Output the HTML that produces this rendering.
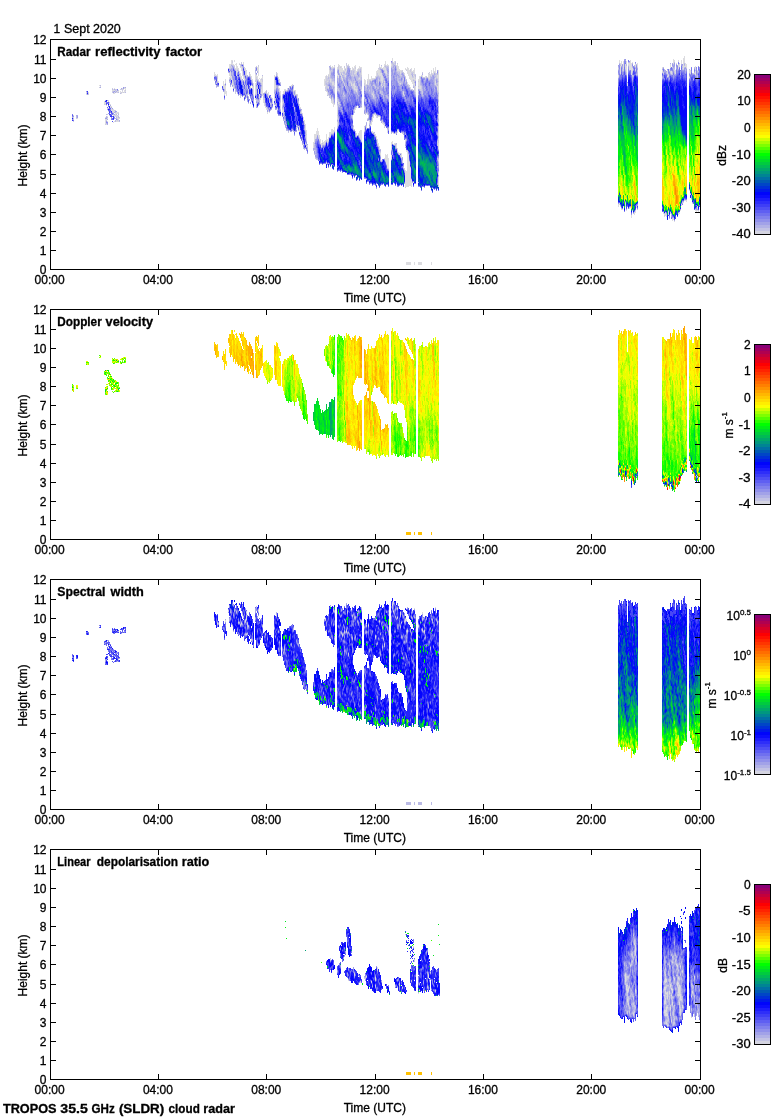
<!DOCTYPE html>
<html><head><meta charset="utf-8"><title>TROPOS cloud radar</title>
<style>
html,body{margin:0;padding:0;background:#fff;}
svg{display:block;font-family:"Liberation Sans", sans-serif;fill:#000;will-change:transform;}
text{stroke:#000;stroke-width:.3px;stroke-linejoin:round;}
</style></head><body>
<svg width="780" height="1120" viewBox="0 0 780 1120" shape-rendering="crispEdges">

<rect width="780" height="1120" fill="#fff"/>
<text x="53.4" y="32.8" text-anchor="start" font-size="12">1</text>
<text x="64.0" y="32.8" text-anchor="start" textLength="25.7" lengthAdjust="spacingAndGlyphs" font-size="12">Sept</text>
<text x="93.0" y="32.8" text-anchor="start" textLength="27.8" lengthAdjust="spacingAndGlyphs" font-size="12">2020</text>
<text x="2.9" y="1112.6" text-anchor="start" font-weight="bold" textLength="53.6" lengthAdjust="spacingAndGlyphs" font-size="12">TROPOS</text>
<text x="60.3" y="1112.6" text-anchor="start" font-weight="bold" textLength="27.5" lengthAdjust="spacingAndGlyphs" font-size="12">35.5</text>
<text x="91.6" y="1112.6" text-anchor="start" font-weight="bold" textLength="23.2" lengthAdjust="spacingAndGlyphs" font-size="12">GHz</text>
<text x="118.9" y="1112.6" text-anchor="start" font-weight="bold" textLength="45.3" lengthAdjust="spacingAndGlyphs" font-size="12">(SLDR)</text>
<text x="168.6" y="1112.6" text-anchor="start" font-weight="bold" textLength="31.2" lengthAdjust="spacingAndGlyphs" font-size="12">cloud</text>
<text x="203.3" y="1112.6" text-anchor="start" font-weight="bold" textLength="31.5" lengthAdjust="spacingAndGlyphs" font-size="12">radar</text>
<g id="p0">
<g transform="translate(.5 0)" fill="none" stroke-width="1">
<path stroke="#dcdce0" d="M73 117v1M77 118v1M86 92v1M86 94v1M88 92v1M99 85v1M100 86v1M104 101v3M105 102v3M105 117v1M105 119v5M106 105v1M106 119v1M106 124v1M107 108v1M107 116v1M107 118v1M107 121v1M108 100v2M108 111v1M109 103v2M110 104v1M110 106v1M111 106v1M111 108v3M112 90v1M112 110v2M113 89v2M113 93v1M113 109v4M113 115v1M113 122v1M114 88v1M114 90v1M114 92v2M114 111v1M114 115v2M114 121v1M115 113v2M115 116v1M116 90v1M116 92v1M116 112v2M116 115v1M116 120v2M117 91v1M117 112v2M117 116v3M117 121v1M118 91v1M118 112v1M118 115v1M118 118v4M119 118v1M120 91v2M121 93v1M122 88v1M122 91v2M123 89v1M124 88v1M124 90v3M125 88v2M125 91v1M214 72v3M215 74v2M216 75v1M217 74v2M217 79v2M218 81v2M223 81v6M224 84v5M224 92v3M225 79v4M225 86v8M226 91v5M229 64v4M229 73v3M229 77v2M230 64v2M230 72v6M231 60v4M231 76v4M232 60v1M232 63v2M232 80v5M233 64v1M233 86v2M234 60v2M234 65v1M235 64v1M235 68v1M236 63v13M237 66v3M237 71v1M238 68v2M239 63v1M239 71v2M240 67v1M240 73v4M241 67v4M241 76v4M242 71v5M243 62v2M243 76v3M244 68v1M244 78v4M244 96v1M245 68v3M246 71v4M248 93v2M249 95v1M250 74v2M250 86v2M251 76v4M251 85v1M252 79v2M252 86v3M253 83v3M253 87v8M255 74v6M255 83v11M255 98v2M256 75v2M256 103v1M257 67v4M257 76v3M258 67v9M258 79v1M258 89v5M259 78v1M259 81v1M259 94v4M260 79v3M260 98v2M261 78v1M261 80v3M261 89v5M262 76v3M262 82v14M263 100v3M264 92v1M264 100v2M264 103v3M265 91v1M265 106v2M266 107v3M267 93v1M267 112v2M268 92v6M268 111v1M269 112v1M271 97v1M272 98v4M274 75v14M274 94v7M275 85v4M277 73v3M277 109v1M278 77v2M278 86v2M279 79v3M279 88v4M280 91v4M280 103v6M282 102v3M282 110v2M283 91v3M283 110v2M284 89v4M285 89v1M286 90v1M287 88v2M291 85v2M292 84v1M293 89v2M294 90v1M295 90v4M297 94v1M297 96v2M299 105v3M299 128v4M300 107v1M301 111v2M302 113v1M303 117v4M303 144v1M304 120v3M305 124v6M306 130v4M306 135v5M306 146v1M307 145v1M313 142v6M314 134v9M315 134v5M316 131v6M317 128v7M318 131v6M319 135v5M320 139v5M321 143v4M322 140v3M323 142v2M324 79v7M324 141v3M325 76v5M325 85v2M325 89v1M325 140v2M326 75v1M326 91v1M326 134v6M326 163v1M327 76v2M327 81v1M327 92v3M327 139v4M328 74v1M328 87v1M328 95v1M328 137v4M329 70v7M329 132v5M330 65v1M330 79v3M330 98v1M330 132v4M331 67v1M331 101v2M331 129v4M332 66v2M332 82v3M332 98v6M332 129v4M333 67v1M333 82v3M333 103v4M333 130v3M334 66v1M334 85v1M334 104v1M334 127v4M337 67v2M337 74v2M337 106v9M337 116v3M337 122v4M338 64v2M338 75v3M338 102v2M339 65v8M340 66v1M340 68v4M340 73v2M341 66v6M341 75v3M342 68v4M342 73v2M342 78v3M343 70v1M344 68v3M345 68v1M345 71v2M345 75v2M346 66v5M347 65v1M348 64v1M350 69v1M351 83v3M352 67v3M353 68v1M353 84v2M353 125v1M353 127v2M354 66v4M354 73v1M354 83v7M354 110v1M355 65v2M355 69v5M355 86v1M355 89v1M355 108v2M356 71v2M356 89v3M356 133v3M356 175v2M357 69v2M358 68v1M358 133v2M359 66v3M359 78v1M359 131v6M360 67v1M360 130v9M361 67v8M361 90v1M361 107v1M361 130v11M364 79v4M364 108v1M364 127v4M365 80v5M366 84v1M366 113v1M366 126v3M367 79v2M367 114v1M367 118v1M368 74v11M368 115v2M369 79v1M369 122v1M370 79v1M370 124v2M371 76v5M371 121v4M371 131v1M372 78v1M372 94v1M372 117v5M372 131v2M373 78v1M373 95v2M373 115v3M373 132v1M374 78v1M374 114v1M374 133v1M375 76v2M375 114v2M375 134v2M376 71v5M376 115v3M376 136v3M376 184v1M377 70v3M377 139v5M378 69v6M378 116v1M378 143v3M379 64v3M379 70v6M379 116v1M379 146v3M380 67v1M380 73v3M380 153v2M381 66v3M381 73v8M381 84v2M381 160v1M382 76v7M382 86v1M382 122v2M383 67v3M383 123v2M384 64v2M384 67v3M384 81v1M384 83v1M384 124v3M384 158v1M385 61v4M385 68v5M385 126v1M385 154v7M386 65v1M386 71v3M386 155v9M387 64v2M387 130v3M387 154v14M388 65v1M388 158v10M391 64v2M391 142v3M391 146v3M391 155v4M392 58v3M392 141v3M393 62v1M393 133v1M393 144v1M394 61v2M394 143v2M395 133v1M395 143v1M396 65v1M396 145v3M397 64v7M397 130v3M397 148v2M398 66v5M398 130v1M398 152v1M399 69v2M399 153v2M400 70v4M400 83v1M401 70v1M401 153v5M403 92v3M404 73v2M405 68v2M405 76v1M405 140v1M405 146v1M405 170v17M406 69v1M406 150v2M406 171v16M406 262v3M407 67v7M407 82v2M407 151v36M407 262v3M408 68v8M408 84v1M408 155v32M408 262v3M409 70v9M409 86v1M409 162v24M409 262v3M410 72v8M410 87v2M410 168v18M410 262v3M411 68v4M411 75v7M411 180v7M412 71v1M412 78v6M413 70v2M413 73v1M413 75v1M413 78v1M413 81v4M413 182v1M414 68v6M414 76v4M414 83v3M414 262v3M415 79v1M415 86v6M418 79v2M418 82v4M418 87v2M418 262v3M419 76v13M419 262v3M420 76v1M420 86v3M420 262v3M421 75v1M421 262v3M422 75v2M425 76v2M428 74v4M429 73v1M429 75v4M430 74v1M431 70v3M431 75v1M431 262v3M432 73v1M432 188v1M433 68v6M434 71v1M435 67v6M435 78v1M435 81v4M437 75v3M437 86v4M438 70v11M438 82v10M438 97v2M438 102v4M438 114v4M438 122v1M438 127v9M438 138v2M438 143v6M438 160v1M438 173v2M438 177v8M438 186v1M618 75v2M618 204v3M619 60v3M619 203v2M620 63v1M620 66v8M620 206v1M621 61v5M621 209v1M622 209v1M623 61v8M623 206v1M625 64v5M625 203v4M626 61v3M626 66v6M626 210v1M627 83v3M628 63v2M629 63v7M629 208v1M630 60v10M630 207v1M631 63v12M631 215v3M632 62v1M632 68v3M634 212v3M635 64v3M635 69v1M635 211v2M636 206v2M637 63v4M662 67v1M662 70v2M663 212v2M664 214v1M664 216v1M665 213v3M666 215v2M667 70v4M667 76v1M668 75v1M668 211v4M669 69v2M670 64v4M670 212v2M671 71v3M672 219v2M673 59v5M673 218v2M674 60v2M674 70v1M674 221v1M675 70v4M676 63v1M678 60v2M678 65v4M678 213v2M679 64v3M679 212v2M680 210v1M681 60v4M681 204v2M683 58v11M683 202v1M684 56v7M684 66v1M684 200v1M685 63v4M685 200v1M686 64v4M686 200v2M689 70v3M689 77v1M689 190v1M690 70v4M690 194v1M691 199v1M692 203v1M695 66v4M695 71v4M695 210v1M696 210v3M697 70v1M697 206v3M697 210v1M698 211v1"/>
<path stroke="#cbcbe2" d="M73 115v1M73 119v1M73 121v1M76 118v1M86 93v1M88 93v2M99 87v1M104 104v1M105 124v1M106 120v1M107 114v1M109 102v1M109 115v1M110 107v1M112 88v1M112 91v2M112 109v1M114 110v1M115 89v1M115 91v1M115 110v1M115 115v1M116 89v1M116 116v1M117 92v1M117 115v1M117 120v1M118 90v1M118 113v1M119 117v1M120 89v1M121 89v1M121 92v1M122 89v2M123 92v1M124 87v1M125 90v1M214 75v1M214 80v1M215 80v1M216 83v1M216 87v1M217 76v3M217 81v1M223 87v1M224 91v1M229 68v1M229 82v1M230 66v3M230 71v1M231 64v1M231 66v2M232 61v2M233 65v1M233 84v2M234 66v3M234 88v1M235 69v1M235 89v1M235 92v2M237 69v1M238 70v1M239 64v1M239 73v1M240 64v3M240 77v1M240 96v2M241 62v2M241 66v1M242 68v3M243 64v1M244 67v1M244 69v1M244 77v1M245 71v4M245 85v1M246 70v1M246 75v1M246 97v1M247 87v2M248 89v4M248 96v1M248 103v1M249 73v3M250 76v1M250 98v1M252 81v1M253 86v1M255 67v3M255 73v1M255 80v2M256 66v1M256 77v2M256 80v3M256 91v4M256 100v1M256 104v1M257 79v1M257 87v2M258 65v2M258 80v1M259 99v2M259 102v1M259 104v1M260 82v1M261 79v1M261 83v2M261 87v2M261 97v1M262 79v3M263 95v1M263 98v2M264 98v2M264 102v1M265 92v1M266 90v1M267 109v1M268 110v1M269 98v1M270 103v1M272 102v2M272 107v1M274 89v1M275 76v1M275 83v2M275 89v1M275 102v1M275 105v1M276 72v2M277 108v1M278 79v1M278 88v1M279 82v1M280 82v1M280 95v1M280 102v1M282 94v1M282 100v2M282 105v1M282 109v1M282 112v1M283 102v1M283 109v1M283 112v2M283 116v1M284 120v1M284 124v1M285 90v1M286 126v1M288 132v1M289 87v2M289 130v1M292 85v1M293 88v1M293 91v1M294 95v1M295 94v1M296 94v1M296 125v1M296 127v1M296 129v1M297 95v1M297 98v1M297 127v1M298 126v1M299 104v1M299 127v1M300 108v1M301 110v1M301 136v1M302 114v1M304 123v2M304 149v1M305 130v1M305 143v1M306 134v1M306 140v1M307 146v1M313 150v1M314 144v1M314 150v1M314 154v1M315 158v1M316 137v1M316 159v1M318 137v1M319 140v1M322 144v1M323 144v1M324 144v1M325 81v4M325 87v2M325 90v1M325 142v1M326 76v7M326 85v6M326 140v1M327 78v3M327 82v2M327 86v2M327 91v1M328 75v2M328 79v3M328 86v1M328 88v1M329 68v2M329 77v3M329 96v1M330 66v1M330 71v4M330 78v1M330 82v1M330 95v3M330 136v1M331 68v1M331 70v1M331 79v4M331 100v1M331 133v1M332 68v1M332 81v1M332 85v1M332 97v1M332 133v1M333 81v1M333 85v1M333 100v3M334 65v1M334 67v1M334 83v2M334 86v1M334 88v4M337 69v1M337 73v1M337 88v1M337 99v3M337 105v1M337 115v1M337 119v1M337 126v2M338 66v3M338 89v2M338 101v1M338 119v1M339 102v1M339 104v1M340 67v1M340 72v1M340 75v1M341 72v1M341 78v1M342 72v1M343 71v1M343 74v1M343 81v2M343 93v2M344 66v2M344 71v1M344 74v3M344 83v3M344 95v1M345 70v1M345 73v1M345 77v1M345 86v1M346 63v3M346 71v1M348 65v1M349 66v2M349 82v1M350 68v1M350 70v3M350 81v2M351 70v1M351 75v1M351 82v1M352 70v6M352 84v4M352 115v3M353 69v2M353 75v2M353 83v1M353 86v3M353 129v1M354 70v3M354 74v1M354 81v2M354 90v1M354 109v1M354 111v1M354 129v1M355 67v2M355 74v2M355 87v2M355 90v1M355 132v1M356 73v3M356 87v2M356 106v2M357 71v1M357 89v1M358 69v2M358 78v2M359 69v5M359 77v1M359 79v1M360 68v1M360 73v7M360 107v1M361 75v2M361 89v1M364 83v3M364 107v1M364 109v1M364 126v1M365 85v2M365 113v2M365 125v1M366 86v2M367 81v4M367 113v1M368 117v1M368 120v1M369 80v3M369 90v1M369 120v2M369 123v1M370 80v1M372 79v1M372 93v1M373 79v1M373 85v1M373 91v4M373 97v1M373 114v1M374 85v1M374 134v1M375 78v1M375 86v2M376 76v1M377 73v3M377 116v2M378 68v1M378 75v1M378 79v4M378 146v1M379 67v3M379 76v1M379 149v1M380 70v3M380 76v5M380 91v2M380 152v1M380 155v1M381 81v3M382 68v1M382 75v1M382 94v1M383 78v2M383 85v1M384 66v1M384 70v3M384 82v1M384 84v4M384 127v1M385 65v1M385 67v1M385 73v1M386 66v1M386 70v1M386 74v2M387 129v1M388 66v1M388 168v1M391 63v1M391 66v1M391 145v1M391 149v1M392 61v1M392 64v3M392 132v1M393 63v1M394 63v2M395 61v1M395 64v1M396 66v2M396 144v1M397 63v1M397 71v1M397 150v2M398 71v2M398 81v2M398 153v1M399 71v1M399 83v1M400 74v2M400 84v1M400 153v1M400 155v1M401 71v2M401 75v1M402 70v2M402 133v1M402 161v1M403 72v1M403 78v2M403 91v1M403 133v1M403 167v1M404 95v1M404 168v2M405 77v3M405 81v1M405 139v1M405 141v1M405 187v1M406 70v1M406 79v1M407 84v1M408 85v1M408 154v1M409 85v1M410 69v3M410 89v1M411 72v2M411 89v1M412 72v1M412 77v1M412 89v1M413 72v1M413 74v1M413 76v2M413 79v1M413 85v1M414 74v2M414 80v2M414 86v5M415 74v1M415 77v2M415 80v1M415 92v2M418 81v1M418 86v1M420 79v1M420 85v1M420 89v2M421 86v5M422 72v1M422 77v1M422 91v3M423 77v1M424 77v1M425 78v1M426 76v1M427 77v1M428 73v1M428 78v1M429 72v1M429 74v1M429 79v1M430 75v1M431 73v2M431 76v1M432 74v1M433 74v1M434 72v1M435 73v1M435 75v1M435 77v1M435 79v2M436 73v5M436 85v1M437 78v1M437 83v1M437 90v1M437 141v5M438 81v1M438 92v1M438 94v3M438 99v1M438 118v1M438 121v1M438 123v1M438 126v1M438 136v2M438 140v3M438 159v1M438 161v1M438 172v1M438 185v1M618 68v1M618 77v1M620 64v1M623 69v2M625 69v1M626 72v2M628 65v1M629 207v1M632 71v1M632 75v1M635 70v1M635 210v1M637 67v1M637 70v2M637 209v1M662 68v1M662 72v1M663 72v2M664 215v1M665 212v1M666 214v1M668 74v1M668 76v1M670 71v2M672 67v1M672 218v1M674 69v1M674 71v2M682 66v1M682 68v1M682 202v1M683 69v1M693 73v1M694 73v1M695 209v1M697 76v1M698 210v1"/>
<path stroke="#bbbbe5" d="M73 118v1M76 116v2M100 85v1M105 100v1M106 114v1M106 116v1M106 123v1M107 117v1M112 89v1M112 112v1M113 91v1M113 114v1M115 90v1M115 112v1M115 118v1M115 120v2M116 114v1M116 117v2M117 119v1M118 92v1M118 114v1M118 116v2M119 121v1M120 93v1M125 92v1M214 76v1M215 84v1M216 85v1M217 86v1M218 86v1M223 88v1M224 89v2M224 99v1M225 83v1M225 85v1M228 68v1M228 72v1M229 70v1M229 79v1M229 81v1M230 78v1M230 82v1M230 86v1M231 84v1M232 65v1M232 72v3M232 79v1M232 86v1M233 66v1M233 82v2M234 86v2M235 70v1M235 90v2M236 91v1M237 70v1M237 72v1M237 76v1M237 93v1M238 95v1M239 75v1M239 93v1M240 78v1M240 95v1M241 80v1M241 95v1M242 64v1M242 67v1M242 80v1M242 83v1M243 65v1M243 75v1M243 80v1M243 85v1M244 70v1M244 76v1M244 82v2M244 95v1M246 76v1M246 95v2M247 75v1M247 86v1M247 94v1M247 101v1M248 76v1M249 72v1M249 85v1M249 100v1M250 88v1M252 82v1M253 95v1M253 101v1M255 71v2M255 94v1M256 79v1M256 83v2M256 87v4M256 99v1M256 105v2M257 85v2M257 100v2M257 107v1M258 81v1M258 101v1M259 98v1M259 101v1M261 86v1M262 75v1M263 93v1M263 96v2M265 105v1M266 91v3M267 108v1M269 99v3M270 104v1M270 110v1M271 109v1M274 90v2M274 93v1M274 104v1M275 82v1M275 90v1M275 101v1M276 74v2M276 86v2M276 109v1M279 92v1M280 83v1M280 96v6M280 109v1M282 95v1M282 99v1M282 106v1M282 108v1M283 101v1M283 108v1M283 114v1M283 120v1M284 93v1M284 119v1M285 123v1M285 127v1M286 130v1M287 90v1M287 130v1M288 131v1M289 86v1M291 87v1M292 130v1M293 86v2M293 92v2M293 131v1M294 107v2M294 135v1M296 128v1M298 101v3M298 130v1M299 135v1M300 112v1M301 113v1M302 140v1M302 144v1M303 147v2M305 131v1M305 134v1M305 136v1M305 144v1M306 144v1M307 147v2M314 143v1M314 145v3M315 150v3M315 154v1M315 157v1M316 138v1M316 158v1M317 159v1M318 138v1M322 143v1M326 83v2M326 162v1M327 84v2M327 88v1M327 95v1M328 77v2M328 82v2M328 93v2M328 141v1M329 67v1M329 80v3M329 95v1M329 97v1M329 137v1M330 70v1M330 75v3M330 83v2M331 69v1M331 71v1M331 78v1M331 83v3M331 99v1M332 69v3M332 79v2M332 86v3M333 68v1M333 78v3M333 86v1M333 89v2M333 99v1M333 133v1M334 81v2M334 87v1M334 92v1M334 103v1M334 131v1M337 70v1M337 76v2M337 86v2M337 89v2M337 97v2M337 103v2M337 121v1M338 69v1M338 78v4M338 88v1M338 99v2M338 104v2M338 118v1M338 120v2M338 123v2M339 73v1M339 90v2M339 103v1M339 106v1M340 104v1M341 73v1M341 79v1M342 76v2M342 86v2M343 72v2M343 75v2M343 92v1M343 96v1M344 72v2M344 77v2M344 96v1M345 69v1M345 74v1M345 78v2M345 87v1M346 72v1M346 75v1M346 85v1M347 66v2M347 91v1M348 66v1M348 79v2M349 80v2M349 83v3M350 73v2M350 80v1M350 83v1M351 71v4M351 76v1M351 81v1M351 115v1M352 76v8M352 88v1M352 118v1M353 71v4M353 77v3M353 81v2M353 89v1M353 114v1M353 126v1M354 75v1M354 79v2M354 91v2M354 112v1M355 76v1M355 81v1M355 85v1M355 91v1M355 107v1M355 131v1M356 76v4M356 86v1M356 92v1M356 136v1M357 75v6M357 86v3M357 90v5M357 135v1M358 71v1M358 77v1M358 80v3M358 95v1M359 74v3M359 80v2M359 84v2M359 137v1M360 69v2M360 72v1M360 80v1M360 86v3M360 139v1M361 77v3M361 87v2M361 99v2M361 105v1M361 141v1M364 97v2M364 106v1M364 131v1M365 87v4M365 99v3M365 111v2M366 85v1M366 88v2M366 122v1M366 125v1M367 112v1M367 119v1M368 85v1M368 88v1M369 83v4M369 89v1M369 91v1M369 124v1M369 126v1M370 84v2M370 123v1M371 81v1M371 86v9M372 92v1M372 95v1M373 82v1M373 84v1M373 98v1M374 84v1M374 86v1M374 94v5M374 132v1M375 88v1M375 97v1M375 113v1M375 136v1M376 82v1M376 89v1M376 139v1M377 76v1M377 87v2M377 144v1M378 76v3M378 83v2M378 87v2M379 77v1M379 80v1M379 152v1M380 68v1M380 81v1M380 90v1M380 93v1M380 117v1M380 149v1M380 151v1M381 65v1M381 72v1M381 86v2M381 91v4M381 121v1M381 161v1M382 83v2M382 87v1M382 91v3M382 120v2M383 77v1M383 80v2M383 83v2M383 95v3M384 80v1M384 88v1M385 66v1M385 74v1M385 86v1M385 161v1M386 67v3M386 76v2M386 95v2M386 164v1M387 66v2M387 73v2M387 76v2M387 96v2M387 168v1M388 67v2M388 74v1M388 76v1M388 128v1M391 67v1M391 133v1M392 62v2M392 67v2M393 64v2M393 68v1M393 71v2M394 66v2M395 62v2M395 65v1M395 77v1M395 144v2M396 68v1M396 70v2M396 143v1M397 72v2M397 76v5M398 73v2M398 78v3M399 72v4M399 78v1M399 81v2M399 84v2M400 76v3M400 81v2M400 156v1M401 73v1M401 76v1M401 82v2M401 132v1M402 72v1M402 80v4M402 160v1M402 162v1M403 73v1M403 80v1M403 95v1M403 134v1M404 75v1M404 170v1M405 80v1M405 82v1M405 142v2M406 80v1M408 86v1M409 87v1M409 161v1M410 167v1M411 74v1M411 179v1M412 73v2M412 76v1M412 90v1M413 80v1M413 86v1M414 82v1M414 91v1M415 75v2M415 94v1M418 91v1M418 94v1M419 89v1M420 77v2M420 80v5M421 76v1M421 85v1M421 91v3M422 73v1M422 89v2M422 94v2M424 80v1M424 88v1M425 79v1M426 77v1M428 79v1M430 76v3M434 75v2M434 78v7M434 88v1M435 74v1M435 76v1M435 85v1M436 78v1M436 83v2M436 86v1M437 74v1M437 79v2M437 82v1M437 84v2M437 91v2M437 158v1M438 93v1M438 100v2M438 108v3M438 119v2M438 149v1M438 158v1M438 162v1M438 176v1M618 67v1M618 69v1M619 63v1M620 65v1M621 208v1M622 69v2M625 70v1M625 202v1M626 64v2M626 74v1M628 62v1M629 62v1M632 63v1M632 67v1M632 72v1M632 76v1M632 210v1M633 213v1M634 65v1M635 67v1M636 64v1M636 74v1M637 72v3M663 67v1M664 69v1M666 72v2M667 74v2M669 218v1M670 73v1M671 74v1M671 214v1M672 66v1M672 72v3M673 64v1M673 68v2M674 62v1M674 67v2M674 73v1M678 64v1M679 63v1M682 67v1M682 69v1M684 63v1M684 65v1M684 67v1M685 69v2M686 68v1M689 69v1M689 76v1M692 73v1M693 79v1M694 67v1M695 70v1M695 75v1M697 71v2M697 75v1M697 77v1M698 71v1"/>
<path stroke="#aaaae7" d="M72 117v1M76 115v1M77 115v1M100 87v1M106 117v1M107 109v1M107 119v1M107 124v1M108 108v1M110 105v1M111 107v1M114 89v1M114 112v1M114 114v1M114 118v1M115 92v1M116 91v1M116 111v1M119 120v1M121 88v1M125 87v1M216 76v1M216 82v1M216 86v1M217 82v1M223 91v1M224 95v1M229 69v1M229 72v1M230 69v1M230 80v1M230 85v1M231 65v1M231 68v1M231 73v3M232 67v5M232 75v1M232 78v1M233 75v2M233 81v1M233 88v1M233 91v1M234 69v1M234 85v1M237 77v1M239 76v1M239 94v1M241 64v1M241 81v1M242 66v1M242 79v1M242 81v2M242 84v1M243 66v1M244 75v1M244 84v1M244 89v1M244 100v1M245 75v1M245 79v1M245 86v3M245 92v2M245 98v1M246 77v1M247 76v1M247 85v1M247 95v1M247 100v1M248 97v2M249 94v1M250 77v1M250 102v2M251 101v1M252 104v1M253 100v1M253 107v1M255 70v1M256 67v1M256 74v1M256 86v1M256 101v1M256 107v1M257 71v2M257 80v1M257 99v1M257 102v1M258 100v1M258 105v1M259 103v1M261 85v1M261 96v1M263 94v1M265 103v2M267 94v2M268 109v1M269 102v1M269 108v1M270 96v1M270 106v1M271 98v1M271 103v2M274 92v1M274 103v1M275 80v2M275 91v2M275 98v3M275 104v1M275 109v1M276 85v1M276 104v2M277 76v1M277 86v2M277 113v1M278 89v2M278 115v1M279 93v2M279 115v1M280 84v1M280 110v1M282 96v3M282 107v1M282 116v1M283 103v1M283 107v1M283 115v1M283 119v1M284 115v1M284 117v2M284 123v1M285 122v1M285 126v1M286 91v1M286 124v1M286 129v1M291 131v1M292 129v1M293 85v1M293 94v1M294 91v1M294 94v1M294 109v1M294 131v1M295 131v1M296 95v1M296 131v1M297 99v1M297 126v1M299 108v1M300 113v1M301 109v1M302 115v1M302 139v1M302 143v1M304 128v2M304 148v1M305 132v2M305 135v1M305 137v1M305 142v1M305 148v1M306 141v1M306 145v1M306 150v1M307 144v1M307 149v1M307 153v1M313 148v2M314 148v2M314 153v1M315 139v2M315 146v4M315 153v1M316 154v1M317 135v1M317 158v1M319 141v1M321 147v1M322 145v1M324 145v1M325 143v1M326 141v1M327 90v1M327 143v1M328 84v1M328 89v1M328 92v1M328 163v1M329 66v1M329 83v1M329 91v4M330 67v1M330 69v1M330 85v1M331 72v1M331 75v3M331 86v1M331 94v1M331 98v1M332 72v1M332 76v3M332 96v1M333 76v2M333 87v2M333 91v1M333 98v1M334 68v1M334 74v1M334 78v3M334 93v1M334 102v1M337 71v2M337 78v3M337 83v3M337 102v1M337 120v1M338 82v1M338 86v2M338 91v1M338 106v1M338 117v1M338 122v1M338 125v1M339 74v2M339 88v2M339 92v1M339 105v1M340 77v3M340 81v2M340 105v1M341 74v1M341 80v1M341 84v10M341 107v1M341 110v1M342 75v1M342 81v5M342 88v2M342 95v2M342 112v1M343 77v4M343 83v1M343 86v1M343 91v1M343 95v1M343 97v2M343 102v1M344 79v1M344 82v1M344 92v3M344 97v2M344 100v2M345 80v6M345 88v1M345 95v2M346 73v2M346 76v2M346 83v2M346 86v4M347 68v2M347 73v2M347 86v5M347 92v2M347 99v1M348 67v1M348 77v2M348 81v5M348 89v3M349 68v1M349 76v1M349 78v2M349 86v1M349 92v2M350 75v1M350 79v1M350 84v3M350 89v1M351 77v4M351 86v2M351 116v1M353 80v1M353 90v1M353 110v1M353 113v1M354 76v1M354 78v1M354 93v1M354 108v1M355 77v1M355 82v3M355 92v2M355 133v1M356 80v1M356 83v3M356 93v1M356 95v4M357 72v1M357 105v1M358 72v3M358 76v1M358 83v3M358 96v1M358 106v1M358 135v1M359 82v2M359 86v1M360 71v1M360 81v5M360 106v1M361 80v1M361 86v1M361 91v3M361 98v1M361 101v4M361 106v1M364 110v1M364 113v1M365 107v4M366 90v2M366 123v2M366 179v1M367 85v2M367 89v2M367 111v1M367 120v1M368 86v2M368 89v4M368 114v1M368 118v1M369 87v2M369 92v2M369 100v2M369 127v1M370 81v3M370 86v8M370 122v1M371 82v1M371 95v2M371 120v1M372 80v1M372 85v1M372 89v3M372 96v3M372 116v1M373 83v1M373 90v1M374 79v1M374 83v1M374 87v2M374 99v1M374 113v1M375 85v1M375 96v1M375 98v3M376 77v1M376 80v2M376 83v1M376 86v2M376 90v4M376 183v1M376 188v1M377 77v10M377 89v1M377 91v1M377 94v1M377 145v1M378 85v2M378 95v3M378 115v1M379 78v2M379 86v1M379 90v1M379 115v1M379 151v1M379 153v1M380 69v1M380 82v1M380 85v5M380 150v1M380 156v1M380 159v2M381 71v1M381 88v3M381 122v1M382 69v1M382 73v2M382 85v1M382 88v1M383 70v1M383 76v1M383 82v1M383 94v1M383 98v1M383 122v1M384 78v2M384 89v2M384 123v1M385 75v1M385 83v3M385 87v1M385 89v2M385 95v1M386 97v1M387 68v2M387 71v2M387 75v1M387 78v3M387 95v1M387 98v1M387 128v1M388 69v2M388 72v2M388 75v1M388 77v3M388 97v2M388 129v1M391 62v1M391 72v3M391 76v4M391 132v1M391 159v1M392 69v1M392 75v5M392 82v1M392 84v1M392 152v3M393 66v2M393 69v2M393 73v2M393 132v1M394 65v1M394 68v4M394 75v1M394 133v1M395 75v2M395 78v2M395 132v1M395 146v2M396 69v1M396 72v3M396 77v1M396 133v1M396 148v1M397 75v1M397 81v1M397 152v1M398 76v2M398 83v2M398 129v1M399 76v2M399 79v2M400 79v2M400 85v4M401 74v1M401 77v1M401 81v1M401 84v1M401 86v1M401 89v2M401 158v1M402 75v5M402 84v2M402 91v3M402 132v1M402 157v1M403 74v1M403 76v2M403 81v1M403 96v1M403 132v1M403 166v1M403 168v1M404 76v1M404 94v1M404 96v1M405 83v1M405 134v1M405 144v1M405 147v1M406 81v1M406 84v2M407 85v3M407 150v1M408 87v1M412 75v1M412 182v1M413 87v1M413 90v1M414 92v2M415 95v1M418 89v1M418 92v2M419 90v1M421 83v2M421 94v1M422 74v1M422 86v3M422 96v1M423 95v1M424 81v2M424 87v1M424 89v2M425 80v1M425 89v1M428 80v1M429 80v1M430 79v1M431 77v2M431 84v1M432 75v5M433 75v1M433 79v3M434 73v2M434 77v1M434 85v3M434 89v3M436 79v1M437 70v1M437 73v1M437 81v1M437 93v1M437 114v1M437 133v2M437 140v1M437 159v1M437 166v1M438 106v2M438 111v1M438 113v1M438 124v1M438 163v1M438 166v1M438 171v1M618 66v1M618 74v1M620 74v1M620 205v1M621 66v1M622 64v1M622 66v3M622 71v1M623 71v1M624 59v1M625 60v1M625 71v1M626 209v1M628 66v1M629 70v1M632 66v1M632 77v3M633 69v1M633 75v2M634 66v1M635 63v1M635 68v1M637 68v2M637 205v1M662 69v1M662 77v1M663 74v1M664 70v2M664 213v1M665 70v2M666 71v1M666 213v1M667 77v1M669 71v1M669 78v1M670 63v1M671 215v2M672 63v1M672 71v1M673 65v1M673 67v1M673 70v1M673 217v1M674 66v1M674 74v1M674 220v1M675 74v1M676 64v1M676 67v2M677 65v1M678 69v1M680 74v1M681 64v1M682 65v1M682 201v1M682 203v1M683 201v1M684 64v1M684 199v1M685 67v1M685 71v2M689 73v1M689 78v1M691 196v3M692 202v1M694 68v1M694 72v1M696 75v2M696 209v1M697 73v2M697 209v1"/>
<path stroke="#9a9ae9" d="M73 116v1M77 116v2M86 91v1M87 94v1M105 118v1M106 118v1M106 121v1M107 100v1M107 123v1M108 113v1M112 108v1M113 92v1M113 113v1M114 91v1M115 111v1M117 90v1M123 87v2M214 79v1M215 83v1M222 89v1M229 80v1M230 70v1M230 79v1M230 81v1M231 69v2M231 72v1M232 66v1M232 76v2M232 85v1M233 67v1M233 71v4M233 77v2M233 80v1M234 76v6M235 80v2M235 88v1M236 90v1M237 73v1M237 78v2M237 92v1M238 71v1M239 74v1M239 92v1M240 79v1M240 94v1M241 65v1M242 96v1M243 67v1M243 73v2M243 86v3M243 95v1M244 90v2M245 90v2M245 94v1M246 78v1M246 81v4M246 86v2M246 89v1M246 94v1M249 76v1M250 78v1M251 80v2M251 96v2M252 83v1M252 89v1M253 96v1M253 99v1M253 102v1M256 70v1M256 95v3M256 102v1M259 82v1M260 83v2M260 87v2M260 92v2M260 95v1M261 94v2M264 93v1M264 97v1M266 94v1M267 107v1M267 110v2M269 95v1M269 111v1M270 97v1M270 102v1M270 105v1M271 105v2M275 93v1M275 108v1M276 88v1M276 103v1M277 85v1M277 88v4M277 107v1M277 110v1M278 80v2M278 91v1M279 85v1M279 95v1M279 102v1M279 105v1M280 111v1M283 100v1M283 104v1M284 112v1M284 116v1M285 120v2M285 124v2M286 125v1M287 129v1M288 89v2M288 130v1M289 89v1M290 86v1M290 131v1M293 130v1M294 92v2M294 96v1M296 126v1M297 100v1M298 98v1M298 100v1M298 104v1M299 126v1M300 109v1M300 111v1M300 138v1M301 135v1M301 140v1M303 143v1M303 145v2M304 126v2M306 143v1M306 147v1M314 151v2M315 141v1M315 144v2M315 155v2M316 139v2M316 148v6M316 155v3M317 136v4M319 142v1M319 160v1M320 144v1M322 146v1M323 145v1M323 148v1M325 144v1M327 89v1M327 144v1M327 164v1M328 85v1M328 90v1M328 167v1M329 84v1M329 86v1M329 89v2M330 68v1M330 87v2M330 91v1M330 137v1M331 73v2M331 87v2M331 97v1M331 134v1M332 73v3M332 95v1M332 134v1M332 164v1M333 69v3M333 75v1M333 92v1M333 97v1M333 134v1M334 69v5M334 76v2M334 99v3M337 81v2M337 91v1M337 95v2M337 128v1M338 70v5M338 83v1M338 92v1M338 98v1M338 107v3M338 115v2M339 76v7M339 93v1M339 100v2M339 107v1M340 76v1M340 80v1M340 83v3M340 87v10M340 102v1M340 107v3M341 81v1M341 83v1M341 94v1M341 96v3M341 108v2M341 111v1M341 170v1M342 90v5M342 97v3M342 110v2M342 113v1M342 172v1M343 84v1M343 87v1M343 89v2M343 99v3M343 103v1M344 80v2M344 91v1M344 99v1M344 104v2M345 94v1M345 97v2M346 78v5M346 90v1M346 94v4M347 70v3M347 75v6M347 94v5M347 100v1M348 68v5M348 74v1M348 76v1M348 87v2M348 92v1M348 95v1M349 69v1M349 72v4M349 77v1M349 87v2M349 91v1M349 94v1M349 97v2M350 76v3M350 87v2M350 90v2M350 95v1M350 99v2M350 174v1M351 88v1M351 94v1M351 117v1M351 175v1M352 89v1M352 119v1M352 178v1M353 91v2M353 111v2M354 77v1M354 107v1M354 130v1M355 78v1M355 80v1M355 94v2M355 106v1M355 134v2M356 81v1M356 94v1M356 99v1M357 73v2M357 81v2M357 95v4M358 75v1M358 89v6M358 97v4M358 107v1M359 87v2M359 91v1M359 95v1M360 89v2M360 104v2M361 81v5M361 97v1M364 86v5M364 94v1M364 99v2M364 105v1M364 111v2M365 91v2M365 126v1M366 92v1M366 102v1M366 112v1M367 87v2M367 91v2M367 109v2M368 93v1M368 98v2M368 112v2M368 119v1M368 181v1M369 94v2M369 99v1M369 125v1M369 184v1M370 94v3M370 183v1M371 83v3M371 97v2M371 183v1M372 82v3M372 86v3M372 133v1M373 80v2M373 86v2M373 89v1M373 99v1M373 133v1M373 184v1M374 82v1M374 91v3M374 100v1M374 184v1M375 79v1M375 84v1M375 89v2M375 94v2M375 101v3M375 185v1M376 78v2M376 84v2M376 88v1M376 94v1M376 97v1M377 90v1M377 92v2M377 95v2M377 99v2M377 115v1M378 89v2M378 94v1M378 98v1M379 81v1M379 87v3M379 91v3M379 150v1M380 84v1M380 116v1M380 118v1M380 120v1M381 69v2M381 95v2M381 120v1M381 184v1M382 89v2M382 95v1M383 72v3M383 86v1M383 92v2M383 99v2M384 73v1M384 75v1M384 93v3M384 97v4M384 159v1M385 81v2M385 88v1M385 91v3M385 96v2M386 83v4M386 92v3M386 98v1M387 70v1M387 86v1M387 94v1M388 71v1M388 80v1M388 94v1M388 96v1M388 99v1M388 169v1M391 68v4M391 75v1M391 80v1M391 86v2M391 150v1M392 70v5M392 80v2M392 83v1M392 85v1M392 91v3M393 75v1M393 78v7M393 86v1M394 72v1M394 76v3M394 81v5M394 90v3M394 145v1M395 66v1M395 71v4M395 80v11M395 148v1M396 75v2M396 78v3M396 87v2M396 132v1M396 183v1M397 74v1M397 82v1M397 129v1M397 186v1M398 75v1M398 85v1M398 186v1M399 86v3M400 89v2M401 80v1M401 87v2M401 159v1M402 73v2M402 94v3M402 158v2M403 75v1M403 82v1M403 86v1M403 89v2M403 165v1M404 82v2M404 91v2M404 97v2M404 171v1M404 183v1M405 84v2M405 92v1M405 97v4M405 133v1M405 145v1M406 82v2M406 139v2M407 88v1M408 153v1M409 88v2M410 90v1M412 99v2M414 94v1M415 81v1M415 83v3M415 96v1M418 90v1M418 182v1M420 91v3M421 82v1M421 95v1M422 78v1M422 84v2M423 78v1M423 80v1M423 86v7M423 96v1M424 78v2M424 83v1M424 85v2M424 187v1M425 81v1M425 87v1M425 90v1M425 93v2M426 78v1M426 91v2M427 83v3M428 86v5M430 80v2M430 84v2M430 89v5M431 79v5M431 85v2M432 80v3M432 84v5M433 76v3M433 82v6M433 92v3M434 92v1M434 95v1M435 86v1M435 89v3M436 80v3M436 87v1M437 71v1M437 94v1M437 120v1M437 157v1M437 160v1M437 167v1M437 183v2M438 112v1M438 125v1M438 157v1M438 164v2M438 167v1M438 175v1M618 65v1M618 70v1M618 73v1M618 78v1M618 203v1M619 64v2M619 69v4M622 65v1M622 72v3M624 60v1M625 59v1M625 72v1M627 82v1M628 67v2M629 61v1M630 206v1M631 214v1M632 64v1M632 73v1M632 80v1M635 71v1M636 65v1M636 73v1M636 75v1M636 205v1M637 75v1M637 204v1M662 76v1M662 78v1M663 68v1M663 71v1M663 76v2M664 72v1M665 72v1M667 69v1M668 73v1M668 77v1M669 79v1M670 70v1M670 74v1M671 70v1M672 64v2M672 68v1M672 217v1M673 66v1M673 71v1M673 75v3M674 63v3M675 75v1M676 66v1M677 69v2M680 71v3M680 209v1M681 65v1M682 64v1M682 70v1M683 70v1M684 68v2M685 68v1M685 73v1M686 69v2M689 75v1M690 74v1M690 193v1M692 74v1M693 74v1M693 78v1M694 74v1M695 76v1M696 74v1M696 77v1M696 208v1M698 66v1M698 72v1M699 67v2"/>
<path stroke="#8989ec" d="M72 116v1M72 119v1M106 122v1M107 122v1M110 109v1M110 112v1M111 114v1M111 117v2M114 117v1M116 119v1M215 76v1M215 79v1M217 85v1M218 85v1M224 98v1M225 84v1M228 71v1M230 83v2M231 83v1M233 79v1M234 82v3M235 82v2M235 85v1M236 88v2M237 74v1M238 80v1M238 94v1M239 91v1M241 82v1M241 94v1M243 71v2M243 89v4M244 92v1M245 78v1M245 80v1M245 84v1M245 89v1M245 97v1M246 79v2M246 88v1M247 77v1M247 89v1M247 93v1M247 98v2M248 99v1M248 102v1M249 87v2M249 99v1M250 79v1M250 97v1M251 82v1M251 100v1M252 85v1M252 90v4M252 98v3M253 97v1M255 95v1M256 73v1M256 85v1M257 103v1M258 82v1M258 84v1M258 97v1M258 99v1M259 85v3M260 86v1M260 89v3M264 94v1M264 96v1M265 93v1M267 96v1M268 108v1M270 109v1M271 108v1M272 106v1M275 103v1M276 76v1M276 89v1M276 106v1M276 108v1M277 77v1M277 92v1M277 112v1M278 85v1M279 101v1M279 104v1M280 85v1M280 115v1M283 105v1M284 94v1M284 113v2M284 122v1M285 119v1M286 127v2M288 88v1M290 89v1M291 88v1M291 90v1M291 129v1M292 90v1M293 104v3M294 110v1M294 134v1M295 95v1M296 96v1M296 130v1M297 101v1M297 125v1M298 99v1M300 130v2M300 134v1M302 138v1M302 142v1M303 142v1M304 125v1M305 138v1M306 142v1M306 149v1M307 152v1M315 142v1M316 141v2M317 140v1M317 153v5M319 143v1M319 164v1M320 163v1M321 163v1M322 164v1M324 146v1M324 163v1M325 163v1M328 91v1M328 142v1M329 85v1M329 87v2M329 164v1M330 86v1M330 89v1M330 92v3M330 166v1M331 89v1M331 95v2M332 89v1M333 72v3M333 93v1M333 95v2M334 75v1M334 94v1M334 98v1M337 92v1M337 94v1M337 171v1M338 93v1M338 97v1M338 170v1M339 83v3M339 87v1M339 94v1M339 99v1M339 108v2M339 170v1M340 86v1M340 97v2M340 101v1M340 103v1M340 106v1M340 171v1M341 82v1M341 95v1M341 99v2M342 100v1M343 85v1M343 88v1M343 104v2M344 102v2M345 93v1M345 99v5M345 107v2M346 93v1M346 98v1M347 81v1M347 101v1M348 73v1M348 75v1M348 86v1M348 93v2M348 96v1M349 70v2M349 89v2M349 99v2M349 174v1M350 92v3M350 96v1M350 101v1M351 89v1M351 93v1M351 102v3M351 126v2M352 90v1M352 94v3M352 124v1M352 126v2M353 93v1M353 109v1M353 130v1M353 175v1M354 94v1M354 177v1M355 79v1M355 96v1M355 136v1M356 82v1M356 100v1M357 83v3M357 179v1M358 86v3M358 101v1M359 92v3M359 96v1M359 102v2M359 105v1M360 94v1M360 97v4M360 103v1M364 92v1M364 95v2M364 101v1M364 178v1M365 93v1M365 102v2M365 106v1M365 178v1M366 93v1M366 99v2M366 103v1M366 129v1M367 93v1M367 95v2M367 104v3M367 181v1M368 94v1M368 97v1M368 100v2M368 104v2M368 109v1M369 96v1M369 102v1M369 114v1M369 119v1M370 97v2M370 120v2M371 99v1M371 119v1M372 81v1M372 99v2M372 114v2M372 185v1M373 88v1M373 100v2M374 80v2M374 89v2M374 101v1M374 135v1M375 83v1M375 92v2M375 104v2M376 95v2M376 98v4M376 114v1M377 101v2M378 91v1M378 147v2M378 159v1M379 85v1M379 154v1M380 83v1M380 119v1M380 157v2M380 185v1M382 96v3M382 119v1M382 160v1M382 184v1M383 71v1M383 87v5M383 101v1M383 111v1M384 74v1M384 76v1M384 91v2M384 96v1M384 101v1M384 122v1M384 185v1M385 78v1M385 94v1M385 98v5M385 186v1M386 78v1M386 87v1M386 91v1M386 99v2M386 102v1M387 81v4M387 87v6M387 127v1M388 81v2M388 89v3M388 95v1M388 100v1M388 127v1M388 130v1M391 61v1M391 81v5M391 88v3M392 89v2M392 94v1M392 151v1M393 76v2M393 87v6M393 95v2M394 73v2M394 79v2M394 89v1M394 93v1M394 183v1M395 67v2M395 70v1M395 91v1M395 185v1M396 81v6M396 89v2M396 134v1M397 83v3M398 87v2M398 154v1M399 89v2M399 185v1M400 184v1M401 78v2M401 85v1M401 91v3M402 89v2M403 83v1M403 87v2M404 77v1M404 81v1M404 84v1M404 89v2M404 93v1M405 91v1M405 93v2M405 101v1M406 86v2M406 99v2M407 98v2M408 88v3M408 98v3M408 152v1M409 90v3M409 96v5M410 94v1M411 90v1M412 101v1M413 91v3M413 181v1M413 186v1M414 95v1M414 183v1M415 82v1M418 95v1M418 186v1M419 186v1M421 79v3M421 96v1M421 190v1M422 83v1M422 97v1M422 186v1M423 79v1M423 81v3M423 85v1M423 93v2M423 97v1M424 84v1M424 91v4M425 82v1M425 86v1M425 88v1M425 91v2M425 185v1M426 79v1M426 85v1M426 93v3M427 78v1M427 86v3M427 90v3M427 94v3M428 81v5M429 81v1M429 86v8M430 82v2M430 86v3M430 94v1M431 87v1M431 95v1M431 190v1M432 83v1M432 89v2M432 94v1M432 96v1M433 88v4M433 96v2M434 93v1M434 96v1M434 189v1M435 87v2M435 92v3M436 88v4M436 104v1M437 72v1M437 96v3M437 106v1M437 119v1M437 121v1M437 127v1M437 132v1M437 135v1M437 139v1M438 150v1M438 156v1M438 168v1M618 71v2M618 79v3M619 66v3M619 73v1M619 75v2M621 67v1M623 72v2M624 61v6M624 211v1M625 61v2M625 73v2M626 75v1M627 206v1M628 69v3M630 70v1M632 65v1M632 74v1M632 81v1M633 66v1M633 68v1M633 70v1M633 77v1M634 67v1M634 211v1M635 62v1M636 66v3M636 72v1M637 208v1M663 75v1M663 78v1M664 78v2M665 73v1M666 74v1M666 78v1M668 71v2M668 78v2M669 72v4M669 77v1M669 215v1M669 217v1M670 68v2M671 75v1M672 69v2M673 72v1M673 78v1M674 75v2M676 65v1M676 69v1M677 66v3M677 71v2M678 62v1M678 70v1M678 212v1M679 67v1M681 70v1M681 203v1M682 71v1M683 71v1M684 70v3M685 199v1M686 71v1M686 199v1M689 74v1M690 78v2M691 67v1M691 71v1M691 75v1M691 195v1M694 69v1M694 71v1M695 77v1M696 67v7M696 78v2M696 205v1M696 207v1M697 78v1M698 70v1"/>
<path stroke="#7878ee" d="M72 114v1M73 120v1M106 102v1M108 105v2M109 113v1M110 111v1M111 119v1M112 114v1M117 89v1M215 81v2M216 77v1M216 81v1M222 88v1M223 90v1M231 71v1M233 68v1M235 84v1M235 86v2M236 85v3M238 73v1M238 76v1M238 85v1M238 87v2M238 91v1M239 90v1M241 83v1M242 85v1M242 88v1M243 81v1M243 93v1M245 83v1M246 85v1M246 90v1M247 90v1M247 96v1M249 84v1M250 89v1M250 96v1M251 84v1M251 95v1M252 84v1M252 96v2M252 103v1M253 98v1M253 103v1M256 68v2M256 98v1M257 81v1M257 98v1M258 83v1M258 96v1M258 102v1M258 104v1M259 88v1M264 95v1M267 106v1M269 107v1M269 109v2M270 98v1M270 101v1M271 102v1M275 107v1M276 90v1M276 96v2M277 111v1M278 82v1M278 114v1M279 96v1M279 103v1M279 109v1M279 114v1M283 94v1M283 99v1M283 106v1M283 118v1M284 103v4M284 121v1M285 91v1M285 116v3M286 123v1M287 91v1M288 91v1M291 89v1M292 86v1M292 89v1M292 91v1M293 103v1M294 111v1M295 112v2M296 97v1M297 102v1M298 105v1M298 129v1M299 109v1M300 110v1M302 141v1M303 121v1M304 130v1M305 141v1M315 143v1M316 143v3M316 147v1M318 139v1M322 147v1M323 146v1M323 149v1M323 163v1M327 145v1M330 90v1M331 90v2M331 93v1M331 164v1M332 90v1M332 93v2M332 168v1M333 94v1M333 135v1M333 169v1M334 95v3M334 166v1M337 93v1M337 167v1M338 84v2M338 110v3M338 114v1M339 86v1M339 95v2M339 98v1M339 117v1M340 99v2M340 110v2M341 101v1M341 104v3M342 101v2M342 107v2M342 114v1M344 86v1M344 90v1M344 106v3M345 89v1M345 92v1M345 104v3M345 109v1M345 172v1M346 91v2M346 99v5M346 106v1M346 110v1M347 82v1M347 84v2M347 102v1M347 109v4M347 174v1M348 97v6M348 174v1M349 95v2M349 101v1M349 107v3M349 136v2M350 97v2M350 102v2M350 116v3M351 91v2M351 95v7M351 105v1M351 112v1M351 114v1M351 118v1M352 91v3M352 97v6M352 106v1M352 109v1M352 125v1M352 128v1M353 94v2M353 97v8M354 95v2M354 99v5M355 97v3M355 105v1M355 175v1M356 101v1M356 180v1M357 99v3M358 102v1M358 136v1M358 177v1M359 89v2M359 97v5M359 138v1M359 180v1M360 91v1M360 95v2M360 101v2M360 167v1M360 178v1M361 94v1M364 91v1M364 93v1M364 104v1M364 132v1M365 97v2M365 127v1M366 94v2M366 101v1M366 106v1M366 110v2M366 178v1M366 183v1M367 94v1M367 97v2M367 107v2M368 95v1M368 107v2M368 110v2M368 128v1M369 97v2M369 103v1M369 107v1M369 110v2M369 113v1M369 115v4M369 128v1M370 99v1M370 102v2M370 126v1M371 100v1M371 104v1M371 117v2M371 132v1M372 101v1M373 102v1M373 113v1M373 134v1M374 102v2M374 136v1M375 80v3M375 91v1M376 102v1M376 106v1M376 140v2M376 187v1M377 97v2M377 103v1M377 146v1M378 92v2M378 99v1M378 149v1M378 185v1M379 82v3M379 95v1M379 97v1M379 99v1M379 187v1M380 94v2M380 161v1M382 70v3M382 117v1M382 159v1M383 75v1M383 110v1M383 121v1M383 183v1M384 77v1M384 110v1M385 76v2M385 79v2M385 112v1M385 162v1M386 79v1M386 81v1M386 88v3M386 101v1M386 103v1M386 165v1M386 184v1M387 85v1M387 93v1M387 99v1M387 184v1M388 86v3M388 92v2M388 101v1M388 170v1M388 186v1M391 131v1M391 151v1M391 154v1M391 184v1M392 86v3M392 184v1M393 85v1M393 93v2M394 94v1M395 69v1M395 92v1M396 91v2M397 86v4M398 86v1M398 89v3M400 91v1M400 154v1M400 157v1M401 94v1M401 131v1M401 160v1M401 185v1M402 163v1M402 166v1M402 184v1M403 84v2M403 97v1M403 131v1M403 164v1M404 78v3M404 85v4M404 138v2M404 172v1M405 89v2M405 95v1M405 132v1M405 138v1M406 88v1M406 95v1M406 101v3M406 138v1M407 89v1M407 96v2M407 100v1M407 104v1M407 106v1M408 91v3M408 97v1M408 101v2M408 104v1M408 151v1M409 93v1M409 95v1M409 101v2M409 160v1M410 91v3M410 95v1M411 94v2M411 97v2M412 91v1M412 97v2M412 102v2M413 94v1M414 96v1M415 183v1M418 96v1M419 94v4M420 95v3M420 187v1M421 77v2M422 79v1M422 82v1M422 98v1M423 84v1M423 98v1M423 186v1M424 95v7M425 95v1M426 80v5M426 88v3M426 96v1M426 185v1M427 81v2M427 89v1M427 93v1M427 97v1M428 91v1M428 97v1M428 185v1M429 82v1M429 94v1M429 185v1M430 187v1M431 88v1M431 91v3M431 96v1M432 91v3M432 95v1M432 192v1M433 95v1M433 98v1M433 188v1M434 94v1M435 95v2M435 188v1M436 92v1M436 95v4M436 103v1M436 190v1M437 95v1M437 113v1M437 117v2M437 126v1M437 156v1M437 161v4M437 168v4M437 182v1M437 188v1M438 154v1M438 169v2M438 190v1M618 82v3M619 74v1M619 77v1M620 75v4M621 68v4M621 75v2M621 207v1M622 208v1M623 74v3M624 67v4M624 75v1M625 63v1M628 60v2M628 72v1M628 208v1M629 71v1M630 71v3M631 75v2M631 213v1M632 82v1M633 67v1M635 74v1M636 69v3M636 204v1M662 73v1M662 75v1M662 79v1M663 69v2M663 211v1M664 73v2M665 74v1M666 77v1M668 69v2M668 80v1M668 210v1M669 76v1M669 216v1M670 75v1M671 67v1M671 69v1M671 76v1M671 213v1M671 217v1M672 75v2M672 216v1M673 73v2M673 79v1M674 77v1M675 76v2M676 70v5M677 73v1M678 63v1M678 71v2M680 70v1M680 75v1M680 77v1M681 66v2M681 69v1M681 71v1M682 72v1M682 204v1M683 72v3M684 73v4M685 75v3M686 72v1M689 79v1M689 189v1M690 75v3M690 80v1M691 68v3M691 72v1M691 74v1M691 76v1M692 75v1M693 80v1M694 70v1M695 78v1M695 208v1M696 80v1M697 79v3M699 69v1M699 205v1"/>
<path stroke="#6868f0" d="M87 92v1M106 104v1M107 102v2M107 107v1M108 103v1M108 110v1M109 108v1M109 110v1M110 108v1M111 113v1M112 116v1M112 118v2M214 78v1M215 77v2M216 78v1M217 83v2M233 90v1M234 70v1M237 75v1M237 82v3M237 89v3M238 72v1M238 74v1M238 77v1M238 81v1M238 86v1M239 89v1M240 93v1M241 84v1M242 87v1M244 86v3M244 93v1M244 97v1M244 99v1M245 77v1M245 81v2M246 91v1M247 78v1M247 80v1M247 91v2M247 97v1M249 77v1M249 86v1M250 94v1M251 83v1M251 98v2M252 95v1M257 82v1M258 94v2M259 83v2M260 85v1M260 94v1M260 97v1M265 102v1M266 95v1M266 106v1M268 107v1M270 95v1M271 107v1M272 105v1M276 94v2M277 93v1M278 92v2M278 95v1M279 83v1M279 97v1M279 100v1M279 108v1M279 110v1M282 115v1M283 117v1M286 121v2M287 128v1M288 129v1M290 87v2M290 90v1M290 130v1M291 91v1M291 130v1M292 101v2M292 128v1M294 97v1M294 132v2M295 114v1M295 117v2M295 130v1M296 115v1M296 124v1M298 121v2M298 127v1M299 134v1M300 132v2M300 137v1M301 137v3M302 116v1M303 122v2M303 141v1M304 145v1M305 139v2M305 147v1M307 150v2M316 146v1M317 141v1M317 148v5M318 140v4M318 159v2M319 144v1M319 159v1M323 147v1M325 145v1M326 161v1M327 163v1M328 143v1M331 92v1M332 91v2M333 165v1M334 132v1M338 94v3M338 113v1M338 126v1M339 97v1M339 116v1M339 118v1M339 123v1M341 112v1M342 103v1M342 106v1M342 109v1M343 106v1M343 112v1M343 115v1M344 87v3M344 109v1M345 90v2M345 110v1M346 104v2M346 107v3M346 111v1M346 172v1M347 83v1M347 108v1M347 113v1M348 110v1M349 102v5M349 110v2M349 138v1M350 104v1M350 107v2M350 110v1M350 115v1M350 119v1M351 90v1M351 106v1M351 110v2M351 113v1M351 123v3M352 103v2M352 107v2M352 120v1M352 123v1M352 174v1M353 96v1M353 105v1M354 97v2M354 104v1M354 106v1M355 100v2M356 137v1M357 102v3M358 103v1M359 104v1M359 107v1M360 92v2M360 140v1M360 166v1M361 96v1M364 102v2M365 94v1M365 104v2M365 130v1M366 96v1M366 105v1M366 109v1M367 128v1M368 96v1M368 102v1M369 108v1M369 112v1M369 180v1M370 100v2M370 104v1M371 101v2M371 105v2M373 103v1M374 104v2M374 112v1M375 106v1M375 137v1M376 103v1M376 142v1M377 104v2M377 114v1M378 100v3M378 158v1M378 160v1M379 94v1M379 96v1M379 98v1M379 100v1M380 96v1M381 105v1M382 116v1M382 118v1M383 109v1M384 102v1M384 111v3M384 160v1M385 103v1M385 110v2M385 113v1M385 115v1M386 80v1M386 82v1M386 104v1M386 127v1M386 168v1M387 100v1M387 169v1M388 133v1M391 91v2M391 95v1M391 99v2M391 152v2M392 96v1M392 144v1M392 150v1M393 156v1M393 182v1M394 86v3M395 93v1M395 95v1M395 97v1M395 99v1M396 93v2M397 90v4M397 185v1M398 92v2M399 91v2M400 92v2M401 95v1M401 161v1M402 86v1M402 97v2M402 131v1M402 167v1M403 98v1M403 169v1M404 99v3M404 132v4M404 137v1M405 86v1M405 96v1M406 92v3M406 96v3M406 135v1M406 141v1M407 90v1M407 95v1M407 101v3M407 105v1M408 94v1M408 103v1M408 107v3M409 94v1M409 110v1M410 96v9M411 91v1M411 96v1M411 99v5M412 93v1M412 104v2M412 181v1M413 102v5M415 97v1M418 97v3M419 91v3M419 98v1M420 94v1M420 98v2M422 80v2M423 99v2M424 102v2M425 83v3M425 96v3M426 86v2M426 97v1M427 79v2M427 98v2M427 102v1M428 92v3M428 98v1M429 84v2M429 144v2M430 95v1M431 89v2M431 94v1M432 97v1M432 187v1M434 97v1M434 116v2M435 118v2M436 93v2M436 102v1M436 105v1M436 132v2M437 99v1M437 116v1M437 128v1M437 131v1M437 172v1M437 178v4M438 155v1M618 85v1M619 78v1M620 79v1M621 72v2M621 77v2M623 77v1M624 71v1M624 76v1M625 201v1M626 76v1M628 73v1M629 72v1M629 206v1M630 74v1M631 77v1M632 83v3M633 78v1M633 86v2M633 212v1M634 68v4M634 74v1M635 72v2M635 209v1M637 76v1M662 207v1M662 211v1M665 75v1M666 75v2M666 79v1M669 80v1M671 68v1M671 218v1M672 77v1M673 80v1M674 78v1M675 78v1M676 75v1M677 74v1M677 216v1M678 73v1M679 68v3M680 76v1M680 78v1M681 68v1M681 72v1M682 73v2M683 76v2M684 77v1M684 198v1M685 74v1M685 78v2M686 73v1M689 80v2M691 73v1M692 76v1M693 75v3M693 203v1M694 75v2M694 209v1M696 81v1M697 82v1M698 67v3M698 73v1M698 75v5M699 70v6"/>
<path stroke="#5757f3" d="M72 115v1M108 102v1M110 110v1M110 115v1M112 113v1M214 77v1M216 79v1M216 84v1M222 86v1M224 97v1M229 71v1M233 69v2M234 71v1M236 80v1M237 81v1M238 78v1M238 82v2M239 77v1M242 86v1M242 95v1M243 68v1M243 70v1M243 82v3M243 94v1M244 94v1M245 76v1M245 95v2M246 92v2M247 79v1M247 81v1M248 101v1M251 94v1M252 94v1M257 83v1M257 93v1M257 106v1M258 98v1M258 103v1M260 96v1M266 96v2M266 105v1M267 97v3M267 102v1M268 103v1M270 100v1M271 99v3M272 104v1M275 77v1M275 95v1M276 91v1M277 98v1M278 94v1M278 96v1M278 109v2M279 111v1M289 90v1M291 116v4M292 87v2M292 92v1M292 99v2M292 121v1M294 115v1M295 98v1M295 115v2M295 119v2M296 112v3M296 121v3M297 116v5M298 123v3M298 128v1M299 125v1M300 115v1M301 114v2M301 134v1M302 123v2M302 137v1M303 124v1M304 138v1M304 146v2M306 148v1M317 142v1M318 154v4M319 145v2M319 158v1M320 145v1M321 148v1M321 153v1M323 150v1M324 147v1M326 142v1M331 135v1M332 135v1M338 166v1M339 110v2M339 114v1M339 122v1M339 124v1M339 169v1M341 102v2M341 113v1M341 122v1M341 169v1M342 104v2M342 124v1M342 154v1M342 171v1M343 113v1M343 116v1M345 111v1M345 118v1M345 120v1M347 103v1M347 106v2M347 114v1M348 103v3M348 108v2M348 111v4M348 143v1M349 112v2M349 115v1M350 105v2M350 109v1M350 111v2M350 114v1M350 120v1M350 139v1M351 107v3M351 119v4M351 128v1M352 105v1M353 107v2M354 105v1M354 131v1M355 102v3M356 102v2M356 105v1M358 104v2M359 161v4M360 141v1M361 95v1M361 142v1M364 133v2M364 177v1M365 95v1M365 128v2M365 131v1M365 136v1M366 98v1M366 104v1M366 107v2M367 102v2M368 103v1M368 106v1M369 106v1M369 109v1M369 130v2M369 183v1M370 105v2M370 110v1M370 112v2M371 103v1M371 107v2M372 102v1M372 107v3M373 110v1M374 137v3M374 183v1M375 112v1M376 104v2M376 107v1M376 143v1M376 146v1M377 106v1M378 103v2M378 106v3M378 150v1M379 101v1M380 102v2M381 97v2M381 102v3M381 106v1M381 119v1M381 183v1M382 104v6M382 161v1M383 107v2M383 120v1M383 159v1M384 103v1M384 114v1M385 104v1M385 114v1M385 116v1M385 124v1M385 163v1M386 115v1M386 125v2M386 166v2M387 101v2M387 104v1M387 110v2M387 118v1M388 83v3M388 118v1M388 132v1M391 93v2M391 96v1M391 101v3M391 106v1M392 95v1M392 131v1M393 97v1M393 155v1M393 157v1M395 96v1M395 98v1M395 131v1M395 149v1M396 131v1M396 182v1M397 94v3M397 153v1M398 94v2M399 93v3M399 131v1M400 94v2M401 96v1M401 162v1M401 167v1M402 87v2M403 163v1M403 186v1M404 136v1M404 182v1M405 87v2M405 111v1M406 89v1M406 91v1M406 136v2M406 144v1M406 149v1M407 94v1M408 96v1M408 105v2M409 103v2M409 111v1M409 153v2M409 159v1M410 105v1M410 166v1M411 92v2M411 104v1M411 178v1M412 92v1M412 94v3M413 95v2M413 99v1M414 97v1M414 104v3M418 100v2M419 99v1M419 102v1M420 100v2M421 97v1M421 107v3M422 103v1M423 101v1M425 99v2M425 102v1M425 106v1M426 98v8M427 100v2M427 103v2M427 185v1M428 95v2M428 99v1M428 104v1M428 109v1M429 83v1M429 108v2M429 143v1M430 96v1M430 110v2M430 146v1M431 97v2M431 135v4M432 98v1M434 98v3M434 108v2M434 115v1M434 118v1M435 97v2M436 101v1M436 107v2M436 134v1M437 100v2M437 107v1M437 112v1M437 122v1M437 136v1M437 138v1M437 149v1M437 165v1M437 177v1M438 151v1M618 86v1M618 202v1M619 79v1M619 86v1M619 202v1M620 204v1M621 74v1M621 79v1M622 75v2M623 78v2M624 72v3M624 77v1M626 77v1M626 208v1M627 86v1M627 92v1M629 73v2M631 78v1M633 74v1M633 79v1M633 88v2M634 72v1M634 75v1M635 205v1M636 76v1M637 203v1M637 207v1M662 74v1M662 80v1M662 208v1M663 79v1M664 80v1M665 76v1M666 212v1M667 78v1M668 81v1M668 84v2M669 86v2M670 211v1M671 77v1M672 78v1M672 80v2M672 215v1M673 216v1M674 79v1M674 219v1M675 79v3M675 216v2M676 76v1M677 75v1M678 74v3M679 71v2M679 75v2M681 73v1M681 75v1M682 200v1M683 75v1M683 78v1M683 200v1M684 78v1M685 80v1M685 198v1M686 74v4M689 82v1M690 81v1M691 77v1M691 80v4M691 86v1M692 77v2M692 80v1M693 201v2M694 77v1M695 79v1M696 82v1M697 83v3M698 80v1M699 76v1M699 206v1"/>
<path stroke="#4747f5" d="M106 103v1M109 111v1M109 114v1M110 114v1M111 112v1M111 115v1M112 121v1M113 117v1M113 119v1M216 80v1M222 87v1M223 89v1M224 96v1M231 82v1M234 72v4M235 71v4M235 76v4M236 76v4M236 81v2M237 80v1M237 85v1M238 84v1M238 90v1M240 80v1M242 65v1M244 74v1M244 85v1M247 82v1M248 77v1M248 80v1M248 88v1M248 100v1M249 78v1M249 80v1M249 89v1M250 85v1M250 93v1M250 95v1M251 88v1M253 106v1M257 89v4M257 95v1M265 98v4M266 103v2M267 100v2M267 104v2M268 98v1M268 104v2M270 99v1M270 108v1M275 94v1M276 84v1M276 98v1M276 107v1M277 78v1M277 94v1M277 99v1M278 84v1M278 97v1M278 100v1M278 112v2M279 99v1M279 106v2M280 114v1M282 114v1M283 98v1M285 107v2M286 92v1M287 127v1M290 91v3M290 115v1M291 95v3M291 120v1M291 128v1M292 93v1M292 98v1M292 122v2M292 127v1M293 95v1M293 129v1M294 106v1M294 114v1M294 120v1M295 99v1M295 110v2M295 123v2M295 129v1M296 98v1M296 116v1M300 114v1M301 116v2M302 136v1M303 129v1M303 140v1M304 131v1M304 134v1M304 137v1M304 144v1M317 143v5M318 144v1M318 153v1M318 158v1M320 146v1M320 148v1M320 151v1M328 144v1M328 147v1M328 162v1M328 166v1M329 138v1M329 163v1M333 136v1M337 129v1M337 170v1M339 113v1M339 119v1M340 112v1M340 123v2M340 170v1M341 114v1M341 121v1M341 123v2M342 123v1M342 157v2M343 107v1M343 110v2M343 114v1M343 117v1M344 110v3M344 115v1M345 119v1M345 121v2M346 123v3M347 104v2M347 126v2M348 106v2M348 115v3M348 125v1M348 134v1M348 142v1M348 144v2M349 114v1M349 116v3M349 135v1M349 139v2M349 144v1M350 113v1M350 121v1M350 124v2M350 137v2M350 146v1M350 173v1M351 174v1M352 110v1M352 114v1M352 121v2M352 129v1M352 177v1M356 104v1M358 137v1M359 106v1M359 139v1M359 160v1M360 162v1M361 179v1M365 96v1M365 132v1M365 137v1M365 177v1M366 97v1M366 182v1M367 99v2M368 180v1M369 104v2M369 129v1M370 111v1M370 114v6M370 127v1M370 182v1M371 109v1M371 112v1M371 115v2M372 103v2M372 113v1M373 104v1M373 111v1M373 183v1M375 107v1M375 138v1M375 184v1M377 107v1M378 105v1M378 109v1M378 151v1M379 104v2M379 108v4M380 99v3M380 107v1M380 115v1M380 184v1M381 99v1M381 112v3M382 99v3M382 115v1M383 112v6M383 119v1M384 108v2M384 115v1M385 105v2M385 109v1M385 117v1M385 120v2M385 123v1M385 164v1M386 105v1M386 107v3M386 114v1M386 169v2M387 103v1M387 105v1M387 112v6M387 119v3M387 126v1M387 170v1M388 114v4M388 119v1M388 126v1M388 131v1M391 97v2M391 104v2M391 160v1M391 180v1M392 97v2M392 102v1M392 149v1M393 98v1M393 131v1M393 145v1M393 158v1M394 95v1M394 97v4M395 94v1M395 100v1M396 95v2M396 149v1M397 97v1M398 96v2M399 96v3M399 155v1M400 96v2M400 132v1M401 97v1M401 99v3M401 130v1M401 163v1M402 99v2M405 102v1M405 110v1M405 112v1M405 131v1M405 137v1M406 90v1M406 104v2M406 142v2M406 145v1M406 148v1M407 91v3M407 107v3M407 136v5M408 95v1M408 110v2M408 126v2M409 107v3M409 158v1M410 112v2M411 105v2M412 106v1M413 100v2M413 185v1M414 102v1M414 107v1M415 98v1M415 110v2M419 100v2M419 103v1M420 102v1M420 104v2M421 98v1M421 185v1M422 99v4M422 104v1M422 107v1M422 110v1M423 185v1M424 104v3M424 129v3M424 186v1M425 101v1M425 103v3M425 107v2M426 106v2M427 105v5M428 100v1M428 102v2M428 105v1M428 108v1M428 110v1M428 142v1M429 95v1M429 97v1M429 107v1M429 110v2M429 128v3M429 142v1M430 105v1M430 107v3M430 133v2M430 147v1M432 111v2M432 147v4M433 112v3M433 143v1M434 101v1M434 106v2M434 112v1M434 119v2M434 146v1M435 99v4M435 120v1M435 147v2M436 99v2M436 106v1M436 109v1M436 120v1M436 126v1M436 131v1M436 160v2M437 103v3M437 108v2M437 115v1M437 129v2M437 137v1M437 146v3M437 150v1M437 155v1M438 153v1M619 80v1M619 87v5M620 80v1M621 80v1M622 77v1M623 80v2M623 202v1M624 78v1M625 75v1M626 78v1M626 82v2M626 206v2M627 87v2M627 91v1M627 205v1M628 74v1M630 75v2M631 79v2M631 212v1M632 209v1M633 71v3M633 80v2M633 90v1M634 73v1M637 77v1M662 81v3M663 80v1M664 75v3M665 77v1M667 79v1M668 82v2M668 215v1M669 81v1M669 88v2M670 76v2M671 78v2M671 81v1M672 79v1M672 82v1M673 81v1M674 80v2M674 87v3M675 82v2M675 85v1M675 218v1M676 77v2M676 214v1M677 76v1M678 77v3M679 77v2M679 211v1M680 79v1M681 74v1M681 76v2M682 75v2M683 79v1M684 79v1M685 84v2M686 78v5M689 83v1M690 82v4M691 78v2M691 84v2M691 87v1M692 79v1M692 81v2M692 89v1M694 78v1M695 80v2M696 83v1M697 86v1M697 90v4M698 74v1M698 81v1M698 86v1M698 88v4M698 209v1M699 77v2"/>
<path stroke="#3636f7" d="M72 120v1M87 91v1M106 101v1M109 109v1M109 112v1M110 116v1M111 116v1M113 116v1M218 83v2M228 70v1M231 80v2M233 89v1M236 83v2M237 86v3M238 79v1M238 89v1M238 92v2M239 78v1M239 80v1M239 86v1M240 92v1M243 69v1M244 71v3M244 98v1M247 83v2M248 81v1M248 84v1M248 86v2M249 79v1M249 81v3M250 80v2M250 90v3M257 84v1M257 96v2M267 103v1M268 99v1M268 106v1M269 96v2M270 107v1M274 101v2M275 78v1M275 96v1M275 106v1M276 77v1M276 80v4M276 92v1M277 79v1M277 84v1M277 100v1M278 101v1M278 108v1M278 111v1M279 84v1M279 98v1M282 113v1M283 95v1M284 108v3M285 92v1M285 95v1M285 97v1M285 109v1M286 93v1M287 92v1M287 94v4M288 92v1M288 128v1M289 129v1M290 114v1M291 92v1M291 94v1M292 94v1M292 106v1M292 124v3M293 98v1M293 128v1M294 112v2M294 119v1M295 96v1M295 100v2M295 107v3M295 122v1M295 128v1M296 117v3M297 103v1M299 132v1M300 136v1M301 131v3M302 117v1M302 134v2M303 126v3M304 132v2M304 139v2M305 145v1M318 145v1M319 147v1M319 157v1M319 163v1M320 147v1M320 149v2M320 162v1M321 149v1M321 162v1M322 152v2M322 155v1M322 163v1M323 151v1M324 154v1M325 146v1M325 155v1M325 162v1M326 160v1M327 146v1M328 148v1M332 136v1M337 166v1M338 127v2M338 169v1M339 112v1M339 115v1M339 121v1M339 164v1M340 122v1M340 125v1M341 125v2M341 152v5M342 115v1M342 125v3M342 155v2M342 159v1M343 108v2M343 123v1M343 157v2M344 113v1M344 118v2M344 157v1M345 123v3M345 140v1M346 112v1M346 120v1M346 122v1M347 117v1M347 124v2M347 128v4M347 141v3M347 158v2M348 126v1M348 141v1M348 157v3M349 128v1M349 131v2M349 141v3M349 145v2M349 173v1M350 122v2M350 133v2M350 140v1M350 145v1M351 142v2M351 146v1M352 111v2M353 106v1M353 131v1M353 174v1M354 152v2M354 176v1M355 137v1M355 155v2M356 156v1M358 161v1M360 163v1M360 168v1M365 133v1M365 138v1M366 130v1M367 101v1M367 180v1M369 132v1M370 107v2M370 130v1M371 113v2M371 182v1M372 105v2M372 110v2M372 184v1M373 105v1M373 112v1M376 108v2M376 113v1M376 144v2M376 182v1M376 185v1M377 108v2M377 147v1M378 110v1M378 114v1M379 102v2M379 106v2M379 112v1M380 97v1M380 104v1M380 106v1M380 108v4M381 100v2M381 110v2M381 116v3M381 162v1M382 112v3M383 102v1M383 118v1M383 164v1M384 107v1M384 118v4M384 161v5M385 108v1M385 118v1M385 122v1M385 125v1M385 165v1M386 106v1M386 112v2M386 116v1M386 118v1M386 171v2M387 106v4M387 122v1M387 125v1M388 102v1M388 104v1M388 107v2M388 110v4M388 120v2M388 123v1M391 107v1M391 130v1M392 99v2M392 103v2M392 106v1M392 146v1M392 155v2M393 99v1M393 101v5M394 96v1M394 101v1M395 101v3M395 150v1M395 184v1M396 99v1M396 103v1M396 105v1M396 121v2M397 98v1M397 104v2M398 98v1M398 185v1M399 130v1M400 98v2M401 98v1M401 166v1M402 101v1M403 99v1M404 108v2M404 130v2M404 173v2M405 103v1M405 113v1M406 112v1M406 134v1M406 147v1M408 139v4M409 105v2M409 112v2M409 130v1M409 152v1M409 157v1M410 110v2M410 114v1M410 163v2M411 107v1M413 97v2M413 107v1M414 98v1M414 103v1M414 108v2M414 111v1M415 104v2M415 107v3M415 112v1M418 185v1M419 128v2M420 103v1M420 106v1M421 99v8M421 186v1M422 105v2M422 108v2M422 111v1M422 127v1M422 129v2M423 102v5M423 126v3M424 107v1M424 127v2M424 132v1M425 135v1M426 108v1M426 131v2M428 101v1M428 106v2M428 111v1M428 133v1M428 140v2M428 143v2M429 96v1M429 98v1M429 106v1M429 112v1M429 131v2M429 141v1M430 104v1M430 132v1M430 148v1M431 99v1M431 107v1M431 112v3M431 139v1M432 99v1M432 110v1M432 113v1M432 137v4M432 151v1M433 99v1M433 103v3M433 110v2M433 117v2M433 142v1M434 110v2M434 113v1M434 121v1M434 142v1M434 145v1M434 188v1M435 103v1M435 111v1M435 116v2M435 121v2M435 127v4M435 142v2M435 146v1M436 110v2M436 164v1M436 169v1M437 102v1M437 110v2M437 173v1M438 152v1M618 87v1M618 91v3M619 81v1M619 92v1M620 81v1M621 81v1M621 206v1M622 78v1M623 82v1M624 79v2M624 210v1M625 76v2M626 79v3M626 84v1M627 89v2M628 75v2M628 86v5M629 75v1M630 77v1M631 81v1M633 91v1M634 210v1M635 75v1M635 206v1M635 208v1M636 77v1M637 78v1M637 83v2M637 206v1M662 84v1M662 206v1M663 81v2M663 87v1M664 81v1M664 86v1M665 78v2M665 211v1M666 80v1M667 80v1M669 90v1M669 214v1M670 78v1M671 80v1M671 82v1M673 82v1M674 82v2M674 86v1M674 90v1M674 218v1M675 84v1M675 86v3M676 79v2M676 213v1M677 77v5M678 80v1M679 73v1M679 79v2M681 78v3M681 84v2M681 202v1M682 77v2M682 86v3M683 80v1M684 80v1M685 81v3M685 197v1M686 83v2M686 86v1M686 198v1M689 84v2M691 88v1M692 83v2M692 86v3M692 90v2M693 81v1M693 200v1M694 79v2M695 82v2M695 205v1M696 84v2M696 91v3M696 206v1M697 87v3M697 94v1M698 82v4M698 87v1M698 92v1M699 79v1M699 91v2"/>
<path stroke="#2525fa" d="M87 93v1M105 101v1M109 106v2M111 111v1M113 118v1M228 69v1M235 75v1M238 75v1M239 81v1M239 85v1M239 87v1M240 90v2M248 78v1M248 82v2M248 85v1M249 90v4M250 82v1M257 94v1M257 105v1M266 101v2M268 100v1M275 79v1M276 93v1M276 99v1M277 101v1M277 106v1M278 83v1M278 99v1M278 107v1M279 112v2M284 102v1M284 107v1M284 111v1M285 93v2M285 96v1M285 99v5M285 105v1M285 110v1M287 98v3M287 126v1M289 91v1M289 115v1M290 113v1M291 93v1M291 123v2M292 95v3M293 96v1M293 99v2M293 102v1M293 107v2M293 126v2M294 105v1M294 118v1M294 130v1M295 97v1M295 102v1M295 121v1M295 127v1M296 103v1M296 120v1M297 124v1M299 110v2M299 133v1M300 128v2M300 135v1M302 122v1M303 125v1M304 136v1M304 141v1M318 146v1M318 148v5M321 151v2M322 151v1M322 154v1M322 156v1M323 152v2M323 155v2M324 153v1M324 162v1M325 154v1M325 156v2M326 155v3M326 164v1M326 166v1M327 162v1M328 145v1M328 165v1M329 139v1M329 149v1M330 138v1M330 165v1M333 137v1M333 164v1M334 133v1M334 165v1M337 165v1M338 129v1M338 145v1M339 120v1M339 163v1M339 165v1M339 168v1M340 113v4M340 119v3M340 153v1M341 120v1M341 127v1M342 116v1M342 122v1M342 128v1M343 118v2M343 121v2M343 124v3M343 154v1M343 159v2M343 171v1M344 114v1M344 116v2M344 126v1M344 130v1M344 138v1M344 156v1M344 171v1M345 115v3M345 127v2M345 135v1M345 137v3M345 141v1M346 113v1M346 121v1M346 126v1M346 141v3M346 155v2M347 115v2M347 123v1M347 140v1M347 156v2M348 118v1M348 123v2M348 127v1M348 133v1M348 135v3M348 140v1M348 160v1M349 119v1M349 126v2M349 129v1M349 133v1M349 147v1M350 136v1M350 141v1M350 144v1M350 147v2M350 162v1M351 136v1M351 141v1M351 144v2M351 147v2M352 113v1M352 139v3M352 147v2M352 173v1M353 149v2M354 144v1M354 150v2M354 154v1M356 152v4M357 136v1M357 158v2M357 178v1M358 138v2M358 149v3M358 159v2M358 163v2M359 140v1M359 165v1M360 142v1M360 164v2M360 169v1M361 166v4M364 136v2M364 152v1M365 134v1M367 131v2M369 133v2M370 109v1M370 128v2M371 110v1M371 133v1M373 106v4M374 106v1M374 110v2M375 108v1M375 139v1M375 143v2M376 186v1M377 111v1M377 113v1M377 148v1M377 183v1M378 111v1M378 157v1M379 113v1M379 186v1M380 98v1M380 105v1M380 112v3M381 107v2M382 102v2M382 110v2M382 183v1M383 103v4M383 163v1M384 104v3M384 116v2M384 166v1M385 107v1M385 119v1M385 166v4M386 110v2M386 117v1M386 119v1M386 121v3M387 123v2M387 171v1M388 103v1M388 105v2M388 109v1M388 122v1M388 124v1M388 185v1M391 120v1M392 101v1M392 105v1M392 107v1M392 123v1M392 147v1M393 100v1M393 108v3M393 153v2M394 102v1M394 108v3M394 125v1M394 132v1M394 155v4M394 182v1M395 104v1M395 130v1M395 181v1M396 97v2M396 102v1M396 104v1M396 150v1M397 106v1M398 99v1M398 107v2M398 128v1M398 166v2M399 99v2M399 110v3M399 156v1M399 184v1M400 100v2M400 158v1M400 183v1M401 102v1M401 168v1M402 102v1M402 128v1M402 130v1M402 164v2M402 168v1M403 100v2M403 104v2M403 109v3M403 130v1M403 170v1M403 185v1M404 107v1M404 110v2M404 125v1M404 128v2M405 109v1M405 128v3M406 106v1M406 113v1M406 133v1M407 112v1M407 141v3M407 149v1M408 128v3M408 143v1M409 114v1M409 128v2M409 155v2M410 107v3M410 162v1M411 115v1M411 133v1M411 169v4M411 175v3M412 107v1M413 108v1M414 99v2M414 110v1M415 99v1M415 113v1M418 102v2M419 104v1M419 106v1M419 127v1M419 130v1M419 185v1M420 131v2M420 186v1M421 110v2M421 133v1M421 189v1M422 125v2M422 128v1M422 131v3M423 112v3M423 129v1M424 108v2M424 115v2M424 126v1M424 133v2M424 183v1M425 109v1M425 134v1M425 136v2M425 184v1M426 109v2M426 121v2M426 130v1M426 133v4M427 110v1M427 131v1M427 135v2M427 140v3M428 125v3M428 130v1M428 134v1M428 139v1M428 145v1M429 99v1M429 105v1M429 113v1M429 140v1M429 146v3M430 97v1M430 99v1M430 106v1M430 112v2M430 131v1M430 141v3M431 100v1M431 104v1M431 106v1M431 108v4M431 133v2M431 140v1M431 145v1M431 149v2M432 100v1M432 104v1M432 114v4M432 119v1M432 136v1M432 191v1M433 100v1M433 102v1M433 115v2M433 119v1M433 140v2M433 144v2M433 149v2M434 102v1M434 104v1M434 114v1M434 122v1M434 124v1M434 127v1M434 141v1M434 143v2M435 104v1M435 107v2M435 110v1M435 115v1M435 123v1M435 125v2M435 131v1M435 141v1M435 187v1M436 112v3M436 118v2M436 127v1M436 142v3M436 158v2M436 162v2M436 165v1M436 168v1M436 189v1M437 125v1M437 151v1M437 176v1M618 88v3M618 94v1M619 82v1M619 93v1M619 95v1M620 82v4M621 82v3M622 79v1M623 83v3M623 201v1M623 203v1M624 81v1M625 78v3M626 85v1M627 93v1M627 204v1M628 77v2M628 91v3M628 207v1M629 76v1M629 86v5M630 78v4M631 82v1M632 86v4M633 82v2M633 92v3M634 76v1M634 95v4M635 207v1M636 78v6M637 79v4M637 85v1M662 85v1M662 209v2M663 83v1M663 86v1M663 88v3M664 87v1M665 80v1M665 88v5M666 81v1M667 81v1M667 219v1M668 209v1M669 91v1M670 79v2M670 85v1M672 83v1M673 83v3M674 84v2M674 91v2M675 89v1M675 215v1M676 81v1M676 86v2M676 212v1M677 82v1M678 81v2M678 211v1M679 74v1M679 81v3M680 80v6M681 81v3M681 86v3M682 79v2M682 82v2M682 89v6M682 105v1M683 81v2M683 85v1M683 95v1M683 104v4M684 81v1M684 86v1M684 106v2M684 197v1M685 196v1M686 85v1M686 87v1M690 86v1M690 195v1M690 197v1M691 89v3M692 85v1M692 92v2M692 95v3M693 82v3M693 86v1M693 88v3M694 85v1M695 84v1M695 207v1M696 86v2M696 90v1M696 94v1M698 93v1M699 80v1M699 86v5M699 93v1M699 201v2"/>
<path stroke="#1515fc" d="M72 118v1M108 109v1M239 79v1M239 88v1M240 89v1M242 93v2M248 79v1M252 101v2M255 96v2M257 104v1M258 86v3M266 100v1M268 101v2M269 103v3M275 97v1M276 100v3M277 102v4M283 96v1M284 101v1M285 98v1M285 104v1M285 106v1M285 111v1M286 94v1M286 100v3M286 107v4M286 112v1M287 93v1M287 101v2M288 93v1M289 111v1M290 107v1M290 112v1M290 120v1M291 98v5M291 121v2M291 127v1M292 103v3M293 97v1M293 101v1M293 109v3M293 125v1M294 103v2M294 117v1M296 99v1M296 104v1M297 106v1M297 121v1M297 123v1M298 106v1M298 116v3M299 113v1M300 116v1M301 118v2M301 130v1M302 119v3M304 142v1M319 148v1M319 154v3M320 152v1M320 160v2M321 150v1M321 154v1M322 148v3M323 154v1M323 157v1M323 162v1M324 150v3M325 147v2M325 153v1M325 158v1M325 161v1M326 143v1M326 146v1M326 158v1M326 167v1M327 157v1M328 146v1M328 164v1M329 146v2M329 150v1M331 136v1M331 163v1M332 137v1M332 163v1M332 167v1M333 138v1M333 168v1M337 143v2M338 130v1M338 144v1M338 146v1M338 148v1M338 165v1M338 167v1M339 126v1M339 147v1M339 167v1M340 117v2M340 151v2M340 166v2M341 115v3M341 119v1M342 117v1M342 129v1M342 170v1M343 120v1M343 127v1M343 155v2M343 161v1M344 127v3M344 132v1M344 137v1M344 155v1M344 158v1M345 112v2M345 126v1M345 129v2M345 136v1M345 142v2M345 153v2M345 158v1M345 160v1M346 114v2M346 118v1M346 127v2M346 131v3M346 140v1M347 118v1M347 122v1M347 132v3M347 144v1M347 146v1M347 160v2M348 119v1M348 128v3M348 132v1M348 138v2M348 146v1M348 161v1M349 120v3M349 125v1M349 130v1M349 134v1M349 160v1M350 131v2M350 135v1M350 142v2M350 149v1M350 160v2M350 163v1M351 137v4M352 142v1M352 144v3M352 149v1M353 141v2M353 147v2M353 151v1M354 134v1M354 142v2M354 145v1M354 149v1M355 149v6M355 174v1M356 151v1M356 157v2M356 179v1M357 148v3M357 155v3M358 140v1M358 157v2M358 162v1M358 176v1M359 141v1M359 152v1M359 166v1M359 179v1M360 143v1M360 177v1M364 135v1M364 138v1M364 153v3M365 135v1M365 139v1M366 131v2M368 135v1M369 181v2M370 131v1M370 136v1M371 111v1M372 112v1M372 134v1M372 180v1M373 179v4M374 107v1M375 109v1M376 110v2M377 110v1M377 112v1M378 152v1M378 184v1M379 114v1M380 162v1M381 109v1M381 115v1M383 162v1M383 165v1M383 167v1M383 182v1M384 167v1M384 184v1M385 170v1M385 185v1M386 120v1M386 124v1M387 172v1M387 183v1M388 171v1M391 108v1M391 118v2M391 121v3M391 126v2M391 168v2M391 183v1M392 108v2M392 120v3M392 124v2M392 148v1M392 183v1M393 106v2M393 111v1M393 126v3M393 152v1M394 103v1M394 105v1M394 107v1M394 128v1M394 159v1M395 105v3M395 110v1M395 157v2M395 182v1M396 100v1M396 106v1M396 120v1M396 123v1M397 99v1M397 123v2M397 128v1M397 154v1M397 184v1M398 100v2M398 104v1M398 109v3M398 155v1M398 168v1M399 101v1M399 113v2M399 129v1M399 168v1M400 112v6M400 131v1M400 170v2M401 103v1M401 109v1M401 128v2M402 103v1M402 109v1M402 127v1M402 129v1M403 102v2M403 108v1M403 124v2M403 127v3M404 102v2M404 124v1M404 126v2M404 175v1M404 181v1M405 108v1M405 114v1M405 126v2M405 136v1M406 110v2M406 114v1M406 128v1M406 131v1M407 113v3M407 124v2M407 127v1M407 135v1M407 144v1M408 112v1M408 125v1M408 150v1M409 131v2M409 141v4M410 106v1M410 161v1M410 165v1M411 108v1M411 110v1M411 116v1M411 134v1M411 168v1M411 173v2M412 108v1M412 136v3M412 180v1M413 109v1M413 139v2M414 101v1M414 112v1M414 140v4M414 182v1M415 100v1M415 102v2M415 106v1M415 114v1M415 140v3M418 104v2M418 115v4M418 126v2M418 181v1M419 105v1M419 107v2M419 123v4M419 131v1M419 176v2M420 120v1M420 125v6M420 133v3M420 137v2M421 126v7M421 134v1M421 136v2M422 124v1M422 134v1M422 136v3M423 107v2M423 110v2M423 124v2M423 130v1M423 132v1M423 135v1M423 143v2M424 110v1M424 112v1M424 117v1M424 125v1M424 135v1M424 144v2M425 128v1M425 133v1M425 138v3M426 111v1M426 120v1M426 129v1M426 137v2M426 140v2M426 184v1M427 129v2M427 132v1M427 137v3M427 143v1M428 112v1M428 129v1M428 132v1M428 138v1M428 184v1M429 100v1M429 104v1M429 133v3M429 184v1M430 98v1M430 100v4M430 114v1M430 135v1M430 137v4M430 144v2M430 149v1M430 186v1M431 101v3M431 105v1M431 115v1M431 148v1M431 151v1M431 189v1M432 101v3M432 105v1M432 118v1M432 121v2M432 135v1M432 141v3M432 152v2M433 101v1M433 106v4M433 122v1M433 124v1M433 136v4M433 151v1M433 155v1M433 187v1M434 103v1M434 105v1M434 123v1M434 125v2M434 128v4M434 140v1M434 155v2M435 105v1M435 109v1M435 112v3M435 124v1M435 132v1M435 135v1M435 140v1M435 144v1M435 157v3M436 115v1M436 121v2M436 128v3M436 140v2M436 145v1M436 151v1M436 157v1M437 123v1M437 174v1M438 189v1M618 201v1M619 83v2M619 94v1M619 96v3M619 194v1M621 85v3M622 80v2M622 86v1M623 205v1M624 82v3M624 86v9M625 81v2M625 95v1M627 94v1M628 79v1M628 83v3M628 94v1M628 205v1M629 77v2M629 91v1M629 95v6M629 205v1M630 82v1M631 83v3M632 90v2M633 84v1M634 77v2M634 86v1M634 88v2M634 99v1M635 76v1M635 79v2M636 84v2M637 86v3M662 86v8M662 97v3M663 84v2M663 91v2M664 82v1M664 88v2M665 81v1M665 86v2M665 93v2M666 82v1M666 97v5M667 82v3M667 215v1M668 86v1M669 82v1M669 92v3M670 81v1M670 84v1M670 95v3M671 83v2M671 86v1M671 212v1M672 84v2M673 86v3M673 215v1M674 93v2M675 90v1M675 214v1M676 82v1M676 88v1M677 83v3M678 83v3M678 87v3M679 84v2M680 86v4M680 208v1M681 89v2M681 93v2M682 81v1M682 84v2M682 95v1M682 98v7M683 83v2M683 96v1M683 101v3M683 108v2M684 82v4M684 87v1M684 108v1M685 86v1M686 88v7M686 197v1M689 87v3M689 188v1M690 87v1M690 192v1M690 196v1M691 92v3M692 94v1M692 98v1M692 201v1M693 85v1M693 87v1M693 91v1M694 81v4M694 208v1M695 85v3M695 200v1M696 88v2M697 95v1M698 95v1M698 208v1M699 81v2M699 94v1M699 204v1"/>
<path stroke="#0404fe" d="M108 104v1M239 82v1M240 81v1M241 93v1M242 90v1M242 92v1M250 83v2M251 89v1M258 85v1M259 93v1M265 94v1M266 99v1M269 106v1M277 95v2M278 98v1M278 102v2M278 106v1M283 97v1M284 95v1M284 100v1M286 98v2M286 103v1M286 106v1M286 111v1M287 103v4M287 113v2M287 125v1M288 94v1M288 98v2M288 106v1M288 114v1M288 127v1M289 92v3M289 105v1M289 110v1M289 114v1M289 116v1M290 94v4M290 99v2M290 106v1M290 108v2M290 116v4M290 129v1M291 105v3M291 125v1M292 107v3M292 115v4M294 98v1M294 116v1M294 121v1M295 126v1M296 100v3M296 105v1M297 107v1M297 114v1M297 122v1M298 107v1M298 111v4M298 119v2M299 112v1M299 115v2M299 119v5M300 127v1M301 120v1M301 125v1M301 129v1M302 118v1M302 130v4M303 135v5M304 135v1M304 143v1M305 146v1M318 147v1M319 151v1M319 153v1M319 161v1M320 159v1M321 155v1M323 158v1M324 149v1M324 155v1M324 159v1M325 152v1M325 159v2M326 144v1M326 154v1M326 159v1M327 147v2M327 158v1M327 161v1M328 149v1M329 144v2M329 148v1M329 151v1M329 162v1M330 145v5M330 152v1M331 145v4M332 146v1M334 135v3M334 155v2M334 164v1M337 130v1M337 142v1M337 145v1M337 162v3M338 147v1M338 161v4M339 128v4M339 148v1M339 150v2M339 162v1M339 166v1M340 150v1M340 155v2M340 168v2M341 118v1M341 128v1M341 157v1M341 168v1M342 118v1M342 121v1M342 130v1M342 153v1M343 128v1M343 135v1M344 120v1M344 124v2M344 131v1M344 133v2M344 136v1M344 139v2M344 159v1M345 114v1M345 131v2M345 157v1M345 159v1M345 161v1M345 171v1M346 116v2M346 119v1M346 129v2M346 134v1M346 138v2M346 157v2M347 119v3M347 135v1M347 139v1M347 145v1M347 155v1M347 162v1M347 173v1M348 131v1M348 173v1M349 123v2M349 148v1M349 161v1M350 164v1M351 129v1M351 135v1M351 149v1M352 136v1M352 143v1M352 150v1M352 175v2M353 143v1M353 146v1M353 152v2M354 132v2M354 135v1M354 141v1M354 148v1M355 147v2M355 157v1M356 138v1M356 148v3M356 159v1M357 137v2M357 151v1M357 154v1M357 160v2M357 175v1M358 148v1M359 142v1M359 150v2M359 153v1M359 167v1M360 144v2M360 150v4M361 143v6M361 178v1M364 151v1M364 156v1M364 174v3M365 154v5M365 160v3M365 176v1M366 133v1M366 136v1M366 139v1M366 162v2M366 177v1M367 129v2M367 133v2M367 166v1M369 135v1M369 168v3M370 135v1M370 137v1M370 170v1M371 134v1M372 135v1M372 177v1M372 179v1M372 181v1M373 146v1M373 178v1M374 108v2M374 140v1M374 180v3M375 111v1M375 142v1M375 145v1M376 112v1M376 147v1M376 149v3M377 149v1M378 112v2M379 178v1M383 160v1M383 166v1M384 168v2M385 171v1M386 183v1M387 173v1M388 125v1M388 182v1M391 109v1M391 116v2M391 124v1M391 128v1M391 170v1M392 110v2M392 118v2M392 126v2M392 157v1M392 170v2M393 112v2M393 129v2M394 104v1M394 106v1M394 111v2M394 129v1M394 154v1M395 108v2M395 118v2M395 122v1M395 128v2M395 151v1M395 159v2M396 101v1M396 109v1M396 124v1M396 151v1M396 162v3M396 181v1M397 100v1M397 102v2M397 107v1M397 121v2M397 163v3M398 102v2M398 105v2M398 112v3M398 125v3M398 165v1M398 169v1M399 102v2M399 109v1M399 115v2M399 125v3M399 169v1M399 171v1M400 102v2M400 126v3M400 172v1M401 108v1M401 115v1M401 125v1M401 127v1M401 164v1M401 184v1M402 104v1M402 106v1M402 108v1M402 110v2M402 126v1M402 183v1M403 107v1M403 112v3M403 123v1M403 126v1M404 104v3M404 112v1M404 115v1M404 123v1M404 176v5M405 106v2M405 135v1M406 115v1M406 127v1M406 129v2M406 132v1M406 146v1M407 110v2M407 116v2M407 123v1M407 126v1M407 129v1M407 145v1M407 147v2M408 113v1M408 115v2M408 131v2M408 144v1M409 125v3M409 145v1M410 115v1M410 132v1M410 144v1M411 109v1M411 111v4M411 128v5M411 135v1M412 113v3M412 132v1M412 135v1M412 140v1M412 152v2M412 179v1M413 113v2M413 138v1M413 180v1M413 183v2M414 113v2M414 139v1M415 101v1M415 117v1M415 139v1M415 143v2M415 182v1M418 106v3M418 119v7M418 128v1M418 147v1M418 168v4M418 175v1M419 109v1M419 118v1M419 120v3M419 132v1M419 135v1M420 107v3M420 119v1M420 121v4M420 136v1M420 179v2M421 112v1M421 117v1M421 125v1M421 135v1M421 138v1M422 112v2M422 123v1M422 139v1M422 142v2M422 146v1M423 109v1M423 123v1M423 131v1M423 136v1M423 139v4M423 145v2M424 111v1M424 113v1M424 137v2M424 141v3M424 146v1M425 110v1M425 118v2M425 126v1M425 129v4M425 141v1M425 147v1M426 128v1M426 139v1M426 142v1M427 111v1M427 123v2M427 127v2M427 133v1M427 144v1M428 128v1M428 131v1M429 101v3M429 114v1M429 126v2M429 136v1M429 139v1M430 130v1M430 136v1M430 150v1M431 116v2M431 131v2M431 141v1M431 144v1M431 146v2M432 106v4M432 120v1M432 134v1M432 144v1M433 120v2M433 123v1M433 152v1M434 132v1M434 139v1M434 147v2M434 154v1M435 106v1M435 133v2M435 136v4M435 145v1M435 154v1M436 123v3M436 139v1M436 149v2M436 170v1M436 180v1M437 124v1M437 152v1M619 85v1M619 99v5M620 86v1M620 95v7M620 203v1M621 88v2M622 82v1M622 87v1M622 207v1M623 95v1M623 204v1M624 85v1M625 83v1M625 86v1M625 89v6M625 96v1M626 88v3M628 80v3M628 95v3M629 79v5M629 92v1M629 101v1M630 83v3M630 99v2M630 205v1M631 86v2M631 90v5M631 211v1M632 92v5M633 85v1M633 95v1M633 98v4M634 79v2M634 87v1M634 90v2M635 77v2M635 81v1M636 203v1M637 89v1M662 94v3M662 100v1M663 93v8M663 210v1M664 84v2M664 90v3M664 95v1M664 102v2M664 212v1M665 82v1M665 102v2M666 83v1M666 95v2M666 102v3M667 85v1M667 216v1M668 87v1M669 213v1M670 82v2M670 98v8M671 85v1M671 87v2M672 86v4M673 89v3M674 96v3M674 217v1M675 91v2M675 95v4M676 83v2M677 215v1M678 86v1M678 90v3M679 86v20M680 90v25M681 91v2M681 95v22M682 96v2M682 106v11M682 199v1M683 86v9M683 97v4M683 110v7M683 199v1M684 88v18M684 109v8M685 87v30M686 95v22M686 196v1M689 86v1M689 90v2M690 88v7M691 95v1M691 194v1M693 92v6M694 86v4M694 95v4M695 88v2M695 201v1M696 204v1M697 96v1M698 94v1M698 96v5M699 83v3M699 95v1M699 200v1M699 203v1"/>
<path stroke="#0010f2" d="M106 100v1M239 83v2M240 82v7M241 85v8M242 89v1M242 91v1M251 90v4M253 104v2M259 89v4M265 95v3M266 98v1M276 78v2M277 80v4M277 97v1M278 104v2M280 112v2M284 96v2M286 95v3M286 104v2M286 113v2M287 107v2M287 111v2M287 115v3M288 95v3M288 100v5M288 107v2M288 113v1M288 115v4M289 95v1M289 104v1M289 107v3M289 112v2M289 117v3M290 98v1M290 101v5M290 110v1M290 121v3M290 126v3M291 103v2M291 108v1M291 113v3M291 126v1M292 110v2M292 113v2M292 119v2M293 113v11M294 99v2M294 122v1M295 103v4M295 125v1M296 106v6M297 104v1M297 108v6M297 115v1M298 108v3M298 115v1M299 114v1M299 117v2M299 124v1M300 117v1M300 126v1M301 123v2M301 127v2M302 125v5M303 130v1M319 149v2M319 152v1M319 162v1M320 158v1M321 156v1M321 160v2M323 159v1M324 148v1M324 156v3M324 160v2M325 149v3M326 145v1M326 147v1M327 149v1M327 155v2M327 160v1M328 160v2M329 142v2M330 142v3M330 150v1M331 137v1M331 142v3M331 149v2M331 154v1M332 138v1M332 145v1M332 147v5M332 157v2M333 139v1M333 144v2M333 153v1M333 160v2M334 134v1M334 138v3M334 162v2M337 141v1M337 146v1M337 161v1M338 160v1M338 168v1M339 125v1M339 132v1M339 146v1M339 149v1M339 153v1M340 126v1M340 131v1M340 149v1M340 154v1M341 129v1M341 158v1M341 167v1M342 119v2M342 131v1M342 152v1M342 169v1M343 129v2M343 153v1M344 121v3M344 135v1M344 161v3M345 152v1M345 156v1M345 162v2M346 137v1M346 144v2M346 159v4M346 171v1M347 136v3M347 154v1M347 163v1M348 120v3M348 147v2M349 158v2M349 162v1M350 126v5M350 150v1M351 130v1M351 133v2M351 150v1M351 173v1M352 130v1M352 137v2M352 151v1M353 132v1M353 139v2M353 144v2M354 146v2M354 155v2M355 138v1M355 144v3M355 158v2M356 147v1M357 147v1M357 152v1M358 147v1M358 152v1M359 143v1M359 149v1M360 146v1M360 148v2M360 154v1M361 152v5M361 170v2M364 149v2M364 157v5M364 166v2M364 173v1M365 140v1M365 152v1M365 159v1M365 163v1M366 134v2M366 137v1M366 140v1M366 160v2M366 164v2M366 181v1M367 135v1M367 162v4M367 167v1M367 177v1M368 131v4M368 136v1M368 156v1M368 165v1M369 136v2M369 147v1M369 156v1M370 138v1M370 149v2M370 159v1M370 171v1M370 181v1M372 141v1M372 143v1M372 162v1M372 176v1M373 135v1M373 158v2M373 165v1M374 147v1M374 179v1M375 110v1M376 148v1M376 152v2M377 150v2M377 160v1M378 156v1M379 159v1M379 179v2M382 162v3M382 166v2M383 161v1M383 169v1M385 172v1M386 173v1M387 174v2M388 172v1M391 115v1M391 125v1M391 129v1M391 171v1M392 128v3M392 172v1M393 114v1M393 123v1M393 125v1M393 159v1M394 113v1M394 115v3M394 119v1M394 121v4M394 127v1M394 130v2M394 180v1M395 111v2M395 120v2M395 123v4M395 161v1M395 163v2M395 178v3M396 107v2M396 112v1M396 119v1M396 130v1M396 160v2M397 101v1M397 108v2M397 111v1M397 120v1M397 125v3M397 162v1M397 166v2M397 183v1M398 123v2M398 156v1M399 107v2M399 117v1M399 124v1M399 128v1M399 157v1M399 170v1M399 172v1M400 104v1M400 110v2M400 118v2M400 129v2M400 159v1M401 104v4M401 110v2M401 116v1M401 118v2M401 122v1M401 124v1M401 126v1M402 105v1M402 107v1M402 118v1M402 120v5M403 106v1M403 122v1M404 113v2M404 116v2M405 115v1M405 125v1M406 107v3M406 125v2M407 118v1M407 128v1M407 130v2M407 133v2M408 114v1M408 133v1M408 138v1M408 145v1M409 146v1M409 151v1M410 116v1M410 126v4M410 131v1M410 145v1M410 147v2M410 160v1M411 117v1M411 126v2M411 147v1M411 149v1M411 167v1M412 109v1M412 112v1M412 116v1M412 131v1M412 133v1M412 139v1M412 141v2M413 111v2M413 115v3M413 133v1M413 141v1M413 155v2M414 115v3M414 138v1M414 157v3M415 115v2M415 118v1M415 126v2M415 145v1M415 160v1M418 109v1M418 129v1M418 148v1M418 172v3M418 176v2M418 183v1M419 110v1M419 119v1M419 133v2M419 138v1M419 170v2M419 175v1M419 178v1M420 118v1M420 139v2M420 178v1M421 113v4M421 118v3M421 123v2M421 143v1M421 179v4M422 114v1M422 122v1M422 135v1M422 140v2M422 144v2M422 179v3M423 122v1M423 133v2M423 137v2M424 114v1M424 124v1M424 136v1M424 139v2M424 147v2M424 184v2M425 111v1M425 115v3M425 122v1M425 125v1M425 127v1M425 142v1M425 148v4M426 112v1M426 118v2M426 123v2M426 143v1M427 126v1M427 134v1M427 145v1M428 113v1M428 135v3M428 146v1M429 137v2M429 149v1M430 115v1M430 128v2M430 151v1M431 119v1M431 142v2M431 152v1M432 133v1M432 145v2M432 154v1M433 125v1M433 134v2M433 146v1M433 153v2M433 156v1M434 133v6M434 152v2M434 157v1M435 149v1M435 155v2M435 160v2M436 116v2M436 135v4M436 146v3M436 179v1M436 181v1M436 186v1M437 153v1M437 175v1M437 187v1M618 95v1M619 104v2M619 201v1M620 87v2M620 92v3M620 102v1M621 90v2M622 83v3M622 88v2M622 92v3M622 205v1M623 86v2M623 96v3M624 209v1M625 84v1M625 87v2M625 97v2M626 87v1M626 91v1M626 95v2M626 102v4M627 106v1M627 203v1M628 98v4M628 206v1M629 84v2M629 93v1M629 102v2M630 86v8M630 96v3M630 101v2M630 110v4M631 88v2M631 106v1M631 111v2M632 97v3M632 103v9M633 96v2M633 102v1M633 106v1M633 122v3M633 211v1M634 92v1M634 100v4M635 82v2M635 204v1M662 101v1M662 106v6M663 101v2M664 83v1M664 93v1M664 96v6M664 104v2M665 100v2M665 104v2M666 84v1M666 89v1M666 105v1M667 100v1M667 106v4M667 217v2M668 88v2M670 86v3M670 210v1M671 89v5M671 106v1M672 90v2M672 103v2M673 92v3M674 95v1M674 99v2M675 93v1M675 99v2M675 213v1M676 85v1M676 89v1M676 211v1M677 88v2M678 93v2M680 205v1M681 117v9M682 117v13M683 117v13M684 117v13M685 117v13M685 195v1M686 117v13M689 92v3M689 185v1M690 95v2M691 96v4M692 99v1M693 98v1M693 199v1M694 90v2M694 99v3M695 90v2M697 97v5M698 101v4M698 207v1M699 96v4"/>
<path stroke="#0025e1" d="M284 99v1M285 112v4M286 115v4M287 109v2M287 118v1M288 105v1M288 109v4M288 119v1M289 96v1M289 101v3M289 106v1M289 120v1M290 111v1M290 124v2M291 109v4M292 112v1M293 112v1M293 124v1M294 101v2M294 123v1M294 126v4M297 105v1M300 118v8M301 121v2M301 126v1M303 131v4M320 157v1M321 159v1M322 157v1M322 161v1M326 148v1M326 153v1M327 150v3M327 154v1M327 159v1M328 150v1M328 156v3M329 140v1M329 152v1M330 139v3M330 153v1M331 138v2M331 141v1M331 151v2M331 155v2M332 144v1M332 159v1M333 152v1M334 154v1M334 157v3M337 159v2M337 168v1M338 131v1M338 143v1M338 149v3M339 127v1M339 145v1M339 152v1M339 154v3M339 161v1M340 127v1M340 132v2M340 157v1M340 165v1M341 130v1M341 151v1M341 159v1M341 165v2M342 132v3M342 160v1M342 168v1M343 131v4M343 136v2M344 141v1M344 154v1M344 160v1M344 164v1M344 170v1M345 151v1M345 155v1M345 164v1M346 136v1M346 153v2M346 163v1M348 156v1M348 162v1M349 149v1M349 157v1M349 163v1M350 151v1M350 154v1M350 159v1M350 165v1M351 131v2M351 151v1M351 162v2M352 131v3M352 165v1M353 133v2M354 140v1M355 143v1M356 139v2M356 144v3M357 153v1M357 162v2M358 143v1M358 146v1M358 153v1M358 165v1M359 146v1M359 148v1M359 159v1M360 147v1M360 155v1M360 161v1M361 149v3M361 157v3M361 165v1M361 172v1M364 162v2M365 153v1M365 164v1M366 138v1M366 157v1M366 180v1M367 136v1M367 145v1M367 168v1M367 178v2M368 129v2M368 137v1M368 146v2M368 153v1M368 155v1M368 159v1M368 166v1M368 169v1M368 179v1M369 138v1M369 148v1M369 154v2M369 157v1M369 171v1M370 132v1M370 147v2M370 151v1M370 158v1M370 160v2M370 172v1M371 135v3M371 139v2M371 160v2M371 174v1M371 180v2M372 136v1M372 142v1M372 154v1M372 163v1M372 178v1M372 182v2M373 155v3M373 160v3M374 141v1M374 144v2M374 148v1M375 146v2M375 160v1M375 181v3M376 162v1M376 165v1M377 152v1M377 159v1M377 161v1M378 153v1M378 161v1M379 156v1M379 158v1M379 160v1M379 177v1M379 181v1M380 173v1M380 182v2M381 163v2M382 168v2M383 168v1M383 170v2M386 174v1M388 173v4M391 112v3M391 172v1M391 179v1M392 112v3M392 116v2M392 145v1M392 158v1M393 120v3M393 124v1M393 168v1M393 173v2M394 114v1M394 118v1M394 120v1M394 126v1M394 146v1M394 152v1M394 160v1M394 177v3M395 115v3M395 127v1M395 154v1M395 162v1M395 168v2M396 110v2M396 113v1M396 126v1M396 165v2M397 110v1M397 112v1M398 157v1M399 104v1M399 106v1M399 122v2M399 158v2M399 167v1M400 105v2M400 108v2M400 123v3M400 168v2M400 173v1M401 112v2M401 117v1M401 120v2M401 123v1M401 165v1M401 173v1M402 119v1M402 125v1M403 120v2M403 171v2M404 122v1M405 104v2M405 116v1M405 119v1M405 123v2M406 116v1M406 122v1M406 124v1M407 119v2M407 132v1M408 117v2M408 134v1M408 136v2M408 146v1M409 115v1M409 122v1M409 124v1M409 133v1M409 139v1M410 117v1M410 125v1M410 130v1M410 133v2M410 141v1M410 146v1M411 125v1M411 136v5M411 148v1M411 150v2M412 110v2M412 117v2M412 128v3M412 134v1M412 143v1M412 154v1M412 174v1M413 110v1M413 118v1M413 120v1M413 132v1M413 134v4M413 142v2M413 154v1M414 118v1M414 123v2M414 137v1M414 144v1M415 119v1M415 159v1M415 161v1M415 166v2M418 130v1M418 135v1M418 144v3M418 166v2M418 184v1M419 111v1M419 116v2M419 136v2M419 172v3M419 179v1M420 110v2M420 113v2M420 143v1M420 177v1M420 181v3M421 121v2M421 139v1M421 142v1M421 145v2M421 178v1M422 115v2M422 121v1M422 147v1M422 174v1M422 178v1M422 182v2M422 185v1M423 115v2M423 120v2M423 147v2M423 175v3M423 184v1M424 123v1M424 149v3M425 112v1M425 121v1M425 143v2M425 146v1M425 152v1M426 113v1M426 126v2M426 149v5M427 112v2M427 120v2M427 125v1M427 146v1M427 152v2M428 114v1M428 123v2M428 147v1M429 125v1M429 150v1M430 116v2M431 118v1M431 120v5M431 153v1M432 123v2M432 126v1M432 155v1M433 133v1M434 158v2M435 150v1M436 182v1M618 96v8M618 106v1M618 199v2M620 89v3M620 103v1M620 106v7M621 92v2M621 95v4M621 203v1M622 90v2M623 88v2M623 99v2M625 85v1M625 99v7M626 86v1M626 92v2M626 97v5M626 106v2M627 95v1M627 107v2M627 112v2M628 102v2M629 94v1M629 104v2M629 109v6M629 204v1M630 94v2M630 103v3M630 109v1M630 114v4M631 95v11M631 107v4M631 113v1M631 115v1M631 118v3M632 100v3M632 112v3M632 208v1M633 103v1M633 107v15M633 125v1M634 81v2M634 93v2M634 104v2M634 115v1M634 126v1M634 209v1M635 84v2M635 95v4M636 86v1M637 90v2M637 202v1M662 102v1M662 104v2M662 112v4M662 205v1M663 103v4M663 109v4M664 94v1M664 106v1M665 83v1M665 85v1M665 95v1M665 98v2M665 106v5M666 85v1M666 87v2M666 90v4M666 106v1M666 211v1M667 97v3M667 101v2M667 110v3M668 90v2M669 83v3M670 89v2M671 94v1M671 107v2M672 92v5M672 101v2M672 105v1M673 95v4M674 101v5M675 101v9M676 90v2M676 106v3M677 86v2M677 90v2M677 214v1M679 106v2M681 201v1M682 130v1M683 130v1M684 130v3M684 196v1M685 130v5M686 130v8M689 187v1M690 97v1M691 100v1M692 100v2M693 99v1M694 92v3M694 102v2M695 92v7M697 102v1M697 205v1M698 105v1M698 206v1M699 100v5"/>
<path stroke="#003acf" d="M284 98v1M286 119v2M287 119v1M288 120v1M288 126v1M289 97v4M289 121v2M289 125v1M289 128v1M294 124v2M320 153v2M322 158v3M322 162v1M326 149v1M326 152v1M326 165v1M327 153v1M328 151v1M328 154v2M328 159v1M329 141v1M329 157v1M329 160v2M330 151v1M330 156v1M331 140v1M331 153v1M332 152v2M333 140v1M333 147v1M333 154v1M333 156v4M333 163v1M334 141v2M334 146v1M334 153v1M334 160v2M337 140v1M337 157v2M337 169v1M338 141v2M338 159v1M339 133v1M339 144v1M339 160v1M340 128v3M340 134v1M340 147v1M340 158v1M340 164v1M341 133v1M341 150v1M342 151v1M343 138v1M343 152v1M343 165v1M344 142v1M345 133v2M346 135v1M346 146v1M346 152v1M346 166v1M347 147v1M347 164v2M348 149v1M348 163v1M348 172v1M349 150v1M349 154v1M349 172v1M350 152v2M350 155v4M351 152v2M351 155v2M351 158v4M351 164v2M351 172v1M352 134v2M352 155v2M352 160v1M352 172v1M353 154v2M353 158v2M353 173v1M354 136v4M354 161v1M355 142v1M355 160v1M356 141v3M356 160v1M356 174v1M357 139v2M357 145v2M357 164v1M358 141v2M358 144v2M358 154v1M358 166v1M359 147v1M359 157v2M359 176v1M360 156v1M360 160v1M364 164v2M364 170v3M365 148v4M365 175v1M366 141v2M366 155v2M366 158v2M366 166v2M367 137v1M367 141v4M367 146v1M367 153v1M367 160v2M368 138v1M368 144v2M368 148v1M368 152v1M368 154v1M368 157v2M368 160v1M368 162v3M368 167v2M369 149v2M369 158v2M369 165v3M369 172v1M369 179v1M370 133v2M370 157v1M370 162v1M370 168v2M371 138v1M371 141v4M371 152v1M371 162v1M371 173v1M371 177v1M371 179v1M372 137v1M372 140v1M372 144v2M372 152v2M372 164v1M372 168v1M373 136v1M373 141v1M373 144v2M373 147v2M373 154v1M373 163v2M373 177v1M374 142v2M374 146v1M374 157v3M374 168v2M374 178v1M375 140v2M375 148v3M375 161v1M376 160v2M376 163v2M376 166v2M376 181v1M377 153v4M377 166v1M377 168v2M378 155v1M378 179v3M379 155v1M379 157v1M379 170v1M379 173v3M379 182v1M380 163v2M380 174v3M380 181v1M381 166v2M381 182v1M382 165v1M383 172v1M384 170v2M385 173v1M388 177v1M388 183v2M391 110v2M391 161v5M391 167v1M391 178v1M391 181v1M392 115v1M392 165v5M392 173v1M393 115v5M393 149v3M393 160v1M393 162v6M393 169v2M394 148v1M394 151v1M394 153v1M394 161v1M394 165v6M394 176v1M395 113v1M395 152v1M395 165v1M395 167v1M395 170v1M395 183v1M396 114v1M396 118v1M396 125v1M396 127v1M396 167v1M397 113v2M397 168v2M397 182v1M398 158v3M398 170v2M398 183v2M399 105v1M399 121v1M399 165v2M399 173v1M400 107v1M400 120v3M400 160v2M400 164v1M400 166v2M400 174v1M401 114v1M401 169v2M401 174v1M402 112v5M402 169v1M403 115v3M404 118v4M405 117v2M405 121v2M406 117v5M406 123v1M407 121v2M407 146v1M408 124v1M409 116v1M409 121v1M409 123v1M409 134v3M409 140v1M409 147v2M410 123v2M410 135v1M410 139v2M410 142v1M410 149v2M410 157v3M411 118v1M411 157v1M411 162v2M412 119v1M412 151v1M412 171v3M412 178v1M413 119v1M413 121v1M413 131v1M413 158v3M413 162v1M413 175v1M414 119v1M414 126v2M414 133v1M414 136v1M414 155v2M414 160v1M414 165v1M415 138v1M415 158v1M415 168v1M415 178v3M418 110v1M418 112v3M418 131v2M418 134v1M418 149v1M419 115v1M419 140v1M419 149v3M419 168v2M419 180v1M419 182v1M420 112v1M420 117v1M420 142v1M420 176v1M421 140v2M421 144v1M421 171v1M421 177v1M421 183v2M422 117v4M422 148v1M422 172v2M422 177v1M422 184v1M423 117v1M423 119v1M423 149v3M423 178v1M423 183v1M424 118v1M425 113v1M425 120v1M425 123v2M425 145v1M425 153v1M425 180v4M426 125v1M426 144v1M426 177v1M427 114v1M427 122v1M427 154v1M427 184v1M428 115v1M428 148v1M428 154v2M429 115v1M429 151v1M430 122v1M430 152v2M430 160v2M431 130v1M431 154v2M431 186v1M432 125v1M432 127v1M432 156v2M432 186v1M432 189v2M433 126v3M433 130v1M433 132v1M433 147v2M433 157v1M434 149v1M434 186v2M435 151v1M435 166v2M435 186v1M436 152v2M436 167v1M436 183v1M618 104v2M618 107v1M618 115v2M618 198v1M619 106v2M620 104v2M620 113v2M621 94v1M621 99v3M621 106v6M621 115v6M621 202v1M621 204v1M622 95v7M623 90v5M623 101v1M624 95v3M626 94v1M626 108v1M627 96v1M627 100v6M627 109v3M627 114v1M628 104v7M628 115v3M628 204v1M629 106v3M630 106v3M630 118v1M631 114v1M631 116v2M631 121v2M632 115v7M633 104v2M634 83v3M634 106v4M634 116v2M634 127v2M635 99v3M635 106v1M636 87v4M636 105v1M637 92v3M637 105v7M662 103v1M662 116v1M663 107v2M663 113v1M663 115v4M663 207v1M663 209v1M664 107v5M665 84v1M665 96v2M665 111v2M666 86v1M666 94v1M666 107v4M667 86v6M667 95v2M667 103v3M667 113v2M668 92v3M668 106v6M669 95v8M669 212v1M670 91v4M670 107v3M671 95v2M671 109v3M672 97v4M672 111v3M673 99v2M673 103v5M674 106v1M675 94v1M675 110v5M675 212v1M676 92v3M676 109v2M677 92v1M677 95v3M679 108v4M680 115v5M680 204v1M682 131v1M683 131v1M684 133v2M686 138v1M686 195v1M690 98v7M691 101v1M692 102v2M693 100v3M694 104v2M694 207v1M695 99v1M695 202v1M695 204v1M696 95v3M697 103v1M699 105v2"/>
<path stroke="#004fbe" d="M289 123v2M289 126v2M320 155v2M321 158v1M326 150v2M328 152v2M329 153v1M329 155v2M329 158v2M330 155v1M332 139v1M332 141v3M332 154v1M332 156v1M332 166v1M333 143v1M333 146v1M333 148v1M333 150v2M333 155v1M334 143v1M334 147v1M334 149v4M337 131v1M337 147v2M337 150v2M337 155v1M338 132v1M338 152v2M338 158v1M339 134v1M339 157v1M340 135v1M340 146v1M340 148v1M340 159v1M341 131v2M341 134v3M341 160v1M342 136v4M342 150v1M342 161v2M343 139v1M343 162v2M343 170v1M344 143v1M344 151v1M344 153v1M345 144v1M345 150v1M345 165v2M346 164v1M346 167v1M347 148v1M348 150v6M348 164v1M348 171v1M349 151v3M349 155v2M349 164v1M351 154v1M351 157v1M351 166v1M352 152v2M352 157v3M352 161v4M353 135v4M353 156v2M353 162v1M353 166v1M354 157v4M354 173v1M355 139v1M355 141v1M355 161v1M356 161v1M356 177v2M357 141v4M357 165v1M357 176v2M358 155v2M358 167v1M359 144v2M359 154v3M359 168v2M360 170v1M361 162v1M364 139v4M364 168v1M365 145v1M365 147v1M365 165v5M365 173v2M366 143v1M366 146v2M366 154v1M366 174v1M366 176v1M367 138v2M367 150v3M367 154v1M367 156v4M367 169v1M367 175v2M368 139v1M368 151v1M368 161v1M368 170v1M368 178v1M369 144v3M369 151v3M369 160v2M370 139v1M370 143v4M370 152v3M370 163v4M370 180v1M371 145v2M371 149v3M371 153v1M371 155v3M371 163v2M371 166v2M371 170v1M371 175v1M372 138v2M372 160v2M372 165v3M372 169v2M372 173v3M373 137v4M373 142v2M373 149v1M373 166v2M373 176v1M374 155v2M374 160v2M374 166v2M375 151v1M375 155v5M375 162v1M375 164v1M375 168v4M375 180v1M376 154v1M376 158v2M377 158v1M377 162v1M377 165v1M377 167v1M377 170v1M377 182v1M378 154v1M378 168v3M378 176v3M378 182v2M379 167v2M379 171v2M379 176v1M379 183v1M380 165v1M380 169v3M380 177v1M381 165v1M381 181v1M382 180v1M382 182v1M384 172v1M384 174v2M385 174v1M385 176v2M385 182v1M386 175v1M391 166v1M391 182v1M392 163v2M392 174v2M392 180v1M393 146v1M393 161v1M393 171v1M393 177v1M394 147v1M394 149v2M394 171v1M395 114v1M395 153v1M395 155v2M395 166v1M395 171v1M395 177v1M396 128v2M396 152v2M396 155v1M396 157v1M396 168v3M396 179v2M397 115v1M397 119v1M397 155v1M398 115v3M398 122v1M398 161v4M398 172v1M398 182v1M399 118v3M399 160v1M399 163v2M399 174v1M399 183v1M400 163v1M400 165v1M401 171v2M401 175v1M402 117v1M403 118v2M403 173v1M405 120v1M408 119v1M408 123v1M408 135v1M408 149v1M409 120v1M409 137v2M409 150v1M410 121v1M410 137v2M410 143v1M410 151v1M410 154v3M411 141v1M411 146v1M411 152v2M411 155v2M411 158v4M411 166v1M412 144v1M412 160v1M412 170v1M412 175v1M413 122v1M413 125v1M413 144v1M413 146v1M413 152v2M413 157v1M413 161v1M413 176v1M413 179v1M414 120v3M414 125v1M414 128v3M414 134v2M414 145v1M414 161v1M414 164v1M414 166v2M415 120v1M415 125v1M415 136v2M415 157v1M415 162v4M415 169v1M415 177v1M415 181v1M418 111v1M418 133v1M418 136v2M418 150v1M418 165v1M418 178v2M419 139v1M419 141v5M419 147v2M419 183v2M420 116v1M420 141v1M420 144v6M420 152v1M420 168v1M420 170v1M420 175v1M421 154v1M421 169v2M421 172v3M421 176v1M421 188v1M422 149v4M422 157v2M422 170v2M422 175v2M423 118v1M423 179v1M424 119v1M424 152v2M424 177v3M424 181v2M425 114v1M425 154v1M425 178v2M426 114v4M426 145v4M426 154v2M426 176v1M426 180v2M427 147v2M427 151v1M427 155v1M427 178v2M428 116v1M428 153v1M428 156v1M429 120v3M429 158v2M429 181v2M430 118v4M430 123v5M430 154v1M431 125v1M431 129v1M431 180v1M431 185v1M432 132v1M432 158v2M432 180v1M433 129v1M433 131v1M434 150v1M434 164v2M434 184v2M435 162v1M435 168v1M435 185v1M436 155v2M436 171v1M436 178v1M436 184v1M436 187v1M437 185v1M438 187v2M618 108v3M618 117v1M618 197v1M619 108v2M619 193v1M620 195v1M621 102v1M621 112v1M621 121v1M622 102v2M623 102v3M623 200v1M624 98v2M624 208v1M625 200v1M626 109v2M626 203v2M627 97v3M628 111v3M628 118v1M629 115v3M629 203v1M630 119v1M630 204v1M631 123v1M631 126v2M632 122v3M634 110v2M634 118v1M634 123v3M634 129v6M634 205v1M635 86v2M635 94v1M635 102v1M635 107v4M635 126v1M636 91v6M636 104v1M636 117v3M637 95v1M637 103v2M637 112v1M662 117v1M663 114v1M663 119v2M663 206v1M663 208v1M664 112v2M664 115v2M665 113v2M666 111v2M667 92v3M668 95v6M668 112v5M668 208v1M669 103v3M669 115v3M670 106v1M670 110v1M671 97v2M671 101v5M671 112v3M672 106v5M672 114v2M673 101v2M673 108v1M673 113v1M673 115v1M674 107v1M674 216v1M676 95v1M676 98v2M676 111v1M676 115v1M677 93v2M677 98v2M678 95v11M679 112v2M680 120v2M682 132v1M683 132v2M685 135v1M686 139v1M689 186v1M690 105v1M691 102v1M691 106v2M692 104v1M692 196v1M693 103v2M695 100v1M695 106v2M695 199v1M695 203v1M695 206v1M696 98v1M697 104v1M699 107v1M699 199v1"/>
<path stroke="#0064ad" d="M287 120v1M287 124v1M288 121v1M288 125v1M321 157v1M323 160v2M330 154v1M330 164v1M331 157v3M331 162v1M332 140v1M332 155v1M332 160v1M332 165v1M333 141v2M333 149v1M333 162v1M333 166v2M334 144v1M337 139v1M337 149v1M337 152v1M337 154v1M337 156v1M338 139v2M338 154v1M338 157v1M339 135v1M339 143v1M339 158v2M340 144v2M340 162v2M341 149v1M341 161v4M342 135v1M342 140v2M342 149v1M342 163v1M342 165v3M343 140v1M343 150v2M343 164v1M343 169v1M344 144v1M344 148v3M344 152v1M344 168v1M345 149v1M345 167v1M346 165v1M347 153v1M348 170v1M349 171v1M350 166v1M350 172v1M352 154v1M352 166v1M352 171v1M353 160v1M353 167v2M354 162v2M354 174v2M355 140v1M355 162v2M355 173v1M358 168v1M360 159v1M360 171v1M360 175v2M361 160v2M361 163v2M361 176v1M364 143v3M364 148v1M364 169v1M365 144v1M365 146v1M365 172v1M366 148v2M366 151v3M366 168v1M366 170v1M366 173v1M366 175v1M367 140v1M367 147v3M367 155v1M367 173v2M368 140v2M368 149v2M368 171v2M369 139v5M369 162v3M369 178v1M370 140v3M370 155v2M370 167v1M370 173v1M370 179v1M371 147v2M371 158v2M371 165v1M371 168v1M371 171v2M371 176v1M371 178v1M372 146v1M372 150v2M372 155v1M372 159v1M372 171v1M373 150v1M373 168v1M374 154v1M374 162v4M374 170v1M375 154v1M375 163v1M375 166v2M375 172v1M375 179v1M376 155v3M376 168v4M376 180v1M377 157v1M377 163v1M377 171v5M377 180v2M378 162v1M378 171v2M378 175v1M379 161v1M379 166v1M379 169v1M379 184v2M380 167v2M380 172v1M380 178v1M381 168v2M381 176v2M381 180v1M382 170v1M382 178v2M382 181v1M383 173v1M384 173v1M384 182v1M385 175v1M385 179v2M386 179v1M387 176v1M388 180v2M391 177v1M392 159v4M392 178v2M393 147v2M393 172v1M393 175v2M394 162v3M394 181v1M395 172v2M395 175v2M396 115v3M396 154v1M396 156v1M396 158v2M396 171v1M396 176v3M397 116v3M397 156v1M397 160v2M397 170v5M398 118v4M398 181v1M399 161v2M400 162v1M400 175v1M402 175v2M403 174v1M403 184v1M408 147v2M409 117v2M409 149v1M410 118v3M410 122v1M410 136v1M410 153v1M411 119v3M411 124v1M411 142v4M411 154v1M411 164v1M412 120v8M412 145v1M412 149v2M412 155v2M412 161v2M412 165v1M412 169v1M412 176v2M413 124v1M413 126v5M413 145v1M413 147v5M413 163v2M413 170v5M413 177v2M414 131v2M414 154v1M414 162v2M414 175v3M414 179v3M415 121v1M415 124v1M415 128v1M415 133v2M415 146v1M415 156v1M415 176v1M418 138v1M418 143v1M418 151v1M418 160v2M418 180v1M419 112v1M419 146v1M419 152v1M419 159v3M419 163v5M420 115v1M420 150v2M420 153v1M420 166v2M420 169v1M420 171v1M420 173v2M420 184v2M421 147v1M421 168v1M421 175v1M421 187v1M422 153v1M422 155v2M422 159v1M422 168v2M423 152v2M423 180v3M424 122v1M424 154v1M424 180v1M425 155v2M425 175v1M425 177v1M426 156v1M426 178v2M426 182v2M427 115v5M427 149v2M427 156v1M427 177v1M427 180v1M428 117v4M428 149v4M428 179v3M428 183v1M429 116v1M429 118v2M429 123v2M429 152v2M429 157v1M429 160v1M429 171v4M429 183v1M430 159v1M430 175v1M430 183v2M431 126v3M431 156v1M431 159v4M431 174v1M431 177v3M431 187v2M432 128v1M432 131v1M432 160v1M432 175v2M432 179v1M432 181v2M433 158v4M433 182v1M433 184v3M434 151v1M434 160v4M434 183v1M435 152v2M435 169v1M435 184v1M436 154v1M436 166v1M436 177v1M436 188v1M437 154v1M618 111v1M618 118v1M619 110v2M620 125v1M621 103v1M621 113v2M621 122v1M621 124v4M621 201v1M621 205v1M622 104v2M622 115v4M622 126v3M622 204v1M622 206v1M623 105v1M624 100v4M624 106v1M624 110v1M624 205v1M626 111v4M626 205v1M627 202v1M628 114v1M628 119v2M629 118v1M630 120v1M630 124v2M631 124v2M631 128v2M632 125v1M633 126v2M633 205v1M634 112v3M634 119v4M635 88v6M635 103v2M635 111v2M635 117v3M635 127v2M635 135v1M636 97v3M636 103v1M636 115v2M636 120v2M636 124v2M637 96v7M637 113v2M637 126v1M637 131v1M662 118v2M662 126v2M663 121v1M664 114v1M664 117v2M665 115v1M666 113v3M667 115v4M668 101v1M669 108v4M669 118v2M670 111v2M670 209v1M671 99v2M672 116v2M673 109v4M673 114v1M673 116v5M674 108v1M674 115v1M675 211v1M676 96v2M676 100v6M676 112v1M676 116v1M676 119v3M677 100v1M677 106v1M679 114v1M680 122v1M681 126v2M682 133v1M683 134v2M685 136v1M685 194v1M686 140v1M689 95v4M689 106v2M689 184v1M691 103v2M691 108v7M692 197v1M693 105v1M694 201v1M694 206v1M695 101v5M695 108v2M696 99v1M697 105v1M697 204v1M699 108v2M699 112v1"/>
<path stroke="#007a9b" d="M287 121v1M287 123v1M329 154v1M330 157v1M330 160v4M331 160v2M332 161v2M334 145v1M334 148v1M337 153v1M338 138v1M338 155v2M340 136v1M340 160v1M341 137v1M341 147v1M342 142v2M342 164v1M343 141v1M343 146v1M343 149v1M343 168v1M344 145v1M344 147v1M344 166v1M344 169v1M345 145v2M345 170v1M346 150v2M346 168v2M347 149v4M347 168v2M348 165v1M349 170v1M350 167v1M351 167v1M351 171v1M352 167v2M352 170v1M353 161v1M353 163v1M353 169v4M354 164v1M354 170v3M355 164v1M355 172v1M356 162v4M357 166v3M358 169v2M358 174v2M359 170v6M359 177v2M360 157v2M360 172v3M361 173v3M361 177v1M364 146v2M365 141v3M365 170v2M366 145v1M366 150v1M366 169v1M366 171v2M367 170v2M368 142v2M368 173v1M368 176v2M370 174v2M370 178v1M371 154v1M371 169v1M372 147v3M372 156v3M372 172v1M373 151v3M373 169v1M374 149v1M374 153v1M374 171v1M375 152v2M375 165v1M375 178v1M376 172v2M376 178v2M377 164v1M377 176v4M378 163v5M378 173v2M379 162v4M380 166v1M380 179v2M381 170v1M381 175v1M381 178v2M382 171v1M383 174v1M383 180v2M384 176v1M384 183v1M385 178v1M385 183v2M386 176v1M386 178v1M386 180v3M387 177v1M387 181v2M388 178v2M391 173v4M392 177v1M392 181v2M394 172v1M394 174v2M395 174v1M396 172v1M396 175v1M397 157v3M397 181v1M398 173v1M398 175v1M399 175v1M400 182v1M401 176v1M401 183v1M402 170v1M403 175v1M403 183v1M408 120v3M409 119v1M410 152v1M411 122v2M411 165v1M412 146v1M412 157v3M412 163v1M412 168v1M413 123v1M413 166v1M413 168v2M414 146v8M414 178v1M415 122v2M415 129v4M415 135v1M415 151v5M415 174v1M418 139v1M418 142v1M418 152v1M418 159v1M418 162v3M419 113v2M419 153v1M419 162v1M419 181v1M420 154v1M420 172v1M421 148v6M421 155v3M421 167v1M422 154v1M422 167v1M423 154v2M423 170v5M424 121v1M424 155v5M424 174v3M425 157v2M425 174v1M425 176v1M426 157v1M427 157v1M427 176v1M427 183v1M428 121v2M428 157v3M428 178v1M428 182v1M429 117v1M429 154v3M429 161v1M430 155v2M430 158v1M430 162v1M430 176v2M430 185v1M431 157v2M431 173v1M431 176v1M431 181v1M432 129v2M432 161v1M432 177v2M432 184v2M433 162v2M433 181v1M433 183v1M435 163v3M435 170v1M435 175v1M435 183v1M436 172v1M436 185v1M437 186v1M618 112v3M618 119v2M619 112v7M619 200v1M620 115v5M620 124v1M620 202v1M621 104v1M621 123v1M621 128v1M622 119v2M622 129v3M623 106v3M624 104v2M624 107v3M624 111v2M625 106v9M626 115v2M626 202v1M627 115v2M628 121v3M629 119v1M629 202v1M630 121v3M631 130v3M631 210v1M632 126v2M632 207v1M633 128v3M634 208v1M635 105v1M635 113v4M635 120v2M635 129v3M635 133v1M635 136v2M636 100v3M636 106v5M636 122v2M637 127v4M637 132v2M662 120v5M662 128v2M663 122v1M664 119v1M665 116v1M665 210v1M666 116v1M667 119v1M668 102v1M668 117v1M669 107v1M669 112v1M669 120v1M669 211v1M670 113v1M672 118v1M672 214v1M673 121v3M674 109v5M674 116v2M676 113v2M676 117v2M676 122v3M677 101v5M677 107v2M678 106v1M678 210v1M680 123v2M680 207v1M681 128v3M681 200v1M682 134v1M682 198v1M683 136v1M683 198v1M684 135v1M684 194v2M685 137v2M685 189v2M686 141v1M689 99v1M689 108v1M690 191v1M691 105v1M692 105v1M692 115v2M693 198v1M694 106v2M694 200v1M695 110v1M696 100v3M696 106v2M698 106v5M699 110v2M699 113v2"/>
<path stroke="#008e89" d="M287 122v1M288 122v1M330 158v2M337 132v1M337 138v1M338 133v1M338 137v1M339 142v1M340 143v1M340 161v1M341 138v1M341 146v1M341 148v1M342 148v1M343 144v2M343 148v1M343 166v1M344 165v1M344 167v1M345 147v2M346 147v3M347 166v1M348 168v2M349 165v2M350 171v1M351 168v2M352 169v1M353 165v1M354 165v1M354 168v1M355 165v1M355 171v1M356 166v1M356 172v2M357 174v1M358 171v3M366 144v1M367 172v1M368 174v1M369 173v1M370 177v1M373 170v1M373 175v1M374 150v3M374 177v1M375 177v1M376 174v2M381 171v2M382 176v2M383 178v2M384 177v1M384 181v1M385 181v1M386 177v1M387 178v1M392 176v1M393 181v1M394 173v1M396 173v2M397 175v1M397 179v2M398 174v1M398 176v1M398 180v1M399 182v1M400 176v1M400 181v1M401 177v3M401 182v1M402 173v2M402 177v1M402 182v1M403 176v1M403 182v1M412 147v2M412 164v1M413 165v1M413 167v1M414 174v1M415 150v1M415 173v1M415 175v1M418 140v2M418 153v1M418 158v1M419 154v1M419 158v1M420 155v1M420 165v1M421 158v1M421 165v2M422 160v1M422 166v1M423 156v2M423 169v1M424 120v1M424 160v1M424 172v2M425 159v2M425 173v1M426 158v1M426 175v1M427 158v1M427 160v4M427 166v5M427 181v2M428 160v3M429 162v1M429 170v1M429 180v1M430 157v1M430 163v1M430 170v4M430 178v1M431 163v1M431 172v1M431 175v1M431 182v1M432 162v2M432 183v1M433 164v1M434 166v2M434 169v4M434 182v1M435 171v1M435 173v2M435 177v3M436 175v2M618 121v5M619 119v2M619 128v3M619 197v1M620 120v4M620 127v3M620 196v1M621 105v1M621 129v1M622 121v5M622 132v1M623 109v6M623 126v5M624 113v7M625 115v3M626 117v1M627 117v1M627 121v4M628 124v2M628 203v1M629 120v1M630 200v2M630 203v1M631 133v1M632 128v4M633 131v3M633 204v1M634 206v2M635 122v4M635 132v1M635 134v1M635 138v2M636 111v2M636 126v1M636 135v1M637 134v1M662 125v1M662 130v2M662 204v1M663 123v1M664 120v1M666 117v3M668 103v1M668 118v2M669 106v1M669 113v1M669 121v2M670 114v1M670 208v1M671 115v1M671 211v1M672 119v4M673 124v2M674 114v1M674 118v7M674 126v1M674 129v3M675 115v7M676 125v1M677 109v5M677 115v3M677 213v1M678 107v2M679 115v2M679 210v1M680 125v2M680 203v1M681 131v1M683 137v1M684 190v1M685 139v1M686 142v1M689 100v6M689 109v2M690 111v4M691 115v1M691 119v2M691 193v1M692 106v6M692 117v2M692 200v1M693 106v1M694 108v6M694 202v1M694 205v1M695 111v4M696 103v3M696 108v1M696 115v4M696 203v1M698 111v1"/>
<path stroke="#00a074" d="M288 123v2M337 136v2M338 134v1M339 136v1M339 141v1M340 137v1M340 142v1M341 139v2M341 143v3M342 144v2M343 142v2M343 147v1M343 167v1M344 146v1M345 168v2M346 170v1M347 167v1M347 170v3M348 166v1M349 167v1M351 170v1M353 164v1M354 166v2M354 169v1M356 167v5M357 169v2M357 172v2M368 175v1M369 174v4M370 176v1M373 171v1M374 172v1M374 176v1M375 173v2M375 176v1M376 176v2M381 173v2M382 172v1M382 175v1M383 175v2M384 178v2M387 179v2M393 178v3M397 176v3M398 177v1M398 179v1M399 181v1M400 177v4M401 180v2M402 171v2M402 178v1M402 181v1M403 177v1M403 181v1M412 166v2M414 168v1M414 173v1M415 147v1M415 149v1M415 170v1M415 172v1M418 154v2M418 157v1M419 157v1M420 156v1M420 158v4M421 159v2M421 164v1M422 161v1M423 158v3M423 167v2M424 161v2M424 171v1M425 161v2M425 165v1M425 171v2M426 159v1M426 162v13M427 159v1M427 164v2M427 171v2M427 175v1M428 163v6M428 171v3M428 176v2M429 163v5M429 169v1M429 178v2M430 164v1M430 166v4M430 174v1M430 179v4M431 164v1M431 168v4M431 183v2M432 164v11M433 165v1M433 169v7M433 178v3M434 168v1M434 173v2M434 176v4M434 181v1M435 172v1M435 176v1M435 180v3M436 173v2M618 196v1M619 121v7M619 131v1M619 196v1M619 198v2M620 126v1M620 130v1M621 130v2M621 200v1M622 106v3M622 133v2M622 203v1M623 131v1M623 135v2M624 120v1M624 207v1M625 118v2M626 118v1M627 118v3M627 125v1M627 197v1M628 126v4M629 121v3M629 126v5M630 202v1M631 134v1M632 132v1M632 135v1M632 205v1M633 134v1M633 203v1M633 210v1M634 204v1M635 140v6M636 113v2M636 127v3M636 136v4M637 115v7M662 132v2M663 124v1M663 126v2M664 121v2M665 117v4M666 120v3M666 210v1M667 120v1M667 213v2M668 104v2M668 120v4M669 114v1M669 123v3M670 119v2M670 126v3M671 116v4M672 123v3M674 125v1M674 127v2M674 132v1M675 122v2M675 126v3M676 210v1M677 114v1M677 118v3M677 126v2M678 109v3M678 115v2M679 117v4M680 127v1M681 132v1M684 136v1M684 189v1M684 191v1M685 140v1M685 191v1M686 143v1M689 111v3M689 118v2M690 106v5M691 116v3M691 121v3M692 112v1M692 119v7M692 195v1M693 107v1M694 114v1M695 115v1M696 109v2M696 119v2M697 106v2M698 112v3M699 198v1"/>
<path stroke="#00b15f" d="M337 135v1M338 136v1M339 137v2M339 140v1M340 138v1M340 141v1M341 141v2M342 146v2M348 167v1M349 168v2M350 168v3M355 166v1M355 170v1M357 171v1M373 172v3M374 173v3M375 175v1M382 173v2M383 177v1M384 180v1M398 178v1M399 176v5M402 179v2M403 178v3M414 169v4M415 148v1M415 171v1M418 156v1M419 155v2M420 157v1M420 162v3M421 161v3M422 164v2M423 161v6M424 163v1M424 166v3M424 170v1M425 163v2M425 166v5M426 160v2M427 173v2M428 169v2M428 174v2M429 168v1M429 175v3M430 165v1M431 165v3M433 166v3M433 176v2M434 175v1M434 180v1M618 126v4M618 135v1M618 139v3M619 132v2M620 131v2M620 134v1M621 132v8M622 109v6M622 135v4M623 115v2M623 132v2M623 137v2M623 151v4M623 199v1M624 121v2M624 152v10M625 120v2M625 155v1M625 168v2M626 119v7M627 126v5M627 196v1M627 198v1M627 201v1M628 130v1M629 124v2M629 131v1M629 201v1M630 126v2M630 129v5M632 136v7M632 206v1M633 202v1M634 135v1M635 203v1M636 130v4M636 140v1M636 146v3M636 202v1M637 122v2M637 157v2M662 134v1M663 125v1M663 128v6M663 135v5M664 123v2M664 126v1M664 211v1M665 121v2M666 123v3M667 121v1M667 212v1M668 124v1M669 210v1M670 115v4M670 121v2M670 125v1M670 129v6M671 120v9M671 135v2M672 126v2M673 126v4M674 133v1M675 124v2M675 129v1M675 210v1M677 121v5M677 128v6M677 212v1M678 112v3M678 117v2M678 126v1M679 121v6M680 128v2M681 133v1M683 138v2M683 142v2M684 137v1M685 141v2M685 188v1M685 193v1M686 144v1M689 114v4M689 120v1M689 183v1M690 115v8M691 124v2M691 129v1M691 133v2M692 113v1M692 126v2M692 135v1M692 198v1M693 108v3M693 126v2M693 197v1M695 116v2M696 111v2M696 121v1M697 108v1M697 203v1M699 115v4"/>
<path stroke="#00c24a" d="M337 133v2M338 135v1M339 139v1M340 140v1M355 167v3M422 162v2M424 164v2M424 169v1M618 130v2M618 136v3M618 142v2M619 134v1M620 133v1M620 135v2M620 197v1M621 140v1M621 144v2M622 139v7M622 202v1M623 117v2M623 134v1M623 139v2M623 142v5M623 150v1M623 196v1M624 123v1M624 138v2M624 146v6M624 162v4M624 204v1M625 122v2M625 127v5M625 156v2M625 165v3M625 170v2M626 166v3M626 201v1M627 131v2M628 131v2M629 132v3M630 128v1M630 134v3M631 135v4M632 133v1M632 143v2M632 201v2M634 136v1M634 143v3M636 134v1M636 141v2M636 149v6M637 124v2M637 138v2M637 155v2M637 159v2M637 201v1M663 134v1M663 140v1M664 125v1M664 127v5M664 135v1M665 123v1M665 126v4M666 128v4M667 122v1M667 126v7M667 211v1M668 125v1M670 123v2M670 205v1M670 207v1M671 129v6M671 137v2M672 128v2M672 213v1M673 130v5M674 134v2M674 215v1M675 130v1M675 141v3M676 126v1M677 134v1M678 119v7M678 127v3M678 135v1M679 127v2M680 130v4M681 134v2M682 135v2M682 138v2M683 140v2M683 144v1M684 138v1M684 192v2M685 143v1M685 192v1M686 145v1M689 121v5M690 123v1M690 126v2M691 127v2M691 130v3M691 136v2M692 114v1M692 128v7M692 136v1M693 111v8M693 128v4M693 135v4M694 115v3M694 203v2M695 118v1M696 113v2M696 122v2M697 109v1M697 115v2M699 119v1"/>
<path stroke="#00d435" d="M340 139v1M618 132v2M618 144v2M618 155v5M618 166v1M619 140v10M619 192v1M619 195v1M620 137v4M620 146v1M620 201v1M621 141v3M622 146v5M622 201v1M623 119v4M623 141v1M623 147v3M623 156v4M623 197v2M624 124v2M624 135v3M624 140v6M625 124v3M625 132v2M625 147v3M625 153v2M625 158v7M625 172v1M626 126v2M626 138v4M626 169v5M627 133v2M627 199v2M628 133v2M628 143v2M629 135v1M630 137v2M631 139v2M632 134v1M632 145v2M632 200v1M632 204v1M633 146v6M634 137v2M634 142v1M635 146v2M636 143v2M637 135v3M637 140v2M637 149v2M637 161v1M662 203v1M663 141v1M663 205v1M664 132v1M664 136v2M664 152v3M665 124v2M665 130v2M665 209v1M666 126v2M666 132v3M667 123v1M667 133v5M668 207v1M669 126v1M671 139v1M672 130v2M672 133v3M673 135v2M674 136v1M674 214v1M675 131v3M675 135v1M675 140v1M675 144v2M676 127v6M677 211v1M678 130v1M678 136v5M679 129v2M680 134v1M680 137v2M680 202v1M681 136v4M681 199v1M682 137v1M682 140v4M683 145v1M683 197v1M684 139v1M684 188v1M685 144v1M686 194v1M689 136v4M690 124v2M690 128v4M690 134v1M690 190v1M691 126v1M691 135v1M691 138v1M691 188v2M691 192v1M692 137v2M692 199v1M693 119v1M693 132v2M693 139v3M693 194v1M694 118v2M694 199v1M695 119v1M696 124v2M697 117v2M697 122v2M697 126v1M699 120v1"/>
<path stroke="#00e520" d="M618 134v1M618 160v4M618 167v1M619 139v1M619 150v4M619 156v2M620 141v1M620 147v2M621 199v1M622 151v4M623 123v3M623 155v1M623 160v2M624 126v2M624 203v1M624 206v1M625 134v1M625 141v2M625 146v1M625 150v3M625 173v1M626 128v2M626 135v3M626 142v3M626 155v1M626 174v1M627 175v1M627 195v1M628 135v3M628 142v1M628 145v1M628 202v1M629 136v2M629 146v6M630 139v2M630 199v1M631 141v2M631 144v2M632 147v2M632 151v4M632 203v1M633 135v2M633 152v2M633 155v1M633 201v1M633 207v3M634 139v3M634 203v1M635 148v2M635 154v1M636 145v1M636 155v5M637 142v7M637 151v4M637 162v1M663 142v1M664 133v2M664 138v3M664 151v1M665 132v2M665 155v1M666 136v4M667 124v1M667 138v1M667 210v1M668 135v2M669 127v2M669 132v1M669 209v1M671 140v6M672 132v1M672 136v2M672 146v3M672 212v1M673 137v2M673 214v1M674 137v1M674 141v3M675 134v1M675 136v2M675 139v1M676 133v6M676 146v1M678 131v3M678 141v2M679 131v2M679 135v1M680 135v2M680 139v2M680 206v1M681 140v3M682 144v1M684 140v1M689 126v5M689 135v1M689 140v5M690 132v2M691 139v1M691 190v1M692 139v3M692 148v2M693 120v6M693 134v1M693 142v4M693 193v1M693 196v1M694 120v2M694 126v7M694 135v2M694 146v1M695 120v3M695 198v1M697 110v1M697 119v3M697 124v1M697 127v1M698 129v1M699 121v2M699 197v1"/>
<path stroke="#00f60b" d="M618 146v9M618 164v2M618 168v3M618 195v1M619 135v4M619 154v2M619 158v2M619 166v1M620 142v4M620 149v8M620 198v1M620 200v1M621 146v2M622 171v4M622 200v1M623 162v4M623 175v3M623 195v1M624 128v5M624 166v1M625 139v2M625 143v2M625 174v1M625 194v1M626 130v1M626 134v1M626 145v1M626 148v3M626 156v2M626 163v2M626 175v6M627 135v7M627 153v2M627 160v6M627 176v6M628 138v4M628 153v1M628 155v1M629 138v8M629 152v3M630 141v1M630 145v4M630 155v6M630 163v3M631 143v1M631 146v3M631 152v1M631 209v1M632 149v2M632 158v3M633 137v8M633 154v1M633 156v1M633 160v4M633 206v1M634 155v1M635 150v4M635 155v3M636 160v1M637 163v2M637 166v1M662 135v4M662 202v1M663 143v3M664 141v1M664 146v5M665 134v7M665 156v1M665 205v1M665 208v1M666 135v1M666 140v2M666 206v1M666 209v1M667 125v1M667 139v1M668 137v2M669 129v3M669 133v2M671 210v1M672 138v8M672 149v1M672 211v1M673 139v6M673 146v3M674 138v3M674 144v2M675 138v1M675 146v3M675 209v1M676 139v4M676 147v8M677 135v6M677 147v3M677 155v1M677 163v3M677 210v1M678 134v1M678 143v3M678 166v2M678 209v1M679 133v1M679 136v6M679 146v7M680 141v1M681 143v1M682 145v1M682 197v1M683 146v2M684 141v3M684 146v1M685 145v1M689 131v1M689 145v1M691 140v1M691 144v2M691 187v1M691 191v1M692 142v6M692 150v2M693 146v5M693 161v5M694 122v4M694 133v2M694 137v4M694 147v2M695 123v4M695 136v2M696 202v1M697 111v3M697 125v1M697 128v2M697 202v1M698 117v2M698 126v3M698 130v2M698 202v2M698 205v1M699 123v3"/>
<path stroke="#15ff00" d="M618 171v3M618 175v1M619 160v2M619 167v1M620 157v2M620 199v1M621 148v5M621 155v5M621 171v2M622 170v1M623 178v1M624 133v2M624 167v3M624 202v1M625 135v4M625 145v1M625 199v1M626 131v3M626 146v2M626 151v4M626 158v5M626 165v1M626 181v5M627 142v2M627 146v7M627 155v5M627 166v9M627 182v4M628 152v1M628 154v1M628 156v2M628 160v11M628 175v4M628 186v1M629 155v1M629 163v2M629 178v3M629 200v1M630 142v3M630 149v2M630 161v2M630 167v4M631 149v3M631 153v2M631 166v4M632 155v3M632 161v1M632 199v1M633 145v1M633 157v3M633 164v2M634 149v1M634 153v2M634 156v10M635 158v2M635 161v3M635 166v1M636 161v2M636 164v2M636 176v5M637 165v1M637 167v2M662 139v4M662 201v1M663 148v5M664 142v4M665 141v1M665 146v3M665 157v8M665 207v1M666 142v1M666 207v2M667 140v2M668 126v7M668 139v2M668 146v5M668 153v2M669 155v1M670 135v1M670 206v1M671 208v2M672 150v2M672 154v1M673 145v1M673 149v1M673 155v2M674 146v1M675 149v3M676 143v3M676 209v1M677 141v6M677 150v2M677 156v2M677 162v1M678 146v2M678 168v5M679 134v1M679 142v2M679 153v1M680 142v2M680 147v3M681 144v1M683 148v1M684 144v2M684 147v1M684 187v1M685 187v1M686 146v1M689 132v3M689 146v8M689 182v1M690 135v6M690 146v9M690 157v5M691 141v3M691 155v4M692 152v2M693 151v1M693 158v3M694 141v5M694 149v1M694 166v1M694 171v2M695 127v6M695 135v1M695 138v2M696 126v1M696 131v1M697 114v1M697 130v3M698 115v2M698 119v1M698 132v3M698 204v1M699 135v2"/>
<path stroke="#3fff00" d="M618 174v1M618 176v1M618 182v2M619 162v1M619 168v1M619 172v2M619 191v1M620 159v1M621 153v2M621 160v11M621 173v2M622 162v8M623 179v2M624 170v2M626 200v1M627 144v1M627 186v1M628 150v2M628 158v2M628 171v2M628 179v5M628 187v2M629 156v1M629 160v3M629 165v3M629 176v2M629 181v2M630 151v1M630 166v1M630 171v2M630 175v6M631 170v4M632 162v2M634 146v3M634 150v3M634 166v3M635 160v1M635 164v2M635 167v9M636 163v1M636 175v1M636 181v5M637 169v2M662 143v2M662 146v2M663 146v2M663 153v2M664 158v2M664 207v1M664 210v1M665 142v1M665 149v6M665 165v1M665 171v2M666 143v2M666 155v1M666 166v6M667 142v4M668 133v2M668 141v5M668 151v2M669 151v1M669 156v2M670 136v3M670 143v3M671 146v1M671 207v1M672 152v2M672 210v1M673 150v1M673 157v7M674 147v1M674 156v2M674 213v1M675 152v3M675 208v1M676 155v3M676 163v3M677 152v3M677 158v2M677 161v1M677 166v5M677 209v1M678 148v1M678 155v2M678 173v2M678 206v1M679 144v2M679 154v1M680 144v1M680 146v1M680 150v4M680 155v4M680 160v3M680 201v1M681 145v1M681 198v1M682 146v1M683 149v1M683 192v3M683 196v1M684 148v1M684 154v1M685 146v1M685 155v3M686 147v8M689 154v1M689 166v1M690 141v3M690 155v2M690 162v3M690 189v1M691 159v13M692 154v1M692 166v1M693 152v1M693 155v3M694 150v2M694 170v1M694 173v2M695 133v1M695 140v4M695 146v3M696 127v4M696 132v1M697 133v2M698 120v2M699 137v1"/>
<path stroke="#69ff00" d="M618 177v5M618 184v2M619 163v3M619 169v3M619 174v3M619 186v5M620 160v6M622 155v7M622 175v3M623 166v1M623 181v5M624 172v2M624 191v1M624 201v1M625 177v9M626 186v1M627 145v1M627 187v3M628 148v2M628 173v2M628 184v1M628 189v4M628 201v1M629 157v3M629 168v8M630 152v3M630 173v2M630 181v2M631 155v4M631 174v2M631 180v3M631 187v1M632 164v1M632 175v2M632 178v2M632 195v1M634 169v6M634 202v1M635 176v2M635 202v1M636 166v9M637 171v2M637 175v10M637 186v7M637 196v1M662 145v1M662 148v3M663 157v2M663 204v1M664 155v3M664 160v6M664 172v3M664 176v2M664 206v1M664 208v1M665 143v2M665 166v5M665 173v2M665 206v1M666 145v1M666 156v2M666 172v1M667 146v8M667 209v1M668 159v2M669 135v1M669 138v5M669 146v1M669 149v2M669 152v1M669 158v1M669 162v3M669 208v1M670 139v4M671 147v5M672 161v2M673 151v1M673 164v2M674 155v1M674 158v1M675 207v1M676 158v5M676 205v2M677 160v1M677 171v4M677 208v1M678 149v1M678 157v2M678 207v2M679 175v5M679 202v2M679 209v1M680 145v1M680 154v1M680 159v1M680 163v3M681 146v1M681 155v2M681 166v2M681 195v3M682 147v8M682 165v1M683 150v3M683 154v3M683 166v5M683 191v1M684 149v5M684 155v3M685 147v1M685 158v2M689 155v1M689 162v4M689 167v1M690 144v1M690 165v1M690 185v1M691 172v3M692 167v2M692 178v2M693 153v1M693 192v1M693 195v1M694 152v2M694 159v2M694 167v3M694 198v1M695 134v1M695 144v2M695 149v1M695 175v1M696 133v1M696 135v4M698 122v4M698 135v2M698 201v1M699 126v9M699 138v2"/>
<path stroke="#92ff00" d="M618 186v2M619 177v5M620 166v4M620 171v1M620 175v2M620 194v1M622 178v3M622 185v1M622 199v1M623 167v2M623 170v4M623 186v2M624 174v1M624 186v5M624 192v2M625 175v2M625 193v1M625 195v1M626 187v1M626 196v1M627 190v2M628 146v2M628 185v1M628 193v2M628 199v2M629 183v2M629 186v1M630 183v3M631 159v4M631 176v4M631 183v4M631 188v2M631 193v2M632 165v1M632 177v1M632 180v2M632 186v2M632 196v1M633 166v4M633 200v1M634 196v4M635 178v2M636 194v1M637 173v2M637 185v1M637 193v3M637 197v1M637 200v1M662 151v4M662 159v3M663 155v2M663 159v2M663 174v1M664 166v6M664 175v1M664 178v3M664 209v1M665 145v1M665 175v2M665 181v5M666 146v3M666 158v2M666 173v1M666 175v1M666 186v1M667 154v1M668 155v4M668 161v2M669 136v2M669 143v3M669 147v2M669 153v2M669 159v3M669 165v1M669 169v3M670 146v3M670 151v1M670 155v4M670 161v3M670 166v1M670 173v1M670 204v1M671 152v2M672 159v2M672 163v2M672 209v1M673 152v3M673 195v1M674 148v7M674 159v1M674 166v1M674 170v1M675 155v2M676 207v2M677 207v1M678 150v2M678 154v1M678 159v1M678 162v4M678 175v2M679 155v3M679 160v3M679 166v2M679 173v2M679 180v2M680 175v5M680 200v1M681 147v8M681 157v3M681 165v1M681 168v1M682 155v10M682 166v1M683 153v1M683 157v2M683 171v1M683 195v1M684 158v6M684 175v1M684 183v3M685 148v1M685 160v1M685 186v1M689 156v6M689 168v5M690 145v1M690 166v1M690 188v1M691 146v1M691 148v4M691 186v1M692 169v3M692 175v3M692 180v1M693 154v1M694 154v5M694 161v5M695 150v2M695 155v1M695 176v2M696 134v1M696 139v6M696 146v6M697 143v3M697 159v3M698 137v1M698 146v7M699 140v5M699 196v1"/>
<path stroke="#bcff00" d="M618 188v7M619 182v2M620 170v1M620 172v3M620 177v8M621 175v3M622 181v4M623 169v1M623 174v1M623 188v5M624 175v5M624 183v2M624 194v1M625 192v1M626 188v2M626 191v5M626 197v1M627 192v1M628 198v1M629 185v1M629 187v6M629 195v3M630 186v1M631 163v3M631 190v3M631 208v1M632 166v6M632 182v2M632 188v2M632 197v2M633 170v2M633 191v4M633 196v4M634 195v1M634 200v2M635 180v6M636 186v8M636 201v1M662 155v4M662 162v1M662 172v3M662 200v1M663 161v5M663 169v5M663 175v4M664 181v5M665 177v4M665 186v2M665 192v2M665 199v1M665 204v1M666 149v1M666 160v1M666 164v2M666 174v1M666 176v3M666 184v2M666 187v4M667 166v1M667 197v3M668 163v1M668 206v1M669 167v2M669 172v3M669 192v3M670 149v2M670 152v1M670 159v2M670 164v2M670 167v1M670 171v2M670 174v5M671 154v1M671 168v5M671 175v5M672 155v4M672 165v1M672 191v4M673 196v2M674 167v3M674 171v2M674 212v1M675 157v2M675 206v1M678 152v2M678 160v2M678 177v2M678 182v4M679 158v2M679 163v1M679 168v2M679 172v1M679 182v1M679 191v4M680 180v4M680 195v5M681 160v5M681 169v1M682 167v3M683 159v3M683 165v1M683 172v3M684 164v6M684 176v7M685 149v6M685 161v3M685 169v5M686 155v2M686 193v1M689 173v2M690 167v12M690 187v1M691 147v1M691 152v1M691 175v1M692 155v11M692 172v3M692 181v4M693 166v1M693 175v4M695 152v1M695 156v2M695 160v1M695 166v1M695 178v4M696 145v1M696 152v1M696 160v2M696 201v1M697 135v8M697 146v1M697 158v1M697 162v2M698 138v8M698 153v2M699 145v1M699 163v3"/>
<path stroke="#e6ff00" d="M619 184v2M620 185v3M620 191v3M621 178v2M621 186v2M621 198v1M623 193v1M624 180v3M624 185v1M624 200v1M625 186v6M625 196v1M626 190v1M626 199v1M627 193v2M628 195v3M629 193v1M629 198v2M630 187v3M632 172v1M632 184v2M632 190v5M633 172v2M633 186v5M633 195v1M637 198v2M662 163v1M662 166v6M663 167v2M663 179v6M664 191v4M665 188v4M665 194v5M665 200v4M666 150v5M666 161v3M666 179v5M666 191v15M667 159v2M667 167v14M667 186v5M667 195v2M667 200v3M667 207v2M668 164v2M668 175v3M669 166v1M669 190v2M670 153v2M670 168v3M670 179v1M670 195v2M671 155v9M671 166v2M671 173v1M671 180v2M671 184v2M671 206v1M672 186v5M672 196v2M673 198v8M673 213v1M674 160v2M674 173v1M674 206v4M675 159v7M676 166v3M676 174v1M677 175v2M677 184v2M677 206v1M678 179v3M678 186v1M679 164v2M679 170v2M679 183v2M679 186v5M679 201v1M679 204v1M680 166v9M680 184v2M680 187v8M681 170v1M681 175v4M681 186v6M682 170v1M682 175v2M682 196v1M683 162v3M683 190v1M684 170v3M684 186v1M685 164v5M685 174v1M686 166v6M689 175v3M690 179v2M690 186v1M691 153v2M691 176v1M692 185v1M692 194v1M693 167v4M693 179v1M693 182v6M693 191v1M694 186v3M695 153v1M695 158v2M695 161v4M695 171v3M695 182v1M696 153v2M696 157v3M696 162v1M696 178v2M696 186v3M697 147v5M697 156v2M697 164v1M697 201v1M698 155v3M698 169v1M699 146v11M699 161v2"/>
<path stroke="#fff800" d="M620 188v3M621 180v1M621 188v2M621 191v5M622 195v1M622 198v1M623 194v1M624 195v5M625 198v1M626 198v1M629 194v1M630 190v3M630 194v1M630 198v1M632 173v2M633 174v1M633 178v4M634 175v3M635 201v1M662 164v2M662 175v1M663 166v1M663 185v1M664 189v2M664 198v3M664 204v2M667 155v4M667 161v1M667 181v5M667 191v2M667 203v4M668 178v2M668 182v12M669 176v4M669 186v4M670 180v6M670 197v6M671 164v2M671 174v1M671 182v2M671 186v9M672 170v2M672 176v5M672 195v1M672 198v2M673 166v5M673 191v4M674 162v4M674 174v1M674 199v3M674 210v2M675 166v10M676 169v5M676 175v3M676 204v1M677 177v2M677 182v2M677 205v1M678 187v8M679 185v1M679 198v3M680 186v1M681 171v4M681 179v1M681 192v3M682 171v1M682 177v1M682 190v2M682 195v1M683 177v2M684 173v2M685 175v2M686 157v1M686 162v4M686 172v4M689 178v1M689 181v1M690 181v4M691 177v1M693 171v1M693 180v2M693 188v3M694 189v2M694 195v3M695 154v1M695 165v1M695 167v1M695 169v2M695 174v1M695 183v3M695 196v2M696 155v2M696 163v2M696 166v1M696 175v3M696 180v2M696 189v2M697 152v4M697 165v1M697 197v1M698 158v2M698 166v3M698 170v4M698 200v1M699 157v4"/>
<path stroke="#ffe500" d="M621 181v2M621 190v1M621 196v1M622 190v2M622 194v1M622 196v2M625 197v1M630 193v1M630 195v1M631 195v7M631 207v1M633 175v3M633 182v2M634 178v2M634 190v5M635 195v6M662 176v2M663 203v1M664 186v3M664 195v3M664 201v3M667 162v4M667 193v2M668 166v9M668 180v2M668 194v5M668 205v1M669 175v1M669 180v6M669 195v1M670 186v9M670 203v1M671 195v6M671 205v1M672 166v4M672 172v1M672 175v1M672 181v5M672 200v9M673 171v3M673 186v5M673 206v5M674 195v4M674 202v4M675 176v3M676 178v1M676 185v1M677 179v3M677 186v1M677 204v1M679 195v3M679 205v1M679 208v1M681 180v6M682 172v1M682 178v2M682 186v4M682 192v3M683 175v2M683 179v3M683 184v2M683 189v1M685 177v9M686 158v4M686 176v4M689 179v2M691 178v1M691 181v5M693 172v3M694 175v2M694 191v4M695 168v1M695 195v1M696 165v1M696 167v8M696 182v1M696 191v4M697 166v4M697 172v3M697 195v2M697 198v3M698 160v1M698 164v2M698 174v2M698 197v3M699 175v2M699 195v1"/>
<path stroke="#ffd200" d="M621 183v3M621 197v1M622 186v4M622 192v2M630 196v2M631 202v2M631 206v1M633 184v1M634 180v1M634 188v2M636 197v1M662 178v2M662 185v1M662 187v13M663 186v1M663 190v13M668 199v6M669 196v4M669 206v2M671 201v4M672 173v1M673 174v1M673 211v2M675 179v3M676 179v6M677 187v1M678 202v1M682 173v2M682 180v1M682 185v1M683 182v2M683 186v3M686 180v10M691 179v2M692 186v4M692 193v1M694 177v5M695 186v6M696 183v3M696 199v2M697 170v2M697 175v4M697 186v9M698 161v3M698 176v2M698 195v2M699 166v1M699 169v4M699 177v2M699 183v8M699 192v3"/>
<path stroke="#ffc000" d="M631 204v2M633 185v1M634 181v2M634 185v3M635 186v9M636 195v2M636 200v1M662 180v5M662 186v1M663 187v3M669 200v6M673 178v3M674 175v1M674 194v1M675 182v4M675 195v5M676 186v4M677 188v2M677 192v3M678 195v7M678 203v1M682 181v4M686 190v3M692 190v3M694 182v4M695 192v3M696 196v3M697 179v2M697 184v2M698 178v4M698 185v4M698 193v2M699 167v2M699 173v2M699 179v4M699 191v1"/>
<path stroke="#ffad00" d="M634 183v2M636 198v1M672 174v1M673 177v1M673 181v5M674 176v8M674 186v8M675 200v6M676 190v5M677 190v2M677 195v1M677 203v1M678 204v2M679 207v1M696 195v1M697 181v3M698 182v3M698 189v4"/>
<path stroke="#ff9b00" d="M636 199v1M673 175v2M674 184v2M675 186v2M676 203v1M677 196v7M679 206v1"/>
<path stroke="#ff8800" d="M675 188v7M676 195v8"/>
</g>
<rect x="50" y="39" width="651" height="1" fill="#000"/>
<rect x="50" y="269" width="651" height="1" fill="#000"/>
<rect x="50" y="39" width="1" height="231" fill="#000"/>
<rect x="700" y="39" width="1" height="231" fill="#000"/>
<text x="46.5" y="273.6" text-anchor="end" font-size="12">0</text>
<rect x="50" y="250" width="6" height="1" fill="#000"/>
<rect x="695" y="250" width="6" height="1" fill="#000"/>
<text x="46.5" y="254.6" text-anchor="end" font-size="12">1</text>
<rect x="50" y="231" width="6" height="1" fill="#000"/>
<rect x="695" y="231" width="6" height="1" fill="#000"/>
<text x="46.5" y="235.6" text-anchor="end" font-size="12">2</text>
<rect x="50" y="212" width="6" height="1" fill="#000"/>
<rect x="695" y="212" width="6" height="1" fill="#000"/>
<text x="46.5" y="216.6" text-anchor="end" font-size="12">3</text>
<rect x="50" y="193" width="6" height="1" fill="#000"/>
<rect x="695" y="193" width="6" height="1" fill="#000"/>
<text x="46.5" y="197.6" text-anchor="end" font-size="12">4</text>
<rect x="50" y="174" width="6" height="1" fill="#000"/>
<rect x="695" y="174" width="6" height="1" fill="#000"/>
<text x="46.5" y="178.6" text-anchor="end" font-size="12">5</text>
<rect x="50" y="154" width="6" height="1" fill="#000"/>
<rect x="695" y="154" width="6" height="1" fill="#000"/>
<text x="46.5" y="158.6" text-anchor="end" font-size="12">6</text>
<rect x="50" y="135" width="6" height="1" fill="#000"/>
<rect x="695" y="135" width="6" height="1" fill="#000"/>
<text x="46.5" y="139.6" text-anchor="end" font-size="12">7</text>
<rect x="50" y="116" width="6" height="1" fill="#000"/>
<rect x="695" y="116" width="6" height="1" fill="#000"/>
<text x="46.5" y="120.6" text-anchor="end" font-size="12">8</text>
<rect x="50" y="97" width="6" height="1" fill="#000"/>
<rect x="695" y="97" width="6" height="1" fill="#000"/>
<text x="46.5" y="101.6" text-anchor="end" font-size="12">9</text>
<rect x="50" y="78" width="6" height="1" fill="#000"/>
<rect x="695" y="78" width="6" height="1" fill="#000"/>
<text x="46.5" y="82.6" text-anchor="end" font-size="12">10</text>
<rect x="50" y="59" width="6" height="1" fill="#000"/>
<rect x="695" y="59" width="6" height="1" fill="#000"/>
<text x="46.5" y="63.6" text-anchor="end" font-size="12">11</text>
<text x="46.5" y="43.6" text-anchor="end" font-size="12">12</text>
<text x="49.6" y="284" text-anchor="middle" font-size="12">00:00</text>
<rect x="158" y="39" width="1" height="6" fill="#000"/>
<rect x="158" y="264" width="1" height="6" fill="#000"/>
<text x="157.93" y="284" text-anchor="middle" font-size="12">04:00</text>
<rect x="266" y="39" width="1" height="6" fill="#000"/>
<rect x="266" y="264" width="1" height="6" fill="#000"/>
<text x="266.27" y="284" text-anchor="middle" font-size="12">08:00</text>
<rect x="375" y="39" width="1" height="6" fill="#000"/>
<rect x="375" y="264" width="1" height="6" fill="#000"/>
<text x="374.6" y="284" text-anchor="middle" font-size="12">12:00</text>
<rect x="483" y="39" width="1" height="6" fill="#000"/>
<rect x="483" y="264" width="1" height="6" fill="#000"/>
<text x="482.93" y="284" text-anchor="middle" font-size="12">16:00</text>
<rect x="591" y="39" width="1" height="6" fill="#000"/>
<rect x="591" y="264" width="1" height="6" fill="#000"/>
<text x="591.27" y="284" text-anchor="middle" font-size="12">20:00</text>
<text x="699.6" y="284" text-anchor="middle" font-size="12">00:00</text>
<text x="374.8" y="301.6" text-anchor="middle" font-size="12">Time (UTC)</text>
<text x="27" y="155.4" text-anchor="middle" transform="rotate(-90 27 155.4)" font-size="12">Height (km)</text>
<text x="57.3" y="56" text-anchor="start" font-weight="bold" textLength="33.2" lengthAdjust="spacingAndGlyphs" font-size="12">Radar</text>
<text x="95.05" y="56" text-anchor="start" font-weight="bold" textLength="65.45" lengthAdjust="spacingAndGlyphs" font-size="12">reflectivity</text>
<text x="165.55" y="56" text-anchor="start" font-weight="bold" textLength="36.7" lengthAdjust="spacingAndGlyphs" font-size="12">factor</text>
<rect x="754" y="74" width="17" height="161" fill="#000"/>
<rect x="755" y="75" width="15" height="3" fill="#8a0076"/>
<rect x="755" y="78" width="15" height="3" fill="#9d0063"/>
<rect x="755" y="81" width="15" height="3" fill="#b00050"/>
<rect x="755" y="84" width="15" height="3" fill="#c3003c"/>
<rect x="755" y="87" width="15" height="3" fill="#d60029"/>
<rect x="755" y="90" width="15" height="3" fill="#e90016"/>
<rect x="755" y="93" width="15" height="3" fill="#fd0002"/>
<rect x="755" y="96" width="15" height="3" fill="#ff1000"/>
<rect x="755" y="99" width="15" height="3" fill="#ff2300"/>
<rect x="755" y="102" width="15" height="3" fill="#ff3500"/>
<rect x="755" y="105" width="15" height="3" fill="#ff4800"/>
<rect x="755" y="108" width="15" height="3" fill="#ff5a00"/>
<rect x="755" y="111" width="15" height="3" fill="#ff6d00"/>
<rect x="755" y="114" width="15" height="3" fill="#ff7f00"/>
<rect x="755" y="117" width="15" height="3" fill="#ff9200"/>
<rect x="755" y="120" width="15" height="3" fill="#ffa400"/>
<rect x="755" y="123" width="15" height="3" fill="#ffb700"/>
<rect x="755" y="126" width="15" height="3" fill="#ffc900"/>
<rect x="755" y="129" width="15" height="3" fill="#ffdc00"/>
<rect x="755" y="132" width="15" height="3" fill="#ffee00"/>
<rect x="755" y="135" width="15" height="3" fill="#fbff00"/>
<rect x="755" y="138" width="15" height="3" fill="#d1ff00"/>
<rect x="755" y="141" width="15" height="3" fill="#a7ff00"/>
<rect x="755" y="144" width="15" height="3" fill="#7eff00"/>
<rect x="755" y="147" width="15" height="3" fill="#54ff00"/>
<rect x="755" y="150" width="15" height="3" fill="#2aff00"/>
<rect x="755" y="153" width="15" height="3" fill="#00ff00"/>
<rect x="755" y="156" width="15" height="3" fill="#00ee15"/>
<rect x="755" y="159" width="15" height="3" fill="#00dc2a"/>
<rect x="755" y="162" width="15" height="3" fill="#00cb3f"/>
<rect x="755" y="165" width="15" height="3" fill="#00ba55"/>
<rect x="755" y="168" width="15" height="3" fill="#00a86a"/>
<rect x="755" y="171" width="15" height="3" fill="#00977f"/>
<rect x="755" y="174" width="15" height="3" fill="#008493"/>
<rect x="755" y="177" width="15" height="3" fill="#006fa4"/>
<rect x="755" y="180" width="15" height="3" fill="#005ab5"/>
<rect x="755" y="183" width="15" height="3" fill="#0045c7"/>
<rect x="755" y="186" width="15" height="3" fill="#0030d8"/>
<rect x="755" y="189" width="15" height="3" fill="#001ae9"/>
<rect x="755" y="192" width="15" height="3" fill="#0005fb"/>
<rect x="755" y="195" width="15" height="3" fill="#0c0cfd"/>
<rect x="755" y="198" width="15" height="3" fill="#1d1dfb"/>
<rect x="755" y="201" width="15" height="3" fill="#2e2ef9"/>
<rect x="755" y="204" width="15" height="3" fill="#3e3ef6"/>
<rect x="755" y="207" width="15" height="3" fill="#4f4ff4"/>
<rect x="755" y="210" width="15" height="3" fill="#5f5ff2"/>
<rect x="755" y="213" width="15" height="3" fill="#7070ef"/>
<rect x="755" y="216" width="15" height="3" fill="#8181ed"/>
<rect x="755" y="219" width="15" height="3" fill="#9191eb"/>
<rect x="755" y="222" width="15" height="3" fill="#a2a2e8"/>
<rect x="755" y="225" width="15" height="3" fill="#b2b2e6"/>
<rect x="755" y="228" width="15" height="3" fill="#c3c3e4"/>
<rect x="755" y="231" width="15" height="3" fill="#d4d4e1"/>
<text x="750.6" y="78.9" text-anchor="end" font-size="12">20</text>
<text x="750.6" y="105.48" text-anchor="end" font-size="12">10</text>
<text x="750.6" y="132.07" text-anchor="end" font-size="12">0</text>
<text x="750.6" y="158.65" text-anchor="end" textLength="18.74" lengthAdjust="spacingAndGlyphs" font-size="12">-10</text>
<text x="750.6" y="185.23" text-anchor="end" textLength="18.74" lengthAdjust="spacingAndGlyphs" font-size="12">-20</text>
<text x="750.6" y="211.82" text-anchor="end" textLength="18.74" lengthAdjust="spacingAndGlyphs" font-size="12">-30</text>
<text x="750.6" y="238.4" text-anchor="end" textLength="18.74" lengthAdjust="spacingAndGlyphs" font-size="12">-40</text>
<text x="726.5" y="155.3" text-anchor="middle" transform="rotate(-90 726.5 155.3)" font-size="12">dBz</text>
</g>
<g id="p1">
<g transform="translate(.5 0)" fill="none" stroke-width="1">
<path stroke="#dcdce0" d="M697 476v1"/>
<path stroke="#cbcbe2" d="M665 485v1M696 475v1"/>
<path stroke="#aaaae7" d="M636 476v1"/>
<path stroke="#9a9ae9" d="M620 476v1M668 482v2M697 477v1"/>
<path stroke="#6868f0" d="M696 477v1"/>
<path stroke="#5757f3" d="M631 487v1M636 477v1M637 474v1M664 484v1M668 481v1M671 483v2"/>
<path stroke="#4747f5" d="M631 485v1M696 474v1M696 482v1"/>
<path stroke="#3636f7" d="M619 474v1M631 486v1M635 475v1M672 485v1M690 464v1M696 478v1"/>
<path stroke="#2525fa" d="M637 473v1M637 475v1M668 480v1M690 463v1M695 470v2M696 476v1"/>
<path stroke="#1515fc" d="M625 472v1M631 482v1M668 484v1M691 465v1"/>
<path stroke="#0404fe" d="M665 482v1M672 486v1M682 471v1"/>
<path stroke="#0010f2" d="M619 464v1M625 471v1M625 473v2M631 483v1M665 483v1M671 482v1M682 470v1"/>
<path stroke="#0025e1" d="M631 481v1M635 474v1M668 479v1M671 485v1M691 466v1M695 472v1M696 473v1M696 479v1M696 481v1"/>
<path stroke="#003acf" d="M631 484v1M664 483v1M666 483v1M670 483v1M672 487v1M692 466v1M695 469v1M695 475v1"/>
<path stroke="#004fbe" d="M625 475v1M634 484v1M635 476v1M663 483v1M682 469v1M690 462v1M694 470v2M696 480v1"/>
<path stroke="#0064ad" d="M619 463v1M621 472v1M634 483v1M635 482v1M637 472v1M662 476v1M668 478v1M672 488v1M681 475v1M682 472v1M691 459v1M692 465v1M697 478v1M699 470v2"/>
<path stroke="#007a9b" d="M618 467v2M619 473v1M620 465v1M621 471v1M626 472v2M626 476v1M631 480v1M634 482v1M662 477v1M666 482v1M666 484v1M669 480v2M683 472v1M691 458v1M691 464v1M695 473v1M696 472v1M698 481v1"/>
<path stroke="#008e89" d="M618 469v1M618 473v2M621 473v1M635 481v1M665 484v1M669 479v1M669 483v1M672 489v1M683 471v1M684 460v1M685 459v2M686 471v1M689 455v1"/>
<path stroke="#00a074" d="M313 420v1M329 402v7M329 412v8M330 402v22M330 425v12M331 420v5M331 428v3M334 397v4M618 475v1M620 466v1M621 470v1M623 471v1M627 466v2M629 478v1M635 477v1M636 474v1M662 475v1M663 476v1M663 482v1M666 486v1M669 478v1M669 482v1M669 485v1M670 482v1M673 487v1M685 458v1M691 457v1M691 460v1M691 467v1M692 473v1M693 463v2M694 469v1M695 474v1M699 469v1"/>
<path stroke="#00b15f" d="M116 360v1M118 389v1M319 421v2M319 428v1M323 418v2M324 432v2M329 409v3M330 424v1M331 401v19M331 425v3M331 431v4M332 420v4M332 428v2M332 436v1M334 401v3M334 405v2M334 410v3M334 416v2M618 466v1M618 470v3M626 471v1M626 474v1M627 465v1M629 477v1M633 473v1M633 475v1M634 475v1M634 481v1M635 480v1M669 484v1M671 477v2M671 481v1M671 486v1M673 486v1M675 481v2M682 468v1M683 470v1M684 459v1M684 461v1M686 470v1M690 455v1M692 467v1M694 472v1"/>
<path stroke="#00c24a" d="M105 370v1M118 361v1M313 412v3M313 416v2M318 419v1M319 420v1M319 423v5M319 429v6M323 416v2M324 411v1M324 420v5M324 430v2M325 424v3M325 432v2M326 404v9M332 424v4M332 430v6M332 437v2M333 405v3M333 414v2M334 404v1M334 407v3M334 413v3M334 418v1M619 462v1M623 466v1M626 480v1M630 470v1M633 472v1M633 474v1M635 473v1M663 477v1M665 481v1M666 485v1M671 479v1M672 480v3M672 490v1M673 488v1M675 480v1M678 484v1M679 483v1M681 474v1M684 458v1M684 470v1M689 454v1M691 456v1M693 462v1M693 470v1M694 434v3M694 440v1M695 442v2M695 445v7M695 456v4M695 468v1M699 468v1"/>
<path stroke="#00d435" d="M105 372v1M105 390v1M107 388v1M117 391v1M313 415v1M313 418v2M314 404v13M314 420v5M315 404v1M315 420v3M315 426v3M316 401v2M316 405v2M316 428v2M317 404v1M317 407v1M317 416v4M318 405v2M318 411v8M318 420v4M320 423v2M320 430v4M321 413v3M321 422v3M321 429v4M322 416v1M323 412v4M323 420v1M324 412v2M324 416v4M324 425v5M325 420v4M325 427v5M326 413v2M326 416v2M327 409v2M327 420v9M327 432v2M329 432v3M332 403v5M332 416v3M333 400v1M333 404v1M333 408v2M333 413v1M333 428v3M334 419v1M334 425v1M334 430v2M334 434v3M619 466v1M621 469v1M623 465v1M623 472v1M625 464v1M626 477v1M634 474v1M635 478v1M636 475v1M637 465v1M662 471v1M662 474v1M664 485v1M670 475v1M671 476v1M671 480v1M672 479v1M672 483v2M675 477v2M675 483v1M676 475v1M679 472v1M681 465v1M683 462v1M684 469v1M685 461v1M689 460v1M690 456v1M690 461v1M692 455v2M692 472v1M694 429v5M694 437v1M694 439v1M695 441v1M695 444v1M695 452v4M695 479v2M696 460v3M696 468v1M696 471v1"/>
<path stroke="#00e520" d="M72 387v1M106 389v1M107 370v1M108 370v1M108 378v1M112 381v1M114 381v1M114 386v1M116 383v1M119 388v1M121 363v1M290 401v1M314 417v3M315 405v15M315 423v3M316 403v2M316 407v1M316 420v5M316 426v2M317 398v6M317 405v2M317 408v4M318 401v4M318 407v4M318 424v5M319 413v7M320 409v5M320 416v7M320 425v5M321 420v2M321 425v4M321 433v1M322 410v1M322 414v2M322 417v10M322 431v4M323 421v3M323 425v2M324 414v2M325 410v5M326 415v1M326 418v2M327 411v1M327 418v2M327 429v3M327 434v1M328 408v3M328 415v4M328 423v6M328 431v5M329 420v1M329 425v7M331 399v2M332 399v4M332 408v2M332 414v2M332 419v1M333 370v7M333 402v2M333 410v3M333 416v1M333 421v7M333 431v9M334 422v3M334 426v4M334 432v2M619 467v1M620 461v2M620 464v1M621 479v1M622 479v1M623 467v1M627 468v1M629 449v3M629 476v1M630 469v1M631 479v1M632 470v2M635 479v1M637 466v2M637 476v1M662 470v1M662 472v1M667 457v3M669 463v2M669 477v1M672 464v1M673 485v1M673 489v1M675 476v1M675 479v1M678 482v2M679 471v1M679 482v1M680 467v2M683 461v1M685 457v1M689 436v1M689 453v1M690 444v1M690 447v4M690 452v3M690 457v1M691 453v3M691 463v1M692 448v7M692 457v3M693 418v2M693 433v3M693 453v3M693 461v1M693 469v1M694 427v2M694 438v1M694 441v4M694 456v3M694 468v1M696 463v5M697 475v1M698 427v1M699 453v3M699 457v2"/>
<path stroke="#00f60b" d="M105 374v1M105 391v1M110 376v1M110 379v1M113 379v1M114 385v1M115 383v2M117 382v1M124 361v1M289 395v1M289 400v1M303 405v2M303 413v6M316 408v10M316 425v1M317 412v4M317 420v3M317 426v4M318 429v2M319 405v8M320 414v2M321 416v4M322 411v3M322 427v4M323 424v1M323 427v7M325 415v1M325 417v3M326 425v4M326 430v4M327 412v6M328 407v1M328 411v4M328 419v4M328 429v2M329 421v4M332 370v3M332 410v4M333 366v4M333 401v1M333 417v4M334 420v2M342 338v2M395 437v4M396 446v8M400 453v2M406 444v3M407 445v2M415 443v7M618 465v1M619 460v1M619 465v1M620 460v1M620 463v1M620 467v1M620 475v1M621 442v1M621 463v2M621 474v1M621 478v1M623 470v1M624 461v3M625 470v1M625 476v1M626 463v6M626 470v1M629 448v1M629 452v2M629 461v2M629 472v1M630 460v1M630 463v2M630 477v1M631 470v1M632 465v2M632 469v1M633 471v1M634 476v1M634 480v1M636 457v3M636 473v1M637 460v5M662 469v1M662 473v1M663 475v1M664 476v1M665 461v11M665 475v1M666 439v2M667 456v1M668 460v4M668 473v2M668 477v1M669 461v2M669 476v1M670 481v1M671 462v3M671 466v4M672 462v2M672 465v5M674 491v1M675 466v2M676 474v1M677 474v2M678 471v2M680 474v1M683 463v1M683 469v1M684 457v1M684 462v1M685 466v1M686 465v2M689 432v4M689 437v4M689 445v2M690 441v3M690 445v2M690 451v1M691 433v3M691 439v2M691 445v1M691 452v1M691 461v1M692 433v5M692 441v7M693 414v4M693 430v3M693 436v5M693 445v5M693 451v2M693 456v5M693 471v1M694 420v7M694 446v1M694 454v2M694 459v2M694 465v1M695 460v3M695 466v1M695 478v1M696 442v2M696 448v4M696 470v1M698 420v7M698 428v3M698 433v3M698 437v4M698 456v1M698 476v1M698 480v1M699 433v3M699 439v14M699 456v1M699 459v1M699 467v1M699 472v1"/>
<path stroke="#15ff00" d="M72 386v1M72 389v1M104 373v1M105 389v1M108 371v1M109 373v1M110 381v2M111 376v1M111 378v1M111 384v1M111 387v2M113 359v2M113 363v1M113 380v1M113 382v1M113 385v1M114 360v1M115 386v1M117 383v1M117 387v1M118 385v1M118 388v1M285 395v1M286 396v5M287 400v1M288 388v4M288 398v3M289 385v10M289 396v4M290 400v1M291 401v1M302 393v8M303 401v1M303 403v2M303 407v6M304 406v8M304 416v4M305 414v2M306 416v5M316 418v2M317 423v3M325 416v1M326 420v5M326 429v1M326 434v2M328 436v2M332 353v1M332 368v2M332 373v1M333 361v5M334 335v5M334 353v3M334 359v2M334 369v6M337 344v4M337 354v10M337 365v7M338 345v3M338 351v1M338 361v1M338 385v10M339 340v4M339 359v2M339 427v9M339 437v4M340 393v3M340 441v1M341 339v1M345 424v1M394 426v4M394 436v5M395 432v5M395 441v1M395 445v4M396 441v5M397 433v8M397 444v1M397 455v1M398 437v1M398 441v6M398 455v2M399 424v1M399 435v6M400 441v4M400 451v2M404 440v1M405 440v1M405 444v2M405 450v8M406 441v3M406 447v10M407 441v4M407 447v2M408 447v2M410 438v3M411 452v2M414 427v5M414 434v7M415 429v2M415 436v7M415 450v4M418 441v1M418 445v4M618 452v8M619 427v2M619 452v8M619 461v1M619 472v1M620 453v3M621 396v2M621 441v1M621 443v2M621 446v3M621 456v1M621 461v2M621 465v1M621 477v1M622 434v1M622 460v2M622 463v3M623 445v4M624 460v1M624 464v1M625 453v3M625 459v1M625 463v1M626 460v3M628 451v6M629 447v1M629 454v7M629 463v2M629 471v1M629 473v1M630 461v2M631 457v2M631 464v3M631 468v2M631 471v3M632 463v2M632 472v1M633 465v5M634 467v2M634 473v1M635 459v1M635 468v1M636 446v11M636 460v5M637 459v1M637 471v1M637 477v1M662 461v8M662 478v1M663 447v2M663 452v3M663 465v5M663 481v1M664 441v11M664 454v2M664 460v12M664 477v1M664 482v1M665 460v1M666 425v4M666 434v5M666 454v6M667 441v4M667 453v3M667 460v2M667 468v2M668 456v4M668 464v6M668 471v2M669 460v1M669 465v4M669 471v5M670 456v4M670 465v1M671 460v2M671 465v1M671 470v6M672 460v2M672 470v2M672 474v3M672 478v1M673 412v3M673 416v3M673 465v2M674 426v2M674 468v10M675 461v5M675 468v4M675 473v2M675 484v1M676 460v11M677 473v1M677 476v1M678 470v1M679 470v1M679 473v1M680 469v1M680 473v1M680 475v1M681 436v2M681 466v1M682 445v4M682 455v6M682 473v1M683 455v1M683 458v1M683 460v1M684 468v1M685 465v1M686 458v1M689 428v4M689 441v4M689 447v1M691 426v7M691 436v3M691 441v4M691 446v2M691 450v2M691 462v1M691 468v1M692 419v3M692 430v3M692 438v3M693 410v4M693 420v2M693 428v2M693 441v4M693 450v1M693 467v2M694 445v1M694 447v7M694 461v4M694 467v1M695 436v1M695 463v3M696 441v1M696 444v4M696 452v3M696 456v4M696 469v1M697 413v7M697 454v2M697 460v5M697 466v1M698 418v2M698 431v2M698 436v1M698 457v3M698 463v2M698 471v1M699 420v6M699 430v3M699 436v3M699 460v3"/>
<path stroke="#3fff00" d="M72 384v1M77 388v1M86 362v1M86 364v1M87 362v1M88 362v1M99 355v1M100 356v1M105 373v1M105 393v1M106 372v1M106 375v1M106 394v1M107 377v1M107 391v1M108 375v2M108 380v2M109 374v1M109 380v1M109 383v1M110 374v1M111 379v2M111 389v1M112 380v1M112 384v1M112 386v1M113 392v1M114 391v1M116 362v1M116 382v1M116 391v1M117 361v1M120 362v1M122 358v1M122 362v1M124 358v1M124 362v1M125 361v1M285 393v2M285 396v2M286 390v6M287 387v2M287 396v4M288 383v5M288 392v6M288 401v2M289 375v1M289 382v3M290 380v1M290 390v5M290 396v4M302 383v2M302 391v2M303 387v3M303 395v6M303 402v1M304 401v1M304 404v2M304 414v2M305 412v2M305 416v3M306 400v2M306 408v2M306 415v1M307 422v2M326 356v4M326 436v1M327 357v1M327 361v4M328 363v3M331 371v2M332 351v2M332 354v5M332 365v3M333 351v4M333 360v1M334 343v2M334 349v4M334 356v3M334 361v4M334 367v2M337 337v1M337 340v4M337 348v6M337 364v1M337 372v8M337 421v2M338 348v3M338 352v1M338 356v5M338 362v2M338 366v8M338 380v5M338 395v1M338 420v1M338 428v7M338 438v1M339 338v2M339 344v4M339 350v6M339 357v2M339 361v2M339 370v4M339 384v1M339 386v3M339 393v1M339 401v1M339 405v3M339 423v4M339 436v1M340 336v6M340 344v1M340 348v2M340 354v2M340 361v15M340 380v1M340 385v8M340 425v5M340 436v4M341 336v3M341 340v2M341 345v6M341 355v5M341 391v5M342 340v5M342 349v9M342 377v3M343 340v6M344 413v2M345 422v2M368 451v1M393 414v1M394 425v1M394 430v6M395 366v3M395 427v5M395 442v3M395 449v7M396 433v8M397 424v1M397 431v2M397 441v3M397 445v3M397 453v2M397 456v1M398 427v4M398 434v3M398 438v3M398 447v8M399 423v1M399 425v10M399 441v4M400 436v5M400 445v6M401 437v2M401 447v3M403 455v1M404 438v2M404 443v2M404 453v1M405 441v3M405 446v4M407 428v2M407 432v3M407 436v2M407 439v2M407 449v1M407 453v4M408 441v6M408 449v2M408 453v3M410 432v6M410 451v5M411 451v1M411 454v1M411 456v1M412 439v3M412 444v1M413 438v5M413 445v2M413 450v3M414 425v2M414 432v2M415 427v2M415 431v5M418 430v1M418 436v5M418 442v3M418 449v7M419 428v5M419 446v3M429 429v2M431 430v1M432 429v1M432 439v2M432 445v1M436 430v6M436 438v2M618 410v3M618 415v1M618 436v2M618 441v5M618 451v1M619 410v17M619 429v4M619 436v1M619 442v3M619 448v4M620 395v1M620 416v3M620 423v6M620 435v1M620 437v8M620 449v4M620 456v4M620 474v1M621 398v2M621 438v3M621 445v1M621 449v3M621 454v2M621 457v4M621 476v1M622 401v1M622 432v2M622 435v1M622 440v1M622 442v3M622 462v1M622 470v2M623 421v4M623 427v4M623 442v1M623 449v2M623 454v6M623 468v1M624 459v1M624 465v3M624 471v1M624 475v1M625 441v1M625 448v5M625 456v3M625 460v3M626 469v1M626 478v1M627 432v3M627 454v6M628 432v9M628 447v4M628 457v8M628 468v1M628 475v1M629 443v4M629 474v2M630 439v1M630 458v2M630 471v1M630 476v1M631 450v7M631 459v1M631 462v2M631 467v1M632 423v2M632 428v5M632 437v4M632 456v7M632 467v2M633 441v1M633 450v2M633 461v4M634 465v2M634 469v2M635 425v4M635 432v3M635 436v2M635 456v3M635 460v8M635 472v1M636 445v1M637 448v2M637 451v8M637 478v2M662 445v4M662 455v1M662 457v4M663 428v1M663 443v4M663 449v3M663 455v3M663 461v4M663 478v1M664 452v2M664 456v4M664 472v1M665 410v3M665 416v4M665 422v4M665 432v4M665 438v3M665 445v1M665 452v6M665 474v1M666 423v2M666 429v5M666 441v2M666 445v1M666 452v2M666 460v1M666 468v5M666 476v1M666 481v1M667 445v8M667 462v2M667 466v2M667 470v2M668 446v2M668 453v3M668 470v1M669 469v2M669 486v1M670 445v5M670 452v4M670 466v6M671 448v2M671 453v7M672 396v4M672 472v2M672 477v1M673 402v10M673 415v1M673 419v1M673 433v1M673 459v1M673 461v4M673 467v3M673 471v5M674 425v1M674 428v2M674 439v4M674 450v10M674 462v6M674 478v1M674 487v1M675 442v3M675 449v3M675 455v6M675 472v1M676 471v1M676 473v1M677 434v2M677 439v2M677 455v3M677 472v1M677 477v1M678 436v2M678 441v3M678 456v2M678 465v5M678 473v1M678 476v1M679 462v3M679 469v1M680 430v6M680 437v4M680 461v4M681 434v2M681 438v2M681 444v7M681 453v7M681 473v1M682 436v1M682 449v6M682 462v1M683 448v7M683 456v2M684 455v2M684 467v1M685 456v1M686 469v1M689 420v8M690 429v4M690 435v6M690 458v1M690 460v1M691 404v1M691 406v3M691 415v1M691 425v1M691 448v2M691 469v1M692 416v3M692 422v8M692 460v1M693 405v5M693 422v1M693 425v3M693 466v1M694 414v5M694 466v1M695 420v2M695 430v6M695 437v1M695 440v1M695 467v1M695 477v1M696 455v1M697 402v3M697 409v4M697 429v5M697 445v9M697 456v4M697 465v1M697 474v1M697 479v1M698 412v6M698 441v4M698 454v2M698 460v3M698 465v3M698 472v1M699 426v4"/>
<path stroke="#69ff00" d="M73 387v1M104 371v2M105 387v1M105 392v1M106 374v1M107 372v2M107 378v1M107 386v1M108 373v1M109 378v1M110 378v1M111 383v1M112 360v1M112 388v2M113 381v1M114 358v1M114 363v1M116 385v1M116 390v1M117 386v1M117 388v1M118 390v2M120 361v1M122 361v1M123 359v1M124 360v1M125 358v2M285 387v6M286 380v10M287 367v7M287 375v5M287 382v5M287 389v7M288 376v4M288 382v1M289 361v4M289 373v2M289 380v2M290 381v9M290 395v1M291 359v2M291 399v2M292 362v3M292 376v4M294 389v2M294 402v3M297 395v3M298 396v4M299 392v1M299 396v6M299 405v1M300 404v5M302 385v6M302 403v6M302 413v2M303 390v5M304 402v2M305 394v7M305 405v7M306 402v6M306 410v5M307 415v3M307 420v2M324 349v7M326 354v2M326 360v1M326 437v1M327 349v4M327 355v2M327 358v3M327 365v1M328 357v2M328 361v2M329 364v1M331 339v1M331 364v1M331 369v2M332 339v12M332 359v2M333 337v3M333 345v6M333 355v2M333 358v2M334 340v3M334 345v4M334 365v2M337 338v2M337 380v9M337 392v4M337 398v2M337 412v4M337 420v1M337 423v13M338 334v6M338 343v2M338 353v2M338 364v2M338 374v6M338 396v5M338 407v13M338 421v7M338 435v3M338 439v2M339 335v3M339 348v2M339 356v1M339 363v7M339 374v10M339 385v1M339 389v4M339 394v4M339 402v3M339 408v2M339 413v5M339 420v3M340 342v2M340 345v3M340 350v4M340 356v5M340 376v4M340 381v4M340 396v1M340 400v4M340 405v2M340 410v8M340 420v5M340 430v6M340 440v1M341 342v2M341 351v4M341 360v1M341 380v2M341 389v2M341 396v3M341 412v2M341 422v8M341 433v8M342 346v3M342 358v3M342 365v6M342 376v1M342 423v2M342 427v2M343 346v2M343 350v5M343 356v2M343 362v3M343 366v8M343 388v6M343 423v2M343 433v3M344 403v1M344 408v5M344 415v1M344 417v3M345 421v1M345 425v4M345 437v2M368 450v1M369 451v3M391 365v1M391 376v2M391 426v6M391 449v3M392 382v11M392 435v6M393 402v2M393 415v5M393 427v3M393 435v10M394 359v2M394 413v3M394 420v5M394 441v1M394 445v3M394 451v3M395 359v1M395 361v2M395 365v1M395 369v2M395 372v8M395 420v7M396 390v4M396 416v2M396 431v2M397 400v3M397 418v6M397 427v4M397 448v5M398 422v5M398 431v3M399 445v2M399 453v3M400 352v1M400 425v4M400 433v3M401 427v2M401 436v1M401 439v8M401 450v6M402 445v3M402 453v2M403 442v3M403 454v1M404 441v2M404 445v1M404 448v5M407 426v2M407 430v2M407 435v1M407 438v1M407 450v3M408 451v2M409 445v2M409 454v2M410 409v4M410 416v2M410 428v4M410 441v2M410 448v3M411 409v2M411 417v2M411 425v26M411 455v1M412 407v7M412 422v3M412 432v7M412 442v2M413 409v2M413 416v4M413 424v9M413 436v2M413 443v2M413 447v3M413 453v3M414 349v1M414 420v5M414 445v1M415 410v3M415 414v2M415 419v1M415 425v2M418 419v4M418 428v2M418 431v5M418 456v1M419 421v3M419 427v1M419 433v11M419 445v1M419 449v1M419 454v3M420 429v2M420 436v3M421 438v5M422 428v2M422 441v4M426 423v2M429 420v9M429 431v7M429 440v1M430 416v1M430 430v3M430 441v2M430 445v2M431 425v1M431 429v1M431 431v2M431 437v4M431 443v2M432 420v9M432 430v5M432 436v3M432 441v2M432 446v1M433 441v3M435 350v5M435 429v4M435 436v2M436 426v4M436 437v1M436 440v1M437 427v8M437 436v7M618 408v2M618 413v2M618 416v4M618 431v5M618 438v3M618 446v5M618 476v1M619 398v7M619 409v1M619 433v3M619 437v5M619 445v3M620 394v1M620 398v3M620 405v7M620 414v2M620 419v4M620 429v6M620 436v1M620 445v4M621 387v5M621 394v2M621 400v23M621 425v3M621 436v2M621 452v2M621 468v1M622 397v1M622 402v9M622 413v19M622 436v4M622 441v1M622 445v6M622 454v6M623 420v1M623 425v2M623 431v7M623 441v1M623 443v2M623 451v3M623 460v3M623 476v1M624 422v19M624 447v2M624 452v7M624 472v1M624 474v1M625 442v2M625 446v2M625 465v1M626 418v2M626 438v3M626 456v2M626 475v1M626 479v1M627 423v9M627 435v1M627 449v5M627 460v1M628 422v5M628 430v2M628 441v3M628 445v2M628 467v1M629 441v2M629 465v2M630 434v5M630 440v2M630 447v11M631 436v5M631 443v3M631 448v2M631 460v2M631 474v5M632 422v1M632 426v2M632 433v4M632 441v3M632 448v4M633 432v2M633 440v1M633 442v3M633 447v3M633 452v2M633 460v1M633 470v1M634 394v2M634 414v1M634 446v4M634 455v1M634 458v7M634 477v1M635 402v3M635 416v1M635 429v3M635 435v1M635 438v3M635 445v3M635 452v4M635 469v3M636 425v6M636 435v10M636 465v2M637 427v5M637 436v12M637 450v1M637 468v1M662 401v12M662 416v4M662 429v4M662 437v8M662 449v6M662 456v1M663 420v4M663 425v3M663 429v4M663 434v2M663 438v5M663 458v3M663 470v1M664 422v3M664 437v4M665 404v1M665 407v3M665 413v3M665 420v2M665 426v6M665 436v2M665 441v4M665 446v6M665 458v2M666 407v6M666 420v3M666 443v2M666 446v6M666 461v7M667 422v3M667 429v2M667 436v5M667 464v2M667 472v4M667 480v1M667 485v1M668 441v5M668 448v5M668 475v1M669 379v1M669 438v3M669 447v9M669 457v3M670 442v3M670 450v2M670 460v5M670 472v1M671 396v3M671 402v2M671 440v4M671 445v3M671 450v3M672 392v4M672 400v1M672 413v6M672 431v4M672 439v4M672 448v2M672 458v2M673 401v1M673 425v3M673 430v3M673 434v2M673 439v6M673 448v4M673 453v6M673 460v1M673 470v1M674 421v4M674 430v1M674 436v3M674 443v7M674 460v2M674 479v1M674 486v1M674 488v1M674 490v1M675 441v1M675 445v4M675 452v3M675 475v1M676 455v1M676 457v3M676 472v1M677 418v4M677 425v1M677 432v2M677 436v3M677 453v2M677 458v1M677 464v8M678 426v1M678 435v1M678 438v3M678 444v4M678 451v5M678 458v7M678 481v1M679 443v10M679 456v6M679 465v4M680 409v2M680 418v7M680 427v3M680 436v1M680 460v1M680 465v2M680 470v1M681 425v6M681 432v2M681 440v4M681 451v2M682 424v1M682 432v4M682 437v8M683 438v1M683 441v1M683 444v1M683 446v2M683 464v1M684 452v3M684 464v1M684 466v1M685 441v3M685 451v5M686 425v1M686 433v3M686 439v2M686 455v3M686 459v1M689 448v1M689 452v1M690 408v1M690 411v2M690 416v4M690 424v1M690 427v2M690 433v2M690 459v1M691 403v1M691 405v1M691 409v2M691 413v2M691 418v5M691 424v1M692 405v2M692 412v4M692 461v4M693 402v3M693 423v2M693 465v1M694 411v3M694 419v1M695 416v4M695 422v2M695 425v5M695 438v2M696 394v2M696 400v1M696 429v4M696 436v1M696 439v2M697 401v1M697 407v2M697 424v1M697 428v1M697 434v2M697 443v2M697 473v1M698 403v2M698 410v2M698 445v9M698 477v1M699 419v1M699 466v1"/>
<path stroke="#92ff00" d="M72 385v1M73 391v1M76 388v1M88 363v2M99 357v1M104 374v1M105 394v1M106 390v1M108 372v1M109 372v1M109 385v1M110 380v1M110 385v1M111 385v1M112 358v1M112 379v1M112 383v1M112 391v1M113 387v1M114 362v1M114 380v1M115 361v1M115 380v1M116 359v1M116 386v1M117 362v1M118 360v1M118 382v2M119 387v1M121 362v1M122 359v2M123 362v1M124 357v1M267 382v2M268 362v1M269 378v3M270 380v1M284 376v4M285 369v7M285 377v10M286 372v2M286 376v4M287 364v3M287 374v1M287 380v2M288 360v1M288 363v13M288 380v2M289 365v8M289 376v4M290 376v4M291 355v4M291 361v2M291 365v2M291 375v2M291 384v1M291 393v3M291 397v2M292 361v1M292 365v11M292 385v3M293 380v14M293 396v5M294 387v2M294 391v2M294 401v1M294 405v1M295 401v1M296 394v2M297 393v2M298 382v3M298 390v6M298 400v1M299 384v8M299 393v3M299 402v3M300 396v4M300 401v3M301 379v1M301 399v11M302 401v2M302 409v4M304 390v2M304 395v6M305 401v4M307 414v1M307 418v2M326 345v1M326 347v7M327 346v3M327 353v2M328 344v1M328 350v4M328 356v1M328 359v1M329 345v1M329 361v3M329 365v3M330 341v6M330 348v13M330 365v4M331 337v2M331 340v2M331 361v3M331 365v4M332 336v3M332 362v3M333 340v5M333 357v1M337 389v3M337 396v2M337 400v2M337 409v3M337 416v4M337 436v6M338 340v3M338 355v1M338 401v1M338 403v2M338 406v1M339 398v3M339 410v3M339 418v2M340 397v3M340 404v1M340 407v3M340 418v2M341 344v1M341 361v11M341 375v5M341 382v7M341 399v5M341 405v7M341 414v3M341 420v2M341 430v3M342 345v1M342 361v4M342 371v5M342 380v5M342 393v2M342 396v4M342 401v4M342 408v8M342 419v4M342 425v2M342 429v8M342 438v5M343 348v2M343 355v1M343 358v4M343 365v1M343 374v2M343 380v8M343 394v7M343 421v2M343 425v8M344 336v4M344 363v1M344 365v2M344 370v2M344 401v2M344 404v4M344 416v1M344 425v2M345 341v8M345 420v1M345 429v8M345 439v2M365 448v1M368 449v1M369 441v1M369 449v2M369 454v1M371 391v4M372 401v3M373 427v5M379 446v5M379 457v1M382 453v2M391 341v6M391 361v4M391 366v10M391 378v2M391 383v4M391 416v2M391 425v1M391 432v4M391 437v5M391 447v2M391 452v1M392 361v4M392 380v2M392 393v8M392 411v2M392 421v4M392 432v3M392 441v2M392 448v2M393 335v1M393 401v1M393 424v3M393 430v5M393 446v3M393 452v1M394 345v1M394 347v9M394 358v1M394 416v4M394 442v3M394 448v3M395 357v2M395 360v1M395 363v2M395 371v1M395 419v1M396 361v4M396 367v4M396 373v3M396 380v10M396 394v4M396 413v3M396 418v2M396 425v6M397 390v4M397 397v3M397 425v2M398 370v5M398 376v3M399 339v1M399 372v1M399 379v4M399 447v6M400 340v12M400 353v2M400 383v2M400 423v2M400 429v4M401 352v1M401 369v3M401 423v4M401 429v7M402 430v10M402 443v2M402 448v5M403 436v6M403 445v3M403 452v2M403 456v1M404 446v2M405 416v2M407 424v2M408 456v1M409 411v6M409 430v6M409 439v2M409 447v7M410 407v2M410 413v3M410 418v2M410 423v5M410 443v5M411 406v3M411 411v6M411 419v6M412 401v2M412 405v2M412 414v2M412 420v2M412 425v7M412 445v8M413 346v1M413 408v1M413 411v5M413 420v4M413 433v3M413 456v1M414 340v4M414 345v4M414 350v2M414 364v2M414 419v1M414 441v4M414 446v8M415 361v5M415 380v4M415 387v3M415 396v3M415 409v1M415 413v1M415 416v3M415 420v5M418 416v3M418 423v5M419 351v1M419 420v1M419 424v3M419 444v1M419 450v4M420 421v4M420 426v3M420 431v2M420 435v1M420 439v4M420 445v9M420 456v2M421 345v1M421 353v8M421 426v12M421 443v2M421 460v1M422 345v3M422 361v8M422 371v4M422 417v3M422 426v2M422 430v1M422 436v5M422 445v6M423 365v1M423 420v3M423 433v8M423 445v3M424 428v3M424 436v1M425 418v2M426 420v3M426 425v3M426 436v2M427 419v1M427 421v6M427 431v2M427 437v3M428 410v6M428 418v2M428 421v6M428 429v2M429 347v2M429 415v1M429 438v2M429 442v2M430 417v3M430 423v2M430 429v1M430 433v2M430 436v5M430 443v2M430 447v2M431 405v6M431 415v1M431 418v7M431 426v3M431 433v4M431 441v2M431 446v4M431 460v1M432 418v2M432 435v1M432 443v2M432 447v3M432 457v2M432 461v2M433 425v1M433 444v2M434 359v1M434 415v5M434 430v1M434 432v4M434 439v2M435 346v4M435 355v1M435 416v5M435 423v6M435 433v1M435 438v4M436 374v1M436 422v4M436 436v1M436 441v1M436 448v4M436 460v1M437 356v4M437 425v2M437 435v1M437 443v13M438 403v2M438 441v4M438 446v9M438 456v4M618 385v3M618 393v15M618 421v4M618 426v5M619 395v1M619 397v1M619 408v1M620 393v1M620 396v2M620 401v4M620 412v2M621 368v5M621 380v7M621 392v2M621 423v2M621 428v8M622 363v2M622 384v1M622 386v3M622 396v1M622 398v3M622 411v2M622 451v3M622 466v4M622 472v1M622 475v1M623 384v5M623 397v6M623 405v3M623 414v2M623 438v3M623 469v1M624 386v5M624 420v2M624 441v3M624 445v2M624 449v3M624 470v1M624 473v1M625 383v2M625 386v9M625 398v4M625 410v5M625 416v4M625 425v1M625 437v4M625 444v2M626 358v3M626 407v11M626 420v6M626 436v2M626 448v8M626 458v2M627 408v5M627 422v1M627 436v13M627 461v2M628 355v8M628 421v1M628 427v3M628 444v1M628 465v2M628 474v1M629 361v2M629 365v6M629 420v1M629 425v1M629 431v6M629 470v1M630 381v3M630 385v3M630 426v8M630 442v5M631 415v5M631 431v1M631 434v2M631 441v2M631 446v2M632 420v2M632 425v1M632 444v4M632 452v4M633 394v2M633 398v3M633 420v7M633 429v3M633 434v6M633 445v2M633 454v6M633 483v1M634 385v3M634 393v1M634 396v5M634 403v2M634 412v2M634 415v1M634 419v1M634 434v2M634 442v4M634 450v5M634 456v2M634 472v1M634 479v1M635 396v4M635 401v1M635 405v1M635 414v2M635 417v8M635 444v1M635 448v4M636 388v2M636 395v1M636 405v6M636 421v4M636 431v4M637 380v2M637 389v5M637 396v7M637 425v2M637 432v2M662 385v2M662 396v5M662 413v3M662 420v3M662 424v1M662 426v3M662 433v1M662 436v1M663 403v2M663 406v5M663 418v2M663 424v1M663 433v1M663 436v2M663 474v1M664 373v1M664 405v15M664 421v1M664 433v4M665 400v4M665 405v2M665 472v2M666 401v1M666 405v2M666 413v7M666 473v1M667 420v2M667 425v4M667 431v5M667 479v1M667 481v1M668 430v1M669 371v2M669 378v1M669 425v4M669 432v6M669 441v6M669 456v1M670 377v8M670 389v3M670 394v2M670 432v3M670 441v1M670 477v1M671 394v2M671 399v3M671 404v6M671 414v4M671 431v5M671 438v2M671 444v1M672 381v11M672 403v7M672 411v2M672 419v1M672 424v1M672 429v2M672 435v4M672 443v1M672 446v2M672 450v8M673 397v4M673 420v2M673 424v1M673 428v2M673 436v3M673 447v1M673 452v1M674 401v3M674 405v2M674 411v7M674 420v1M674 431v5M674 489v1M675 412v2M675 426v1M676 415v5M676 434v2M676 445v10M676 456v1M676 476v1M677 413v5M677 422v3M677 426v3M677 431v1M677 441v8M677 451v2M677 459v1M677 463v1M677 478v1M678 409v3M678 416v3M678 424v2M678 427v3M678 432v3M678 448v3M679 410v3M679 416v8M679 425v3M679 429v5M679 442v1M679 453v3M680 382v3M680 388v3M680 396v2M680 407v2M680 411v4M680 416v2M680 425v2M680 442v13M680 458v2M680 472v1M681 401v2M681 407v8M681 420v5M681 431v1M681 460v3M682 420v4M682 425v7M682 461v1M682 463v1M682 467v1M683 426v1M683 436v2M683 439v2M683 442v2M683 445v1M683 459v1M684 444v8M684 463v1M685 444v1M685 449v2M685 462v1M685 467v1M685 469v2M686 397v4M686 407v2M686 420v5M686 426v2M686 431v2M686 437v2M686 449v6M686 467v1M689 377v1M689 399v2M689 459v1M690 382v3M690 396v5M690 404v4M690 409v2M690 413v3M690 420v4M690 425v2M691 401v2M691 411v2M691 416v2M691 423v1M692 395v6M692 404v1M692 407v5M693 401v1M694 402v1M694 407v4M695 401v2M695 407v1M695 424v1M696 386v8M696 396v4M696 412v11M696 427v2M696 433v3M696 437v2M697 405v2M697 420v4M697 426v2M697 436v7M697 480v1M698 401v2M698 405v5M698 470v1M699 338v2M699 405v3M699 414v1M699 416v3M699 464v2"/>
<path stroke="#bcff00" d="M72 390v1M73 385v1M73 388v2M76 386v2M86 363v1M106 373v1M106 384v1M106 393v1M107 384v1M107 387v1M109 381v1M109 384v1M110 377v1M110 384v1M111 382v1M112 361v2M112 382v1M113 361v1M113 384v1M113 386v1M113 389v1M115 359v2M115 382v1M115 385v1M115 388v1M115 390v1M116 384v1M116 387v2M117 385v1M117 390v1M118 362v1M118 384v1M118 386v2M120 359v1M121 359v1M125 360v1M125 362v1M266 368v4M266 377v3M267 363v1M267 365v4M267 380v2M268 363v11M269 370v8M269 381v2M272 368v1M284 361v4M284 370v6M284 385v10M285 367v2M285 376v1M286 360v1M286 370v2M286 374v2M287 361v3M288 358v2M288 361v2M289 359v2M290 358v18M291 363v2M291 367v8M291 377v7M291 385v8M291 396v1M292 380v5M292 388v13M293 361v4M293 377v2M293 394v2M294 380v7M294 393v8M295 360v1M296 376v4M296 393v1M296 399v2M297 380v5M297 387v6M298 379v3M298 385v5M299 375v9M300 380v9M300 393v3M300 400v1M301 381v3M301 388v11M301 410v1M304 392v3M325 347v2M326 346v1M328 348v2M328 354v2M328 360v1M329 339v1M329 341v4M329 346v2M329 352v2M330 335v1M330 340v1M330 347v1M330 364v1M331 342v19M332 361v1M337 402v7M338 402v1M338 405v1M341 372v3M341 404v1M341 417v3M342 385v4M342 392v1M342 395v1M342 400v1M342 406v2M342 416v3M342 437v1M343 376v4M343 420v1M343 436v5M344 361v2M344 364v1M344 367v3M344 372v4M344 380v5M344 427v1M344 436v3M345 340v1M345 349v6M345 356v2M346 340v2M346 373v2M346 376v4M346 441v2M347 369v2M347 379v4M347 387v3M347 396v4M348 334v6M349 344v1M349 352v4M355 406v1M365 445v3M366 450v4M367 447v5M368 440v6M368 447v2M369 439v2M369 442v2M369 445v4M370 378v2M370 441v1M370 451v3M371 380v1M371 386v5M371 450v1M372 404v13M373 420v1M373 425v2M373 432v4M374 441v1M376 457v2M377 349v3M377 357v4M378 365v2M378 448v4M378 455v1M379 443v3M379 451v2M379 456v1M380 453v3M382 450v3M383 453v1M385 449v2M385 456v1M388 337v2M388 451v5M391 340v1M391 347v3M391 355v6M391 380v3M391 387v6M391 396v5M391 412v4M391 418v3M391 424v1M391 436v1M391 442v5M391 453v2M392 366v1M392 413v2M392 416v5M392 425v7M392 443v5M392 450v3M392 454v1M393 332v3M393 336v4M393 381v4M393 421v3M393 445v1M393 449v3M394 340v2M394 346v1M394 356v2M394 361v3M395 347v10M395 396v1M395 400v1M395 413v6M396 357v4M396 365v2M396 371v2M396 376v4M396 398v3M397 366v4M397 373v3M397 380v10M397 394v3M398 336v4M398 362v8M398 375v1M398 379v1M398 398v3M399 364v1M399 366v6M399 373v2M399 376v3M399 383v16M400 355v1M400 380v3M400 385v8M400 396v3M401 340v3M401 345v2M401 351v1M401 353v2M401 363v6M401 372v2M401 379v1M401 401v1M402 350v5M402 367v4M402 427v3M402 440v3M403 361v4M403 401v2M403 434v2M403 448v4M404 394v1M405 401v4M405 408v8M406 405v13M406 421v1M407 420v4M408 340v4M408 345v1M408 396v5M408 427v2M408 432v9M409 366v3M409 393v11M409 405v6M409 417v3M409 421v4M409 427v3M409 436v3M409 441v4M410 403v4M410 420v3M411 385v3M411 396v10M412 386v2M412 400v1M412 403v2M412 416v4M413 340v6M413 347v4M413 401v7M414 338v2M414 344v1M414 352v12M414 366v3M414 375v5M414 396v5M414 409v7M414 417v2M415 344v1M415 349v2M415 356v5M415 366v2M415 374v2M415 379v1M415 384v3M415 390v1M415 395v1M415 399v2M415 403v6M418 405v2M418 414v2M419 348v3M419 352v4M419 414v2M419 418v2M420 356v2M420 366v1M420 420v1M420 425v1M420 433v2M420 443v2M420 454v2M421 346v7M421 386v4M421 422v4M421 445v7M421 458v2M422 342v1M422 348v2M422 353v8M422 369v2M422 375v5M422 401v4M422 416v1M422 420v6M422 431v5M422 451v2M422 456v1M423 350v2M423 366v7M423 384v1M423 396v1M423 405v1M423 419v1M423 423v10M423 441v2M423 448v1M424 385v2M424 396v5M424 420v8M424 431v5M424 437v8M424 447v3M424 452v6M425 346v1M425 405v9M425 416v2M425 420v6M425 441v3M425 445v11M426 392v2M426 398v3M426 416v4M426 428v8M426 438v3M427 353v3M427 359v2M427 398v4M427 405v14M427 420v1M427 427v4M427 433v4M427 440v3M428 347v7M428 358v2M428 368v2M428 401v4M428 408v2M428 416v2M428 420v1M428 427v2M428 431v6M429 345v2M429 349v1M429 381v3M429 413v2M429 417v3M429 441v1M429 444v1M430 344v1M430 355v5M430 393v2M430 403v2M430 410v6M430 420v3M430 425v4M430 435v1M430 449v1M430 456v2M431 345v2M431 355v2M431 403v2M431 411v4M431 416v2M431 445v1M431 450v3M431 459v1M432 408v2M432 414v1M432 416v2M432 450v7M432 459v2M433 338v2M433 413v3M433 420v1M433 426v8M433 439v2M433 446v3M433 454v5M434 345v14M434 360v1M434 401v5M434 410v5M434 420v1M434 425v5M434 431v1M434 436v3M434 441v4M434 457v3M435 340v2M435 344v2M435 356v1M435 358v5M435 412v2M435 421v2M435 434v2M435 442v8M435 454v5M436 361v2M436 370v4M436 375v5M436 420v2M436 442v6M436 452v8M437 346v2M437 352v4M437 360v1M437 412v4M437 420v1M437 456v3M438 361v1M438 366v3M438 372v4M438 402v1M438 414v5M438 428v5M438 445v1M438 455v1M438 460v1M618 380v2M618 388v5M618 420v1M618 425v1M618 460v3M619 387v8M619 396v1M619 405v3M619 468v1M620 338v2M620 348v1M620 364v1M620 369v4M620 378v2M620 381v4M620 386v7M621 341v9M621 354v2M621 365v3M621 373v2M621 377v3M622 362v1M622 369v6M622 376v4M622 382v2M622 385v1M622 389v7M622 474v1M623 365v6M623 380v4M623 389v8M623 403v2M623 408v6M623 416v4M624 363v6M624 379v7M624 391v3M624 396v6M624 407v13M624 444v1M625 360v4M625 365v1M625 380v3M625 385v1M625 395v3M625 402v3M625 407v3M625 415v1M625 420v5M625 426v2M625 434v3M626 344v3M626 352v4M626 357v1M626 361v1M626 385v2M626 401v6M626 426v2M626 431v5M626 441v4M626 446v2M627 353v12M627 384v1M627 397v7M627 405v3M627 413v2M627 416v6M627 463v1M628 342v2M628 354v1M628 363v3M628 385v4M628 397v3M628 412v4M628 420v1M628 469v1M629 357v4M629 363v2M629 371v3M629 379v1M629 416v4M629 421v4M629 426v5M629 437v4M629 467v1M630 380v1M630 384v1M630 388v1M630 395v1M630 400v1M630 425v1M631 342v2M631 389v10M631 401v14M631 422v9M631 432v2M632 357v4M632 401v2M632 410v9M632 480v1M633 367v7M633 376v4M633 382v3M633 389v5M633 396v2M633 419v1M633 427v2M634 366v3M634 378v1M634 388v2M634 391v2M634 401v2M634 405v2M634 411v1M634 416v3M634 423v11M634 436v6M634 471v1M634 478v1M635 364v1M635 388v3M635 393v3M635 400v1M635 406v8M635 441v3M636 375v1M636 380v1M636 384v1M636 386v2M636 390v5M636 396v8M636 411v3M636 415v4M636 420v1M636 467v1M637 334v2M637 357v2M637 382v7M637 394v2M637 403v2M637 407v5M637 414v11M637 434v2M662 381v4M662 387v9M662 423v1M662 425v1M662 434v2M663 342v1M663 350v11M663 381v2M663 387v4M663 396v1M663 399v4M663 405v1M663 411v7M663 471v1M664 369v4M664 374v6M664 381v10M664 393v3M664 399v6M664 420v1M664 425v8M664 473v1M664 475v1M664 486v1M665 380v6M665 397v3M665 476v1M666 402v3M666 474v1M667 476v1M667 478v1M668 419v1M668 422v8M668 431v3M668 438v3M669 367v4M669 373v3M669 377v1M669 380v1M669 420v5M669 429v3M669 487v1M670 376v1M670 387v2M670 392v2M670 396v5M670 404v1M670 413v7M670 421v2M670 426v6M670 435v6M670 474v1M670 478v1M671 376v4M671 384v10M671 410v4M671 418v4M671 426v5M671 436v2M671 487v1M672 380v1M672 401v2M672 410v1M672 420v4M672 426v3M672 444v2M673 346v3M673 385v12M673 422v2M673 445v2M673 476v1M674 359v1M674 400v1M674 404v1M674 407v4M674 418v1M674 480v1M675 358v5M675 381v4M675 388v12M675 411v1M675 414v5M675 420v6M675 427v3M675 432v9M676 374v2M676 377v3M676 390v6M676 401v4M676 407v8M676 420v5M676 432v2M676 436v5M676 442v3M677 380v5M677 395v10M677 407v6M677 429v2M677 449v2M677 460v3M678 392v4M678 397v3M678 405v4M678 412v4M678 419v5M678 430v2M679 373v7M679 394v8M679 407v3M679 413v3M679 424v1M679 428v1M679 434v6M679 441v1M680 380v2M680 385v3M680 391v5M680 398v7M680 406v1M680 415v1M680 441v1M680 455v3M680 471v1M680 480v1M681 403v4M681 415v5M681 471v2M682 411v5M683 420v6M683 427v4M683 434v2M684 375v3M684 424v1M684 426v2M684 430v14M685 393v3M685 401v4M685 408v7M685 416v4M685 426v3M685 439v2M685 445v4M685 464v1M686 396v1M686 401v3M686 405v2M686 409v7M686 419v1M686 428v3M686 436v1M686 441v1M686 444v5M689 376v1M689 378v2M689 389v2M689 394v5M689 408v8M689 417v3M689 456v1M690 380v2M690 389v5M690 401v3M691 382v2M691 385v1M691 388v8M691 398v3M692 352v3M692 357v4M692 390v5M692 401v3M693 396v3M693 400v1M693 472v1M694 385v17M694 403v4M694 473v1M695 375v1M695 396v1M695 399v2M695 403v4M695 408v8M696 384v2M696 401v2M696 405v7M696 423v4M697 393v8M697 425v1M697 472v1M698 398v3M698 468v2M698 473v1M699 337v1M699 373v5M699 388v2M699 396v9M699 408v6M699 415v1M699 463v1"/>
<path stroke="#e6ff00" d="M76 385v1M87 361v1M87 363v1M100 355v1M100 357v1M106 371v1M106 386v1M109 377v1M109 379v1M109 382v1M110 386v1M111 386v1M112 359v1M113 388v1M114 382v1M115 362v1M115 391v1M117 389v1M119 390v2M120 363v1M231 330v1M234 330v1M263 372v1M264 369v4M265 376v2M266 360v8M266 372v5M267 364v1M267 369v11M268 374v3M268 378v4M269 365v5M270 372v3M270 376v4M271 367v3M271 372v3M271 376v1M272 369v5M277 361v3M277 377v3M278 347v6M278 356v3M279 349v4M279 358v5M280 361v4M282 380v7M283 372v4M283 377v3M284 359v2M284 365v1M284 368v2M284 380v5M285 359v2M285 365v2M286 361v9M287 358v3M289 357v2M290 356v2M293 365v12M293 379v1M293 401v1M295 374v5M295 400v1M296 364v12M296 380v4M296 385v8M296 396v3M296 401v1M297 364v1M297 366v7M297 376v4M297 385v2M298 371v5M298 377v2M299 374v1M300 377v3M300 389v4M301 380v1M301 384v4M325 346v1M325 349v1M325 352v9M326 361v1M328 345v3M329 337v2M329 340v1M329 348v4M329 354v7M330 336v4M330 361v3M342 389v3M342 405v1M343 403v1M343 405v15M343 441v1M344 340v7M344 354v2M344 376v4M344 385v5M344 420v5M344 428v1M344 432v4M344 439v3M345 338v2M345 355v1M345 358v2M345 412v2M346 338v2M346 342v1M346 345v2M346 353v3M346 362v11M346 375v1M347 335v5M347 361v8M347 371v2M347 376v3M347 383v2M347 386v1M347 390v6M347 400v1M348 380v5M348 386v4M348 393v3M348 404v1M349 340v4M349 345v7M349 356v2M349 405v3M350 365v6M350 408v2M350 418v2M351 425v1M353 354v5M353 370v6M353 436v3M354 361v4M354 369v12M355 404v2M355 407v2M356 359v2M356 403v1M356 405v5M357 358v1M360 437v1M361 401v4M364 436v2M364 447v2M365 444v1M366 444v1M366 446v4M367 436v5M367 444v3M368 428v8M368 438v2M368 446v1M369 360v1M369 369v5M369 376v2M369 437v2M369 444v1M370 366v12M370 392v4M370 442v2M370 446v5M371 381v5M371 413v1M371 448v2M371 451v3M372 348v1M372 354v2M372 417v3M372 440v13M373 361v3M373 365v2M373 421v4M373 436v5M374 442v13M376 451v6M377 340v9M377 352v5M378 361v4M378 367v2M378 428v4M378 445v3M378 452v3M379 341v2M379 422v1M379 438v2M379 441v2M379 453v3M380 441v8M380 452v1M382 448v2M383 441v1M383 448v5M384 454v2M385 339v2M385 447v2M385 451v5M386 341v2M387 350v7M387 358v3M387 367v1M388 335v2M388 339v1M388 361v4M388 386v3M388 436v5M388 449v2M388 456v1M391 350v5M391 393v3M391 401v3M391 421v3M392 328v4M392 333v7M392 365v1M392 367v5M392 376v2M392 401v2M392 415v1M392 453v1M393 340v5M393 357v4M393 380v1M393 385v8M393 396v5M393 420v1M394 331v4M394 336v4M394 342v3M394 364v1M394 379v1M394 401v3M395 345v2M395 380v1M395 385v11M395 397v3M396 335v1M396 352v5M396 401v4M396 420v5M397 336v7M397 346v8M397 356v10M397 370v3M397 376v2M398 349v7M398 358v4M398 380v9M398 393v5M399 340v2M399 344v10M399 361v3M399 365v1M399 375v1M399 399v2M400 356v5M400 393v3M400 399v4M401 343v2M401 347v4M401 355v1M401 361v2M401 374v5M401 402v1M402 346v4M402 355v1M402 365v2M402 371v2M402 380v11M402 394v7M403 348v3M403 356v1M403 359v2M403 371v5M403 403v2M403 433v1M404 361v1M404 365v1M404 385v9M404 395v6M405 380v3M405 390v4M405 396v5M405 407v1M406 401v1M406 403v2M406 418v3M407 337v3M407 341v3M407 406v3M407 414v2M408 344v1M408 354v4M408 360v1M408 362v2M408 368v4M408 378v2M408 408v9M408 419v8M408 429v3M409 343v1M409 348v1M409 361v3M409 365v1M409 369v4M409 379v9M409 391v2M409 404v1M409 420v1M409 425v2M410 347v3M410 359v1M410 362v3M410 370v6M410 379v6M410 388v11M410 401v2M411 365v2M411 376v2M411 382v3M411 388v8M412 384v2M412 388v2M412 392v8M413 351v5M413 360v1M414 369v6M414 392v4M414 408v1M414 416v1M415 345v4M415 351v2M415 355v1M415 368v2M415 372v2M415 376v3M415 391v4M415 401v2M418 361v2M418 404v1M418 407v3M418 412v2M419 346v2M419 356v5M419 410v4M419 416v2M420 346v8M420 355v1M420 358v4M420 364v2M420 367v9M420 414v6M421 361v7M421 372v14M421 390v1M421 396v5M421 415v4M421 420v2M421 452v4M421 457v1M422 343v2M422 350v3M422 383v4M422 394v7M422 405v5M422 412v4M422 453v1M423 347v3M423 352v2M423 356v3M423 361v4M423 373v5M423 380v4M423 385v11M423 397v3M423 406v3M423 412v7M423 443v2M423 449v1M423 454v2M424 351v3M424 368v7M424 380v5M424 387v2M424 393v3M424 401v4M424 408v2M424 413v3M424 418v2M424 445v2M424 450v2M425 347v4M425 356v4M425 391v6M425 402v3M425 414v2M425 426v15M425 444v1M426 365v2M426 370v6M426 386v6M426 394v4M426 401v15M426 441v2M427 347v6M427 356v3M427 371v2M427 384v8M427 395v3M427 402v3M427 443v6M428 344v3M428 354v4M428 360v4M428 366v2M428 370v6M428 378v2M428 406v2M428 437v8M429 343v2M429 350v2M429 355v10M429 376v5M429 384v1M429 391v1M429 396v5M429 411v2M429 416v1M430 345v10M430 360v6M430 374v2M430 378v15M430 395v8M430 405v5M430 450v6M431 340v3M431 347v2M431 352v3M431 357v2M431 365v2M431 388v8M431 401v2M431 453v6M432 361v4M432 366v4M432 372v4M432 404v4M432 410v4M432 415v1M433 380v5M433 387v3M433 392v4M433 411v2M433 416v4M433 421v4M433 434v5M433 449v5M434 341v4M434 399v2M434 406v4M434 421v4M434 445v3M434 456v1M435 338v2M435 342v2M435 357v1M435 363v3M435 367v9M435 399v13M435 414v2M435 450v4M436 346v3M436 353v3M436 363v7M436 402v3M436 410v10M437 345v1M437 348v4M437 361v1M437 380v2M437 383v2M437 387v5M437 396v3M437 404v1M437 409v3M437 421v4M438 362v4M438 369v3M438 376v4M438 401v1M438 405v9M438 419v1M438 426v2M438 433v6M438 440v1M618 373v7M618 382v3M619 345v3M619 358v3M619 376v11M620 333v5M620 340v2M620 346v2M620 349v1M620 360v1M620 362v2M620 365v4M620 373v5M620 380v1M620 385v1M620 473v1M621 340v1M621 350v4M621 356v5M621 375v2M621 466v2M622 361v1M622 365v4M622 375v1M622 380v2M622 473v1M623 362v3M623 371v5M623 377v3M623 473v1M624 360v3M624 369v10M624 394v2M624 402v5M624 468v2M625 338v2M625 341v4M625 348v6M625 359v1M625 364v1M625 366v2M625 373v3M625 379v1M625 405v2M625 428v6M626 336v8M626 347v2M626 351v1M626 356v1M626 362v5M626 371v9M626 387v2M626 393v8M626 428v3M626 445v1M627 352v1M627 365v19M627 385v2M627 391v6M627 404v1M627 415v1M627 469v1M628 336v6M628 344v5M628 352v2M628 366v6M628 376v9M628 389v8M628 400v8M628 411v1M628 419v1M629 356v1M629 374v5M629 380v9M629 397v8M629 413v3M630 335v1M630 361v4M630 368v4M630 389v6M630 396v4M630 402v8M630 415v10M631 333v9M631 344v1M631 380v9M631 399v2M631 420v2M632 340v7M632 348v4M632 355v2M632 365v3M632 373v7M632 388v9M632 398v3M632 403v7M632 419v1M633 346v6M633 356v11M633 374v2M633 380v2M633 385v4M633 401v4M633 412v3M633 416v3M633 482v1M634 349v7M634 358v8M634 369v9M634 379v6M634 390v1M634 407v4M634 420v3M635 351v4M635 361v3M635 365v9M635 376v5M635 384v4M635 391v2M636 361v3M636 365v3M636 373v2M636 378v2M636 381v3M636 385v1M636 404v1M636 414v1M636 419v1M637 333v1M637 339v1M637 342v3M637 353v4M637 359v1M637 405v2M637 412v2M662 337v3M662 368v2M662 380v1M663 340v2M663 343v7M663 380v1M663 383v4M663 391v5M663 397v2M663 472v2M663 479v2M664 340v5M664 361v3M664 365v4M664 380v1M664 391v2M664 396v3M664 474v1M665 386v7M665 395v2M665 477v1M666 477v1M667 406v3M667 416v4M667 477v1M667 482v1M668 353v8M668 414v5M668 420v2M668 434v4M668 476v1M669 357v3M669 361v6M669 376v1M669 381v2M669 387v4M669 402v2M669 410v3M669 414v2M669 419v1M670 372v4M670 385v2M670 401v3M670 405v1M670 408v5M670 420v1M670 423v3M670 473v1M670 479v2M671 373v3M671 380v4M671 422v4M672 373v2M672 425v1M673 345v1M673 349v2M673 375v1M673 383v2M673 477v1M674 352v2M674 355v1M674 357v2M674 360v5M674 366v4M674 374v5M674 391v9M674 419v1M675 355v3M675 363v2M675 367v1M675 375v6M675 385v3M675 400v1M675 410v1M675 419v1M675 430v2M675 485v1M676 368v6M676 376v1M676 380v3M676 385v5M676 396v5M676 405v2M676 425v7M676 441v1M677 376v4M677 385v10M677 405v2M678 357v4M678 374v2M678 385v7M678 396v1M678 400v5M679 363v10M679 380v3M679 385v9M679 402v5M679 440v1M680 405v1M681 463v1M681 467v1M682 409v2M682 416v4M682 464v1M683 374v4M683 412v8M683 431v3M683 468v1M684 373v2M684 378v1M684 390v11M684 421v3M684 425v1M684 428v2M685 380v5M685 388v5M685 396v5M685 405v3M685 415v1M685 423v3M685 429v10M686 382v3M686 389v3M686 393v3M686 404v1M686 417v2M686 442v2M686 464v1M689 358v2M689 361v1M689 364v5M689 373v3M689 380v1M689 387v2M689 391v3M689 406v2M689 416v1M689 457v1M690 346v3M690 354v2M690 374v2M690 385v4M690 394v2M691 340v4M691 345v3M691 353v6M691 364v1M691 376v6M691 384v1M691 386v2M691 396v2M692 350v2M692 355v2M692 361v2M692 365v4M692 379v5M692 385v5M692 471v1M693 361v2M693 366v2M693 394v2M693 399v1M694 355v1M694 358v3M694 380v5M695 361v4M695 366v2M695 374v1M695 376v4M695 397v2M695 476v1M696 380v4M696 403v2M697 391v2M697 467v1M698 359v2M698 394v4M698 479v1M699 341v3M699 361v2M699 371v2M699 378v2M699 383v5M699 390v6"/>
<path stroke="#fff800" d="M77 385v1M87 364v1M105 371v1M106 387v1M107 379v1M107 389v1M107 394v1M109 376v1M110 375v1M111 377v1M111 381v1M113 362v1M114 359v1M114 361v1M114 384v1M114 388v1M116 361v1M116 381v1M121 358v1M123 357v1M125 357v1M231 331v3M232 340v5M232 351v6M234 331v1M234 335v1M234 338v2M235 340v5M237 338v2M244 347v3M244 360v1M245 361v1M256 345v5M256 357v4M262 346v3M262 352v4M262 357v4M263 365v1M263 369v3M264 362v2M264 367v2M264 373v3M265 361v4M265 366v10M268 377v1M270 367v5M270 375v1M271 370v2M271 375v1M271 377v3M272 374v4M274 365v7M275 357v1M276 342v2M276 354v6M277 364v1M277 366v11M277 380v1M278 353v3M278 359v2M278 369v3M278 376v10M279 353v3M279 363v3M279 370v6M279 377v9M280 365v14M280 385v1M283 361v3M283 365v1M283 369v3M283 376v1M283 380v4M283 388v3M284 366v2M285 361v4M289 356v1M292 354v3M292 360v1M294 360v1M295 361v7M295 369v5M295 379v1M295 392v2M295 398v2M296 384v1M297 365v1M297 373v3M298 368v3M298 376v1M325 350v2M329 336v1M343 401v2M343 404v1M344 347v3M344 353v1M344 390v11M344 429v3M345 360v1M345 372v9M345 385v10M345 405v1M345 410v2M345 414v1M345 441v2M346 336v2M346 343v2M346 347v6M346 356v6M346 425v1M347 373v1M347 385v1M348 340v6M348 348v8M348 360v1M348 371v1M348 379v1M348 385v1M348 390v3M348 396v8M348 405v2M348 411v5M349 358v3M349 375v1M349 377v16M349 396v8M349 408v3M349 416v1M350 341v4M350 352v1M350 356v1M350 361v4M350 371v9M350 384v8M350 394v2M350 401v4M350 406v2M350 410v1M350 415v3M350 424v1M351 364v1M351 369v15M351 385v3M351 396v3M351 405v1M351 420v1M351 422v3M351 426v3M351 443v2M352 337v1M352 355v5M352 371v2M352 376v4M352 425v5M352 435v1M352 445v2M353 344v10M353 359v11M353 376v5M353 398v2M353 424v1M353 428v2M353 439v7M354 365v4M354 381v2M354 399v2M354 409v5M354 423v2M354 441v5M355 335v1M355 356v5M355 401v3M355 409v6M355 419v1M355 425v3M356 341v3M356 345v6M356 355v4M356 361v2M356 365v6M356 404v1M356 410v5M356 420v8M357 339v2M357 355v3M357 359v6M357 420v1M358 365v1M358 404v1M359 430v7M360 400v1M360 436v1M360 438v2M361 405v3M364 438v3M364 446v1M365 431v2M365 441v3M366 443v1M366 445v1M367 432v4M367 441v3M368 350v5M368 360v1M368 368v4M368 375v1M368 405v4M368 425v3M368 436v2M369 350v10M369 361v4M369 367v2M369 374v2M369 378v2M369 423v5M369 433v4M370 361v5M370 380v3M370 385v7M370 439v2M370 444v2M371 346v4M371 401v4M371 406v7M371 414v4M371 439v2M371 442v3M371 446v2M372 349v5M372 356v3M372 424v1M372 438v2M372 453v3M373 348v1M373 353v4M373 364v1M373 367v3M373 371v3M373 445v6M373 453v2M375 440v2M375 455v1M376 351v2M376 356v5M376 443v8M377 361v5M377 411v4M377 429v3M377 439v2M377 443v9M378 348v6M378 369v4M378 376v4M378 385v2M378 413v9M378 426v2M378 432v1M378 435v6M378 443v2M379 334v3M379 339v2M379 343v2M379 365v1M379 380v3M379 385v2M379 420v2M379 423v2M379 436v2M379 440v1M380 340v7M380 348v3M380 449v3M381 343v4M381 354v2M381 431v2M381 436v3M381 452v3M382 436v5M382 445v3M383 337v8M383 442v3M383 446v2M384 339v5M384 345v1M384 351v9M384 364v1M384 447v7M385 331v2M385 337v2M385 341v3M385 365v9M385 379v1M385 442v5M386 336v5M386 343v6M386 354v3M386 366v7M386 441v2M386 449v6M387 342v8M387 357v1M387 361v2M387 365v2M387 368v3M387 382v14M387 400v3M387 435v1M387 451v4M388 356v5M388 365v7M388 375v5M388 385v1M388 389v5M388 397v3M388 431v5M388 441v1M388 445v4M391 335v1M392 332v1M392 372v4M392 378v2M393 345v10M393 356v1M393 393v1M394 335v1M394 365v14M394 394v2M395 335v1M395 341v4M395 381v4M395 401v3M396 336v16M397 335v1M397 343v3M397 354v2M397 378v2M398 340v9M398 356v2M398 389v4M399 342v2M399 354v7M399 401v1M400 362v13M400 379v1M401 356v5M401 380v6M401 393v3M401 397v4M402 340v6M402 362v3M402 373v1M402 391v3M402 401v3M403 346v2M403 351v2M403 357v2M403 365v6M403 378v3M403 384v6M403 392v4M403 397v4M404 362v3M404 366v1M404 371v11M404 401v3M404 408v2M405 383v2M405 388v2M405 394v2M405 405v2M406 402v1M407 340v1M407 352v9M407 376v4M407 394v2M407 405v1M407 409v5M407 416v4M408 338v2M408 358v2M408 361v1M408 364v1M408 366v2M408 372v3M408 376v2M408 380v9M408 394v2M408 401v4M408 406v2M408 417v2M409 340v3M409 344v4M409 355v6M409 364v1M409 373v1M409 377v2M409 388v3M410 341v6M410 357v2M410 360v2M410 365v5M410 377v2M410 385v3M410 399v2M411 345v7M411 361v4M411 367v9M411 378v4M412 368v2M412 382v2M412 390v2M413 356v2M413 387v4M413 395v1M413 400v1M414 381v11M414 401v7M415 353v2M415 370v2M418 353v8M418 363v2M418 401v3M418 410v2M419 377v2M419 404v6M420 354v1M420 362v2M420 376v4M420 388v2M420 397v4M420 407v1M420 412v2M421 368v4M421 391v1M421 394v2M421 401v7M421 413v2M421 419v1M421 456v1M422 380v3M422 387v7M422 410v2M422 454v2M423 354v2M423 359v2M423 378v2M423 400v5M423 409v3M423 450v4M423 456v1M424 349v2M424 354v14M424 375v5M424 389v4M424 405v3M424 410v3M424 416v2M425 351v2M425 354v2M425 360v1M425 364v1M425 369v3M425 376v15M425 397v5M426 361v4M426 367v3M426 376v10M426 443v11M427 361v2M427 365v6M427 373v2M427 376v8M427 392v3M427 449v2M428 343v1M428 364v2M428 376v2M428 380v4M428 400v1M428 405v1M428 445v5M428 452v4M429 342v1M429 352v3M429 365v5M429 374v2M429 385v2M429 388v3M429 392v4M429 401v5M429 409v2M429 445v1M429 451v5M430 366v1M430 369v5M430 376v2M431 343v2M431 349v3M431 359v4M431 364v1M431 367v5M431 373v2M431 376v1M431 382v6M431 396v5M432 365v1M432 370v2M432 376v4M432 389v5M432 403v1M433 385v2M433 390v2M433 396v5M433 403v8M434 388v2M434 395v4M434 448v2M434 454v2M435 337v1M435 366v1M435 376v4M435 396v3M436 344v2M436 349v4M436 356v5M436 380v2M436 385v6M436 396v6M436 405v5M437 340v1M437 344v1M437 362v3M437 376v1M437 382v1M437 385v2M437 392v1M437 399v5M437 405v4M437 416v4M438 340v2M438 346v3M438 354v1M438 356v5M438 380v1M438 384v5M438 391v2M438 397v4M438 420v2M438 423v3M438 439v1M618 363v2M618 368v5M618 463v2M619 332v4M619 339v1M619 348v2M619 356v2M619 361v2M619 368v8M620 342v4M620 350v10M620 361v1M621 361v4M622 337v2M622 346v3M622 356v2M622 478v1M623 344v1M623 356v6M623 376v1M623 463v1M624 345v6M624 353v3M624 357v3M625 336v2M625 340v1M625 345v3M625 354v5M625 368v5M625 376v3M625 466v1M626 334v2M626 349v2M626 367v4M626 380v5M626 389v4M627 387v4M627 464v1M627 474v1M628 349v3M628 372v4M628 408v3M628 416v3M629 338v2M629 344v2M629 351v5M629 389v2M629 396v1M629 405v8M629 469v1M630 333v2M630 336v4M630 343v2M630 358v3M630 365v3M630 372v4M630 379v1M630 401v1M630 410v2M630 414v1M630 465v1M631 345v7M631 356v10M631 375v3M631 379v1M632 335v5M632 347v1M632 352v3M632 361v4M632 368v5M632 380v8M632 397v1M633 336v3M633 343v3M633 352v4M633 409v3M633 415v1M634 335v1M634 345v4M634 356v2M635 349v2M635 355v6M635 374v2M635 381v3M636 336v2M636 352v1M636 364v1M636 368v5M636 376v2M637 336v3M637 340v2M637 345v3M637 350v3M637 360v1M637 376v4M637 469v2M662 361v4M662 366v2M662 370v1M662 377v3M663 337v1M663 367v9M663 378v2M664 364v1M664 478v1M665 361v2M665 379v1M665 393v2M665 480v1M666 399v2M667 368v4M667 386v4M667 400v6M667 409v7M668 348v5M668 366v6M668 377v5M668 385v2M668 391v4M668 405v9M669 356v1M669 360v1M669 383v4M669 391v11M669 404v1M669 408v2M669 413v1M669 416v3M669 488v1M670 358v3M670 364v8M670 406v2M670 476v1M671 362v11M672 333v2M672 343v2M672 346v7M672 372v1M672 375v5M673 330v3M673 338v4M673 343v2M673 351v1M673 357v4M673 373v2M673 376v1M673 380v3M673 478v1M674 343v9M674 354v1M674 356v1M674 365v1M674 370v4M674 379v1M674 383v8M674 484v1M675 351v4M675 365v2M675 368v7M675 401v6M675 409v1M675 486v1M676 349v3M676 356v3M676 362v6M676 383v2M677 349v6M677 358v3M677 367v3M677 374v2M677 479v1M678 356v1M678 361v4M678 368v6M678 376v9M678 474v1M679 336v1M679 361v2M679 383v2M679 481v1M680 344v1M680 354v2M680 365v3M680 376v2M680 379v1M681 356v2M681 385v11M681 397v4M681 470v1M682 336v1M682 389v2M682 401v4M682 407v2M683 346v5M683 354v2M683 365v1M683 371v3M683 378v2M683 396v3M683 402v3M683 411v1M684 361v12M684 379v11M684 415v2M684 420v1M684 465v1M685 376v4M685 385v3M685 420v3M685 463v1M685 468v1M686 380v2M686 385v4M686 392v1M686 416v1M686 460v1M686 468v1M689 339v17M689 357v1M689 360v1M689 362v2M689 369v4M689 381v6M689 401v5M689 449v1M689 458v1M690 340v6M690 349v2M690 352v2M690 356v1M690 364v3M690 371v3M690 376v4M690 465v1M691 337v3M691 344v1M691 348v5M691 359v5M691 365v11M692 343v7M692 363v2M692 369v10M692 384v1M693 343v2M693 349v3M693 356v5M693 363v3M693 368v2M693 371v9M693 383v11M694 337v1M694 340v11M694 354v1M694 356v2M695 365v1M695 368v6M695 385v11M696 362v2M696 374v3M697 376v3M697 380v1M697 384v1M697 386v5M697 468v1M698 348v3M698 354v5M698 373v3M698 378v2M698 383v2M698 386v8M698 478v1M699 340v1M699 344v1M699 350v6M699 363v2M699 368v3M699 381v2"/>
<path stroke="#ffe500" d="M72 388v1M73 386v1M77 386v2M86 361v1M105 388v1M106 388v1M106 391v1M107 393v1M108 379v1M108 383v1M112 378v1M113 383v1M115 381v1M117 360v1M123 358v1M217 344v1M218 351v1M218 356v1M223 351v3M223 355v6M224 361v4M224 368v2M225 349v5M225 356v5M226 361v5M229 336v1M229 347v6M231 334v5M232 345v6M233 361v1M234 336v2M235 345v10M236 333v3M236 337v7M236 361v1M237 336v2M237 340v2M238 338v3M238 342v7M238 353v3M239 341v9M239 356v1M240 345v5M240 365v3M241 337v2M242 337v3M243 332v2M243 336v4M243 354v2M244 340v1M244 345v2M244 350v10M245 355v1M245 358v3M245 362v3M247 356v5M248 361v4M248 366v1M248 371v3M249 369v2M253 354v2M253 358v3M255 337v2M255 361v3M256 344v1M256 350v7M257 346v5M257 354v4M257 361v13M258 338v2M258 359v1M258 371v4M259 373v2M262 345v1M262 349v3M262 356v1M263 363v2M263 366v3M264 364v3M265 365v1M270 365v2M274 354v3M274 361v4M274 372v3M275 356v1M275 358v2M276 344v10M276 360v1M276 377v3M277 343v1M277 353v8M277 365v1M277 381v3M278 361v8M278 372v4M279 366v4M279 376v1M280 352v3M280 379v6M282 373v2M282 379v1M283 364v1M283 366v3M283 384v4M292 357v3M294 377v3M295 368v1M295 382v10M295 394v4M344 350v3M344 356v1M344 359v2M345 363v9M345 381v4M345 395v7M345 406v4M345 415v5M346 333v3M346 386v4M346 392v4M346 412v4M346 426v2M347 340v3M347 356v5M347 374v2M347 431v3M348 346v2M348 356v4M348 361v3M348 365v6M348 372v4M348 377v2M348 407v4M348 416v4M349 361v14M349 376v1M349 393v3M349 404v1M349 411v5M349 417v3M349 424v1M350 340v1M350 345v2M350 349v3M350 353v3M350 357v4M350 380v4M350 392v2M350 396v5M350 405v1M350 411v4M350 420v4M350 425v6M350 444v1M351 345v2M351 351v5M351 357v2M351 363v1M351 365v4M351 384v1M351 388v8M351 399v6M351 406v3M351 410v10M351 421v1M351 429v3M351 434v4M351 440v1M351 442v1M351 445v1M352 338v2M352 342v13M352 360v1M352 363v8M352 373v3M352 380v2M352 385v4M352 396v3M352 402v2M352 405v9M352 415v7M352 423v2M352 430v5M352 436v9M352 447v2M353 340v4M353 381v4M353 395v3M353 400v1M353 409v3M353 420v4M353 425v3M353 430v3M354 356v4M354 404v5M354 414v2M354 419v4M354 425v1M354 431v3M354 438v3M354 446v2M355 336v4M355 341v5M355 351v2M355 355v1M355 379v1M355 415v4M355 420v5M355 428v3M355 442v4M356 344v1M356 351v4M356 363v2M356 371v2M356 376v2M356 415v5M356 428v2M356 445v6M357 341v2M357 345v10M357 365v9M357 421v3M357 425v3M357 433v1M358 347v18M358 366v7M358 403v1M358 405v5M358 413v7M359 361v1M359 401v2M359 405v5M359 420v2M359 426v4M359 437v4M360 401v4M360 410v1M360 431v2M360 440v2M360 448v1M361 337v3M361 400v1M361 408v12M364 398v3M364 419v17M364 441v5M365 358v3M365 401v8M365 417v14M365 433v8M366 356v1M366 402v2M366 425v2M366 430v13M367 349v2M367 359v2M367 380v3M367 384v1M367 415v1M367 418v2M367 424v1M367 427v5M368 344v6M368 355v1M368 357v3M368 361v4M368 367v1M368 372v3M368 379v1M368 409v3M368 415v10M369 349v1M369 365v2M369 420v3M369 428v5M370 349v7M370 360v1M370 383v2M370 396v2M370 405v3M370 417v3M370 436v3M371 350v4M371 361v14M371 376v4M371 405v1M371 418v2M371 436v3M371 441v1M371 445v1M372 359v2M372 363v2M372 382v3M372 386v6M372 420v4M372 430v4M372 436v2M373 349v4M373 357v4M373 370v1M373 374v2M373 378v2M373 386v2M373 441v1M373 444v1M373 451v2M374 361v5M374 368v2M374 373v3M374 380v5M374 409v1M374 438v3M375 356v2M375 382v4M375 414v2M375 437v3M375 442v13M376 341v5M376 349v2M376 353v3M376 376v1M376 415v8M376 431v1M376 434v2M376 437v1M376 439v4M377 366v14M377 384v2M377 409v2M377 415v6M377 428v1M377 432v7M377 441v2M377 452v2M378 338v10M378 354v7M378 373v3M378 380v1M378 383v2M378 422v2M378 425v1M378 433v2M378 441v2M379 337v2M379 345v6M379 361v4M379 366v2M379 379v1M379 383v2M379 428v8M380 337v3M380 347v1M380 351v2M380 355v9M381 336v1M381 341v2M381 347v7M381 356v9M381 430v1M381 433v3M381 439v2M381 451v1M382 338v2M382 361v4M382 432v2M382 435v1M382 441v4M383 345v6M383 354v2M383 360v1M383 380v5M383 394v1M383 439v2M383 445v1M384 334v2M384 337v2M384 344v1M384 346v2M384 349v2M384 360v4M384 365v7M384 376v4M384 433v3M384 439v2M384 444v3M385 333v4M385 344v1M385 355v10M385 374v5M385 380v4M385 385v8M385 440v2M386 335v1M386 349v5M386 357v4M386 364v2M386 373v14M386 388v8M386 437v4M386 443v6M387 335v4M387 340v2M387 363v2M387 371v11M387 396v4M387 434v1M387 436v15M388 343v6M388 351v5M388 372v3M388 380v1M388 383v2M388 394v3M388 400v3M388 430v1M388 442v3M391 334v1M391 336v4M392 340v10M392 354v2M392 359v2M393 355v1M393 361v6M393 394v2M394 380v2M394 385v1M394 389v5M394 398v3M395 331v4M395 336v5M397 333v2M400 361v1M400 375v4M401 386v7M401 396v1M402 356v6M402 374v6M403 342v4M403 353v3M403 376v2M403 381v3M403 390v2M403 396v1M404 343v1M404 360v1M404 367v4M404 382v3M404 404v4M405 359v5M405 378v2M405 385v3M406 339v1M406 375v1M406 379v1M406 395v6M407 367v3M407 375v1M407 380v5M407 387v7M407 396v6M407 404v1M408 365v1M408 375v1M408 389v5M408 405v1M409 374v3M410 340v1M410 376v1M411 340v5M412 364v4M412 370v8M412 380v2M413 364v1M413 376v2M413 383v4M413 391v4M413 396v4M414 380v1M418 349v4M418 367v4M419 361v1M419 363v14M419 379v1M419 397v7M420 383v2M420 386v2M420 390v2M420 394v3M420 401v6M420 408v4M421 392v2M421 408v2M421 412v1M424 347v2M425 353v1M425 361v3M425 365v4M425 372v4M426 346v4M426 355v6M426 454v2M427 363v2M427 375v1M427 451v5M428 384v8M428 393v7M428 450v2M429 370v4M429 387v1M429 406v3M429 446v5M430 367v2M431 363v1M431 372v1M431 375v1M431 377v5M432 380v6M432 388v1M432 394v4M432 401v2M433 375v1M433 402v1M434 377v11M434 390v5M434 450v4M435 387v9M436 343v1M436 382v3M436 391v5M437 341v3M437 365v5M437 371v5M437 377v3M437 393v3M438 342v4M438 349v5M438 355v1M438 381v3M438 389v2M438 393v4M438 422v1M618 336v4M618 361v2M618 365v3M619 330v2M619 336v3M619 340v5M619 350v6M619 363v5M619 471v1M620 468v1M621 334v2M621 339v1M621 475v1M622 336v1M622 339v7M622 349v7M622 358v3M623 338v6M623 345v11M624 335v10M624 351v2M624 356v1M625 329v7M626 331v3M627 473v1M628 473v1M628 478v1M629 331v7M629 340v4M629 346v5M629 391v5M629 468v1M630 330v3M630 340v3M630 345v13M630 376v3M630 412v2M630 468v1M630 472v1M631 352v4M631 366v9M631 378v1M632 332v3M632 473v1M632 479v1M633 339v4M633 405v4M634 336v2M634 343v2M635 336v3M635 340v5M635 347v2M636 334v2M636 338v2M636 342v5M636 351v1M636 353v8M637 348v2M637 365v1M637 373v3M662 350v6M662 357v4M662 365v1M662 371v6M663 338v2M663 361v6M663 376v2M664 339v1M664 345v4M664 356v5M665 343v3M665 360v1M665 363v1M665 371v8M666 345v10M666 358v3M666 380v5M666 397v2M667 339v6M667 347v9M667 360v8M667 372v2M667 375v5M667 383v3M667 390v2M667 398v2M668 343v5M668 361v5M668 372v1M668 376v1M668 382v3M668 387v4M668 395v1M668 399v6M669 405v3M670 355v1M670 357v1M670 361v3M671 361v1M672 335v1M672 337v3M672 341v2M672 345v1M672 353v1M672 356v5M672 365v1M672 370v2M673 329v1M673 333v5M673 342v1M673 352v5M673 361v2M673 365v8M673 377v3M673 479v1M674 330v6M674 340v3M674 380v3M674 481v1M675 340v2M675 345v2M675 349v2M675 407v2M676 335v10M676 346v3M676 352v4M676 359v3M676 481v2M677 345v4M677 355v3M677 361v6M677 370v4M678 331v9M678 344v1M678 346v10M678 365v3M679 335v1M679 337v3M679 345v11M679 357v4M679 474v1M680 340v4M680 349v5M680 356v9M680 368v8M680 378v1M680 479v1M681 331v5M681 345v2M681 354v2M681 358v3M681 373v2M681 380v5M681 396v1M681 464v1M682 335v1M682 337v3M682 353v2M682 356v9M682 370v1M682 373v3M682 388v1M682 391v10M682 405v2M683 340v6M683 351v3M683 356v5M683 363v2M683 366v5M683 385v8M683 399v3M683 405v3M683 410v1M684 404v3M684 413v2M684 417v3M685 375v1M689 356v1M689 451v1M690 351v1M690 357v7M690 367v4M692 468v1M693 345v4M693 352v4M693 370v1M693 380v3M694 338v2M694 351v3M694 361v15M694 377v3M695 336v1M695 345v8M695 356v5M695 380v5M696 349v3M696 361v1M696 364v1M696 368v1M696 372v2M696 377v3M697 360v4M697 379v1M697 381v3M697 385v1M698 336v4M698 342v3M698 346v2M698 351v3M698 361v2M698 371v2M698 376v2M698 380v3M698 385v1M699 345v5M699 356v1M699 360v1M699 365v3M699 380v1M699 473v1"/>
<path stroke="#ffd200" d="M106 370v1M106 392v1M107 392v1M108 374v1M116 389v1M214 342v3M214 350v1M216 345v2M216 352v4M216 357v1M217 345v12M218 352v4M223 354v1M224 354v7M224 365v3M225 354v2M225 361v3M228 341v2M229 334v2M229 337v2M229 342v4M230 334v1M230 336v6M230 345v4M231 339v1M231 341v5M231 353v2M232 333v3M232 337v3M233 336v1M233 340v9M233 352v6M233 360v1M234 340v4M234 345v7M235 334v1M235 338v2M235 355v9M236 336v1M236 344v8M236 359v2M237 342v4M237 349v7M237 362v2M238 341v1M238 349v4M238 356v5M239 333v2M239 350v3M239 355v1M239 357v8M240 343v2M240 350v3M240 356v3M240 361v4M241 332v5M241 339v1M241 363v2M242 334v3M242 340v1M242 344v1M242 353v3M243 334v2M243 340v9M243 350v4M243 356v5M244 337v3M244 341v4M244 361v2M244 366v4M245 340v15M245 356v2M245 366v3M246 356v2M246 365v3M247 351v5M248 360v1M248 367v4M249 365v1M253 353v1M253 356v2M255 339v1M255 344v8M255 353v8M255 364v1M255 368v2M256 336v1M256 340v1M256 343v1M256 361v4M257 337v2M257 340v2M257 351v3M257 358v3M257 374v2M258 335v3M258 340v2M258 349v2M258 354v5M258 360v11M258 375v1M259 348v1M259 351v7M259 364v5M259 371v2M260 349v3M260 361v9M261 361v7M262 361v3M274 345v9M274 357v4M275 346v1M275 353v3M275 360v1M275 372v4M276 366v11M277 344v9M280 355v1M282 364v9M282 375v4M294 365v4M294 375v2M295 380v2M344 357v2M345 361v2M345 402v2M346 380v2M346 385v1M346 390v2M346 396v8M346 410v2M346 416v2M346 419v6M346 428v2M346 438v3M347 343v9M347 355v1M347 401v1M347 411v4M347 416v2M347 423v8M347 434v2M348 364v1M348 376v1M348 425v3M348 442v3M349 336v4M349 420v4M349 425v4M349 443v2M350 339v1M350 347v2M350 431v5M350 437v2M350 442v2M351 341v4M351 347v4M351 356v1M351 359v4M351 409v1M351 432v2M351 438v2M351 441v1M352 340v2M352 361v2M352 382v3M352 389v2M352 394v2M352 399v3M352 404v1M352 414v1M352 422v1M353 401v8M353 412v2M353 416v4M353 433v3M354 336v4M354 343v2M354 351v5M354 360v1M354 401v3M354 416v3M354 426v5M354 434v4M355 340v1M355 346v2M355 349v2M355 353v2M355 361v11M355 374v5M355 431v5M355 440v2M356 373v3M356 430v2M356 434v6M356 441v4M357 343v2M357 374v2M357 424v1M357 428v5M357 434v4M357 446v4M358 340v7M358 373v2M358 376v2M358 410v3M359 340v2M359 347v3M359 362v6M359 369v7M359 403v2M359 410v3M359 416v4M359 422v4M360 405v5M360 411v3M360 418v7M360 429v2M360 433v3M360 442v6M361 369v3M361 436v8M361 445v2M364 361v4M364 367v11M364 396v2M364 401v4M364 410v6M364 417v2M365 350v2M365 354v4M365 382v2M365 400v1M365 409v2M365 414v3M366 354v2M366 357v9M366 367v6M366 376v1M366 397v2M366 400v2M366 404v6M366 416v9M366 427v3M367 351v8M367 361v1M367 383v1M367 388v3M367 400v1M367 402v7M367 413v2M367 416v2M367 420v4M367 425v2M368 356v1M368 365v2M368 376v3M368 402v3M368 412v3M369 380v15M369 396v1M369 400v1M370 356v4M370 398v3M370 408v2M370 412v5M370 431v5M371 354v7M371 375v1M371 425v11M372 361v2M372 365v8M372 380v2M372 385v1M372 425v5M372 434v2M373 376v2M373 383v3M373 402v3M373 416v4M373 442v2M374 348v1M374 354v3M374 366v2M374 370v3M374 404v5M374 410v2M374 425v3M374 435v3M375 346v2M375 354v2M375 358v2M375 381v1M375 404v10M375 416v1M375 425v8M375 434v3M376 346v3M376 361v6M376 377v3M376 406v9M376 423v2M376 427v4M376 432v2M376 436v1M376 438v1M377 381v3M377 386v2M377 421v7M378 381v2M378 424v1M379 351v1M379 356v5M379 368v2M379 375v4M379 425v3M380 353v2M380 364v3M380 380v9M380 419v1M380 440v1M381 337v2M381 340v1M381 365v7M381 382v3M381 449v2M382 345v7M382 356v3M382 360v1M382 365v2M382 368v10M382 389v1M382 430v2M382 434v1M383 351v3M383 356v4M383 364v7M383 379v1M383 385v9M383 433v6M384 336v1M384 348v1M384 372v4M384 380v1M384 384v3M384 388v9M384 432v1M384 436v3M384 441v3M385 345v6M385 352v3M385 384v1M385 393v4M385 424v1M385 426v14M386 361v3M386 387v1M386 396v2M386 427v5M386 434v3M387 334v1M387 339v1M387 424v1M387 432v2M388 340v3M388 349v2M388 381v2M388 403v1M388 429v1M391 333v1M392 350v4M392 356v3M393 367v2M393 371v5M393 378v2M394 382v3M394 386v3M394 396v2M404 344v1M404 352v3M404 357v3M405 346v13M405 364v1M405 367v3M405 376v2M406 355v20M406 376v3M406 380v3M406 389v6M407 361v6M407 370v5M407 385v2M407 402v2M410 339v1M411 338v2M411 359v2M412 344v1M412 361v3M412 378v2M413 362v2M413 365v11M413 378v5M418 365v2M418 371v18M418 393v8M419 362v1M419 380v1M419 385v4M419 392v5M420 380v3M420 385v1M420 392v2M421 410v2M426 350v5M428 392v1M432 343v2M432 355v4M432 386v2M432 398v3M433 340v3M433 356v1M433 362v7M433 372v3M433 378v2M433 401v1M434 361v1M434 365v2M434 370v3M434 376v1M435 382v5M437 370v1M618 335v1M618 344v1M618 351v6M618 360v1M621 331v3M621 336v3M622 334v2M623 331v7M624 329v6M627 476v1M628 330v6M628 470v1M630 475v1M634 338v5M635 332v4M635 339v1M635 345v2M636 340v2M636 347v1M636 349v2M637 361v4M637 366v7M662 340v10M662 356v1M664 349v4M665 340v3M665 346v3M665 358v2M665 364v1M665 369v2M665 478v1M666 344v1M666 355v3M666 361v4M666 368v6M666 376v4M666 385v12M666 475v1M667 345v2M667 356v4M667 374v1M667 380v3M667 392v2M667 396v2M667 486v1M668 340v3M668 373v3M668 396v3M669 345v6M669 354v2M670 340v1M670 345v10M670 356v1M671 337v3M671 347v5M671 356v5M672 336v1M672 340v1M672 354v2M672 361v4M672 366v4M673 363v2M674 336v4M674 482v2M675 342v3M675 347v2M676 333v2M676 345v1M677 335v10M678 330v1M678 340v4M678 345v1M678 477v1M678 480v1M679 333v2M679 340v5M679 356v1M680 345v4M681 330v1M681 336v1M681 340v5M681 347v7M681 361v12M681 375v1M681 468v1M682 334v1M682 347v6M682 355v1M682 365v5M682 371v2M682 376v1M682 384v4M682 466v1M683 361v2M683 380v5M683 393v3M683 408v2M684 355v5M684 401v3M684 407v6M685 361v6M685 368v7M686 334v2M686 339v4M689 450v1M693 473v1M694 376v1M695 337v1M695 343v2M695 353v2M696 340v3M696 347v2M696 352v1M696 360v1M696 365v3M696 369v3M697 349v5M697 358v2M697 364v2M697 370v5M697 469v1M697 471v1M698 340v2M698 345v1M698 363v1M698 365v1M698 369v2M699 357v3M699 475v1"/>
<path stroke="#ffc000" d="M73 390v1M114 387v1M117 359v1M214 345v5M215 344v3M215 349v2M216 347v5M216 356v1M222 356v2M223 361v1M228 338v3M229 339v3M230 335v1M230 342v3M230 349v4M230 355v1M231 340v1M231 346v7M232 330v3M232 336v1M233 334v2M233 337v3M233 349v3M233 358v2M234 344v1M234 352v7M236 352v7M237 346v3M237 356v6M238 361v5M239 353v2M240 337v1M240 353v3M240 359v2M241 346v8M241 361v2M241 365v1M242 341v3M242 345v1M242 349v4M242 358v3M243 361v3M243 365v1M244 363v3M244 370v1M245 338v2M245 365v1M246 340v5M246 346v3M246 351v2M246 355v1M246 358v2M246 361v4M247 345v6M247 361v1M247 364v1M248 356v4M249 354v2M249 361v1M250 344v3M250 350v2M250 356v2M250 372v2M251 346v1M251 366v6M252 366v7M252 374v1M255 340v4M255 365v3M256 337v3M256 365v7M257 339v1M257 342v1M257 376v2M258 342v4M258 351v3M259 358v6M259 369v2M260 352v2M260 356v5M261 348v5M261 358v3M262 364v2M275 347v6M275 361v6M275 370v2M275 376v4M276 361v5M293 356v1M293 358v3M294 361v4M294 369v6M345 404v1M346 382v3M346 404v1M346 406v4M346 418v1M346 430v5M346 436v2M347 352v3M347 402v4M347 409v2M347 415v1M347 418v5M347 438v7M348 420v5M348 428v9M348 439v3M349 429v4M349 436v7M350 338v1M350 436v1M350 439v3M351 340v1M352 391v3M353 338v2M353 414v2M354 340v3M354 345v2M354 348v3M355 348v1M355 372v2M355 436v4M356 432v2M356 440v1M357 405v1M357 413v3M357 418v2M357 438v2M357 444v2M358 338v2M358 375v1M358 420v1M358 431v5M358 441v1M359 336v4M359 342v5M359 350v2M359 354v7M359 368v1M359 376v2M359 413v3M360 349v1M360 361v2M360 368v10M360 414v4M360 425v4M361 361v3M361 368v1M361 372v4M361 420v13M361 444v1M361 447v3M364 365v2M364 378v6M364 405v5M364 416v1M365 352v2M365 361v1M365 371v2M365 380v2M365 384v1M365 395v5M365 411v3M366 366v1M366 373v3M366 377v3M366 396v1M366 399v1M366 410v6M367 362v9M367 377v3M367 398v2M367 401v1M367 409v4M368 380v3M368 401v1M369 395v1M369 397v3M369 404v1M370 403v2M370 410v2M370 420v2M370 424v2M370 428v3M371 420v5M372 373v7M373 380v3M373 405v1M373 409v5M374 349v5M374 357v4M374 376v4M374 402v2M374 412v8M374 424v1M374 428v7M375 348v2M375 353v1M375 360v1M375 363v4M375 372v5M375 380v1M375 417v3M375 423v2M375 433v1M376 367v2M376 370v6M376 385v3M376 425v2M377 380v1M379 352v4M379 370v5M379 416v4M380 367v3M380 373v7M380 389v2M380 423v2M380 432v4M380 438v2M381 335v1M381 339v1M381 372v10M381 385v1M381 390v1M381 445v4M382 340v5M382 352v2M382 359v1M382 367v1M382 378v11M382 390v4M382 429v1M383 361v3M383 371v8M383 432v1M384 381v3M384 387v1M384 397v1M384 428v4M385 351v1M385 425v1M386 425v2M386 432v2M387 426v6M388 428v1M391 331v2M393 369v2M393 376v2M404 345v7M404 355v2M405 338v2M405 365v2M405 370v6M406 340v1M406 349v2M406 352v3M406 383v6M406 532v3M407 532v3M408 532v3M409 532v3M410 532v3M412 341v3M412 345v9M412 359v2M413 361v1M414 532v3M418 389v4M418 532v3M419 381v4M419 389v3M419 532v3M420 532v3M421 532v3M431 532v3M432 345v6M432 352v3M432 359v2M433 343v3M433 349v5M433 355v1M433 357v5M433 369v3M433 376v2M434 362v3M434 367v3M434 373v3M435 380v2M618 340v4M618 345v6M618 357v3M619 469v1M623 464v1M636 348v1M664 353v3M665 349v3M665 357v1M665 365v4M666 341v3M666 365v3M666 374v2M667 394v2M667 483v1M668 339v1M669 339v6M669 351v3M670 336v4M670 341v4M671 343v4M671 352v4M674 485v1M676 477v1M677 480v1M681 337v3M681 376v4M681 469v1M682 340v7M682 377v7M683 333v3M684 343v7M684 353v2M684 360v1M685 336v1M685 345v1M685 354v2M685 367v1M686 336v3M686 343v15M686 360v5M686 376v4M694 475v1M695 338v1M695 340v3M695 355v1M696 337v3M696 343v4M696 353v7M697 340v2M697 347v2M697 354v4M697 366v4M697 375v1M697 470v1M698 364v1M698 366v3"/>
<path stroke="#ffad00" d="M215 347v2M215 351v4M222 358v2M230 353v2M230 356v1M240 334v3M241 340v1M241 354v2M242 356v2M242 361v4M243 364v1M246 345v1M246 349v2M246 353v2M246 360v1M247 362v2M247 365v3M247 370v2M248 346v10M249 342v12M249 356v5M249 362v3M250 347v3M250 352v3M250 358v7M250 367v2M251 347v9M251 361v5M252 356v10M252 373v1M253 361v4M253 370v2M253 376v2M256 372v6M260 354v2M261 353v5M275 367v3M293 355v1M293 357v1M346 405v1M346 435v1M347 406v3M347 436v2M348 437v2M349 433v3M354 347v1M357 406v7M357 416v2M357 440v4M358 421v10M358 436v5M358 442v6M359 352v2M360 337v12M360 350v11M360 363v5M361 340v5M361 359v2M361 364v1M361 367v1M361 376v2M361 433v3M364 349v7M364 358v3M365 362v4M365 369v2M365 373v6M366 383v1M366 392v4M367 371v6M368 383v5M368 390v1M369 401v3M369 405v15M370 401v2M370 422v2M370 426v2M373 406v3M373 414v2M374 420v4M375 350v3M375 361v2M375 367v5M375 377v2M375 420v3M376 369v1M376 380v5M380 370v3M380 420v3M380 425v2M380 430v2M380 436v2M381 386v4M381 391v2M381 441v4M382 354v2M383 429v3M387 425v1M406 351v1M432 351v1M433 346v3M433 354v1M619 470v1M627 470v1M627 472v1M627 475v1M628 476v2M630 466v1M636 468v1M636 472v1M665 352v5M665 479v1M666 478v1M666 480v1M670 333v1M671 340v3M677 481v1M682 465v1M682 474v1M683 332v1M683 336v4M684 326v12M684 340v3M684 350v3M685 333v3M685 337v8M685 346v8M685 356v5M686 358v2M686 365v8M686 461v1M686 463v1M694 479v1M695 339v1M697 342v5M698 474v1M699 474v1"/>
<path stroke="#ff9b00" d="M241 356v5M242 365v2M247 368v2M250 355v1M250 365v2M251 358v3M252 349v4M252 354v2M253 365v5M253 372v4M359 441v10M361 345v1M361 350v9M361 365v2M364 356v2M365 366v3M365 379v1M366 380v3M368 388v2M368 398v1M375 379v1M380 427v3M620 472v1M624 481v1M628 471v2M630 473v2M632 475v1M633 476v1M662 479v1M664 481v1M670 334v2M673 480v1M675 487v1M683 328v4M683 467v1M684 338v2M686 373v3M694 474v1M694 476v1"/>
<path stroke="#ff8800" d="M252 353v1M361 346v4M368 399v2M620 469v1M622 477v1M624 479v2M625 467v1M625 469v1M630 467v1M632 474v1M632 478v1M664 479v1M671 488v1M676 480v1M676 483v1M677 486v1M683 466v1"/>
<path stroke="#ff7600" d="M623 474v1M624 478v1M627 471v1M666 479v1M677 482v1M677 484v1M680 478v1M683 465v1M686 462v1M690 466v1M694 477v2"/>
<path stroke="#ff6300" d="M622 476v1M632 476v2M633 481v1M662 481v1M667 484v1M667 487v1M677 483v1M678 475v1M678 478v2M692 470v1M698 475v1"/>
<path stroke="#ff5100" d="M624 477v1M633 477v1M664 480v1M676 478v1M692 469v1"/>
<path stroke="#ff3e00" d="M620 470v1M624 476v1M625 468v1M636 469v1M676 484v1M677 485v1M679 475v1M699 476v1"/>
<path stroke="#ff2c00" d="M620 471v1M623 475v1M662 480v1M673 481v1M673 484v1M676 479v1M690 467v1"/>
<path stroke="#ff1900" d="M667 489v1M675 488v1"/>
<path stroke="#ff0700" d="M667 488v1M668 485v1M679 480v1"/>
<path stroke="#f3000c" d="M636 471v1"/>
<path stroke="#e0001f" d="M636 470v1M680 477v1"/>
<path stroke="#cd0033" d="M633 478v1M633 480v1"/>
<path stroke="#ba0046" d="M673 482v1"/>
<path stroke="#a60059" d="M673 483v1"/>
<path stroke="#93006d" d="M633 479v1M680 476v1"/>
<path stroke="#800080" d="M679 476v4"/>
</g>
<rect x="50" y="309" width="651" height="1" fill="#000"/>
<rect x="50" y="539" width="651" height="1" fill="#000"/>
<rect x="50" y="309" width="1" height="231" fill="#000"/>
<rect x="700" y="309" width="1" height="231" fill="#000"/>
<text x="46.5" y="543.6" text-anchor="end" font-size="12">0</text>
<rect x="50" y="520" width="6" height="1" fill="#000"/>
<rect x="695" y="520" width="6" height="1" fill="#000"/>
<text x="46.5" y="524.6" text-anchor="end" font-size="12">1</text>
<rect x="50" y="501" width="6" height="1" fill="#000"/>
<rect x="695" y="501" width="6" height="1" fill="#000"/>
<text x="46.5" y="505.6" text-anchor="end" font-size="12">2</text>
<rect x="50" y="482" width="6" height="1" fill="#000"/>
<rect x="695" y="482" width="6" height="1" fill="#000"/>
<text x="46.5" y="486.6" text-anchor="end" font-size="12">3</text>
<rect x="50" y="463" width="6" height="1" fill="#000"/>
<rect x="695" y="463" width="6" height="1" fill="#000"/>
<text x="46.5" y="467.6" text-anchor="end" font-size="12">4</text>
<rect x="50" y="444" width="6" height="1" fill="#000"/>
<rect x="695" y="444" width="6" height="1" fill="#000"/>
<text x="46.5" y="448.6" text-anchor="end" font-size="12">5</text>
<rect x="50" y="424" width="6" height="1" fill="#000"/>
<rect x="695" y="424" width="6" height="1" fill="#000"/>
<text x="46.5" y="428.6" text-anchor="end" font-size="12">6</text>
<rect x="50" y="405" width="6" height="1" fill="#000"/>
<rect x="695" y="405" width="6" height="1" fill="#000"/>
<text x="46.5" y="409.6" text-anchor="end" font-size="12">7</text>
<rect x="50" y="386" width="6" height="1" fill="#000"/>
<rect x="695" y="386" width="6" height="1" fill="#000"/>
<text x="46.5" y="390.6" text-anchor="end" font-size="12">8</text>
<rect x="50" y="367" width="6" height="1" fill="#000"/>
<rect x="695" y="367" width="6" height="1" fill="#000"/>
<text x="46.5" y="371.6" text-anchor="end" font-size="12">9</text>
<rect x="50" y="348" width="6" height="1" fill="#000"/>
<rect x="695" y="348" width="6" height="1" fill="#000"/>
<text x="46.5" y="352.6" text-anchor="end" font-size="12">10</text>
<rect x="50" y="329" width="6" height="1" fill="#000"/>
<rect x="695" y="329" width="6" height="1" fill="#000"/>
<text x="46.5" y="333.6" text-anchor="end" font-size="12">11</text>
<text x="46.5" y="313.6" text-anchor="end" font-size="12">12</text>
<text x="49.6" y="554" text-anchor="middle" font-size="12">00:00</text>
<rect x="158" y="309" width="1" height="6" fill="#000"/>
<rect x="158" y="534" width="1" height="6" fill="#000"/>
<text x="157.93" y="554" text-anchor="middle" font-size="12">04:00</text>
<rect x="266" y="309" width="1" height="6" fill="#000"/>
<rect x="266" y="534" width="1" height="6" fill="#000"/>
<text x="266.27" y="554" text-anchor="middle" font-size="12">08:00</text>
<rect x="375" y="309" width="1" height="6" fill="#000"/>
<rect x="375" y="534" width="1" height="6" fill="#000"/>
<text x="374.6" y="554" text-anchor="middle" font-size="12">12:00</text>
<rect x="483" y="309" width="1" height="6" fill="#000"/>
<rect x="483" y="534" width="1" height="6" fill="#000"/>
<text x="482.93" y="554" text-anchor="middle" font-size="12">16:00</text>
<rect x="591" y="309" width="1" height="6" fill="#000"/>
<rect x="591" y="534" width="1" height="6" fill="#000"/>
<text x="591.27" y="554" text-anchor="middle" font-size="12">20:00</text>
<text x="699.6" y="554" text-anchor="middle" font-size="12">00:00</text>
<text x="374.8" y="571.6" text-anchor="middle" font-size="12">Time (UTC)</text>
<text x="27" y="425.4" text-anchor="middle" transform="rotate(-90 27 425.4)" font-size="12">Height (km)</text>
<text x="57.3" y="326" text-anchor="start" font-weight="bold" textLength="44.45" lengthAdjust="spacingAndGlyphs" font-size="12">Doppler</text>
<text x="105.55" y="326" text-anchor="start" font-weight="bold" textLength="47.45" lengthAdjust="spacingAndGlyphs" font-size="12">velocity</text>
<rect x="754" y="344" width="17" height="161" fill="#000"/>
<rect x="755" y="345" width="15" height="3" fill="#8a0076"/>
<rect x="755" y="348" width="15" height="3" fill="#9d0063"/>
<rect x="755" y="351" width="15" height="3" fill="#b00050"/>
<rect x="755" y="354" width="15" height="3" fill="#c3003c"/>
<rect x="755" y="357" width="15" height="3" fill="#d60029"/>
<rect x="755" y="360" width="15" height="3" fill="#e90016"/>
<rect x="755" y="363" width="15" height="3" fill="#fd0002"/>
<rect x="755" y="366" width="15" height="3" fill="#ff1000"/>
<rect x="755" y="369" width="15" height="3" fill="#ff2300"/>
<rect x="755" y="372" width="15" height="3" fill="#ff3500"/>
<rect x="755" y="375" width="15" height="3" fill="#ff4800"/>
<rect x="755" y="378" width="15" height="3" fill="#ff5a00"/>
<rect x="755" y="381" width="15" height="3" fill="#ff6d00"/>
<rect x="755" y="384" width="15" height="3" fill="#ff7f00"/>
<rect x="755" y="387" width="15" height="3" fill="#ff9200"/>
<rect x="755" y="390" width="15" height="3" fill="#ffa400"/>
<rect x="755" y="393" width="15" height="3" fill="#ffb700"/>
<rect x="755" y="396" width="15" height="3" fill="#ffc900"/>
<rect x="755" y="399" width="15" height="3" fill="#ffdc00"/>
<rect x="755" y="402" width="15" height="3" fill="#ffee00"/>
<rect x="755" y="405" width="15" height="3" fill="#fbff00"/>
<rect x="755" y="408" width="15" height="3" fill="#d1ff00"/>
<rect x="755" y="411" width="15" height="3" fill="#a7ff00"/>
<rect x="755" y="414" width="15" height="3" fill="#7eff00"/>
<rect x="755" y="417" width="15" height="3" fill="#54ff00"/>
<rect x="755" y="420" width="15" height="3" fill="#2aff00"/>
<rect x="755" y="423" width="15" height="3" fill="#00ff00"/>
<rect x="755" y="426" width="15" height="3" fill="#00ee15"/>
<rect x="755" y="429" width="15" height="3" fill="#00dc2a"/>
<rect x="755" y="432" width="15" height="3" fill="#00cb3f"/>
<rect x="755" y="435" width="15" height="3" fill="#00ba55"/>
<rect x="755" y="438" width="15" height="3" fill="#00a86a"/>
<rect x="755" y="441" width="15" height="3" fill="#00977f"/>
<rect x="755" y="444" width="15" height="3" fill="#008493"/>
<rect x="755" y="447" width="15" height="3" fill="#006fa4"/>
<rect x="755" y="450" width="15" height="3" fill="#005ab5"/>
<rect x="755" y="453" width="15" height="3" fill="#0045c7"/>
<rect x="755" y="456" width="15" height="3" fill="#0030d8"/>
<rect x="755" y="459" width="15" height="3" fill="#001ae9"/>
<rect x="755" y="462" width="15" height="3" fill="#0005fb"/>
<rect x="755" y="465" width="15" height="3" fill="#0c0cfd"/>
<rect x="755" y="468" width="15" height="3" fill="#1d1dfb"/>
<rect x="755" y="471" width="15" height="3" fill="#2e2ef9"/>
<rect x="755" y="474" width="15" height="3" fill="#3e3ef6"/>
<rect x="755" y="477" width="15" height="3" fill="#4f4ff4"/>
<rect x="755" y="480" width="15" height="3" fill="#5f5ff2"/>
<rect x="755" y="483" width="15" height="3" fill="#7070ef"/>
<rect x="755" y="486" width="15" height="3" fill="#8181ed"/>
<rect x="755" y="489" width="15" height="3" fill="#9191eb"/>
<rect x="755" y="492" width="15" height="3" fill="#a2a2e8"/>
<rect x="755" y="495" width="15" height="3" fill="#b2b2e6"/>
<rect x="755" y="498" width="15" height="3" fill="#c3c3e4"/>
<rect x="755" y="501" width="15" height="3" fill="#d4d4e1"/>
<text x="750.6" y="348.9" text-anchor="end" font-size="12">2</text>
<text x="750.6" y="375.48" text-anchor="end" font-size="12">1</text>
<text x="750.6" y="402.07" text-anchor="end" font-size="12">0</text>
<text x="750.6" y="428.65" text-anchor="end" textLength="12.07" lengthAdjust="spacingAndGlyphs" font-size="12">-1</text>
<text x="750.6" y="455.23" text-anchor="end" textLength="12.07" lengthAdjust="spacingAndGlyphs" font-size="12">-2</text>
<text x="750.6" y="481.82" text-anchor="end" textLength="12.07" lengthAdjust="spacingAndGlyphs" font-size="12">-3</text>
<text x="750.6" y="508.4" text-anchor="end" textLength="12.07" lengthAdjust="spacingAndGlyphs" font-size="12">-4</text>
<text x="733.5" y="425.3" text-anchor="middle" transform="rotate(-90 733.5 425.3)" font-size="12">m s<tspan font-size="8" dy="-6">-1</tspan></text>
</g>
<g id="p2">
<g transform="translate(.5 0)" fill="none" stroke-width="1">
<path stroke="#dcdce0" d="M118 659v1M217 623v1M225 620v2M232 626v1M241 623v1M242 615v1M245 620v2M246 612v1M246 616v4M258 610v1M276 615v1M325 618v2M326 631v1M346 631v1M361 607v1M361 621v1M366 625v1M368 625v1M375 636v2M376 619v1M379 621v1M384 644v1M392 604v2M393 611v1M397 608v1M397 617v1M400 612v3M405 619v2M406 619v2M407 630v2M414 608v1M418 625v2M422 612v2M422 630v1M424 631v1M435 607v1"/>
<path stroke="#cbcbe2" d="M116 630v1M228 610v2M238 622v1M240 625v1M242 614v1M246 634v1M247 623v3M248 626v1M251 639v1M258 611v1M262 626v1M293 629v1M333 610v1M342 634v2M344 631v2M346 630v1M347 611v2M348 653v2M360 620v1M361 608v1M366 626v1M384 645v1M392 603v1M393 602v2M400 615v1M401 622v1M404 621v1M405 621v1M422 619v1M422 629v1M424 630v1M424 632v1M437 622v1"/>
<path stroke="#bbbbe5" d="M105 640v1M117 661v1M118 631v1M217 622v1M217 624v1M231 624v1M232 625v1M233 631v1M234 610v1M236 611v2M240 624v1M241 622v1M241 624v1M243 616v2M245 622v1M245 634v1M246 611v1M246 615v1M247 626v1M247 633v1M251 640v1M256 606v2M257 617v1M258 609v1M262 625v1M265 634v1M276 612v1M276 614v1M276 616v1M278 631v1M284 647v3M293 628v1M325 620v1M326 630v1M330 606v1M333 609v1M333 611v1M334 611v1M341 610v1M341 632v2M346 632v1M348 655v1M352 615v2M352 638v1M354 617v1M355 617v1M361 622v1M366 624v1M366 632v1M368 624v1M368 626v1M375 635v1M375 638v1M382 646v2M383 638v2M384 643v1M384 646v1M392 602v1M392 606v3M397 609v1M397 618v1M400 626v2M404 622v1M406 631v1M406 802v3M407 607v1M407 632v1M407 802v3M408 802v3M409 648v1M409 802v3M410 802v3M411 617v1M412 611v1M414 617v1M414 802v3M418 802v3M419 802v3M420 802v3M421 802v3M422 618v1M424 617v1M424 625v1M430 647v2M431 802v3M432 619v2M436 619v1M437 621v1M437 623v1"/>
<path stroke="#aaaae7" d="M72 657v1M105 642v1M105 660v1M106 659v1M107 658v1M108 640v1M108 648v1M112 651v1M114 651v1M114 656v1M119 658v1M121 633v1M218 623v1M225 619v1M229 619v2M230 611v2M230 618v1M233 605v1M234 609v1M234 611v1M238 623v1M239 622v1M245 608v1M245 619v1M245 633v1M246 613v1M246 633v1M247 622v1M247 627v1M247 634v1M248 625v1M252 639v2M255 609v3M255 618v1M258 615v1M265 633v1M274 628v1M276 613v1M279 642v1M283 652v1M284 646v1M284 650v1M291 644v1M293 630v1M298 644v2M303 683v3M304 660v1M306 686v2M330 605v1M333 608v1M334 638v1M341 609v1M342 636v1M344 630v1M344 633v1M344 650v2M345 621v1M346 603v1M346 629v1M347 610v1M347 613v1M348 632v1M351 610v1M352 637v1M352 639v1M354 616v1M354 618v1M355 618v1M355 636v2M357 613v2M357 621v1M358 611v1M358 623v1M360 621v1M360 712v1M361 609v1M361 620v1M366 631v1M369 650v2M373 656v2M375 708v1M377 643v1M379 620v1M380 633v2M380 653v2M387 627v2M388 631v1M393 610v1M393 612v1M395 609v1M395 616v2M400 616v1M401 636v2M403 658v1M404 620v1M404 641v2M406 630v1M406 637v1M406 640v2M406 656v1M407 629v1M410 630v1M410 685v1M411 633v2M414 609v1M414 616v1M418 624v1M418 627v1M422 620v1M422 631v1M423 618v1M423 631v1M424 626v1M424 633v1M425 637v1M426 618v1M430 649v1M432 621v2M436 620v1"/>
<path stroke="#9a9ae9" d="M105 644v1M105 661v1M107 640v1M110 646v1M116 653v1M117 652v1M225 622v1M229 606v1M229 618v1M230 610v1M230 617v1M230 619v1M231 623v1M232 604v1M233 604v1M233 614v2M237 629v1M238 621v1M239 623v1M242 605v1M242 613v1M242 624v1M244 621v2M245 609v1M245 635v1M246 635v1M247 628v1M248 627v1M252 641v1M255 608v1M255 612v1M255 619v1M256 608v1M256 610v1M257 616v1M257 631v1M257 643v2M258 612v1M260 619v1M261 619v1M267 638v2M274 627v1M275 636v1M278 632v1M278 648v2M283 653v1M284 651v1M291 645v1M296 640v2M297 634v1M297 643v1M304 661v1M305 670v1M323 693v1M324 619v1M326 622v2M328 614v1M333 624v1M334 610v1M334 612v1M334 639v1M339 635v1M340 616v1M341 615v1M342 608v1M342 633v1M343 612v1M343 634v1M343 641v1M344 627v1M344 636v2M344 641v1M345 620v1M345 665v1M346 604v1M347 633v1M351 637v1M351 693v2M352 647v1M352 651v1M353 614v1M353 621v1M355 616v1M357 687v1M358 610v1M358 622v1M358 624v1M360 713v1M364 627v1M364 669v1M364 709v1M365 632v1M365 674v2M369 649v1M372 631v1M375 707v1M375 709v1M376 644v1M377 696v4M378 638v1M379 622v1M380 652v1M381 623v1M382 627v1M382 645v1M382 648v1M386 611v2M387 629v1M388 632v1M388 698v2M391 635v1M393 604v1M394 613v1M395 608v1M395 610v1M396 618v2M397 607v1M397 616v1M397 625v3M400 625v1M401 623v1M402 637v1M402 653v1M403 616v2M403 657v1M404 613v2M405 618v1M405 622v1M405 672v2M406 632v1M406 636v1M406 638v2M406 657v1M407 608v1M407 633v1M409 649v1M409 688v1M410 629v1M410 631v1M410 684v1M410 686v1M411 612v1M411 616v1M412 612v1M412 618v1M412 661v1M414 690v1M420 622v1M422 614v4M422 628v1M424 624v1M424 638v1M425 636v1M426 619v1M428 705v3M429 641v2M430 628v1M431 619v1M432 630v1M435 608v1M438 652v1"/>
<path stroke="#8989ec" d="M72 656v1M72 659v1M104 643v1M105 659v1M108 641v1M109 643v1M110 649v1M110 652v1M111 646v1M111 648v1M111 654v1M111 657v2M113 629v2M113 633v1M113 649v1M113 655v1M114 630v1M114 655v1M115 653v2M115 656v1M117 653v1M117 657v1M118 655v1M118 658v1M124 631v1M217 625v1M218 624v1M223 627v2M224 629v1M225 625v1M228 612v1M230 609v1M230 616v1M231 612v1M235 609v2M236 610v1M236 613v1M237 630v1M238 633v1M240 619v2M240 626v1M242 606v1M242 612v1M244 614v1M244 623v1M244 634v1M245 610v1M245 627v1M246 614v1M246 620v1M249 615v1M251 638v1M252 633v2M252 637v2M255 617v1M256 609v1M257 630v1M261 618v1M261 620v1M262 627v1M264 636v1M265 635v1M266 644v2M279 641v1M279 643v1M282 649v1M282 655v1M284 645v1M284 652v1M289 626v1M291 643v1M292 625v1M293 627v1M294 659v1M297 635v1M297 644v1M298 643v1M303 682v1M303 686v1M305 669v1M306 688v1M314 685v1M323 692v1M324 620v1M326 624v2M328 615v1M328 631v1M330 689v1M331 622v2M331 636v1M332 637v2M333 625v1M334 637v1M338 626v1M339 614v1M339 634v1M340 632v1M341 631v1M341 639v1M342 609v1M343 625v1M343 633v1M343 640v1M344 606v1M344 612v1M344 619v1M344 628v1M344 635v1M344 642v1M344 646v2M344 649v1M344 652v2M345 632v1M345 650v2M345 666v1M346 607v1M346 652v2M347 627v2M347 632v1M347 634v1M348 633v1M349 634v1M351 634v3M352 617v1M352 624v1M352 644v3M352 648v3M352 652v1M353 620v1M354 615v1M354 638v1M354 680v2M354 704v2M355 619v1M355 635v1M355 638v1M357 615v1M357 620v1M357 622v1M357 688v1M358 612v1M360 619v1M360 635v1M360 711v1M361 610v1M364 626v1M364 670v3M364 691v1M364 710v1M365 631v1M365 633v1M365 676v1M365 694v1M365 708v1M366 633v1M366 706v1M368 627v1M368 631v2M369 667v1M371 649v2M371 711v2M372 632v1M375 618v1M375 710v1M375 715v2M376 643v1M376 689v2M377 642v1M377 644v1M377 700v1M378 614v1M380 651v1M380 655v1M382 622v1M382 626v1M382 628v1M383 637v1M383 640v1M385 625v1M385 633v1M386 626v1M387 626v1M388 630v1M388 633v1M391 620v1M391 636v1M392 609v1M393 655v2M394 612v1M394 614v1M394 631v1M394 654v2M395 631v1M396 608v1M397 624v1M397 628v1M398 625v2M398 726v1M399 621v1M399 713v3M401 635v1M402 614v2M402 636v1M402 717v1M404 615v1M404 619v1M404 623v1M405 623v1M405 635v2M405 664v1M406 633v3M406 655v1M408 615v1M408 701v1M409 647v1M409 687v1M411 613v1M411 618v1M411 632v1M411 639v2M411 710v2M412 619v1M413 649v1M413 675v2M414 615v1M414 623v1M414 691v1M414 694v1M415 617v1M418 725v1M421 629v1M423 619v1M423 632v1M425 635v1M425 638v1M426 617v1M426 645v1M428 704v1M429 674v1M430 702v1M431 610v1M431 615v2M431 618v1M432 629v1M433 646v1M434 625v1M434 634v2M434 695v2M436 618v1M437 624v1M437 674v1M438 651v1"/>
<path stroke="#7878ee" d="M72 654v1M77 658v1M86 632v1M86 634v1M88 632v1M99 625v1M105 643v1M105 663v1M106 642v1M107 661v1M108 645v2M108 651v1M109 644v1M109 653v1M110 644v1M110 651v1M111 659v1M112 650v1M112 654v1M113 650v1M113 652v1M116 632v1M116 652v1M116 661v1M117 631v1M122 632v1M124 628v1M124 632v1M125 631v1M217 621v1M217 626v1M224 628v1M224 639v1M225 623v2M228 609v1M229 605v1M229 607v1M229 617v1M229 621v1M231 610v2M231 613v2M232 603v1M233 606v1M233 613v1M233 616v1M233 630v1M234 608v1M236 605v2M236 617v1M237 628v1M237 631v1M238 611v1M238 619v2M238 634v1M240 618v1M240 621v1M240 623v1M241 621v1M241 625v1M242 623v1M242 625v1M243 610v1M243 618v1M244 620v1M244 635v1M245 628v1M246 623v1M247 615v1M247 632v1M248 628v1M249 612v1M249 616v1M251 641v1M252 624v1M252 636v1M253 645v1M255 613v1M255 620v1M257 610v1M257 632v1M257 642v1M258 608v1M262 624v1M262 633v2M264 637v1M267 637v1M274 629v1M275 637v1M276 617v1M277 639v1M278 630v1M278 650v1M279 644v1M282 648v1M282 650v1M282 656v1M283 651v1M284 653v1M285 653v1M286 655v1M286 660v2M286 666v2M290 644v1M291 625v1M292 624v1M293 631v1M293 652v1M294 646v1M294 658v1M294 665v1M296 642v1M297 642v1M298 646v1M300 650v1M304 683v2M305 668v1M305 671v1M305 687v1M306 689v2M314 684v1M314 686v1M319 691v1M321 690v1M321 698v2M324 625v1M325 697v1M328 616v1M328 618v1M329 630v2M329 637v1M330 630v2M330 688v1M330 690v1M331 635v1M332 613v1M332 636v1M333 612v1M333 623v1M333 670v1M334 636v1M334 640v1M337 692v1M339 613v1M339 636v1M340 615v1M340 625v1M340 631v1M340 633v1M340 651v1M340 696v1M341 611v1M341 634v1M341 638v1M341 653v2M343 611v1M343 624v1M343 635v1M343 642v1M344 613v1M344 626v1M344 629v1M344 634v1M344 640v1M344 648v1M344 654v1M345 613v1M345 622v1M346 605v2M346 628v1M346 651v1M347 614v1M347 635v2M347 703v1M348 656v1M348 712v1M349 633v1M349 640v2M351 611v1M351 615v1M351 625v1M351 638v1M351 692v1M351 695v1M352 621v1M352 623v1M352 636v1M352 640v1M353 613v1M353 615v1M353 622v1M353 624v2M353 650v1M353 681v1M354 614v1M354 619v1M354 637v1M354 639v1M354 703v1M354 706v1M355 639v1M355 677v1M357 611v1M357 616v1M357 689v1M358 621v1M358 704v1M359 611v2M359 635v1M359 699v1M360 684v1M361 688v1M364 628v1M364 690v1M364 692v1M364 707v2M365 625v2M365 669v2M365 673v1M365 693v1M365 707v1M365 709v1M366 627v1M366 642v1M366 707v1M368 630v1M368 633v1M369 639v1M369 666v1M369 668v1M370 649v1M370 674v2M371 634v1M373 618v2M375 619v1M376 620v1M376 625v1M376 636v1M377 692v1M378 613v1M378 628v1M378 639v1M379 610v1M379 652v1M380 609v1M380 698v1M381 622v1M381 624v1M382 616v2M382 637v2M382 649v1M384 613v3M384 642v1M385 624v1M385 632v1M385 634v1M386 627v1M387 630v1M388 611v1M388 614v2M388 634v1M388 700v1M388 707v1M391 617v3M391 621v1M391 634v1M393 605v3M393 642v1M394 603v2M394 610v2M395 606v2M396 607v1M397 610v1M397 645v1M397 717v2M397 726v1M398 624v1M398 627v2M399 618v1M399 620v1M399 622v4M400 611v1M400 628v1M401 621v1M401 638v1M401 693v1M402 616v1M402 638v1M402 654v1M403 615v1M403 642v1M404 618v1M404 643v1M405 637v2M405 641v2M405 665v1M405 671v1M406 642v1M407 628v1M407 634v1M407 696v1M407 704v1M408 700v1M408 702v1M408 720v2M409 614v1M409 689v2M410 719v2M411 635v1M411 638v1M411 657v2M412 617v1M412 660v1M412 694v1M413 616v1M413 650v1M413 662v2M413 668v1M413 674v1M413 677v1M414 664v2M414 689v1M414 692v2M414 695v1M415 618v1M418 619v1M418 623v1M419 617v1M419 682v1M420 621v1M420 623v1M423 617v1M424 618v1M424 627v1M424 629v1M424 637v1M425 620v1M426 644v1M426 646v1M427 702v1M427 716v2M428 641v2M429 629v1M429 643v1M429 675v1M430 638v1M430 650v1M430 703v1M430 726v2M431 614v1M432 618v1M433 617v1M433 647v1M434 624v1M434 688v1M434 711v1M435 720v1M437 620v1M437 643v1M437 673v1M438 645v1M438 653v1M632 625v1M673 605v1"/>
<path stroke="#6868f0" d="M73 657v1M87 632v1M100 626v1M104 641v1M105 657v1M105 662v1M106 644v2M106 664v1M107 642v2M107 647v2M108 643v1M108 650v1M109 648v1M109 650v1M110 648v1M111 649v2M111 653v1M112 656v1M112 658v2M113 651v1M113 662v1M114 628v1M114 633v1M114 661v1M116 660v1M117 658v1M118 660v2M120 631v2M122 628v1M122 631v1M123 629v1M124 630v1M214 618v3M216 615v1M216 619v2M218 622v1M223 629v1M224 630v1M225 626v1M232 605v1M232 624v1M234 612v1M234 615v2M236 607v1M237 610v4M237 632v1M238 632v1M239 634v1M240 604v1M240 622v1M241 608v1M241 616v1M242 604v1M242 607v1M242 633v1M244 612v2M244 615v1M244 624v1M244 636v2M244 640v1M245 623v1M245 626v1M245 632v1M245 636v1M246 610v1M246 622v1M246 624v1M247 629v1M250 635v1M252 635v1M253 646v1M255 607v1M257 618v1M257 622v1M257 629v1M257 638v2M257 645v1M258 614v1M258 623v1M258 644v2M259 618v1M259 622v1M259 638v1M259 644v1M260 637v2M261 621v1M261 624v1M264 645v1M265 636v1M274 626v1M275 631v1M275 635v1M277 619v1M277 638v1M279 628v1M279 645v1M279 649v3M279 654v2M282 654v1M283 654v1M284 654v1M284 660v2M285 635v1M285 652v1M285 654v1M286 649v1M286 656v1M286 662v1M286 665v1M287 661v6M288 629v2M289 629v1M290 634v2M291 626v1M292 626v1M292 630v2M293 651v1M294 645v1M294 660v1M294 666v1M295 630v1M296 639v1M296 654v3M297 641v1M297 655v1M298 640v1M300 651v1M304 672v2M304 680v3M304 685v5M305 667v1M305 672v1M305 683v1M305 688v1M306 685v1M313 682v1M321 689v1M321 691v1M322 687v2M323 694v1M324 621v1M325 617v1M325 696v1M326 621v1M326 702v2M328 617v1M328 619v1M329 629v1M330 629v1M330 632v1M330 638v1M330 679v3M331 621v1M331 624v1M331 633v2M331 637v1M331 670v2M332 635v1M333 607v1M333 645v1M334 621v1M334 634v1M334 679v4M337 688v1M337 691v1M337 693v1M337 701v1M338 625v1M338 627v1M338 682v2M338 689v1M339 620v1M339 633v1M339 693v2M340 624v1M340 678v2M340 695v1M341 608v1M341 614v1M341 616v1M342 628v2M342 693v1M343 626v1M343 666v1M343 688v2M344 611v1M344 638v1M344 655v1M344 686v1M345 614v1M345 631v1M345 633v1M345 642v1M345 649v1M345 652v1M345 664v1M345 682v1M345 694v2M346 633v1M346 650v1M346 654v1M346 688v2M347 607v3M347 615v1M347 648v3M347 704v2M348 606v1M348 631v1M348 652v1M348 698v2M349 635v1M349 639v1M349 642v1M350 610v1M351 614v1M351 621v4M351 626v1M351 644v1M352 614v1M352 618v1M352 620v1M352 622v1M352 625v1M352 679v3M352 692v1M352 697v1M353 619v1M353 623v1M353 649v1M353 651v1M353 682v1M353 698v2M354 613v1M354 682v1M354 702v1M355 623v2M355 678v1M357 686v1M357 690v1M358 613v1M358 625v1M358 646v2M358 703v1M359 618v1M359 700v1M359 706v1M359 712v1M360 634v1M360 670v2M360 687v1M361 637v1M361 687v1M361 689v1M364 651v1M364 668v1M364 673v1M364 679v2M364 706v1M365 624v1M365 627v1M365 630v1M365 671v2M365 677v1M365 684v2M366 630v1M366 634v2M366 705v1M367 632v1M367 642v1M368 623v1M368 628v2M368 634v1M369 619v1M369 652v1M369 673v2M370 630v1M370 648v1M370 650v1M370 655v1M370 673v1M371 631v1M371 633v1M371 635v1M371 648v1M371 651v1M372 630v1M372 716v1M373 655v1M374 618v2M375 617v1M375 629v2M375 639v1M375 674v2M375 706v1M375 714v1M375 717v1M376 626v1M376 645v1M376 679v2M376 691v1M376 696v1M377 615v1M377 632v1M377 691v1M377 693v1M377 701v1M378 615v1M378 627v1M378 631v1M378 637v1M379 604v1M379 609v1M379 616v1M379 623v1M379 653v1M379 656v1M379 688v1M380 632v1M380 650v1M380 699v1M381 613v1M381 711v1M382 621v1M382 636v1M382 644v1M383 625v1M384 611v2M384 624v1M386 623v1M386 625v1M386 695v1M387 649v1M387 700v1M388 610v1M391 611v1M391 616v1M391 637v2M392 601v1M392 615v1M392 682v1M393 608v2M393 613v1M393 616v1M393 657v1M394 615v1M394 632v1M394 653v1M395 605v1M395 611v1M395 618v1M395 630v1M395 701v1M395 715v2M396 609v1M397 611v3M397 709v2M398 643v1M398 655v1M398 694v2M398 722v1M398 725v1M399 619v1M399 643v1M399 712v1M399 716v2M400 624v1M401 651v1M402 612v2M402 652v1M403 618v1M403 634v2M403 641v1M403 656v1M403 659v1M404 616v1M404 627v2M404 636v2M404 640v1M404 658v1M405 624v1M405 639v2M405 653v2M405 674v1M406 609v1M406 621v1M406 658v1M407 635v3M407 659v1M407 695v1M407 697v1M407 703v1M408 614v1M408 648v1M408 662v1M408 688v1M409 610v1M409 613v1M409 662v3M409 686v1M410 632v1M410 683v1M410 687v1M411 611v1M411 615v1M411 641v1M411 659v1M411 689v1M411 693v2M412 654v1M412 662v1M412 693v1M412 717v1M413 615v1M413 651v1M413 655v2M413 659v3M413 664v1M413 666v2M413 692v1M413 696v1M414 610v1M414 614v1M414 618v1M415 614v3M415 622v1M415 630v2M418 628v1M418 670v1M418 676v1M419 626v1M419 637v1M419 671v1M419 681v1M419 683v1M419 714v1M421 630v1M422 632v1M423 640v1M423 711v3M424 623v1M424 634v1M424 639v1M425 619v1M425 621v1M425 627v1M426 616v1M426 656v2M427 703v1M427 715v1M428 643v2M428 703v1M428 717v2M429 618v3M429 630v1M429 640v1M429 724v2M430 629v1M430 633v1M430 637v1M430 646v1M430 701v1M431 611v1M431 617v1M431 636v1M431 639v2M431 655v1M431 719v1M432 613v1M432 623v1M432 635v1M432 727v2M433 616v1M433 622v3M433 724v2M434 682v2M434 697v1M434 710v1M435 609v1M435 613v1M435 619v1M436 613v1M436 621v1M436 637v2M436 672v1M436 686v1M437 644v1M437 675v1M438 621v1M438 631v1M438 643v2M438 695v2M619 605v3M622 605v4M624 601v3M632 624v1M673 604v1M674 606v1M689 621v2M696 609v2M698 642v1"/>
<path stroke="#5757f3" d="M72 655v1M76 658v1M88 633v2M99 627v1M104 642v1M105 664v1M106 660v1M107 656v1M108 642v1M109 642v1M109 655v1M110 650v1M110 655v1M112 628v1M112 630v1M112 649v1M112 653v1M114 632v1M114 650v1M115 631v1M116 655v2M117 632v1M117 656v1M118 652v2M119 657v1M121 632v1M122 629v1M123 632v1M125 628v2M216 618v1M216 621v1M217 614v1M222 626v3M223 621v2M224 627v1M224 633v1M224 638v1M225 627v1M229 608v1M230 608v1M230 613v1M230 620v1M232 602v1M232 620v1M233 617v1M234 613v2M234 617v1M235 608v1M235 611v1M237 614v1M238 610v1M238 618v1M238 624v1M238 635v1M239 621v1M239 630v1M241 607v1M241 609v1M241 626v1M241 634v1M242 611v1M242 620v2M242 626v1M242 629v1M242 632v1M243 611v1M243 615v1M243 625v1M244 611v1M244 627v1M245 624v2M245 629v1M246 632v1M246 636v1M249 614v1M249 627v1M250 636v1M252 623v1M252 625v1M252 632v1M252 642v1M253 644v1M255 614v1M255 621v1M256 613v3M257 609v1M257 612v1M257 621v1M257 623v1M257 633v1M257 641v1M258 613v1M259 623v1M259 637v1M260 630v2M261 625v1M261 634v2M264 635v1M264 644v1M265 637v1M265 640v1M266 643v1M266 646v1M267 636v1M267 640v1M270 642v2M274 615v1M275 622v1M275 632v1M276 622v2M276 629v1M277 620v1M277 640v1M278 618v1M278 647v1M278 651v1M279 646v3M280 648v1M282 647v1M282 651v1M283 631v1M283 649v2M284 644v1M285 636v1M285 659v2M286 650v1M286 663v2M286 668v1M287 641v1M288 655v1M288 660v1M289 627v2M289 630v1M290 636v3M290 645v1M291 627v1M291 646v1M291 651v3M291 669v1M292 627v3M293 626v1M293 657v3M294 635v3M294 647v1M294 656v2M296 643v1M296 653v1M297 636v1M297 639v2M297 654v1M298 641v2M299 644v3M299 661v1M300 647v3M304 662v1M304 679v1M305 682v1M305 684v1M305 686v1M306 670v3M313 683v1M314 683v1M317 669v1M319 690v1M319 692v1M320 685v3M321 687v2M321 700v1M324 624v1M325 689v1M325 695v1M326 626v1M326 701v1M326 704v1M327 621v1M328 630v1M328 632v1M328 700v2M329 625v1M329 636v1M329 685v1M329 703v2M330 627v2M330 637v1M330 682v1M330 691v1M331 619v2M331 632v1M331 669v1M331 679v2M331 688v2M332 620v2M332 639v1M332 669v1M333 618v2M333 622v1M333 644v1M333 671v1M333 680v2M334 613v1M334 622v3M334 633v1M334 641v2M334 683v1M337 689v2M337 694v2M337 700v1M337 702v1M338 688v1M338 690v1M339 605v1M339 615v1M339 626v2M339 631v2M339 637v1M339 692v1M339 695v1M340 617v1M340 634v1M340 683v3M340 694v1M340 697v1M341 630v1M341 640v1M342 610v1M342 620v2M342 627v1M342 632v1M342 637v1M342 692v1M342 699v2M343 613v1M343 632v1M343 643v1M343 665v1M343 687v1M344 607v1M344 620v1M344 639v1M344 643v1M344 645v1M344 665v1M344 678v1M344 685v1M344 694v1M345 610v3M345 641v1M345 667v1M345 681v1M345 683v1M346 608v1M346 627v1M346 642v2M346 649v1M346 666v1M346 690v1M347 616v1M347 629v1M347 637v1M347 670v2M347 688v2M347 691v1M347 706v1M348 611v1M348 674v1M349 621v2M349 645v1M349 649v1M349 657v1M349 677v1M349 693v1M350 609v1M350 625v1M350 644v1M350 689v1M350 701v2M351 612v2M351 639v1M351 643v1M351 687v1M351 700v1M352 619v1M352 643v1M352 678v1M352 691v1M352 693v1M352 696v1M352 715v1M353 612v1M353 626v1M353 630v2M353 648v1M353 696v2M353 700v2M354 620v2M354 634v3M354 679v1M354 707v1M355 620v1M355 625v1M355 640v1M355 679v1M356 616v2M357 617v1M357 638v1M357 675v1M357 691v2M357 694v4M358 629v1M358 705v1M359 619v1M359 634v1M359 693v1M359 698v1M360 622v1M360 636v1M360 710v1M361 611v1M361 646v2M361 682v3M361 712v2M364 625v1M364 629v1M364 652v1M364 678v1M364 685v1M364 693v1M364 716v1M365 668v1M365 678v1M365 683v1M365 686v1M365 695v1M365 704v1M365 710v1M366 636v1M366 641v1M366 671v2M367 631v1M367 643v1M367 681v2M368 635v1M368 651v3M368 660v1M368 682v1M369 638v1M369 640v1M369 648v1M369 669v1M369 672v1M370 631v2M370 656v1M371 630v1M371 632v1M372 633v1M372 655v1M372 715v1M373 620v1M375 681v2M375 705v1M376 616v1M376 635v1M376 637v1M376 676v1M376 688v1M376 695v1M376 697v1M376 709v1M376 718v3M377 614v1M377 625v1M377 631v1M377 633v1M377 695v1M377 702v1M377 718v1M378 621v1M378 632v1M378 694v1M379 611v3M379 615v1M379 617v1M379 639v1M379 649v1M379 651v1M379 687v1M379 689v1M379 713v1M380 608v1M380 697v1M380 702v1M380 725v1M381 605v1M381 609v1M381 614v1M381 625v1M381 638v1M381 658v2M381 703v2M381 710v1M382 623v1M382 625v1M382 629v1M382 635v1M382 650v1M383 607v1M383 622v1M383 636v1M384 606v2M384 610v1M384 623v1M384 625v1M384 641v1M384 647v1M385 626v1M385 631v1M386 610v1M386 622v1M386 624v1M386 660v2M386 696v1M387 611v2M387 625v1M387 699v1M387 701v1M388 612v2M388 629v1M388 650v2M388 706v1M388 708v1M388 715v1M391 612v1M391 639v1M391 643v2M391 690v1M392 610v1M392 616v1M392 623v1M392 721v1M393 641v1M393 643v1M393 654v1M393 667v1M393 700v2M394 605v1M394 609v1M394 630v1M394 691v2M395 615v1M395 632v1M395 700v1M395 702v1M396 606v1M396 617v1M396 645v1M396 652v2M396 688v1M396 704v2M397 603v2M397 614v2M397 636v1M397 646v1M397 651v2M397 668v1M397 694v1M397 702v2M397 716v1M398 629v1M398 635v1M398 644v1M398 654v1M398 656v1M398 708v2M398 721v1M400 617v1M401 634v1M401 648v3M401 652v1M401 694v1M401 712v1M402 611v1M402 617v1M402 635v1M402 658v1M402 663v1M403 626v2M403 636v1M403 643v1M404 617v1M404 624v1M404 657v1M404 659v1M405 643v1M405 663v1M405 714v2M406 629v1M406 659v1M406 670v1M407 609v1M407 638v1M407 645v4M407 650v1M407 660v1M407 705v1M408 630v2M408 647v1M408 649v1M408 661v1M408 689v1M408 699v1M409 615v1M409 650v1M409 665v1M409 685v1M410 616v1M410 628v1M410 638v1M410 649v1M410 718v1M410 721v1M411 609v1M411 614v1M411 656v1M411 660v1M411 688v1M411 690v3M411 695v1M411 698v2M411 712v1M412 613v1M412 631v2M412 640v1M412 643v2M412 648v1M412 653v1M412 659v1M412 695v1M412 705v1M412 718v1M413 639v1M413 648v1M413 657v2M413 665v1M413 669v1M413 673v1M413 695v1M414 663v1M414 666v1M414 696v1M414 699v1M414 721v2M415 619v1M415 621v1M415 629v1M415 650v1M418 620v1M418 669v1M418 671v3M418 677v1M418 708v2M419 616v1M419 618v1M419 625v1M419 627v2M419 636v1M419 670v1M419 713v1M420 671v1M421 628v1M421 689v1M421 699v1M422 621v1M422 697v1M423 624v2M423 630v1M423 641v1M423 671v1M424 619v1M424 628v1M424 645v1M424 687v1M424 718v1M425 622v1M425 628v1M425 634v1M425 639v1M425 644v1M425 646v1M426 681v1M426 697v1M427 644v1M427 680v1M427 701v1M427 704v1M427 710v2M427 718v1M428 632v1M428 645v1M428 716v1M428 719v1M429 621v1M429 628v1M429 644v1M429 667v1M429 694v1M429 710v1M429 722v2M430 615v2M430 627v1M430 632v1M430 634v3M430 639v1M430 651v1M430 709v1M430 722v1M430 725v1M431 612v2M431 620v1M431 631v1M431 633v1M431 635v1M431 637v2M431 656v1M431 680v1M431 720v1M431 727v2M432 616v2M432 634v1M432 638v1M432 667v3M432 678v1M432 699v2M432 710v4M432 726v1M433 618v1M433 625v1M433 635v2M433 645v1M433 693v2M433 714v2M433 720v1M434 617v5M434 623v1M434 626v1M434 633v1M434 636v1M434 681v1M434 684v1M434 687v1M434 689v1M434 720v1M435 610v1M435 614v1M435 618v1M435 629v1M435 641v3M435 653v1M435 687v2M435 695v1M435 705v1M436 624v1M436 636v1M436 639v1M436 663v2M436 671v1M436 673v1M436 691v1M436 700v2M437 617v1M437 619v1M437 625v1M437 630v2M437 642v1M437 672v1M437 694v2M438 622v1M438 630v1M438 642v1M438 646v1M438 670v2M438 694v1M618 620v2M619 604v1M619 608v1M622 604v1M622 609v1M624 600v1M624 604v2M624 607v1M630 614v1M631 610v2M633 626v1M636 609v1M672 603v2M673 606v1M674 604v2M674 607v1M682 641v2M689 615v1M689 620v1M690 627v1M694 638v3M696 607v2M696 611v2M696 620v1M698 641v1M698 643v1"/>
<path stroke="#4747f5" d="M73 655v1M73 658v2M73 661v1M76 657v1M86 633v1M104 644v1M106 643v1M106 654v1M107 654v1M107 657v1M109 651v1M109 654v1M110 647v1M110 654v1M111 652v1M111 655v1M112 631v2M112 652v1M112 661v1M113 631v1M113 654v1M113 657v1M113 659v1M115 629v1M115 650v1M115 655v1M115 660v1M116 629v1M116 657v1M117 655v1M117 660v1M118 630v1M118 654v1M120 629v1M121 629v1M122 630v1M124 627v1M125 630v1M125 632v1M214 617v1M224 634v1M230 615v1M231 609v1M231 615v1M231 618v1M232 619v1M232 621v1M233 612v1M233 627v1M234 607v1M234 618v1M235 612v2M235 620v1M236 608v2M236 616v1M236 618v1M237 609v1M237 633v1M239 603v1M239 624v1M239 629v1M239 633v1M240 605v1M240 617v1M241 610v1M241 635v1M242 622v1M242 630v1M243 609v1M243 624v1M243 626v1M244 626v1M244 633v1M244 638v2M245 618v1M245 630v2M245 637v1M246 621v1M246 629v3M247 616v1M247 621v1M248 629v1M249 613v1M249 626v1M249 628v1M250 634v1M250 637v1M251 636v2M252 620v1M255 615v2M255 639v1M256 616v3M256 640v2M257 611v1M257 624v1M257 640v1M258 622v1M258 624v1M259 621v1M259 628v2M259 639v1M260 620v1M260 629v1M260 632v1M260 639v1M261 622v2M261 632v2M262 628v1M262 632v1M263 633v1M264 632v2M264 638v1M265 632v1M267 635v1M267 650v1M270 636v1M271 640v2M271 647v2M274 619v2M274 625v1M275 617v1M275 621v1M275 623v1M275 630v1M276 618v1M276 630v1M276 633v2M277 613v1M277 618v1M277 637v1M278 617v1M278 619v1M278 623v2M278 642v1M279 629v1M279 631v2M279 640v1M279 653v1M280 622v1M280 633v2M280 647v1M280 649v1M282 653v1M283 660v1M284 631v1M284 662v1M285 644v2M285 648v2M285 655v1M285 658v1M285 666v2M286 648v1M286 654v1M286 659v1M287 628v1M287 642v1M287 660v1M288 640v2M288 654v1M288 656v1M288 659v1M288 665v1M290 626v1M290 643v1M290 668v2M291 654v1M291 668v1M291 670v1M292 632v1M292 636v1M292 646v2M293 653v1M293 656v1M293 660v1M294 634v1M294 638v1M294 644v1M294 651v1M294 655v1M294 664v1M295 657v1M296 657v1M297 638v1M297 645v1M298 669v1M299 647v1M299 669v2M300 677v1M302 654v1M302 673v2M302 681v2M303 657v1M303 666v2M303 673v1M303 687v1M304 671v1M304 674v1M305 673v1M307 688v2M313 684v1M314 682v1M316 676v1M317 668v1M318 685v1M319 688v1M319 693v2M320 691v2M321 686v1M321 692v1M321 697v1M322 689v1M322 695v3M323 691v1M324 683v1M325 630v1M325 688v1M326 629v1M326 690v2M326 700v1M327 620v1M328 620v1M328 624v1M328 682v3M328 699v1M328 702v1M329 607v2M329 626v3M329 680v1M329 684v1M330 633v1M330 678v1M330 683v1M330 687v1M330 698v1M331 618v1M331 625v1M331 678v1M332 612v1M332 619v1M332 670v1M332 675v1M333 620v2M333 672v1M333 679v1M333 689v1M334 609v1M334 614v2M334 620v1M334 643v1M337 649v4M337 659v1M337 711v1M338 648v2M338 691v1M338 693v2M339 621v1M339 625v1M339 628v1M339 630v1M339 638v1M339 691v1M340 607v5M340 623v1M340 626v1M340 635v1M340 637v2M340 641v1M340 650v1M340 686v1M340 692v2M341 658v1M341 661v1M341 698v2M342 640v2M342 652v2M342 662v1M342 689v3M342 694v1M342 698v1M343 627v1M343 639v1M343 656v2M343 664v1M343 667v1M343 690v1M343 701v1M344 614v1M344 659v2M344 664v1M344 666v3M344 679v1M344 687v1M344 695v1M344 701v1M345 609v1M345 619v1M345 623v1M345 634v1M345 643v1M345 653v1M345 663v1M345 680v1M346 644v1M346 648v1M346 665v1M346 667v1M346 687v1M346 691v1M347 605v2M347 626v1M347 631v1M347 647v1M347 651v1M347 659v1M347 667v1M347 669v1M347 686v2M347 690v1M347 692v1M347 702v1M348 605v1M348 607v1M348 663v1M348 669v3M348 673v1M348 675v1M348 700v1M348 705v1M349 612v1M349 623v1M349 626v1M349 638v1M349 643v2M349 648v1M349 650v1M349 656v1M349 658v1M349 678v1M349 692v1M349 694v1M350 626v1M350 634v2M350 688v1M350 690v1M350 694v1M351 616v1M351 620v1M351 645v1M351 655v1M351 681v3M351 686v1M351 688v1M351 691v1M351 696v1M352 607v1M352 609v2M352 635v1M352 641v1M352 653v1M352 661v2M352 698v1M353 616v1M353 618v1M353 683v1M353 695v1M353 702v1M354 607v1M354 627v2M354 632v2M354 640v1M354 692v1M355 605v1M355 615v1M355 622v1M355 634v1M355 646v2M355 676v1M355 704v1M355 714v1M356 634v1M356 640v1M356 674v1M356 687v1M357 610v1M357 619v1M357 623v1M357 639v1M357 676v1M357 693v1M357 698v1M358 620v1M358 645v1M358 702v1M359 613v1M359 617v1M359 625v2M359 671v1M359 692v1M359 694v3M359 705v1M360 607v1M360 683v1M360 705v1M361 619v1M361 638v1M361 681v1M361 685v2M361 694v2M361 714v2M364 632v2M364 674v1M364 681v1M364 684v1M364 686v1M364 689v1M364 694v3M364 705v1M365 623v1M365 628v2M365 652v2M365 667v1M365 687v1M365 692v1M366 628v1M367 633v1M367 641v1M367 646v2M367 671v2M367 680v1M368 636v2M368 650v1M368 654v1M368 659v1M368 668v1M368 681v1M369 675v1M369 715v1M370 629v1M370 633v1M370 637v1M370 640v1M370 647v1M370 654v1M370 671v2M370 676v1M370 683v1M371 652v1M371 676v1M371 702v1M372 621v1M372 625v2M372 654v1M372 714v1M372 717v1M373 621v2M373 654v1M373 722v1M374 683v2M374 703v1M375 634v1M375 691v3M375 711v1M376 611v1M376 614v2M376 638v1M376 651v1M376 678v1M376 681v1M376 692v1M376 694v1M376 717v1M377 613v1M377 616v1M377 641v1M377 680v1M377 694v1M377 703v1M377 717v1M378 612v1M378 616v1M378 629v1M378 693v1M378 709v4M379 605v1M379 614v1M379 619v1M379 624v1M379 629v1M379 638v1M379 650v1M379 694v1M379 714v1M380 610v1M380 621v1M380 635v1M380 649v1M380 656v1M380 703v1M380 724v1M381 608v1M381 637v1M381 654v2M381 660v1M381 702v1M381 705v1M381 712v1M381 723v2M382 618v1M382 624v1M382 630v2M382 634v1M382 643v1M382 700v2M382 710v1M382 712v1M383 621v1M383 623v2M383 632v1M383 635v1M383 641v1M383 646v2M383 654v4M384 608v2M384 616v1M385 610v1M385 628v3M385 694v1M386 636v3M387 624v1M387 648v1M387 650v1M387 669v1M387 709v2M388 627v2M388 635v1M388 649v1M388 652v1M388 701v1M388 711v1M388 714v1M391 606v2M391 633v1M391 701v2M391 717v2M392 624v1M392 681v1M392 683v1M392 720v1M393 615v1M393 617v1M393 658v1M393 666v1M393 668v1M393 695v2M393 699v1M393 720v2M394 602v1M394 616v1M394 619v2M394 640v1M394 690v1M394 701v1M394 717v2M395 612v1M395 629v1M395 670v1M395 717v1M395 719v1M395 723v3M396 613v2M396 620v1M396 646v1M396 660v1M397 605v2M397 619v1M397 623v1M397 629v1M397 644v1M397 667v1M397 695v1M397 704v1M397 711v1M398 607v1M398 623v1M398 636v1M398 696v1M398 707v1M398 710v1M398 723v1M399 617v1M399 626v1M399 644v1M399 670v2M399 711v1M400 623v1M400 629v1M400 702v2M401 612v2M401 647v1M401 653v1M401 707v1M401 713v1M401 720v2M402 621v1M402 639v1M402 645v2M402 667v1M402 708v1M402 716v1M403 612v1M403 640v1M403 649v1M403 663v1M403 709v2M404 625v2M404 635v1M404 638v2M404 644v1M404 660v1M404 667v1M405 608v1M405 617v1M405 652v1M405 655v1M405 670v1M406 654v1M406 660v1M406 662v1M406 669v1M407 612v1M407 639v4M407 644v1M407 649v1M407 651v1M407 658v1M407 661v3M407 688v1M407 694v1M407 706v3M408 608v2M408 650v1M408 663v1M408 676v1M408 687v1M408 703v1M409 612v1M409 629v1M409 642v1M409 661v1M409 684v1M409 691v1M409 700v2M410 637v1M410 642v2M410 645v4M410 688v1M410 713v2M411 608v1M411 610v1M411 636v2M411 687v1M411 696v2M411 700v1M412 630v1M412 641v1M412 649v1M412 655v1M412 658v1M412 677v4M412 692v1M412 696v1M412 698v1M412 716v1M413 638v1M413 640v1M413 654v1M413 670v3M413 684v1M413 691v1M413 693v2M413 697v4M414 622v1M414 625v1M414 688v1M414 698v1M414 705v2M414 720v1M415 620v1M415 623v1M415 651v1M415 657v1M415 705v2M418 622v1M418 629v3M418 636v1M418 674v2M418 705v1M418 707v1M418 710v5M419 629v1M419 654v2M419 672v1M419 706v1M420 616v1M420 670v1M420 672v1M420 682v2M420 703v2M421 617v1M421 635v3M421 656v1M421 690v1M422 627v1M422 671v2M422 691v1M422 698v1M423 620v1M423 633v1M423 639v1M423 663v3M423 672v1M423 697v2M423 706v1M423 710v1M423 714v1M423 718v1M424 621v2M424 635v1M424 644v1M424 665v1M424 688v1M424 717v1M425 629v2M425 690v1M426 628v1M426 647v1M426 658v1M426 694v3M426 709v1M427 637v1M427 643v1M427 657v2M427 664v1M427 681v1M427 705v2M427 709v1M427 712v1M427 714v1M428 631v1M428 640v1M428 657v1M428 688v1M428 702v1M428 708v1M429 624v1M429 631v2M429 639v1M429 653v1M429 662v2M429 673v1M429 709v1M429 711v1M429 721v1M430 617v1M430 642v1M430 669v1M430 689v2M430 694v1M430 710v1M430 721v1M430 723v2M431 634v1M431 654v1M431 673v1M431 679v1M431 681v1M431 688v1M431 718v1M431 729v1M432 628v1M432 631v1M432 636v2M432 653v2M432 670v1M432 677v1M432 701v2M432 709v1M432 722v1M432 729v1M433 626v1M433 637v1M433 658v2M433 664v2M433 686v2M433 695v1M433 719v1M433 723v1M434 622v1M434 641v1M434 649v1M434 685v2M434 712v1M434 721v1M435 611v2M435 630v1M435 640v1M435 652v1M435 663v1M435 677v3M435 689v1M435 703v2M435 706v1M435 719v1M436 614v1M436 617v1M436 625v1M436 628v1M436 635v1M436 657v2M436 665v1M436 667v2M436 685v1M436 687v1M436 690v1M436 692v1M437 618v1M437 626v1M437 629v1M437 645v1M437 650v1M437 676v1M437 693v1M437 700v1M437 716v1M438 612v1M438 615v1M438 650v1M438 667v3M438 689v5M438 697v1M618 605v1M618 614v6M618 622v1M619 601v1M619 603v1M619 609v1M619 626v3M620 603v1M620 606v9M620 623v1M621 601v5M622 610v3M623 601v7M623 617v1M624 599v1M624 606v1M624 608v1M625 602v1M625 604v7M625 614v1M626 602v2M626 606v9M627 623v3M627 632v1M628 600v1M628 603v3M629 603v8M630 600v10M630 613v1M631 603v7M631 612v5M632 602v1M632 608v8M632 623v1M633 615v2M633 627v1M634 614v3M634 618v1M635 604v3M635 609v2M635 614v2M636 608v1M636 610v1M636 614v2M637 604v3M637 610v7M662 607v1M662 610v3M662 616v4M663 612v9M664 618v5M665 622v2M666 618v1M667 611v3M667 615v3M668 614v6M669 609v2M669 617v6M670 604v4M670 611v5M671 611v5M672 605v1M672 612v5M673 599v5M673 611v2M674 600v1M674 603v1M674 608v6M675 610v4M675 615v2M676 603v1M676 605v1M676 615v2M677 606v3M678 600v2M678 604v6M679 604v3M680 617v2M681 600v3M681 604v2M681 613v1M682 604v1M683 598v3M683 602v8M683 611v2M683 641v2M683 648v2M684 596v8M684 605v5M684 651v2M684 662v1M685 603v4M685 609v5M685 616v1M685 658v2M685 663v2M686 604v4M689 610v3M689 614v1M689 617v3M689 623v1M689 648v1M690 611v3M690 615v3M690 622v3M690 626v1M690 628v1M691 608v2M691 617v2M691 620v1M692 617v2M693 619v1M693 633v2M694 613v1M694 616v1M694 641v1M694 644v2M694 651v1M695 606v13M696 613v2M696 616v1M696 618v2M696 621v2M697 616v2M697 619v2M697 631v1M698 611v2M698 615v1M698 644v1M699 618v3"/>
<path stroke="#3636f7" d="M72 660v1M76 656v1M87 631v1M100 625v1M106 641v1M106 656v1M106 663v1M109 649v1M109 652v1M110 656v1M111 656v1M112 629v1M113 656v1M114 652v1M115 630v1M115 652v1M115 658v1M115 661v1M116 654v1M116 658v1M117 659v1M118 632v1M118 656v2M119 661v1M120 633v1M216 616v2M216 622v1M217 620v1M223 623v4M224 625v2M224 631v2M224 635v1M225 628v3M229 609v1M229 615v1M229 622v1M231 617v1M231 619v1M231 622v1M232 601v1M232 611v2M233 626v1M233 628v1M234 605v1M235 614v1M235 621v1M235 624v2M236 614v1M237 607v2M237 627v1M238 612v1M239 631v1M240 635v1M241 633v1M242 619v1M242 631v1M242 634v1M243 612v1M243 620v1M243 635v1M244 610v1M244 616v2M244 619v1M244 625v1M244 628v1M245 611v1M245 638v1M246 628v1M247 630v2M247 635v1M247 640v2M248 624v1M248 631v1M249 625v1M249 629v1M249 632v2M249 635v1M250 617v2M250 629v1M250 638v1M251 628v1M251 635v1M252 619v1M252 621v2M253 647v1M255 626v1M255 638v1M256 619v3M256 639v1M256 642v1M257 619v2M257 628v1M257 634v1M258 619v3M258 628v1M258 638v1M258 643v1M259 630v1M259 643v1M260 626v2M261 626v1M261 631v1M261 636v1M262 629v3M262 635v1M264 634v1M264 639v1M264 643v1M265 638v2M265 641v1M265 643v2M266 633v2M267 634v1M267 641v1M267 646v1M268 646v1M269 641v2M269 652v1M270 644v1M271 638v2M271 649v1M274 621v4M274 633v1M275 616v1M275 618v3M275 638v1M277 614v1M277 628v2M277 631v2M277 641v1M278 629v1M278 633v1M278 643v1M278 655v1M279 630v1M279 652v1M280 632v1M280 642v3M280 646v1M280 655v1M282 652v1M283 632v1M283 655v1M283 658v1M284 630v1M284 655v5M285 634v1M285 646v2M285 650v2M285 656v2M285 661v1M286 657v2M286 669v1M287 667v1M287 670v1M288 653v1M288 661v1M288 666v1M289 645v1M289 650v2M289 661v6M290 627v1M290 639v1M290 646v1M290 650v1M290 670v1M291 628v1M291 659v2M292 637v1M293 625v1M293 635v2M293 647v1M293 655v1M294 642v1M294 648v1M294 650v1M294 652v1M294 654v1M294 667v1M295 631v1M295 633v1M295 656v1M296 636v1M296 652v1M296 665v1M297 637v1M297 656v1M297 658v1M298 638v2M298 647v1M298 657v3M299 648v1M299 660v1M299 662v1M299 675v1M300 654v1M300 678v1M301 649v4M301 658v2M302 655v1M302 679v2M302 683v1M303 661v2M303 672v1M303 674v1M303 681v1M303 688v1M304 667v2M304 675v1M305 666v1M305 674v1M305 685v1M306 673v1M306 676v1M307 684v1M307 693v1M313 685v1M314 681v1M315 685v1M316 675v1M316 677v1M317 670v1M317 690v2M318 684v1M318 686v1M319 689v1M319 695v1M320 684v1M320 688v1M320 693v1M320 695v1M320 702v2M321 693v4M322 686v1M322 694v1M322 698v1M323 695v1M323 699v1M324 682v1M324 694v2M324 700v1M324 703v1M325 621v1M325 625v2M325 681v3M325 687v1M325 690v1M325 694v1M326 620v1M326 677v2M326 689v1M326 699v1M326 705v1M327 619v1M327 622v1M327 628v1M327 681v2M328 625v1M328 681v1M329 624v1M329 632v1M329 673v2M329 679v1M329 686v1M329 702v1M330 634v3M330 684v1M331 614v1M331 617v1M331 638v1M331 672v1M331 690v1M332 622v1M332 634v1M332 671v1M332 674v1M332 678v2M332 689v1M332 696v3M333 617v1M333 626v1M333 646v1M333 682v1M333 690v1M333 692v4M334 616v1M337 612v1M337 653v1M337 658v1M337 660v2M337 687v1M337 696v1M337 699v1M337 703v1M338 636v1M338 650v3M338 661v1M338 681v1M338 684v1M338 687v1M338 692v1M338 695v1M339 619v1M339 639v1M339 651v2M339 661v2M339 676v1M339 682v8M339 696v2M340 606v1M340 614v1M340 636v1M340 639v2M340 664v2M340 682v1M340 691v1M340 698v1M341 613v1M341 635v1M341 637v1M341 641v1M341 649v2M341 652v1M341 657v1M341 659v2M341 697v1M342 613v2M342 622v1M342 626v1M342 630v1M342 642v3M342 651v1M342 654v1M342 661v1M342 663v1M342 680v1M342 701v1M343 636v1M343 644v2M343 655v1M343 660v4M343 700v1M344 610v1M344 618v1M344 625v1M344 644v1M344 656v3M344 661v3M344 669v3M344 677v1M344 693v1M344 700v1M344 702v1M344 708v1M345 608v1M345 628v1M345 640v1M345 648v1M345 654v4M345 684v1M345 696v1M346 626v1M346 634v1M346 638v1M346 641v1M346 655v1M346 668v1M346 692v1M346 698v2M346 703v2M347 643v1M347 652v5M347 658v1M347 660v1M347 664v3M347 668v1M347 672v1M348 610v1M348 630v1M348 634v1M348 645v1M348 664v1M348 668v1M348 672v1M348 687v2M348 697v1M348 704v1M349 611v1M349 620v1M349 625v1M349 627v3M349 632v1M349 646v2M349 651v1M349 676v1M349 690v2M349 699v3M349 706v1M350 611v1M350 636v1M350 643v1M350 645v1M350 662v1M350 677v2M350 687v1M350 693v1M350 695v1M350 703v2M351 640v1M351 642v1M351 654v1M351 656v1M351 669v2M351 677v2M351 680v1M351 684v1M351 689v2M351 699v1M351 701v1M352 608v1M352 611v1M352 642v1M352 660v1M352 682v2M352 694v2M352 699v1M353 617v1M353 652v1M353 676v1M353 680v1M354 606v1M354 608v1M354 612v1M354 674v1M354 683v2M354 691v1M354 696v1M354 701v1M354 708v1M355 621v1M355 648v1M355 680v1M355 685v4M355 693v1M355 703v1M355 705v1M356 618v1M356 633v1M356 639v1M356 641v1M356 673v1M356 678v2M356 686v1M356 688v4M356 701v1M356 710v1M357 618v1M357 633v2M357 637v1M357 682v1M358 609v1M358 614v1M358 687v3M358 692v5M358 699v1M358 701v1M358 706v1M359 610v1M359 614v1M359 622v3M359 627v1M359 636v1M359 672v2M359 697v1M359 701v1M359 707v1M359 711v1M360 608v1M360 631v1M360 640v1M360 672v1M360 688v1M360 706v1M361 631v1M361 636v1M361 645v1M361 680v1M361 696v2M361 709v3M364 624v1M364 630v2M364 634v1M364 644v1M364 650v1M364 653v1M364 677v1M364 682v2M364 717v1M365 651v1M365 666v1M365 688v1M365 701v1M365 703v1M366 629v1M366 637v1M366 670v1M366 673v1M366 686v4M366 713v1M367 645v1M367 652v2M367 669v2M367 673v1M367 690v3M368 642v1M368 649v1M368 655v1M368 675v1M368 680v1M368 683v1M368 711v1M369 620v1M369 629v2M369 637v1M369 645v3M369 653v1M369 655v1M369 665v1M369 670v2M369 688v2M369 714v1M370 638v2M370 641v1M370 646v1M370 670v1M370 682v1M370 684v3M370 710v1M371 625v1M371 636v3M371 653v1M371 658v1M371 681v2M371 686v2M371 704v1M371 710v1M371 713v1M372 620v1M372 622v1M372 624v1M372 634v1M372 653v1M372 656v3M372 673v1M372 689v2M372 724v1M373 625v1M373 688v2M373 708v2M373 723v1M374 639v6M374 702v1M374 704v1M374 706v3M375 616v1M375 628v1M375 631v1M375 643v1M375 676v1M375 680v1M375 683v1M375 685v6M375 694v1M375 704v1M376 612v2M376 639v1M376 642v1M376 646v1M376 650v1M376 677v1M376 684v4M376 693v1M376 698v1M376 708v1M376 710v1M377 679v1M377 681v1M377 686v1M377 690v1M377 704v1M377 716v1M378 620v1M378 622v1M378 626v1M378 630v1M378 640v1M378 653v1M378 689v1M378 695v1M378 704v1M378 721v2M379 630v1M379 640v1M379 648v1M379 654v2M379 686v1M379 695v1M379 708v2M379 712v1M380 620v1M380 630v2M380 643v1M380 700v2M381 618v1M381 621v1M381 626v1M381 632v1M381 656v2M382 615v1M382 632v1M382 639v1M382 702v1M382 705v2M382 709v1M382 713v2M382 722v1M383 608v1M383 631v1M383 634v1M383 648v1M383 653v1M383 700v1M383 705v2M383 711v2M384 622v1M384 630v1M384 648v2M384 708v1M385 609v1M385 611v1M385 623v1M385 627v1M385 635v1M385 642v2M386 628v1M386 635v1M386 639v1M386 643v5M386 662v1M386 697v1M386 701v3M386 707v3M386 715v1M387 604v1M387 613v2M387 631v1M387 645v2M387 668v1M387 694v1M387 702v1M388 607v1M388 609v1M388 641v2M388 672v2M388 709v2M388 712v2M388 716v1M391 610v1M391 615v1M391 645v1M391 689v1M391 691v1M391 700v1M391 710v1M392 611v1M392 614v1M392 622v1M392 650v1M392 698v1M392 722v1M393 614v1M393 622v1M393 640v1M393 659v1M393 665v1M393 669v1M393 697v2M393 714v1M394 617v2M394 621v1M394 627v3M394 639v1M394 656v1M394 689v1M394 693v1M394 695v1M394 700v1M394 716v1M394 719v1M395 613v2M395 619v3M395 643v1M395 654v2M395 665v2M395 671v1M395 688v1M395 699v1M395 718v1M395 722v1M396 610v1M396 615v2M396 621v5M396 635v2M396 643v2M396 651v1M396 654v1M396 659v1M396 665v2M396 683v2M396 689v1M396 694v1M396 703v1M396 706v1M396 710v1M396 715v1M396 722v2M397 620v3M397 630v2M397 635v1M397 637v1M397 641v2M397 650v1M397 653v1M397 693v1M397 724v2M398 606v1M398 608v1M398 619v2M398 622v1M398 651v1M398 653v1M398 657v1M398 693v1M398 697v1M398 724v1M399 629v3M399 669v1M400 630v5M400 637v1M401 610v2M401 614v1M401 620v1M401 624v1M401 632v2M401 695v2M401 706v1M401 711v1M401 719v1M401 722v1M402 618v1M402 644v1M402 655v1M402 657v1M402 662v1M402 664v1M402 666v1M402 668v1M402 707v1M402 709v1M403 614v1M403 619v2M403 628v1M403 633v1M403 637v3M403 648v1M403 650v1M403 655v1M403 662v1M403 664v1M403 725v1M404 652v1M404 656v1M404 666v1M404 668v1M404 712v1M405 634v1M405 659v3M405 666v1M405 675v1M405 686v1M405 711v1M405 713v1M406 643v1M406 661v1M406 663v3M407 611v1M407 624v1M407 627v1M407 643v1M407 664v1M407 676v2M407 684v4M407 693v1M407 702v1M408 613v1M408 624v3M408 654v2M408 669v1M408 677v1M408 686v1M408 690v1M408 698v1M408 719v1M408 723v2M409 611v1M409 616v1M409 628v1M409 630v2M409 641v1M409 658v2M409 666v1M409 676v1M409 683v1M410 615v1M410 617v1M410 636v1M410 639v1M410 644v1M410 682v1M410 689v3M410 710v3M410 722v1M411 631v1M411 642v2M411 649v2M411 661v1M411 709v1M411 723v1M411 726v1M412 633v1M412 639v1M412 642v1M412 645v1M412 647v1M412 650v1M412 663v1M412 667v2M412 676v1M412 697v1M412 699v1M412 704v1M412 706v1M413 610v3M413 617v1M413 652v1M413 678v1M413 683v1M413 685v1M413 690v1M414 613v1M414 648v1M414 653v2M414 662v1M414 667v1M414 697v1M414 707v4M415 628v1M415 632v1M415 646v2M415 649v1M415 656v1M415 658v1M415 667v1M415 672v2M415 688v2M415 697v1M415 715v1M418 621v1M418 668v1M418 678v1M418 682v1M418 703v2M418 706v1M419 619v1M419 630v1M419 653v1M419 656v1M419 680v1M419 684v1M419 699v2M419 705v1M419 712v1M419 715v1M420 699v2M420 702v1M420 705v3M421 616v1M421 618v1M421 631v1M421 634v1M421 667v1M421 679v1M421 688v1M421 698v1M421 700v1M421 704v3M421 714v2M422 624v1M422 633v2M422 640v1M422 690v1M422 696v1M422 699v1M423 623v1M423 634v1M423 642v1M423 662v1M423 666v1M423 705v1M423 715v1M424 620v1M424 636v1M424 664v1M424 686v1M424 689v1M424 719v1M424 727v1M425 623v1M425 640v1M425 647v1M425 667v1M425 683v1M425 689v1M425 691v1M425 695v2M425 700v4M426 620v1M426 627v1M426 629v1M426 643v1M426 650v1M426 655v1M426 659v3M426 698v1M426 702v1M426 708v1M426 710v2M426 722v1M427 622v2M427 663v1M427 665v1M427 668v2M427 671v2M427 679v1M427 692v1M427 700v1M427 707v2M427 713v1M427 719v1M428 618v1M428 621v3M428 633v1M428 658v1M428 665v2M428 679v1M428 689v1M428 720v1M429 625v1M429 633v1M429 645v1M429 652v1M429 654v1M429 658v1M429 664v1M429 666v1M429 668v1M429 676v1M429 679v2M429 693v1M429 695v1M429 702v1M429 718v1M430 614v1M430 618v1M430 621v1M430 640v2M430 652v1M430 654v1M430 668v1M430 670v1M430 673v2M430 693v1M430 704v1M430 708v1M430 711v1M430 718v3M431 641v1M431 651v2M431 657v1M431 672v1M431 677v2M431 682v1M431 689v1M431 709v2M431 721v6M432 639v1M432 666v1M432 672v2M432 679v1M432 698v1M432 703v1M432 714v1M432 721v1M432 723v3M433 615v1M433 627v1M433 634v1M433 648v1M433 657v1M433 662v2M433 666v1M433 668v2M433 685v1M433 688v1M433 696v2M433 699v2M433 716v1M433 726v1M434 616v1M434 632v1M434 640v1M434 648v1M434 665v2M434 669v2M434 690v1M434 709v1M434 719v1M435 620v1M435 631v1M435 654v1M435 662v1M435 664v2M435 671v3M435 676v1M435 680v1M435 686v1M435 702v1M436 627v1M436 629v2M436 634v1M436 640v3M436 666v1M436 669v2M436 688v2M436 695v1M436 706v1M437 616v1M437 627v2M437 649v1M437 677v3M437 682v4M437 692v1M437 701v1M438 613v2M438 616v1M438 620v1M438 623v7M438 647v1M438 672v1M438 676v2M438 679v1M438 688v1M438 698v1M438 726v2M618 606v1M618 611v1M618 623v1M619 602v1M619 629v1M619 638v4M620 616v2M620 622v1M620 624v1M620 635v1M622 613v2M623 608v1M623 612v2M623 616v1M623 618v1M623 624v1M624 609v1M624 618v1M625 599v1M625 601v1M625 603v1M625 613v1M627 627v2M628 601v1M629 601v1M632 606v1M632 616v4M632 654v1M633 628v1M633 643v2M633 665v1M635 602v1M636 605v3M636 611v1M664 614v1M666 638v1M667 609v1M668 609v1M670 638v2M672 608v3M673 607v1M673 610v1M673 613v1M674 601v2M675 617v3M676 604v1M679 615v5M681 607v1M682 605v1M682 613v2M682 643v1M683 613v1M683 638v3M683 643v1M683 647v1M683 650v1M683 654v1M684 653v6M684 661v1M684 663v1M685 655v3M685 660v1M685 662v1M685 666v2M689 616v1M689 624v2M689 647v1M689 649v1M690 618v1M690 621v1M690 625v1M690 654v1M691 607v1M691 610v1M691 654v1M691 663v2M692 616v1M692 622v2M692 626v2M693 632v1M694 615v1M694 617v2M694 637v1M694 642v2M694 650v1M694 652v1M695 620v2M695 625v3M695 639v1M695 651v3M696 615v1M696 617v1M696 623v2M697 615v1M697 618v1M697 621v3M697 628v3M697 640v3M698 616v3M698 622v1M698 632v2M698 636v2M698 640v1"/>
<path stroke="#2525fa" d="M76 655v1M77 655v1M87 633v1M100 627v1M105 641v1M107 649v1M107 659v1M107 664v1M109 646v2M110 645v1M111 647v1M111 651v1M113 658v1M114 629v1M114 654v1M114 658v1M115 632v1M116 631v1M116 651v1M119 660v1M121 628v1M125 627v1M217 615v1M218 621v1M222 629v1M223 630v2M224 624v1M224 637v1M225 631v1M225 633v1M226 634v2M228 608v1M230 614v1M230 621v1M230 624v3M231 616v1M232 610v1M232 613v1M232 618v1M232 622v1M233 618v1M233 629v1M234 606v1M235 619v1M235 622v2M236 604v1M236 626v1M237 615v1M237 619v1M238 627v3M239 632v1M240 606v1M240 627v1M241 606v1M241 620v1M241 627v1M242 608v3M242 627v2M243 613v2M243 621v1M243 634v1M244 618v1M245 615v3M246 625v3M248 630v1M248 632v3M248 637v2M248 643v1M249 617v1M249 630v2M249 634v1M250 619v2M250 630v1M250 632v2M251 619v1M252 626v1M252 631v1M253 628v4M253 639v1M253 643v1M255 627v1M256 622v2M256 638v1M256 643v1M257 607v2M257 637v1M257 646v1M258 625v2M258 629v1M258 637v1M258 639v1M259 625v1M259 636v1M260 621v2M260 625v1M260 628v1M260 633v1M260 636v1M261 637v1M262 615v3M262 619v2M262 622v1M264 640v1M266 635v1M267 642v2M267 645v1M267 649v1M268 645v1M269 636v1M269 643v1M270 635v1M270 637v1M270 647v2M270 650v1M271 637v1M272 638v2M274 618v1M274 630v3M274 634v3M275 629v1M275 633v2M276 621v1M276 624v1M276 628v1M276 632v1M276 635v1M277 627v1M277 630v1M278 622v1M278 625v1M278 636v1M278 641v1M278 644v1M278 646v1M278 652v1M278 654v1M279 636v2M280 635v2M280 645v1M280 650v1M280 654v1M282 646v1M283 648v1M283 656v2M283 659v1M284 632v1M284 663v2M285 662v4M286 647v1M286 651v3M287 640v1M287 650v1M287 656v4M287 669v1M288 628v1M288 639v1M288 642v2M288 652v1M288 657v2M288 662v1M288 664v1M289 648v1M289 659v2M290 633v1M290 647v1M290 649v1M290 659v2M290 667v1M290 671v1M291 642v1M291 650v1M291 655v1M291 658v1M291 661v1M291 667v1M292 633v1M292 635v1M292 648v1M292 651v1M293 632v1M293 634v1M293 637v1M293 643v4M293 648v3M293 654v1M294 630v2M294 633v1M294 639v3M294 643v1M294 649v1M294 653v1M294 672v1M295 632v1M295 634v2M295 637v16M295 658v1M296 634v2M296 637v2M296 644v8M297 646v5M297 653v1M297 666v1M298 648v3M298 656v1M298 660v1M299 649v3M299 664v1M299 671v1M300 652v2M300 655v1M301 653v3M301 660v2M301 668v1M301 671v6M302 653v1M302 659v6M302 666v2M302 684v1M303 658v1M303 660v1M303 663v3M303 668v1M303 675v1M304 663v4M304 669v2M304 678v1M305 664v2M305 675v1M305 680v1M306 674v2M307 685v1M307 687v1M307 692v1M313 690v1M314 689v1M315 686v1M316 673v2M317 689v1M317 697v1M318 679v1M318 687v1M318 692v1M319 683v5M320 683v1M320 689v2M320 694v1M321 683v1M321 685v1M321 701v1M322 690v4M323 686v2M323 696v1M323 698v1M323 700v1M323 703v1M324 622v2M324 685v3M324 693v1M324 701v1M325 622v3M325 629v1M325 680v1M326 615v1M326 618v2M326 627v1M326 676v1M326 692v1M326 698v1M327 616v3M327 623v5M327 629v1M327 683v3M327 688v1M327 693v1M328 621v3M328 626v4M328 633v1M328 685v1M328 693v6M328 703v1M329 616v8M329 633v3M329 672v1M329 675v2M329 681v1M329 698v2M330 612v1M330 617v5M330 626v1M330 677v1M330 685v1M330 692v1M330 697v1M330 702v1M331 613v1M331 615v2M331 626v1M331 639v3M331 677v1M331 687v1M331 702v2M332 623v3M332 672v2M332 676v2M332 680v1M332 695v1M332 699v1M333 613v1M333 632v1M333 673v1M333 678v1M333 691v1M333 707v1M334 605v1M334 617v1M334 625v1M334 644v1M334 670v3M334 678v1M334 684v1M337 611v1M337 613v1M337 625v2M337 648v1M337 657v1M337 662v1M337 682v5M337 697v2M337 710v1M338 604v1M338 624v1M338 628v1M338 637v1M338 647v1M338 660v1M338 662v1M338 685v2M338 700v3M339 612v1M339 623v2M339 629v1M339 640v1M339 660v1M339 663v1M339 677v1M339 681v1M339 690v1M340 612v1M340 622v1M340 627v4M340 642v1M340 677v1M340 680v1M340 687v4M341 606v2M341 612v1M341 617v1M341 626v4M341 636v1M341 651v1M341 656v1M341 662v1M342 611v2M342 615v1M342 619v1M342 631v1M342 638v2M342 671v2M342 679v1M342 695v1M343 610v1M343 618v2M343 623v1M343 646v3M343 658v2M343 668v1M343 677v1M343 693v2M343 699v1M343 702v1M344 680v2M344 684v1M344 696v1M344 703v5M345 624v1M345 627v1M345 629v2M345 639v1M345 644v4M345 658v1M345 662v1M345 668v4M345 679v1M345 685v1M345 698v1M345 702v3M345 708v1M346 635v3M346 639v2M346 645v3M346 656v2M346 660v2M346 664v1M346 669v4M346 680v1M346 684v3M346 695v3M346 702v1M346 706v1M347 630v1M347 646v1M347 657v1M347 661v1M347 663v1M347 673v1M347 680v1M347 685v1M347 693v1M348 604v1M348 628v2M348 636v2M348 646v1M348 649v3M348 657v4M348 667v1M348 686v1M348 689v1M348 694v2M348 701v1M348 703v1M348 706v1M349 606v1M349 618v1M349 624v1M349 630v1M349 636v1M349 652v1M349 654v2M349 666v2M349 689v1M349 695v4M349 702v1M349 705v1M349 712v1M350 608v1M350 613v3M350 621v1M350 624v1M350 637v1M350 649v1M350 660v2M350 663v1M350 676v1M350 691v2M350 696v1M350 700v1M350 705v1M350 714v1M351 617v2M351 627v1M351 633v1M351 641v1M351 646v1M351 679v1M351 685v1M352 612v2M352 626v1M352 632v1M352 634v1M352 663v1M352 667v2M352 677v1M352 684v1M352 690v1M352 700v2M353 609v3M353 629v1M353 632v1M353 642v2M353 647v1M353 669v1M353 677v1M353 679v1M353 684v1M353 694v1M354 622v3M354 626v1M354 629v1M354 631v1M354 650v2M354 675v1M354 685v4M354 690v1M354 693v1M354 695v1M354 697v1M355 606v1M355 612v3M355 626v3M355 641v1M355 645v1M355 675v1M355 682v3M355 689v4M355 698v5M356 611v2M356 619v12M356 638v1M356 642v1M356 675v1M356 685v1M356 692v4M356 699v2M356 702v1M357 624v2M357 629v4M357 635v1M357 640v1M357 699v1M357 711v1M358 628v1M358 630v1M358 644v1M358 677v2M358 683v1M358 686v1M358 690v2M358 697v2M358 700v1M359 674v1M359 677v2M360 632v2M360 637v1M360 645v2M360 673v1M360 696v5M360 704v1M360 709v1M361 612v1M361 625v1M361 630v1M361 670v6M361 690v1M361 693v1M361 698v1M361 701v2M361 708v1M364 643v1M364 666v2M364 675v2M364 704v1M365 634v1M365 679v1M365 682v1M365 689v1M365 702v1M366 650v2M366 667v3M366 676v1M366 685v1M366 704v1M366 708v1M366 712v1M367 634v1M367 648v1M367 668v1M367 674v1M367 679v1M367 704v1M368 615v2M368 622v1M368 638v1M368 641v1M368 648v1M368 658v1M368 673v2M368 676v1M368 679v1M368 712v2M369 631v1M369 636v1M369 654v1M369 656v1M369 676v1M369 681v4M369 687v1M369 716v1M370 634v1M370 636v1M370 645v1M370 651v1M370 657v3M370 687v1M370 702v1M370 711v1M371 624v1M371 629v1M371 647v1M371 654v4M371 659v1M371 675v1M371 677v1M371 683v1M371 685v1M371 718v2M372 623v1M372 627v1M372 638v2M372 652v1M372 659v3M372 672v1M372 674v3M372 684v1M372 688v1M372 707v1M372 713v1M372 725v1M373 623v2M373 626v1M373 631v1M373 647v2M373 685v3M373 690v1M373 724v1M374 645v1M374 647v1M374 682v1M374 685v6M374 695v1M374 701v1M374 705v1M374 709v1M375 620v1M375 640v3M375 677v3M375 684v1M375 700v1M375 713v1M376 627v2M376 640v2M376 652v1M376 656v2M376 702v3M377 612v1M377 621v1M377 626v5M377 634v2M377 638v3M377 650v2M377 685v1M377 687v1M377 705v2M377 709v2M377 713v3M378 617v1M378 633v4M378 642v1M378 652v1M378 654v1M378 692v1M378 696v3M378 702v2M378 705v1M378 713v1M378 716v1M378 718v1M379 608v1M379 618v1M379 628v1M379 631v7M379 690v1M379 704v1M379 710v1M379 715v4M379 722v1M379 726v2M380 611v1M380 619v1M380 622v1M380 629v1M380 636v6M380 644v1M380 648v1M380 714v1M380 716v1M380 723v1M381 606v2M381 612v1M381 615v3M381 619v1M381 633v4M381 639v2M381 706v1M381 720v1M381 722v1M382 620v1M382 633v1M382 640v3M382 651v1M382 699v1M382 707v2M382 715v1M382 723v1M383 630v1M383 633v1M383 642v4M383 649v2M383 652v1M383 658v1M383 699v1M383 701v1M383 704v1M383 710v1M384 605v1M384 626v1M384 636v1M384 639v2M384 654v1M384 659v4M384 667v1M384 707v1M384 709v1M385 601v1M385 612v1M385 644v5M385 695v1M385 698v2M385 720v2M386 642v1M386 648v2M386 659v1M386 700v1M386 710v1M386 714v1M386 716v1M387 610v1M387 640v1M387 647v1M387 657v1M387 670v1M387 695v1M387 698v1M387 705v1M387 708v1M387 711v1M388 606v1M388 608v1M388 640v1M388 663v1M388 671v1M388 702v1M388 705v1M391 601v4M391 613v1M391 642v1M391 703v1M391 709v1M391 711v1M391 719v1M392 617v5M392 629v2M392 641v1M392 649v1M392 703v1M392 718v1M392 723v1M393 618v4M393 623v1M393 633v2M393 648v1M393 653v1M393 660v1M393 664v1M393 713v1M393 718v2M393 722v1M394 606v1M394 608v1M394 622v3M394 633v1M394 635v1M394 641v3M394 650v3M394 688v1M394 694v1M394 696v1M394 699v1M394 702v1M394 720v4M395 604v1M395 622v3M395 628v1M395 644v1M395 656v1M395 669v1M395 672v1M395 683v2M395 689v1M395 694v2M395 698v1M395 703v2M395 714v1M395 720v2M396 605v1M396 611v2M396 626v1M396 661v1M396 664v1M396 672v2M396 700v3M396 709v1M396 714v1M396 716v1M396 720v2M397 643v1M397 665v2M397 669v1M397 708v1M397 722v2M398 612v7M398 621v1M398 630v2M398 634v1M398 637v1M398 642v1M398 645v1M398 650v1M398 652v1M398 658v1M398 698v1M398 702v1M398 714v1M398 720v1M399 616v1M399 627v2M399 632v1M399 642v1M399 653v2M399 665v2M399 693v1M399 710v1M399 725v1M400 619v1M400 635v2M400 642v2M400 723v2M401 630v2M401 639v1M401 697v2M401 708v1M401 714v1M401 718v1M401 723v1M402 610v1M402 620v1M402 622v1M402 632v3M402 640v1M402 647v1M402 650v2M402 659v1M402 665v1M402 710v1M403 613v1M403 621v1M403 625v1M403 647v1M403 652v3M403 660v1M403 666v2M403 708v1M403 711v1M404 629v1M404 634v1M404 653v3M404 661v1M404 673v1M404 678v1M404 711v1M404 713v1M405 625v1M405 644v1M405 656v3M405 662v1M405 678v1M405 685v1M405 687v1M405 710v1M405 712v1M405 720v1M406 622v3M406 628v1M406 644v2M406 653v1M406 666v1M406 671v1M406 711v6M407 610v1M407 613v1M407 622v2M407 625v2M407 652v1M407 657v1M407 665v2M407 668v2M407 675v1M407 692v1M407 698v1M407 709v9M408 610v1M408 627v3M408 632v1M408 642v1M408 645v2M408 651v1M408 656v2M408 660v1M408 670v1M408 675v1M408 678v1M408 681v2M408 684v2M408 697v1M408 704v14M408 725v1M409 625v3M409 643v1M409 646v1M409 651v2M409 657v1M409 660v1M409 675v1M409 682v1M409 699v1M409 702v1M409 704v13M410 609v1M410 633v1M410 635v1M410 641v1M410 650v5M410 692v2M410 705v5M410 715v2M410 723v1M411 644v1M411 652v3M411 662v1M411 675v1M411 678v2M411 685v2M411 705v4M411 713v5M411 722v1M411 724v1M412 616v1M412 646v1M412 652v1M412 656v2M412 681v1M412 689v3M412 700v2M412 709v7M413 614v1M413 625v1M413 630v1M413 653v1M413 689v1M413 701v3M413 710v1M413 716v1M414 611v1M414 647v1M414 649v1M414 657v2M414 686v2M414 700v1M414 711v1M415 624v1M415 626v2M415 645v1M415 652v1M415 655v1M415 659v1M415 668v1M415 671v1M415 693v4M415 698v1M415 704v1M418 637v1M418 681v1M418 683v1M418 694v2M418 702v1M418 715v1M419 620v1M419 624v1M419 631v1M419 663v1M419 673v1M419 707v1M420 617v1M420 620v1M420 624v1M420 645v1M420 653v2M420 668v2M420 681v1M420 684v1M420 698v1M420 701v1M421 615v1M421 619v1M421 632v2M421 638v1M421 655v1M421 657v1M421 666v1M421 673v2M421 680v1M421 687v1M421 701v2M421 707v2M421 713v1M422 635v1M422 641v1M422 645v2M422 650v1M422 655v2M422 673v1M422 680v1M422 692v1M422 695v1M423 626v1M423 635v1M423 643v3M423 670v1M423 693v1M423 696v1M423 699v2M423 707v3M424 640v1M424 666v1M424 685v1M424 716v1M425 616v3M425 626v1M425 631v3M425 649v1M425 652v1M425 666v1M425 674v2M425 682v1M425 688v1M425 694v1M425 697v3M425 704v1M426 626v1M426 630v1M426 636v3M426 648v2M426 651v2M426 662v1M426 701v1M426 703v1M426 712v1M426 717v2M426 721v1M427 636v1M427 638v5M427 646v1M427 654v1M427 656v1M427 666v2M427 670v1M427 691v1M427 698v2M427 720v2M428 613v2M428 617v1M428 619v2M428 624v1M428 639v1M428 646v1M428 648v1M428 654v3M428 659v1M428 664v1M428 680v1M428 695v3M428 701v1M428 715v1M428 721v4M429 613v3M429 617v1M429 627v1M429 638v1M429 655v1M429 657v1M429 659v1M429 661v1M429 665v1M429 678v1M429 701v1M429 712v1M429 717v1M429 719v2M430 620v1M430 622v1M430 630v2M430 643v1M430 645v1M430 653v1M430 655v1M430 658v4M430 671v1M430 681v1M430 691v2M430 695v1M430 698v3M430 712v1M430 717v1M431 621v3M431 626v1M431 650v1M431 653v1M431 667v1M431 674v1M431 676v1M431 683v1M431 687v1M431 698v4M431 730v1M432 614v2M432 671v1M432 674v1M432 676v1M432 681v2M432 696v2M432 704v1M432 719v2M432 730v1M433 613v2M433 621v1M433 628v1M433 638v1M433 660v2M433 667v1M433 670v1M433 674v5M433 684v1M433 692v1M433 698v1M433 702v7M433 713v1M433 722v1M433 727v2M434 627v1M434 631v1M434 637v3M434 642v1M434 647v1M434 650v1M434 667v1M434 671v2M434 674v7M434 691v1M434 705v3M434 715v2M434 725v2M434 729v1M435 615v1M435 617v1M435 632v2M435 636v4M435 648v1M435 666v1M435 670v1M435 674v2M435 681v1M435 685v1M435 690v2M435 697v1M435 707v1M435 709v1M436 615v2M436 622v2M436 626v1M436 631v1M436 633v1M436 643v2M436 646v2M436 656v1M436 659v1M436 662v1M436 674v1M436 676v9M436 693v2M436 699v1M436 702v1M436 705v1M436 707v1M437 632v1M437 639v3M437 646v1M437 658v1M437 671v1M437 680v2M437 686v1M437 689v3M437 696v1M437 699v1M437 704v1M437 714v1M438 611v1M438 632v4M438 638v4M438 648v2M438 678v1M438 680v1M438 685v3M438 699v7M438 708v2M618 607v2M618 610v1M618 612v1M618 624v1M618 627v1M618 633v2M619 600v1M619 610v3M619 637v1M620 615v1M620 618v1M620 620v2M620 625v1M620 636v1M621 607v5M621 615v2M621 632v1M622 635v2M623 609v3M623 614v2M623 619v2M623 622v2M623 625v1M624 610v3M624 617v1M624 619v1M625 600v1M625 612v1M625 615v1M627 629v1M628 628v4M628 648v1M629 602v1M629 640v2M630 611v2M630 615v1M630 617v2M630 641v1M630 653v2M632 607v1M632 620v1M632 622v1M632 653v1M632 655v1M633 629v5M633 660v1M633 664v1M634 605v1M634 608v1M635 603v1M635 612v2M635 675v2M636 604v1M636 612v1M637 603v1M637 618v2M637 622v1M663 626v2M664 613v1M664 615v1M664 629v1M665 633v2M666 639v1M666 642v4M667 620v1M668 610v1M670 635v1M670 637v1M672 606v1M673 608v2M673 614v1M674 624v1M674 672v1M675 620v3M676 606v1M677 605v1M677 609v6M677 622v1M678 617v1M679 620v1M679 638v2M680 649v2M680 653v2M681 603v1M681 606v1M681 608v1M682 606v2M682 609v4M682 615v1M682 632v2M682 636v3M682 640v1M683 610v1M683 614v2M683 621v4M683 637v1M683 644v1M683 646v1M683 651v1M683 665v1M684 612v3M684 622v1M684 650v1M684 659v2M685 661v1M685 665v1M685 668v1M685 671v3M686 626v1M689 609v1M689 613v1M689 628v2M689 652v2M690 614v1M690 619v2M690 629v1M690 639v2M690 653v1M690 655v2M690 663v2M691 611v6M691 619v1M691 628v2M691 665v1M692 615v1M692 619v1M692 621v1M692 624v2M692 628v1M692 658v7M693 621v2M693 627v2M693 635v1M693 638v1M693 663v2M693 666v1M694 610v1M694 619v1M694 628v2M694 646v1M694 649v1M694 653v2M695 622v1M695 628v1M695 638v1M695 640v1M695 646v5M696 625v1M696 629v5M697 610v5M697 627v1M697 632v1M697 639v1M698 607v2M698 619v3M698 623v1M698 627v2M698 634v2M698 638v1M698 645v1M699 626v1M699 631v3"/>
<path stroke="#1515fc" d="M72 658v1M73 656v1M77 657v1M86 631v1M87 634v1M105 658v1M106 657v2M106 661v1M107 663v1M108 649v1M112 648v1M113 632v1M113 653v1M114 631v1M117 630v1M123 627v1M214 612v3M214 616v1M215 614v2M215 622v3M216 623v5M217 616v4M218 625v1M224 636v1M225 632v1M226 631v3M229 604v1M229 610v1M229 612v3M231 608v1M231 620v1M232 606v1M232 617v1M232 623v1M233 607v1M233 619v4M234 619v6M234 628v1M235 615v1M235 617v2M235 628v6M236 615v1M236 619v5M236 625v1M236 629v3M237 606v1M237 622v2M238 617v1M238 630v2M239 604v1M239 620v1M240 607v1M240 629v1M240 634v1M240 636v2M241 602v4M241 617v2M241 631v2M242 635v2M243 602v7M243 622v2M243 632v2M244 608v2M244 632v1M245 612v3M246 637v1M247 617v4M247 636v4M248 616v2M248 619v1M248 622v2M248 636v1M248 639v4M249 639v2M250 614v3M250 628v1M250 631v1M250 642v2M251 616v3M251 620v1M251 629v1M251 632v3M252 643v2M253 632v1M253 640v1M253 642v1M255 623v2M255 628v4M256 624v11M256 644v1M257 625v3M257 635v1M258 605v3M258 627v1M258 630v7M259 624v1M259 626v2M259 631v3M259 640v1M260 623v2M261 629v2M262 618v1M262 621v1M262 623v1M263 634v3M264 641v2M265 642v1M266 632v1M266 636v7M266 647v1M267 644v1M267 647v1M267 651v1M268 632v1M268 642v3M268 647v1M269 635v1M269 637v1M269 640v1M269 644v3M269 651v1M270 638v1M270 641v1M270 649v1M271 642v1M272 640v2M274 616v2M275 628v1M275 649v1M276 619v1M276 631v1M276 636v6M277 615v3M277 633v2M277 636v1M277 642v3M277 648v1M277 653v1M278 620v1M278 635v1M278 639v2M278 645v1M278 653v1M279 619v1M279 625v1M279 633v1M280 631v1M280 637v1M280 641v1M280 651v3M283 646v2M284 629v1M284 633v2M284 640v1M284 643v1M285 637v1M285 643v1M286 632v2M286 643v2M286 670v1M287 643v1M287 649v1M287 651v5M287 668v1M288 631v1M288 646v1M288 663v1M288 667v1M289 649v1M289 655v4M290 628v3M290 648v1M290 651v1M290 654v5M290 661v4M290 666v1M291 629v3M291 647v2M291 656v2M291 662v4M292 634v1M292 638v1M292 640v6M292 649v2M292 652v1M292 656v13M293 633v1M293 638v5M293 661v3M293 666v2M294 632v1M294 661v1M294 673v1M295 636v1M295 653v3M296 658v1M297 651v2M297 657v1M298 651v5M298 661v1M298 668v1M299 652v8M299 663v1M299 665v1M299 668v1M300 656v6M300 663v2M300 666v1M300 675v1M301 656v2M301 662v3M301 667v1M301 669v2M301 677v4M302 656v3M302 665v1M302 668v1M302 672v1M302 675v4M303 659v1M303 669v3M303 676v5M304 676v2M305 676v1M305 679v1M306 677v1M306 682v1M306 684v1M307 686v1M313 686v4M314 680v1M314 690v1M314 692v1M315 684v1M317 679v3M317 683v2M317 687v2M317 696v1M317 698v1M318 680v4M318 688v1M318 690v2M319 682v1M319 696v4M320 682v1M320 700v1M322 685v1M322 701v1M322 703v2M323 682v1M323 685v1M323 689v2M323 697v1M324 688v2M324 692v1M324 702v1M325 616v1M325 627v2M325 684v1M325 691v3M325 701v3M326 616v2M326 628v1M326 675v1M326 679v1M326 687v1M326 697v1M327 630v2M327 633v3M327 679v2M327 689v1M327 692v1M327 694v1M327 696v9M328 634v2M328 678v3M328 692v1M328 704v4M329 606v1M329 609v1M329 612v4M329 677v2M329 682v2M329 687v2M329 697v1M329 700v2M330 611v1M330 616v1M330 622v4M330 686v1M330 703v4M331 629v1M331 631v1M331 642v1M331 673v3M331 685v2M331 691v1M331 704v1M332 606v1M332 614v1M332 618v1M332 626v2M332 632v2M332 640v4M332 688v1M332 690v1M332 700v1M332 705v1M333 616v1M333 633v1M333 636v8M333 674v4M333 683v1M333 696v1M333 706v1M334 618v2M334 632v1M334 669v1M334 676v2M334 693v1M334 706v1M337 614v1M337 617v5M337 634v1M337 678v4M337 705v1M337 707v3M338 614v1M338 617v7M338 630v2M338 635v1M338 641v1M338 657v1M338 676v5M338 696v3M338 709v2M339 606v3M339 616v1M339 622v1M339 650v1M339 653v1M339 675v1M339 679v2M339 698v1M339 709v1M340 613v1M340 619v3M340 649v1M340 658v3M340 663v1M340 672v1M340 681v1M340 699v3M341 622v4M341 648v1M341 668v1M341 685v12M341 700v2M342 616v3M342 623v1M342 625v1M342 645v1M342 650v1M342 655v1M342 660v1M342 664v1M342 673v1M342 681v1M342 685v1M342 688v1M342 696v2M342 702v3M343 614v4M343 620v3M343 628v4M343 637v2M343 649v3M343 654v1M343 671v6M343 679v1M343 686v1M343 691v2M343 695v4M343 703v2M344 609v1M344 621v4M344 672v1M344 682v1M344 688v1M344 692v1M344 697v3M345 615v1M345 625v2M345 635v4M345 672v2M345 693v1M345 697v1M345 699v3M345 705v3M346 609v1M346 613v5M346 625v1M346 658v2M346 662v2M346 673v2M346 681v3M346 693v2M346 700v2M346 707v3M347 625v1M347 638v3M347 642v1M347 644v2M347 662v1M347 674v2M347 694v8M348 612v1M348 618v3M348 635v1M348 638v3M348 644v1M348 647v2M348 661v2M348 676v1M348 685v1M348 690v4M348 696v1M348 702v1M349 607v4M349 613v3M349 631v1M349 637v1M349 653v1M349 659v6M349 672v4M349 688v1M349 703v2M350 612v1M350 616v3M350 620v1M350 628v1M350 631v1M350 638v4M350 650v10M350 672v4M350 697v3M350 706v1M351 619v1M351 628v5M351 647v1M351 652v2M351 657v2M351 668v1M351 671v1M351 675v2M351 697v2M351 702v1M352 627v5M352 633v1M352 654v6M352 666v1M352 676v1M352 688v2M352 702v1M352 710v1M353 608v1M353 627v2M353 633v3M353 641v1M353 665v1M353 668v1M353 670v1M353 675v1M353 678v1M353 685v9M353 703v1M354 609v3M354 625v1M354 630v1M354 647v3M354 652v1M354 678v1M354 689v1M354 694v1M354 700v1M355 607v1M355 629v5M355 642v3M355 649v1M355 671v4M355 681v1M355 694v3M355 706v1M355 713v1M356 613v3M356 631v2M356 635v1M356 643v1M356 676v2M356 680v1M356 682v3M356 696v3M356 703v1M356 709v1M356 711v1M357 626v3M357 636v1M357 677v1M357 681v1M357 683v1M357 685v1M357 700v2M357 704v1M357 706v3M358 619v1M358 626v2M358 631v5M358 638v1M358 643v1M358 673v3M358 679v1M358 684v2M358 707v5M359 615v2M359 620v2M359 628v3M359 632v2M359 675v2M359 689v3M359 702v3M359 708v3M360 618v1M360 638v2M360 674v4M360 680v3M360 691v5M360 701v3M360 707v2M361 639v1M361 676v4M361 691v2M361 699v2M361 703v5M364 635v1M364 687v2M364 697v2M364 701v3M364 718v1M365 650v1M365 654v1M365 665v1M365 680v2M365 690v2M365 696v1M366 640v1M366 652v2M366 665v2M366 674v2M366 677v6M366 684v1M366 714v1M367 625v6M367 651v1M367 654v1M367 660v1M367 675v4M367 683v1M367 689v1M367 693v1M367 703v1M367 711v2M368 614v1M368 617v2M368 643v1M368 656v2M368 669v4M368 677v2M368 704v2M368 710v1M369 626v3M369 632v4M369 641v1M369 644v1M369 657v2M369 661v2M369 664v1M369 677v4M369 685v2M369 713v1M370 619v3M370 624v1M370 627v2M370 635v1M370 652v2M370 660v4M370 669v1M370 677v5M370 688v2M370 695v2M370 703v1M370 709v1M370 715v1M370 721v1M371 616v8M371 628v1M371 645v2M371 660v3M371 664v1M371 672v3M371 678v3M371 684v1M371 688v1M371 717v1M371 720v4M372 618v2M372 629v1M372 635v1M372 637v1M372 640v1M372 647v1M372 649v3M372 677v1M372 679v5M372 685v3M372 691v1M372 708v1M372 712v1M372 722v2M373 627v1M373 630v1M373 632v5M373 649v1M373 652v2M373 673v3M373 681v4M373 691v1M373 696v1M373 707v1M373 710v1M374 620v9M374 632v7M374 652v3M374 672v7M374 681v1M374 691v4M374 696v1M374 710v1M375 622v6M375 632v2M375 644v1M375 655v1M375 695v4M375 701v1M375 712v1M376 623v2M376 629v6M376 654v2M376 682v2M376 699v3M376 705v3M376 711v6M376 728v1M377 610v2M377 617v1M377 620v1M377 622v1M377 624v1M377 636v2M377 645v4M377 652v6M377 682v3M377 688v2M377 707v2M377 711v2M378 609v3M378 618v1M378 625v1M378 641v1M378 643v7M378 655v2M378 683v6M378 690v2M378 699v3M378 706v3M378 714v2M378 717v1M378 719v2M379 606v1M379 625v1M379 627v1M379 641v7M379 692v2M379 696v8M379 705v3M379 711v1M379 719v3M379 723v1M380 607v1M380 612v1M380 616v3M380 642v1M380 645v3M380 696v1M380 704v3M380 709v1M380 712v2M380 715v1M380 717v1M380 722v1M381 610v1M381 620v1M381 641v7M381 651v3M381 661v1M381 709v1M381 713v1M381 721v1M382 619v1M382 654v2M382 661v1M382 703v2M382 720v2M382 724v1M383 614v2M383 620v1M383 651v1M383 707v1M383 713v2M384 604v1M384 629v1M384 631v1M384 637v2M384 650v1M384 655v1M384 658v1M384 698v4M384 716v1M384 725v1M385 602v4M385 608v1M385 636v2M385 639v3M385 649v1M385 651v2M385 696v2M385 700v5M385 726v1M386 609v1M386 629v3M386 633v2M386 640v1M386 650v1M386 663v1M386 667v1M386 698v2M386 704v3M386 711v1M387 623v1M387 632v4M387 639v1M387 642v3M387 658v1M387 671v1M387 696v2M387 703v2M387 706v2M388 616v1M388 626v1M388 636v4M388 643v6M388 653v1M388 659v2M388 662v1M388 664v1M388 670v1M388 703v1M391 605v1M391 608v1M391 614v1M391 632v1M391 640v2M391 664v1M391 666v1M391 682v2M391 685v1M391 695v1M391 699v1M391 714v3M391 720v2M392 598v3M392 612v2M392 636v5M392 642v1M392 651v1M392 670v2M392 691v1M392 704v3M392 709v2M392 714v4M392 719v1M392 724v1M393 624v1M393 639v1M393 644v1M393 649v1M393 670v1M393 694v1M393 710v3M393 717v1M394 607v1M394 625v1M394 634v1M394 636v1M394 644v1M394 649v1M394 665v2M394 670v2M394 697v2M395 602v2M395 625v3M395 633v1M395 642v1M395 645v4M395 653v1M395 657v3M395 664v1M395 667v1M395 673v1M395 687v1M395 696v2M395 705v1M396 627v2M396 637v1M396 642v1M396 647v4M396 658v1M396 662v1M396 685v1M396 687v1M396 693v1M396 696v4M396 707v2M396 711v1M396 717v3M397 649v1M397 664v1M397 692v1M397 698v4M397 705v3M397 712v1M397 715v1M398 609v3M398 638v1M398 669v2M398 692v1M398 699v3M398 703v4M398 711v1M398 713v1M399 612v4M399 633v3M399 652v1M399 655v1M399 667v2M399 696v2M399 705v3M399 709v1M399 722v3M400 618v1M400 620v3M400 638v1M400 641v1M400 644v5M400 650v2M400 701v1M400 704v1M400 709v1M400 712v11M401 619v1M401 625v2M401 629v1M401 645v2M401 654v2M401 665v2M401 699v1M401 715v3M402 619v1M402 629v3M402 641v1M402 643v1M402 648v2M402 656v1M402 661v1M402 706v1M402 711v2M403 630v3M403 644v1M403 651v1M403 661v1M403 665v1M403 668v1M403 674v1M403 703v1M403 716v2M404 630v4M404 651v1M404 662v3M404 669v4M404 674v1M404 677v1M404 708v3M404 714v2M405 616v1M405 628v6M405 645v2M405 667v3M405 677v1M405 716v1M405 721v1M406 625v3M406 646v3M406 667v2M406 672v4M406 678v2M406 685v1M406 688v1M406 691v1M406 717v2M407 667v1M407 670v5M407 678v4M407 683v1M407 699v3M407 718v1M408 612v1M408 633v9M408 643v2M408 652v2M408 659v1M408 664v5M408 672v3M408 679v2M408 683v1M408 691v1M408 695v2M408 718v1M409 617v2M409 632v9M409 645v1M409 653v3M409 677v1M409 679v3M409 703v1M409 717v4M409 722v2M409 725v1M410 610v3M410 627v1M410 634v1M410 640v1M410 655v1M410 661v1M410 679v3M410 694v2M410 702v3M410 717v1M410 724v2M411 619v1M411 648v1M411 651v1M411 655v1M411 663v1M411 676v2M411 680v5M411 702v3M411 718v4M412 614v1M412 634v2M412 651v1M412 666v1M412 669v1M412 675v1M412 682v7M412 702v2M412 707v2M412 719v3M413 613v1M413 618v1M413 626v1M413 632v1M413 637v1M413 641v1M413 644v4M413 680v3M413 686v3M413 704v6M413 711v5M413 717v7M414 612v1M414 619v3M414 630v1M414 645v2M414 650v3M414 655v2M414 659v1M414 668v4M414 674v3M414 684v2M414 701v4M414 712v1M414 716v1M415 648v1M415 653v2M415 665v2M415 669v2M415 674v5M415 681v2M415 685v3M415 690v1M415 692v1M415 699v5M415 707v4M415 714v1M418 632v1M418 634v1M418 642v1M418 655v4M418 679v2M418 684v1M418 691v1M418 696v1M418 701v1M419 621v2M419 638v1M419 657v5M419 664v1M419 669v1M419 676v4M419 694v1M419 704v1M419 711v1M419 726v1M420 627v6M420 655v7M420 679v2M420 708v1M421 620v1M421 659v6M421 668v1M421 672v1M421 675v3M421 686v1M421 691v1M421 709v1M421 712v1M421 721v2M422 622v2M422 625v2M422 636v1M422 647v1M422 651v1M422 654v1M422 662v2M422 665v1M422 670v1M422 678v1M422 681v1M422 689v1M422 693v2M422 700v2M422 712v3M423 621v2M423 627v3M423 638v1M423 656v1M423 667v1M423 685v3M423 690v3M423 694v2M423 701v1M423 704v1M423 716v2M424 646v1M424 658v1M424 667v2M424 684v1M424 690v9M424 703v2M424 710v2M425 624v2M425 641v1M425 643v1M425 648v1M425 653v1M425 665v1M425 673v1M425 676v1M425 685v3M425 692v2M425 705v1M425 716v3M426 621v3M426 625v1M426 631v5M426 639v3M426 653v1M426 668v1M426 691v3M426 699v2M426 713v1M426 716v1M426 719v2M427 624v1M427 632v4M427 655v1M427 659v3M427 678v1M427 682v1M427 693v5M428 615v2M428 625v1M428 630v1M428 636v3M428 647v1M428 649v1M428 652v2M428 660v4M428 667v2M428 681v1M428 687v1M428 693v2M428 698v3M428 725v1M429 612v1M429 616v1M429 626v1M429 634v1M429 646v6M429 656v1M429 660v1M429 669v2M429 677v1M429 696v5M429 703v1M429 708v1M429 716v1M430 619v1M430 623v1M430 644v1M430 657v1M430 662v6M430 672v1M430 675v1M430 680v1M430 683v2M430 686v3M430 696v2M430 715v2M431 624v1M431 627v1M431 629v1M431 642v8M431 658v1M431 666v1M431 668v4M431 675v1M431 684v3M431 694v4M431 702v4M431 708v1M431 716v2M432 624v1M432 626v2M432 633v1M432 640v1M432 645v2M432 658v8M432 675v1M432 680v1M432 683v6M432 691v1M432 695v1M432 705v4M432 715v4M432 731v2M433 612v1M433 619v2M433 629v2M433 633v1M433 639v3M433 644v1M433 656v1M433 671v3M433 679v5M433 701v1M433 709v4M433 718v1M434 611v1M434 628v1M434 630v1M434 643v2M434 659v1M434 664v1M434 668v1M434 673v1M434 692v2M434 698v1M434 700v5M434 708v1M434 717v2M434 727v2M435 616v1M435 621v8M435 634v2M435 644v2M435 647v1M435 649v1M435 655v1M435 661v1M435 667v1M435 669v1M435 682v3M435 694v1M435 698v4M435 708v1M435 710v1M435 713v1M436 632v1M436 645v1M436 650v1M436 655v1M436 675v1M436 696v1M436 709v1M436 712v2M436 720v1M437 633v6M437 647v2M437 653v1M437 657v1M437 659v1M437 663v8M437 687v2M437 697v2M437 702v2M437 717v1M437 725v1M438 610v1M438 619v1M438 636v2M438 654v1M438 664v3M438 673v3M438 681v4M438 706v2M438 728v1M618 609v1M618 613v1M618 625v2M618 628v1M618 632v1M619 613v2M619 630v1M619 642v1M620 604v2M620 619v1M620 637v1M621 606v1M621 612v2M621 617v1M621 631v1M621 633v1M621 664v1M622 637v1M623 621v1M624 613v1M624 616v1M624 633v2M625 611v1M625 616v3M625 705v2M626 617v2M627 622v1M627 626v1M627 630v1M627 649v2M628 602v1M628 618v1M628 627v1M628 632v1M628 649v1M629 635v5M629 642v1M629 651v3M630 610v1M630 616v1M630 619v1M630 640v1M630 642v1M630 652v1M630 655v1M631 623v3M631 641v2M632 621v1M632 626v1M632 652v1M633 618v2M633 623v3M633 634v1M633 641v2M633 645v1M633 659v1M633 661v3M633 666v1M634 607v1M634 609v1M634 669v2M634 673v2M635 607v2M635 677v1M635 679v2M636 656v1M636 691v2M637 607v3M637 617v1M637 620v2M637 623v3M637 669v2M662 615v1M662 621v2M662 625v3M662 629v4M662 650v3M663 625v1M663 628v1M663 634v3M663 650v2M663 655v2M664 609v4M664 616v1M664 630v1M664 635v1M665 610v7M665 632v1M665 635v4M666 615v1M666 637v1M666 640v2M667 610v1M667 614v1M667 619v1M667 621v4M667 648v1M668 611v1M668 621v2M668 653v1M668 663v1M669 628v3M670 636v1M670 640v1M671 607v3M671 618v2M672 607v1M672 611v1M673 615v1M673 625v1M673 627v1M674 614v1M674 625v2M674 631v4M674 637v1M674 671v1M674 673v1M675 623v1M675 635v5M676 607v5M676 618v2M677 621v1M677 623v1M678 610v7M678 618v4M679 621v2M679 640v1M679 645v1M680 621v1M680 651v2M681 609v1M681 616v2M681 623v1M681 655v2M682 608v1M682 616v1M682 631v1M682 634v2M682 639v1M682 644v2M683 601v1M683 616v1M683 620v1M683 625v1M683 636v1M683 645v1M683 652v2M683 664v1M684 610v2M684 615v1M684 621v1M684 623v1M684 636v3M684 646v1M684 664v2M684 667v5M685 615v1M685 669v2M685 674v1M686 615v6M686 625v1M686 634v1M686 655v2M686 661v2M686 676v2M689 626v2M689 650v2M689 654v1M689 682v2M690 610v1M690 630v1M690 638v1M690 641v3M690 657v2M690 661v2M691 627v1M691 630v1M691 633v2M691 653v1M691 655v1M691 658v2M691 662v1M692 620v1M692 629v4M692 640v1M692 655v3M692 674v2M693 614v3M693 623v1M693 626v1M693 629v3M693 636v2M693 639v1M693 662v1M693 665v1M694 608v2M694 611v1M694 620v2M694 627v1M694 630v1M694 635v2M694 647v2M695 619v1M695 623v2M695 629v4M695 637v1M695 654v1M695 659v3M696 634v1M696 661v1M697 624v1M697 638v1M697 643v1M698 606v1M698 609v1M698 614v1M698 624v3M698 629v1M698 631v1M698 639v1M698 648v2M699 611v1M699 627v4M699 634v1M699 638v3M699 643v2M699 646v4"/>
<path stroke="#0404fe" d="M77 656v1M106 662v1M107 662v1M108 644v1M108 653v1M115 651v1M123 628v1M214 615v1M215 616v6M218 626v1M229 611v1M230 607v1M230 622v2M231 621v1M232 600v1M232 614v3M233 611v1M233 623v3M234 600v1M234 625v3M235 616v1M235 626v2M236 624v1M236 627v2M237 620v2M237 624v3M238 625v2M239 611v1M239 625v4M240 613v3M240 628v1M240 630v4M241 619v1M241 628v3M243 627v5M244 607v1M244 629v3M248 618v1M248 620v2M249 618v7M250 621v1M250 625v3M251 621v1M251 623v2M251 630v2M253 623v5M253 636v3M253 641v1M255 625v1M255 632v4M255 637v1M256 635v1M256 637v1M256 645v3M257 636v1M257 647v1M258 640v3M259 634v2M259 641v2M260 634v2M261 627v2M263 637v6M265 631v1M265 645v3M266 630v2M266 648v2M267 633v1M267 648v1M267 652v1M268 633v9M268 648v4M269 638v2M269 647v4M270 639v2M270 645v2M271 643v4M272 642v6M274 637v8M275 624v4M275 639v10M276 620v1M276 625v3M276 642v8M277 621v1M277 625v2M277 635v1M277 645v3M277 649v4M278 621v1M278 626v3M278 634v1M278 637v2M279 634v2M279 638v2M280 624v1M280 638v3M282 634v12M283 639v7M284 641v1M285 633v1M286 634v1M286 641v2M286 645v2M287 629v3M288 651v1M288 668v4M289 631v3M289 644v1M289 652v3M290 631v2M290 640v2M290 652v2M291 632v10M291 649v1M291 671v1M292 639v1M292 653v3M292 669v2M294 662v2M294 674v1M295 662v2M296 663v1M299 672v1M300 662v1M300 668v1M300 670v1M300 674v1M300 676v1M301 665v2M302 669v3M305 677v2M306 678v4M314 677v3M314 691v1M315 674v1M315 678v6M315 687v1M315 689v2M315 692v1M315 698v1M316 671v2M316 678v7M316 686v1M316 698v2M317 678v1M317 682v1M317 685v2M317 699v1M318 671v1M318 678v1M318 689v1M319 678v4M320 681v1M320 701v1M321 684v1M322 680v5M322 702v1M323 684v1M323 688v1M324 681v1M324 690v2M325 685v1M326 674v1M326 680v5M326 693v4M327 632v1M327 695v1M328 677v1M328 686v3M329 610v2M329 689v1M329 696v1M330 609v1M330 613v3M330 674v3M331 607v2M331 611v2M331 627v2M331 630v1M331 676v1M331 681v4M331 692v1M332 607v5M332 616v2M332 628v4M332 681v7M332 691v4M332 706v2M333 614v2M333 627v5M333 634v2M333 684v4M333 701v1M333 705v1M333 708v1M334 626v6M334 667v2M334 673v3M334 685v1M334 692v1M334 698v1M334 701v1M334 703v3M337 610v1M337 615v2M337 622v3M337 627v7M337 645v3M337 654v1M337 656v1M337 663v1M337 669v9M338 605v4M338 615v2M338 629v1M338 632v3M338 640v1M338 646v1M338 653v1M338 658v2M338 672v4M338 699v1M338 706v3M339 609v3M339 617v2M339 641v1M339 655v5M339 664v1M339 666v2M339 673v2M339 678v1M339 699v3M339 710v1M340 618v1M340 655v3M340 676v1M340 702v1M341 618v4M341 642v3M341 663v2M341 669v1M341 679v1M341 682v3M341 702v1M342 624v1M342 646v3M342 656v4M342 665v4M342 670v1M342 674v1M342 686v2M343 669v2M343 705v1M344 608v1M344 615v3M344 673v3M344 683v1M344 689v3M345 616v3M345 659v3M345 674v5M345 686v7M346 610v3M346 622v3M346 675v1M347 641v1M347 676v1M347 681v1M348 608v2M348 613v4M348 621v1M348 626v2M348 641v3M348 665v2M349 616v2M349 665v1M349 668v4M349 679v1M349 713v2M350 619v1M350 622v2M350 627v1M350 629v2M350 632v2M350 642v1M350 646v3M350 664v4M350 669v3M350 679v1M350 681v1M350 683v1M350 686v1M351 648v4M351 659v9M351 672v3M351 703v3M352 664v2M352 669v2M352 674v2M352 685v3M352 703v6M353 636v5M353 644v3M353 653v2M353 666v2M353 704v5M354 641v6M354 669v3M354 676v2M354 698v2M354 709v3M355 608v4M355 697v1M355 707v1M355 711v2M356 636v2M356 644v4M356 681v1M356 704v5M356 712v1M356 715v2M357 609v1M357 642v4M357 678v1M357 680v1M357 684v1M357 702v2M357 705v1M357 709v2M357 716v4M358 616v3M358 636v2M358 676v1M359 606v1M359 609v1M359 631v1M359 637v2M359 645v3M359 679v3M359 687v2M360 623v8M360 644v1M360 678v2M360 689v2M361 616v3M361 626v4M361 632v4M361 644v1M364 620v4M364 636v3M364 645v5M364 699v2M365 620v3M365 635v5M365 645v5M365 697v4M366 638v2M366 647v3M366 662v3M366 683v1M366 692v2M366 696v8M366 709v3M366 715v1M367 619v6M367 635v6M367 649v2M367 658v2M367 684v4M367 698v5M367 705v6M367 713v1M368 619v3M368 639v2M368 644v1M368 646v2M368 684v5M368 702v2M368 706v4M369 621v5M369 642v2M369 659v2M369 663v1M369 690v2M369 698v1M369 705v8M369 721v1M370 622v2M370 625v2M370 642v3M370 664v5M370 690v5M370 699v3M370 712v3M370 720v1M370 723v1M371 626v2M371 639v1M371 642v3M371 663v1M371 671v1M371 689v9M371 701v1M371 705v1M371 714v2M372 628v1M372 636v1M372 642v2M372 645v2M372 648v1M372 671v1M372 678v1M372 692v6M372 699v2M372 704v1M372 706v1M372 711v1M372 718v4M373 628v2M373 637v5M373 645v2M373 650v2M373 672v1M373 676v5M373 692v4M373 697v2M373 704v3M373 711v1M373 716v1M374 629v3M374 648v4M374 679v2M374 697v4M374 711v6M375 621v1M375 645v10M375 699v1M375 702v2M376 621v2M376 647v3M376 653v1M376 727v1M377 618v1M377 623v1M377 649v1M378 608v1M378 619v1M378 623v2M378 650v2M379 607v1M379 626v1M379 691v1M380 613v3M380 623v6M380 657v4M380 689v7M380 707v2M380 710v2M381 629v3M381 648v3M381 662v1M381 700v2M381 707v2M381 714v3M382 652v2M382 656v5M382 716v1M383 609v1M383 613v1M383 617v3M383 659v4M383 702v2M383 708v2M383 722v2M384 619v3M384 627v2M384 635v1M384 651v1M384 653v1M384 656v2M384 663v1M384 702v5M384 710v1M384 717v1M384 723v2M385 606v2M385 613v1M385 622v1M385 638v1M385 650v1M385 653v1M385 656v8M385 705v4M385 711v1M385 719v1M385 725v1M386 605v4M386 613v3M386 641v1M386 651v2M386 654v1M386 713v1M387 605v3M387 609v1M387 615v1M387 636v3M387 641v1M387 651v2M387 656v1M387 667v1M387 672v1M387 712v4M388 605v1M388 617v2M388 625v1M388 661v1M388 668v2M388 704v1M388 717v2M391 609v1M391 646v7M391 684v1M391 686v3M391 692v3M391 696v1M391 698v1M391 704v1M391 707v2M391 712v2M391 722v1M392 625v1M392 631v1M392 633v3M392 643v5M392 655v2M392 663v2M392 669v1M392 672v1M392 684v7M392 692v6M392 707v2M392 711v3M393 625v2M393 635v4M393 645v3M393 662v2M393 684v10M393 702v1M393 709v1M394 601v1M394 626v1M394 638v1M394 645v4M394 657v1M394 662v3M394 667v3M394 683v5M394 703v2M394 707v3M394 713v3M395 601v1M395 639v3M395 649v3M395 660v1M395 663v1M395 668v1M395 685v2M395 690v4M395 706v3M396 629v2M396 634v1M396 638v1M396 655v1M396 663v1M396 667v3M396 671v1M396 686v1M396 690v3M396 695v1M396 713v1M397 638v1M397 640v1M397 647v2M397 654v2M397 660v4M397 688v4M397 696v2M398 632v2M398 640v2M398 646v4M398 662v7M398 712v1M398 715v4M399 609v3M399 636v6M399 645v7M399 656v1M399 694v2M399 698v7M399 708v1M400 610v1M400 639v2M400 649v1M400 652v4M400 666v1M400 693v8M400 705v4M400 710v2M401 615v4M401 627v2M401 640v5M401 664v1M401 702v4M401 709v2M402 623v6M402 642v1M402 660v1M402 669v1M402 697v2M402 702v4M402 713v3M403 622v3M403 629v1M403 645v2M403 669v3M403 704v4M403 712v4M403 718v1M404 645v6M404 665v1M404 675v2M404 679v1M405 609v1M405 626v2M405 647v5M405 676v1M405 684v1M405 717v3M405 722v1M406 610v1M406 649v4M406 676v2M406 680v2M406 684v1M406 690v1M407 653v4M407 682v1M408 611v1M408 658v1M408 671v1M409 644v1M409 656v1M409 667v8M409 678v1M409 692v4M409 698v1M409 724v1M410 613v2M410 656v5M410 662v8M410 675v4M410 696v6M411 629v2M411 645v3M411 664v5M411 674v1M411 701v1M412 615v1M412 629v1M412 636v3M412 664v2M412 670v2M412 673v2M412 722v1M413 619v3M413 633v4M413 642v2M413 679v1M413 724v1M414 631v1M414 636v2M414 642v3M414 660v2M414 672v2M414 677v7M414 713v3M415 643v2M415 660v5M415 679v2M415 683v2M415 691v1M415 711v3M418 633v1M418 638v1M418 643v1M418 652v3M418 659v3M418 667v1M418 685v6M418 692v2M418 697v4M418 716v3M419 623v1M419 632v4M419 649v2M419 662v1M419 674v2M419 685v9M419 695v4M419 701v3M419 708v3M419 716v1M420 618v1M420 625v2M420 633v3M420 640v1M420 662v3M420 667v1M420 676v3M420 685v13M420 709v7M421 621v1M421 626v2M421 639v1M421 658v1M421 665v1M421 681v5M421 692v6M421 710v2M421 720v1M421 729v2M422 637v1M422 639v1M422 644v1M422 649v1M422 652v1M422 657v1M422 659v3M422 664v1M422 666v4M422 674v1M422 677v1M422 682v7M422 702v3M422 707v5M422 715v2M423 636v2M423 680v5M423 688v2M423 702v2M424 663v1M424 669v1M424 680v2M424 683v1M424 699v4M424 705v5M424 712v4M424 724v1M425 677v1M425 681v1M425 706v10M425 719v6M426 624v1M426 642v1M426 654v1M426 663v2M426 686v5M426 704v4M426 714v2M427 617v5M427 625v7M427 647v1M427 662v1M427 676v2M427 688v3M428 629v1M428 634v2M428 650v2M428 669v3M428 682v3M428 686v1M428 690v3M428 709v6M429 635v3M429 671v2M429 681v12M429 704v4M429 713v3M430 624v1M430 656v1M430 676v4M430 682v1M430 685v1M430 705v3M430 713v2M431 625v1M431 628v1M431 659v4M431 665v1M431 690v4M431 706v2M431 711v5M432 625v1M432 632v1M432 641v4M432 647v6M432 655v3M432 689v2M432 692v3M433 608v4M433 631v2M433 642v2M433 649v7M433 689v3M433 717v1M434 612v4M434 629v1M434 645v2M434 651v3M434 656v3M434 660v4M434 699v1M434 713v2M435 646v1M435 656v1M435 658v3M435 668v1M435 692v2M435 711v2M435 714v1M435 716v3M435 725v1M436 648v1M436 660v2M436 697v2M436 703v2M436 708v1M436 710v2M436 715v1M436 719v1M436 721v2M437 610v6M437 660v3M437 705v9M437 723v2M438 617v2M438 657v1M438 662v2M438 710v6M618 629v1M618 647v4M619 624v2M619 636v1M619 643v1M619 662v1M620 634v1M620 638v4M620 667v1M621 614v1M621 618v3M621 623v2M621 628v3M621 634v1M621 658v2M621 663v1M621 665v1M621 667v2M622 615v5M622 626v1M622 633v2M622 655v1M624 615v1M624 620v1M624 623v2M624 632v1M625 619v1M625 626v1M625 639v2M625 704v1M626 601v1M626 604v1M626 615v2M626 619v1M626 625v1M626 641v5M626 651v3M627 634v1M627 648v1M627 651v1M627 657v2M628 606v4M628 615v3M628 619v1M628 626v1M628 647v1M629 614v1M629 634v1M629 643v2M629 650v1M629 654v1M629 664v1M630 643v1M630 648v1M630 651v1M630 656v5M631 622v1M631 640v1M631 645v3M631 654v2M631 659v6M632 604v2M632 648v4M632 656v1M632 667v2M633 606v2M633 617v1M633 620v1M633 622v1M633 639v2M633 646v1M633 651v2M633 658v1M633 667v1M634 606v1M634 637v3M634 643v2M634 663v1M634 668v1M634 671v2M635 611v1M635 669v4M635 678v1M635 681v3M636 613v1M636 621v2M636 655v1M636 686v1M636 690v1M637 626v1M637 642v5M637 668v1M637 671v1M662 614v1M662 620v1M662 628v1M662 633v6M662 649v1M662 668v2M663 624v1M663 629v1M663 641v1M663 647v3M663 652v1M663 657v1M664 628v1M664 634v1M664 636v4M664 655v2M664 666v1M664 670v2M665 617v1M665 630v2M665 639v2M665 710v2M666 611v4M666 616v1M666 621v1M666 636v1M667 625v1M667 647v1M667 649v1M667 652v3M668 612v1M668 620v1M668 623v1M668 652v1M668 654v1M668 662v1M668 664v1M669 611v3M669 627v1M669 631v2M669 638v2M669 661v1M670 603v1M670 608v2M670 616v2M670 622v2M671 610v1M671 617v1M671 634v3M671 646v4M672 624v1M672 632v3M672 636v3M672 651v2M673 616v6M673 623v2M673 626v1M673 628v1M673 632v3M673 663v3M674 623v1M674 630v1M674 635v2M674 638v1M674 670v1M675 614v1M675 624v1M675 642v2M675 658v2M676 612v1M676 617v1M676 620v2M676 630v2M676 649v1M677 615v3M677 620v1M677 714v1M678 622v1M678 629v1M678 677v1M679 623v1M679 637v1M679 641v1M679 716v2M680 610v3M680 620v1M680 622v4M680 638v1M680 648v1M681 610v2M681 615v1M681 622v1M681 624v2M681 628v6M681 657v1M682 617v2M682 626v1M682 630v1M682 654v1M683 619v1M683 626v1M683 631v2M683 635v1M683 655v6M683 668v1M684 616v5M684 624v1M684 626v4M684 635v1M684 647v3M685 607v2M685 614v1M685 617v1M685 622v2M685 654v1M686 621v1M686 624v1M686 627v1M686 632v2M686 657v4M686 663v1M686 678v1M686 682v1M689 630v1M689 646v1M689 659v3M689 663v3M689 684v2M690 631v1M690 634v2M690 644v2M690 652v1M690 659v2M690 665v1M691 626v1M691 631v2M691 635v1M691 639v1M691 656v2M691 660v1M692 614v1M692 633v3M692 639v1M692 647v2M692 665v1M692 670v2M692 673v1M692 676v1M693 613v1M693 617v1M693 624v2M693 640v2M693 643v3M693 650v2M693 661v1M693 667v1M693 679v1M694 607v1M694 612v1M694 614v1M694 622v1M694 631v1M694 655v1M695 633v4M695 641v1M695 644v2M695 658v1M696 626v1M696 628v1M696 640v1M696 655v2M696 659v2M696 662v1M697 625v2M697 633v1M697 635v3M697 655v3M698 610v1M698 613v1M698 630v1M698 646v2M698 650v1M699 610v1M699 612v1M699 635v3M699 641v2M699 645v1M699 654v1"/>
<path stroke="#0010f2" d="M73 660v1M106 640v1M114 657v1M116 659v1M231 600v2M231 607v1M232 609v1M234 601v1M235 604v1M236 603v1M237 616v3M238 608v2M238 615v2M239 612v8M240 616v1M250 622v3M251 622v1M251 625v1M252 627v4M253 633v3M255 636v1M256 636v1M267 653v1M277 622v3M279 620v5M280 623v1M280 625v1M283 633v3M284 642v1M285 629v4M285 638v5M286 630v2M286 639v2M287 632v5M287 639v1M287 644v5M288 632v7M288 647v2M289 634v2M289 642v2M290 642v1M295 661v1M296 659v4M297 667v1M298 662v1M298 666v2M299 666v2M300 667v1M300 669v1M314 674v3M315 675v3M315 688v1M316 685v1M316 687v5M317 671v7M318 672v3M318 676v2M319 675v3M320 679v2M326 686v1M327 690v2M328 689v3M329 690v6M330 610v1M330 672v2M330 695v2M331 609v2M331 693v2M332 615v1M333 697v4M334 606v1M334 686v2M334 694v4M337 607v3M337 635v10M337 655v1M337 664v5M338 638v1M338 642v4M338 654v3M338 663v8M339 649v1M339 654v1M339 665v1M339 669v4M339 702v1M340 643v2M340 661v2M340 673v1M340 675v1M341 645v3M341 665v3M341 680v2M342 649v1M342 669v1M342 678v1M342 682v3M343 652v2M343 684v2M344 676v1M346 620v2M347 682v3M348 622v4M348 677v2M349 685v3M350 668v1M350 680v1M350 684v2M350 713v1M351 706v2M351 712v4M352 671v3M352 709v1M353 671v4M357 679v1M358 608v1M358 639v3M359 607v2M360 609v1M360 613v5M360 647v1M361 613v3M361 640v4M364 619v1M364 639v4M365 640v5M366 646v1M366 695v1M367 688v1M367 694v1M367 696v2M368 645v1M368 689v13M369 692v6M369 699v6M370 698v1M370 704v5M371 640v2M371 698v3M371 706v4M372 641v1M372 701v3M372 709v2M373 642v3M373 699v5M373 715v1M377 619v1M381 611v1M381 627v2M382 608v7M382 662v2M383 610v3M383 616v1M383 663v2M384 632v3M384 652v1M384 664v2M384 714v2M385 614v1M385 621v1M385 654v2M385 664v1M385 666v1M385 709v2M385 712v7M386 616v4M386 653v1M386 655v1M386 658v1M386 664v2M386 712v1M387 608v1M387 616v7M387 653v3M387 659v1M387 663v4M387 716v1M388 654v2M388 658v1M388 665v1M388 667v1M391 629v3M391 653v11M391 667v3M391 672v2M391 697v1M391 705v2M392 626v2M392 632v1M392 648v1M392 652v3M392 657v6M392 665v1M392 667v2M393 627v2M393 632v1M393 650v3M393 661v1M393 671v3M393 703v6M394 658v4M394 673v1M394 705v2M394 710v3M395 634v5M395 652v1M395 661v2M395 709v5M396 631v3M396 639v3M396 656v2M396 674v1M396 712v1M397 632v3M397 639v1M397 656v4M397 670v3M397 713v2M398 639v1M399 657v3M399 662v3M400 656v6M400 664v2M400 667v3M400 672v1M401 656v1M401 659v5M401 667v6M401 700v2M402 670v4M402 699v3M403 672v2M405 679v5M406 682v2M406 689v1M408 692v3M409 696v2M410 618v2M410 673v2M411 620v2M411 669v5M412 622v2M412 672v1M413 622v1M413 624v1M413 627v1M414 628v2M414 632v4M414 638v1M415 633v6M418 639v3M418 644v8M418 662v5M419 639v4M419 645v4M419 665v4M419 717v2M420 619v1M420 636v4M420 641v2M420 644v1M420 665v2M420 673v3M420 716v4M421 623v3M421 640v3M421 654v1M421 669v3M421 716v4M422 638v1M422 642v2M422 648v1M422 653v1M422 658v1M422 675v2M422 705v2M422 717v2M423 655v1M423 657v1M423 659v3M423 668v2M423 673v7M424 641v1M424 643v1M424 651v1M424 657v1M424 670v5M424 677v3M424 682v1M424 725v1M425 642v1M425 654v2M425 657v8M425 678v3M426 665v3M426 669v8M427 648v1M427 650v1M427 675v1M427 683v2M427 687v1M428 626v3M428 672v3M428 685v1M430 625v2M431 663v2M434 654v2M435 657v1M435 715v1M436 649v1M436 716v3M437 654v1M437 656v1M437 718v3M438 655v2M438 658v4M438 716v7M618 630v2M618 635v1M618 646v1M618 651v1M619 615v3M619 644v2M619 661v1M619 663v1M619 673v2M620 626v3M620 633v1M620 645v2M620 666v1M620 668v1M621 621v2M621 625v3M621 657v1M621 660v1M621 666v1M621 669v1M621 678v1M622 627v3M622 632v1M622 638v1M622 641v1M622 656v1M622 663v2M623 626v1M623 630v2M624 614v1M624 627v2M624 631v1M624 692v3M625 621v3M625 625v1M625 635v1M625 638v1M625 641v1M625 651v1M625 707v1M625 709v2M626 605v1M626 620v2M626 626v1M626 639v2M626 646v5M626 654v1M627 631v1M627 633v1M627 638v2M627 647v1M627 652v2M627 659v1M628 610v2M628 613v2M628 620v1M628 633v1M628 637v2M628 642v1M628 650v1M628 662v1M629 611v3M629 615v1M629 632v2M629 645v1M629 649v1M629 663v1M629 665v1M630 620v1M630 630v1M630 639v1M630 644v4M630 649v2M630 661v1M630 695v1M631 618v4M631 626v1M631 643v2M631 648v2M631 653v1M631 665v2M632 603v1M632 627v2M632 647v1M632 660v2M632 669v2M632 685v1M633 608v1M633 611v2M633 621v1M633 635v4M633 647v1M633 650v1M633 653v5M633 668v1M634 610v1M634 628v4M634 635v2M634 640v1M634 642v1M634 645v3M634 662v1M634 664v1M634 666v2M634 681v1M635 646v1M635 650v2M635 656v1M635 667v2M635 673v2M635 684v2M636 616v2M636 620v1M636 623v1M636 657v1M636 662v4M636 678v2M636 687v3M636 693v1M637 627v1M637 631v3M637 637v2M637 641v1M637 647v1M637 666v2M637 672v3M662 609v1M662 613v1M662 623v2M662 639v1M662 643v2M662 648v1M662 653v1M662 657v3M662 667v1M662 670v5M663 608v3M663 621v3M663 633v1M663 637v1M663 640v1M663 642v1M663 646v1M663 653v2M663 681v3M664 617v1M664 633v1M664 640v4M664 654v1M664 657v2M664 667v1M664 669v1M664 679v2M664 687v2M665 618v2M665 629v1M665 641v7M665 650v1M666 617v1M666 620v1M666 622v1M666 635v1M666 646v1M666 661v1M666 668v2M666 710v1M667 618v1M667 646v1M667 650v2M668 613v1M668 624v2M668 630v3M668 647v1M668 651v1M668 655v1M668 661v1M669 614v3M669 626v1M669 633v2M669 637v1M669 640v1M669 655v6M669 662v1M670 610v1M670 618v4M670 634v1M670 641v1M670 644v2M670 650v1M670 669v1M671 616v1M671 620v1M671 624v4M671 629v5M671 650v1M671 684v2M672 618v2M672 623v1M672 625v1M672 631v1M672 635v1M672 639v1M672 642v2M672 691v2M673 622v1M673 631v1M673 657v1M673 661v2M674 615v1M674 619v4M674 627v1M674 629v1M674 639v1M674 651v2M674 658v2M674 666v4M674 674v1M675 640v2M675 644v1M675 646v2M675 657v1M675 660v1M675 684v2M676 613v2M676 622v1M676 629v1M676 632v1M676 648v1M676 658v5M676 694v1M677 618v2M677 624v1M677 655v1M677 666v1M677 695v2M677 713v1M678 623v1M678 628v1M678 630v1M678 676v1M678 678v1M679 603v1M679 614v1M679 624v1M679 628v1M679 633v2M679 642v1M679 644v1M679 646v1M680 613v2M680 626v7M680 637v1M680 639v1M680 643v2M680 655v1M680 696v1M681 612v1M681 614v1M681 618v1M681 621v1M681 627v1M681 634v1M681 636v2M681 662v2M682 619v3M682 627v1M682 653v1M682 701v1M683 617v2M683 633v1M683 661v1M683 663v1M683 666v2M683 669v2M684 604v1M684 625v1M684 630v1M684 639v1M684 641v5M684 666v1M684 672v1M685 618v4M685 624v2M685 636v3M685 646v2M685 651v3M686 609v6M686 622v2M686 628v4M686 654v1M686 664v1M686 672v2M686 675v1M686 679v1M686 681v1M686 683v1M689 642v3M689 658v1M689 662v1M689 681v1M689 686v1M690 632v2M690 636v2M691 636v3M691 640v3M691 646v5M691 652v1M691 661v1M691 666v1M691 671v3M691 677v1M692 613v1M692 636v3M692 641v1M692 646v1M692 649v1M692 669v1M692 672v1M692 677v1M693 618v1M693 620v1M693 642v1M693 649v1M693 668v1M693 678v1M693 680v2M694 623v1M694 625v2M694 632v3M694 656v1M694 671v1M695 642v2M695 657v1M695 662v1M696 627v1M696 639v1M696 641v1M696 647v3M696 657v2M696 663v1M697 634v1M697 644v1M698 666v2M699 607v3M699 613v1M699 615v1M699 624v2M699 650v1M699 655v6"/>
<path stroke="#0025e1" d="M117 629v1M230 605v2M231 602v3M232 607v2M233 608v3M238 613v2M287 637v2M297 665v1M318 675v1M338 639v1M339 642v7M339 668v1M339 703v1M340 645v1M348 679v6M349 680v5M368 721v1M384 666v1M387 660v3M388 656v2M388 666v1M388 723v1M391 626v3M391 670v2M392 628v1M393 629v3M399 660v2M400 662v2M419 643v2M420 643v1M420 648v2M421 643v11M422 719v1M423 654v1M423 658v1M424 642v1M424 647v1M424 650v1M424 653v4M425 656v1M427 649v1M618 638v2M618 643v3M618 670v3M618 695v2M619 618v1M619 623v1M619 635v1M619 650v2M619 668v2M619 672v1M619 675v1M619 688v1M620 629v1M620 642v3M620 647v4M620 669v1M621 639v3M621 646v1M621 656v1M621 661v2M621 677v1M621 679v1M622 620v1M622 625v1M622 630v2M622 639v2M622 642v2M622 657v1M622 665v2M622 672v1M622 688v1M623 627v3M623 632v1M623 635v3M623 666v2M624 621v2M624 625v2M624 629v2M624 635v1M624 658v1M624 695v1M624 705v1M625 620v1M625 624v1M625 627v1M625 634v1M625 636v2M625 650v1M625 671v1M625 703v1M625 708v1M625 711v1M626 622v1M626 624v1M626 627v4M626 638v1M626 716v2M627 635v1M627 656v1M628 612v1M628 621v1M628 634v1M628 636v1M628 639v1M628 641v1M628 643v1M628 661v1M628 663v1M628 673v2M629 616v1M629 631v1M629 646v3M629 658v2M629 666v4M630 622v4M630 629v1M630 631v1M630 638v1M630 665v1M630 673v1M631 617v1M631 627v1M631 631v9M631 650v3M631 656v3M631 667v1M631 670v2M631 674v1M631 684v2M631 694v1M632 629v4M632 646v1M632 657v1M632 659v1M632 662v5M632 683v2M632 686v2M632 691v1M633 613v1M633 648v2M633 670v3M634 611v3M634 626v2M634 632v1M634 641v1M634 648v1M634 655v2M634 659v3M634 680v1M634 682v4M635 652v1M635 655v1M635 657v1M635 666v1M635 690v1M636 618v2M636 624v2M636 627v2M636 638v1M636 644v2M636 658v4M636 668v2M636 672v2M636 675v1M636 677v1M636 680v1M636 694v1M637 628v3M637 634v1M637 636v1M637 639v2M637 695v1M662 608v1M662 640v3M662 645v3M662 654v1M662 656v1M662 660v4M662 666v1M663 607v1M663 611v1M663 630v1M663 632v1M663 639v1M663 643v1M663 658v5M663 666v4M663 675v6M663 684v1M663 697v1M664 623v2M664 627v1M664 631v2M664 644v1M664 647v7M664 659v1M664 665v1M664 668v1M664 672v1M664 678v1M664 681v1M664 686v1M664 689v3M665 620v2M665 648v2M665 651v1M665 654v2M665 666v1M665 691v1M665 704v2M665 709v1M665 712v1M666 619v1M666 623v2M666 660v1M666 662v1M666 670v2M666 709v1M667 626v1M667 635v2M667 640v1M668 629v1M668 648v3M668 656v1M668 660v1M668 665v1M669 624v1M669 636v1M669 663v2M669 695v1M670 624v1M670 632v2M670 642v2M670 651v1M670 666v3M671 623v1M671 628v1M671 637v1M671 645v1M671 651v3M671 683v1M672 617v1M672 620v3M672 628v3M672 640v2M672 644v4M672 650v1M672 653v1M672 662v2M672 686v2M673 629v2M673 635v2M673 643v1M673 646v1M673 656v1M673 658v3M673 666v3M673 671v2M673 686v2M674 618v1M674 628v1M674 642v6M674 650v1M674 653v1M674 657v1M674 660v1M674 663v3M675 625v1M675 630v2M675 634v1M675 645v1M675 652v3M675 661v1M675 667v4M675 683v1M675 690v2M676 623v1M676 626v3M676 633v3M676 650v1M676 657v1M676 663v1M676 686v1M676 695v1M677 625v1M677 656v2M677 665v1M677 667v1M677 697v1M678 603v1M678 624v1M678 627v1M678 631v1M678 634v1M678 644v1M678 666v2M678 679v4M678 708v1M679 625v3M679 629v1M679 632v1M679 635v2M679 643v1M679 647v1M679 715v1M679 718v1M679 721v2M680 619v1M680 633v4M680 640v1M680 642v1M680 646v2M680 656v1M680 695v1M680 697v1M681 619v2M681 626v1M681 638v1M681 645v1M681 658v1M681 661v1M681 664v2M682 622v4M682 628v2M682 646v7M682 663v1M682 666v2M682 681v1M683 627v2M683 630v1M683 634v1M683 662v1M683 671v1M684 634v1M684 640v1M684 678v2M685 635v1M685 639v1M685 645v1M685 648v3M685 675v1M686 608v1M686 651v3M686 665v2M686 674v1M686 680v1M686 684v1M689 634v1M689 638v4M689 645v1M689 655v1M689 675v2M689 687v1M690 666v1M690 669v1M691 621v5M691 643v3M691 651v1M691 667v4M691 674v1M691 676v1M691 678v1M692 645v1M692 650v2M692 654v1M692 666v1M692 668v1M692 682v2M693 652v1M693 655v3M693 660v1M693 669v1M693 677v1M693 682v1M694 624v1M694 664v1M694 669v2M694 672v1M694 679v1M695 655v2M696 635v1M696 638v1M696 642v2M696 646v1M696 650v5M696 664v2M697 645v1M697 658v1M698 651v1M698 668v1M699 614v1M699 616v2M699 622v2M699 653v1M699 661v4"/>
<path stroke="#003acf" d="M230 604v1M231 605v2M296 664v1M339 704v1M352 716v1M388 724v1M418 719v1M418 722v3M422 720v1M423 652v2M424 648v2M424 652v1M618 636v2M618 640v1M618 642v1M618 652v1M618 657v5M618 669v1M618 697v1M619 631v1M619 634v1M619 649v1M619 652v1M619 660v1M619 667v1M619 670v2M619 676v1M619 687v1M619 689v1M620 632v1M620 651v2M620 663v3M620 670v2M621 635v4M621 642v1M621 647v1M621 653v3M621 670v1M621 680v1M621 705v1M622 621v4M622 644v1M622 658v1M622 662v1M622 667v2M622 671v1M622 673v1M622 677v2M622 684v4M622 689v1M623 633v2M623 638v1M623 650v1M623 668v1M623 675v1M623 691v3M624 636v1M624 646v3M624 657v1M624 659v1M624 675v4M624 681v2M624 684v3M624 691v1M624 696v1M624 698v2M625 631v3M625 642v1M625 645v1M625 648v2M625 652v1M625 670v1M625 672v1M625 686v2M625 712v1M626 623v1M626 635v1M626 706v1M626 715v1M626 718v1M627 636v2M627 640v1M627 646v1M627 654v1M627 660v2M627 720v2M628 622v1M628 625v1M628 635v1M628 640v1M628 644v3M628 651v1M628 658v3M628 664v4M628 671v2M628 675v1M628 682v2M628 706v1M629 617v4M629 630v1M629 660v1M629 662v1M629 670v6M629 693v1M630 621v1M630 628v1M630 632v1M630 637v1M630 664v1M630 666v3M630 672v1M630 694v1M630 696v1M631 628v3M631 668v2M631 672v2M631 683v1M631 691v3M632 633v1M632 638v3M632 658v1M632 671v1M632 677v2M632 682v1M632 692v1M633 609v2M633 669v1M633 673v1M633 686v4M634 633v2M634 650v2M634 657v2M634 665v1M634 679v1M635 632v1M635 647v1M635 649v1M635 653v2M635 658v1M635 661v2M635 665v1M635 689v1M635 691v1M635 720v1M636 626v1M636 629v1M636 631v2M636 637v1M636 639v1M636 642v2M636 646v1M636 666v2M636 670v2M636 674v1M636 676v1M636 681v1M636 685v1M636 698v1M637 635v1M637 648v1M637 652v1M637 675v2M637 696v4M637 703v2M662 655v1M662 664v2M662 678v2M662 686v3M662 700v2M663 631v1M663 638v1M663 644v2M663 663v3M663 670v1M663 685v1M663 696v1M663 698v2M664 660v1M664 676v2M664 682v3M664 692v3M664 701v3M664 711v1M664 718v1M665 626v1M665 628v1M665 652v2M665 656v1M665 665v1M665 667v1M665 677v1M665 681v2M665 686v3M665 690v1M665 692v1M665 697v3M665 702v2M665 706v3M666 625v3M666 632v2M666 647v1M666 651v1M666 656v2M666 659v1M666 667v1M666 672v1M666 678v1M666 686v1M666 711v1M667 639v1M667 641v1M667 655v1M667 663v2M667 666v1M667 676v1M668 628v1M668 633v1M668 646v1M668 657v3M669 623v1M669 625v1M669 635v1M669 641v1M669 665v1M669 694v1M669 696v2M670 629v3M670 649v1M670 670v1M670 681v1M671 642v3M671 654v1M671 659v1M671 675v3M671 682v1M672 626v2M672 648v2M672 654v6M672 661v1M672 664v2M672 668v2M672 684v2M672 688v3M672 693v1M673 637v1M673 640v3M673 644v2M673 647v6M673 655v1M673 669v2M673 673v1M673 685v1M673 688v2M674 616v2M674 640v2M674 648v2M674 656v1M674 661v2M674 675v2M674 684v2M674 708v2M675 632v2M675 648v4M675 656v1M675 662v1M675 666v1M675 671v1M675 686v1M675 689v1M675 692v1M676 624v1M676 636v1M676 647v1M676 651v1M676 655v2M676 664v2M676 675v3M676 687v4M676 693v1M677 626v5M677 647v2M677 653v2M677 658v2M677 662v3M677 674v1M677 694v1M677 698v1M677 712v1M677 715v1M678 602v1M678 625v1M678 632v2M678 638v1M678 643v1M678 645v1M678 658v2M678 675v1M678 683v1M678 699v2M678 707v1M678 719v2M679 608v6M679 630v2M679 648v1M679 693v2M679 719v2M679 723v1M680 615v2M680 641v1M680 657v1M680 660v2M681 635v1M681 639v4M681 644v1M681 646v1M681 649v2M681 660v1M681 666v3M682 655v1M682 662v1M682 664v1M682 668v1M682 680v1M682 682v1M682 700v1M682 702v1M683 629v1M683 672v1M683 676v6M684 631v3M684 673v1M684 680v1M684 707v1M685 640v1M685 644v1M685 678v3M686 635v1M686 643v1M686 646v3M686 667v2M686 671v1M686 685v1M686 688v3M689 631v1M689 633v1M689 637v1M689 656v2M689 666v3M689 677v1M690 646v3M690 667v2M690 670v1M690 673v2M691 679v1M691 700v2M692 642v3M692 652v2M692 667v1M692 678v1M692 681v1M692 684v1M693 648v1M693 653v2M693 658v2M693 670v1M693 676v1M693 683v1M694 657v1M694 663v1M694 665v2M694 668v1M694 673v1M694 678v1M694 680v1M694 706v2M695 663v1M695 675v2M696 636v2M696 644v1M696 666v3M697 647v2M697 659v1M697 666v1M698 652v1M699 621v1M699 651v1M699 665v1"/>
<path stroke="#004fbe" d="M297 664v1M298 665v1M339 705v1M339 708v1M368 720v1M369 722v1M388 722v1M388 725v1M405 727v1M418 720v2M419 719v1M420 720v1M424 723v1M618 641v1M618 653v1M618 655v2M618 662v1M618 665v1M618 668v1M618 673v1M618 683v1M618 688v1M618 702v2M618 715v2M619 619v1M619 622v1M619 632v2M619 646v3M619 653v1M619 656v4M619 664v1M619 666v1M619 690v1M620 630v2M620 653v2M620 662v1M620 672v2M620 694v2M621 643v1M621 648v5M621 671v2M621 681v1M622 645v1M622 661v1M622 669v2M622 674v3M622 682v2M622 690v2M622 709v2M623 648v2M623 657v4M623 669v6M623 679v4M623 684v5M623 690v1M623 694v1M624 637v1M624 649v1M624 656v1M624 660v1M624 664v2M624 679v2M624 683v1M624 687v1M624 697v1M624 700v1M624 704v1M624 706v2M625 630v1M625 643v2M625 647v1M625 656v3M625 664v1M625 673v1M625 693v1M625 695v1M625 713v2M626 631v1M626 634v1M626 636v2M626 655v1M626 675v3M626 695v1M626 704v1M626 707v4M626 719v1M627 641v3M627 655v1M627 662v1M627 706v2M627 715v1M627 719v1M628 623v1M628 652v1M628 657v1M628 668v1M628 670v1M628 681v1M628 707v1M628 718v3M629 621v9M629 655v1M629 657v1M629 661v1M629 683v3M629 694v1M630 626v2M630 633v1M630 636v1M630 662v1M630 669v3M630 674v1M630 700v1M631 680v3M631 686v1M631 690v1M631 695v1M632 637v1M632 641v5M632 676v1M632 679v1M632 681v1M632 688v1M632 690v1M632 693v2M633 614v1M633 690v1M634 649v1M634 652v1M634 675v1M634 678v1M634 686v1M635 622v1M635 631v1M635 633v1M635 638v8M635 648v1M635 660v1M635 663v2M635 692v1M635 719v1M635 721v1M636 630v1M636 633v1M636 636v1M636 640v2M636 654v1M636 697v1M636 699v1M637 649v1M637 651v1M637 653v1M637 677v4M637 693v2M637 700v3M662 685v1M662 702v1M662 704v2M662 709v2M663 671v1M663 690v2M663 700v1M663 713v1M663 720v1M664 625v2M664 645v2M664 661v1M664 664v1M664 673v1M664 675v1M664 685v1M664 700v1M664 704v2M664 710v1M664 712v1M664 717v1M664 719v1M665 624v1M665 627v1M665 675v2M665 678v3M665 683v1M665 689v1M665 693v1M665 695v1M665 700v2M665 717v3M665 722v1M666 628v1M666 631v1M666 634v1M666 650v1M666 652v1M666 655v1M666 658v1M666 663v1M666 665v2M666 673v1M666 679v1M666 687v1M667 627v1M667 637v2M667 642v1M667 645v1M667 656v1M667 662v1M667 665v1M667 667v3M667 674v2M667 677v2M667 682v1M667 726v1M668 626v2M668 634v1M668 668v2M668 680v4M668 693v2M668 701v3M669 642v4M669 693v1M669 698v1M669 708v3M669 722v1M670 628v1M670 652v1M670 654v3M670 659v7M670 680v1M670 682v1M670 709v1M670 714v3M671 621v2M671 638v1M671 641v1M671 658v1M671 660v1M671 672v3M671 678v1M671 681v1M671 690v2M671 718v1M672 660v1M672 666v2M672 670v4M672 682v2M672 697v1M672 720v2M673 638v2M673 653v2M673 674v1M673 690v4M673 700v3M673 707v1M674 654v2M674 677v1M674 682v2M674 707v1M674 710v1M675 626v1M675 629v1M675 655v1M675 663v1M675 675v5M675 681v2M675 687v2M675 693v2M676 625v1M676 637v3M676 642v2M676 652v3M676 668v3M676 674v1M676 678v1M676 685v1M676 691v2M676 699v2M676 705v1M677 631v5M677 638v2M677 643v4M677 649v1M677 660v2M677 668v2M677 673v1M677 675v2M677 679v1M677 699v1M677 703v3M677 711v1M678 626v1M678 635v1M678 637v1M678 639v1M678 642v1M678 646v1M678 660v1M678 668v1M678 672v1M678 684v2M678 695v1M678 698v1M678 701v1M678 706v1M678 709v1M678 712v3M678 717v2M678 721v1M679 607v1M679 649v1M679 653v2M679 675v1M679 678v1M679 687v2M679 707v3M680 645v1M680 658v2M680 662v1M680 677v1M680 694v1M680 698v1M680 703v2M681 643v1M681 647v2M681 651v2M681 654v1M681 659v1M681 691v3M681 701v1M682 656v3M682 665v1M682 683v1M683 673v1M683 675v1M683 687v1M683 699v3M684 674v1M684 677v1M684 706v1M684 708v1M684 719v2M685 626v4M685 634v1M685 676v2M685 681v2M685 706v1M686 636v1M686 642v1M686 644v2M686 649v2M686 669v2M686 686v2M686 691v3M689 632v1M689 635v2M689 669v1M689 674v1M689 678v1M689 680v1M689 688v1M689 693v2M690 651v1M690 671v2M690 696v4M691 675v1M691 680v1M691 695v2M692 679v2M693 646v2M693 671v1M693 675v1M693 684v1M693 698v1M694 658v5M694 667v1M694 681v1M695 664v1M695 677v1M696 645v1M696 669v1M697 652v3M697 660v1M697 663v3M697 667v3M697 677v1M698 653v2M698 658v2M698 669v1M699 652v1"/>
<path stroke="#0064ad" d="M298 663v2M338 703v1M340 706v1M352 713v1M369 723v2M405 723v1M405 726v1M415 717v1M420 721v2M422 721v1M425 725v1M618 654v1M618 664v1M618 674v2M618 680v3M618 684v1M618 687v1M618 694v1M618 698v1M618 701v1M618 704v1M618 713v2M619 620v2M619 654v2M619 665v1M619 677v1M619 686v1M619 691v1M619 697v1M620 656v6M620 674v1M620 693v1M621 644v2M621 673v2M621 676v1M621 682v4M621 700v5M621 706v1M622 646v6M622 654v1M622 659v2M622 679v1M622 681v1M622 692v1M622 708v1M623 639v1M623 642v2M623 646v2M623 651v2M623 676v3M623 683v1M623 689v1M623 705v1M624 638v1M624 642v2M624 645v1M624 650v6M624 661v1M624 688v3M624 701v3M624 711v2M625 628v2M625 646v1M625 653v3M625 663v1M625 665v1M625 669v1M625 674v1M625 676v4M625 688v1M625 692v1M625 694v1M625 696v1M625 702v1M626 632v2M626 656v1M626 678v2M626 682v1M626 694v1M626 696v4M626 703v1M626 705v1M626 714v1M627 644v2M627 663v2M627 668v2M627 672v3M627 697v2M627 708v2M627 716v3M628 624v1M628 656v1M628 669v1M628 684v1M628 705v1M628 708v1M628 717v1M629 656v1M629 676v1M629 682v1M629 692v1M629 705v1M629 716v2M630 634v2M630 663v1M630 681v6M630 693v1M630 697v3M630 701v1M631 675v2M631 679v1M632 634v1M632 636v1M632 672v1M632 675v1M632 680v1M632 689v1M632 700v1M633 681v3M633 691v1M634 617v1M634 622v1M634 653v2M634 676v2M634 687v1M634 696v1M635 616v2M635 621v1M635 623v1M635 630v1M635 635v3M635 659v1M635 686v3M635 693v2M636 634v2M636 647v1M636 653v1M636 682v1M636 684v1M636 695v2M636 700v1M636 720v2M637 650v1M637 654v1M637 681v7M637 692v1M637 705v1M662 675v1M662 677v1M662 680v5M662 689v1M662 694v2M662 699v1M662 703v1M662 706v3M662 711v1M663 672v3M663 686v1M663 692v4M663 701v1M663 712v1M663 714v1M663 719v1M663 721v1M664 662v2M664 674v1M664 695v1M664 699v1M664 709v1M664 713v1M665 625v1M665 657v1M665 662v3M665 668v1M665 674v1M665 684v2M665 694v1M665 696v1M665 713v1M665 716v1M665 720v2M665 723v1M666 629v2M666 648v2M666 653v2M666 664v1M666 674v1M666 677v1M666 685v1M666 708v1M666 715v3M667 634v1M667 643v2M667 657v1M667 670v1M667 683v1M667 693v2M667 715v1M667 722v4M667 727v1M668 641v2M668 666v1M668 670v1M668 675v1M668 684v1M668 704v1M668 709v2M668 715v1M669 654v1M669 666v1M669 668v2M669 690v3M669 699v1M669 704v2M669 707v1M669 711v2M669 721v1M669 723v1M670 625v1M670 627v1M670 646v1M670 653v1M670 657v2M670 683v1M670 696v3M670 707v2M670 710v2M670 713v1M670 717v1M671 639v2M671 657v1M671 661v1M671 664v2M671 667v5M671 679v2M671 692v1M671 714v2M671 719v1M672 674v3M672 679v3M672 694v1M672 696v1M672 698v1M672 719v1M672 722v1M673 677v5M673 684v1M673 694v6M673 705v2M673 708v1M674 678v1M674 681v1M674 686v4M674 692v3M674 711v2M675 627v1M675 664v2M675 672v3M675 680v1M675 701v1M676 646v1M676 666v2M676 671v3M676 679v1M676 684v1M676 696v1M676 698v1M676 704v1M677 636v2M677 640v1M677 642v1M677 650v1M677 652v1M677 670v3M677 677v2M677 680v1M677 682v5M677 693v1M677 700v3M677 706v5M677 716v1M678 636v1M678 640v2M678 647v1M678 657v1M678 665v1M678 671v1M678 673v1M678 693v2M678 696v2M678 702v1M678 710v2M678 715v2M678 722v1M679 650v1M679 652v1M679 658v3M679 672v3M679 676v2M679 679v1M679 686v1M679 689v1M679 692v1M679 695v1M679 724v1M680 663v1M680 676v1M680 678v1M680 688v2M680 693v1M680 702v1M680 705v1M680 716v2M680 720v1M680 725v1M681 653v1M681 669v1M681 674v2M681 682v2M681 689v2M681 700v1M681 702v1M681 708v2M682 659v1M682 661v1M682 669v1M682 673v2M682 679v1M682 684v1M682 688v3M682 696v4M682 703v1M683 674v1M683 682v1M683 688v1M683 695v4M683 702v3M683 706v1M684 676v1M684 681v2M684 690v1M684 704v2M684 711v2M684 716v3M684 721v1M685 630v4M685 641v1M685 643v1M685 683v3M685 705v1M685 719v2M686 637v1M686 640v2M686 694v1M686 710v5M689 670v1M689 673v1M689 679v1M689 692v1M690 649v2M690 675v4M690 686v1M690 693v3M690 700v1M691 681v1M691 685v1M691 697v1M691 699v1M691 706v1M691 714v1M692 685v4M692 693v2M692 699v1M693 672v1M693 685v1M693 696v2M693 699v2M694 674v4M694 682v1M694 688v1M694 708v1M695 665v1M695 667v2M695 680v5M696 670v4M696 676v5M697 646v1M697 649v1M697 661v2M697 676v1M697 678v1M697 681v1M698 660v1M698 665v1M698 670v1"/>
<path stroke="#007a9b" d="M331 699v3M334 700v1M351 711v1M352 714v1M352 717v1M353 709v1M354 712v1M356 717v1M360 718v1M366 722v1M369 720v1M386 720v1M388 721v1M405 724v1M415 716v1M415 718v1M419 724v2M420 723v1M420 727v1M424 722v1M424 726v1M437 721v2M618 663v1M618 666v2M618 676v4M618 685v2M618 689v1M618 693v1M618 705v1M618 711v2M618 717v1M619 678v3M619 692v1M619 695v2M619 698v1M619 706v1M620 655v1M620 680v2M620 684v5M620 692v1M620 696v1M621 675v1M621 688v4M621 699v1M621 707v1M622 653v1M622 680v1M622 693v2M622 703v2M622 706v2M622 711v1M623 640v2M623 644v2M623 653v2M623 656v1M623 661v1M623 665v1M623 695v4M623 702v3M623 716v2M624 639v3M624 644v1M624 662v2M624 666v2M624 708v3M624 713v1M625 659v1M625 662v1M625 666v1M625 668v1M625 675v1M625 680v2M625 691v1M625 697v5M626 657v5M626 680v2M626 683v2M626 692v2M626 711v1M626 713v1M626 720v1M627 665v1M627 667v1M627 670v2M627 705v1M627 710v1M627 712v3M627 722v1M628 653v1M628 655v1M628 676v1M628 680v1M628 692v2M628 697v1M628 709v2M628 721v1M629 677v5M629 686v1M629 704v1M629 706v1M629 715v1M630 675v1M630 678v3M630 687v1M630 702v1M631 677v2M631 687v3M631 696v1M632 635v1M632 673v1M632 695v1M632 699v1M632 701v3M633 674v1M633 676v2M633 680v1M633 684v2M633 692v2M634 621v1M634 623v2M634 688v1M634 695v1M634 697v4M634 706v1M635 618v3M635 624v6M635 634v1M635 698v5M635 718v1M635 722v1M636 648v1M636 652v1M636 683v1M636 701v1M636 719v1M636 722v1M637 657v4M637 665v1M637 688v1M662 676v1M662 696v3M662 712v1M662 721v1M663 687v1M663 689v1M663 702v5M663 711v1M663 718v1M663 722v1M664 696v1M664 706v3M664 714v1M664 716v1M664 720v1M665 658v1M665 661v1M665 669v5M665 714v2M666 676v1M666 680v1M666 684v1M666 691v1M666 699v2M666 706v2M666 712v1M666 714v1M666 718v1M666 722v2M667 628v2M667 633v1M667 661v1M667 671v3M667 679v1M667 681v1M667 684v2M667 695v1M667 709v3M667 714v1M667 716v1M668 635v6M668 643v1M668 667v1M668 671v1M668 674v1M668 676v4M668 685v1M668 691v2M668 700v1M668 705v1M668 716v1M669 646v1M669 651v3M669 667v1M669 672v2M669 683v1M669 689v1M669 700v4M669 706v1M669 713v2M669 716v2M669 720v1M670 647v2M670 679v1M670 684v2M670 690v1M670 695v1M670 699v3M670 706v1M670 712v1M671 655v2M671 662v2M671 666v1M671 686v1M671 689v1M671 693v2M671 713v1M671 717v1M671 725v1M672 677v2M672 695v1M672 699v2M672 718v1M673 675v2M673 682v2M673 703v2M673 709v1M674 679v2M674 690v2M674 695v1M674 700v1M674 706v1M674 713v1M675 628v1M675 700v1M675 702v1M675 718v1M676 640v2M676 644v1M676 683v1M676 697v1M676 701v1M676 713v2M677 641v1M677 651v1M677 681v1M677 692v1M677 717v1M678 648v2M678 653v4M678 661v1M678 669v2M678 674v1M678 689v2M678 692v1M678 723v3M679 651v1M679 655v3M679 661v1M679 671v1M679 680v1M679 683v3M679 690v2M679 696v1M679 700v3M679 706v1M679 710v1M679 714v1M680 664v1M680 669v5M680 675v1M680 679v1M680 684v1M680 686v2M680 690v1M680 692v1M680 699v1M680 701v1M680 707v3M680 715v1M680 718v2M680 721v4M680 726v1M681 673v1M681 676v6M681 684v1M681 694v1M681 699v1M681 703v1M681 707v1M681 710v2M682 660v1M682 672v1M682 678v1M682 685v1M682 695v1M682 704v2M682 710v1M683 683v1M683 686v1M683 689v2M683 705v1M683 707v3M684 675v1M684 683v1M684 689v1M684 691v1M684 694v3M684 703v1M684 709v2M684 713v1M684 715v1M685 642v1M685 697v2M685 707v1M686 638v2M686 709v1M689 671v2M689 689v1M689 695v1M689 708v2M690 679v6M690 687v1M690 692v1M690 701v2M690 705v1M691 682v3M691 686v2M691 698v1M691 702v1M691 707v1M691 710v2M691 713v1M691 715v1M692 698v1M692 700v1M692 715v1M692 722v1M693 673v2M693 686v2M693 695v1M693 701v5M694 686v2M694 689v1M694 696v2M694 709v1M695 666v1M695 669v1M695 674v1M695 678v2M695 685v2M695 689v3M696 674v2M696 681v1M696 686v1M697 650v2M697 675v1M697 679v2M697 682v4M698 656v2M698 661v1M698 664v1M698 671v1"/>
<path stroke="#008e89" d="M297 663v1M298 670v1M315 691v1M315 697v1M318 693v1M331 698v1M333 709v1M334 699v1M334 702v1M338 704v1M339 707v1M340 707v1M350 712v1M352 712v1M352 718v1M353 715v1M354 713v1M356 718v1M365 718v1M366 721v1M370 722v1M373 717v3M376 725v1M384 718v2M386 719v1M386 721v1M387 723v2M404 723v1M419 720v1M419 723v1M420 726v1M421 728v1M423 719v1M436 723v1M436 726v2M436 730v1M438 723v1M438 729v1M618 699v2M618 706v1M618 709v2M618 718v2M618 724v2M619 684v2M619 693v2M619 699v2M619 703v3M619 707v4M619 716v2M619 726v1M619 729v3M620 675v5M620 682v2M620 689v3M621 686v2M621 708v1M621 710v4M622 652v1M622 702v1M622 705v1M622 712v1M623 655v1M623 664v1M623 699v1M623 701v1M623 706v1M623 715v1M624 668v1M624 670v5M624 714v1M625 660v2M625 667v1M625 682v1M625 685v1M625 689v2M625 715v1M626 662v1M626 669v2M626 685v1M626 688v4M626 700v1M626 702v1M626 712v1M626 721v1M627 666v1M627 675v3M627 691v2M627 696v1M627 699v6M627 711v1M627 723v1M627 725v1M628 654v1M628 685v1M628 691v1M628 694v3M628 698v1M628 711v1M628 716v1M629 691v1M629 695v2M629 707v1M629 713v2M630 676v2M630 688v1M630 703v1M631 713v1M631 720v1M632 674v1M632 696v3M632 704v1M632 716v1M633 675v1M633 694v2M633 705v2M634 619v2M634 625v1M634 694v1M634 701v1M634 707v1M634 711v2M635 695v3M635 703v1M635 706v3M635 714v1M636 702v2M636 716v3M636 723v1M637 655v2M637 661v1M637 664v1M637 691v1M637 716v1M662 690v1M662 693v1M662 713v2M662 719v2M662 722v1M663 688v1M663 707v1M663 723v1M663 725v1M664 697v2M664 715v1M664 721v1M664 725v1M665 659v2M665 724v1M665 731v1M666 675v1M666 681v3M666 688v1M666 692v1M666 698v1M666 713v1M666 724v1M667 630v3M667 658v1M667 680v1M667 686v2M667 692v1M667 696v1M667 703v2M667 708v1M667 712v2M667 720v2M667 728v1M668 644v2M668 672v2M668 686v5M668 695v1M668 699v1M668 708v1M668 711v1M668 714v1M668 717v3M668 722v1M669 647v1M669 650v1M669 670v1M669 674v1M669 679v4M669 684v1M669 715v1M669 718v2M669 724v1M670 626v1M670 671v1M670 689v1M670 691v1M670 702v1M670 718v1M671 687v2M671 716v1M671 720v1M671 723v2M672 701v4M672 715v3M673 710v4M674 698v2M674 701v1M675 695v2M675 699v1M675 708v2M675 717v1M675 719v1M676 680v1M676 682v1M676 702v2M676 706v1M676 712v1M676 718v1M677 687v1M677 691v1M677 723v2M678 650v1M678 664v1M678 686v1M678 688v1M678 691v1M678 703v3M678 726v1M679 662v1M679 666v2M679 681v2M679 697v1M679 699v1M679 711v3M679 725v1M680 665v1M680 668v1M680 674v1M680 683v1M680 685v1M680 691v1M680 700v1M680 706v1M680 727v3M681 685v1M681 688v1M681 695v4M681 706v1M681 712v2M681 719v1M682 677v1M682 686v2M682 691v1M682 693v2M682 709v1M682 711v1M683 684v2M683 691v1M683 694v1M683 710v1M684 684v3M684 692v1M684 697v6M684 722v1M685 695v2M685 699v2M685 704v1M685 711v3M685 718v1M685 730v2M686 700v2M686 706v1M686 708v1M686 715v1M689 690v2M689 696v2M689 704v1M689 706v2M689 710v1M690 685v1M690 688v2M690 691v1M690 703v2M690 706v2M690 710v2M691 705v1M691 708v2M691 712v1M691 716v1M692 689v1M692 692v1M692 695v3M692 716v2M692 721v1M693 688v1M693 691v3M694 683v2M694 690v1M694 695v1M694 705v1M694 710v1M695 670v4M695 687v2M695 695v2M696 682v2M696 687v1M697 670v1M697 674v1M697 686v1M697 706v1M698 655v1M698 662v2M698 672v1M698 680v4M699 666v1M699 669v4M699 679v2M699 685v1"/>
<path stroke="#00a074" d="M289 670v1M299 673v2M316 692v3M317 692v1M317 695v1M330 699v1M332 704v1M333 702v3M340 708v1M341 704v2M341 709v1M342 710v2M353 710v1M354 714v1M355 715v1M360 717v1M365 717v1M366 723v1M367 715v5M368 719v1M373 720v1M374 719v2M374 724v1M376 723v2M376 726v1M382 719v1M383 718v1M384 720v1M384 722v1M385 722v1M386 722v3M387 722v1M388 720v1M388 726v1M391 723v1M403 724v1M404 721v2M405 725v1M406 726v1M415 719v1M419 722v1M421 725v1M422 726v1M423 725v1M424 720v2M435 727v2M436 724v1M436 728v2M438 724v2M438 730v1M618 692v1M618 707v2M618 720v1M618 723v1M618 726v1M619 681v1M619 701v2M619 711v1M619 715v1M619 718v1M619 727v2M619 732v1M620 699v2M620 720v4M621 692v1M621 698v1M621 709v1M621 714v1M622 695v2M622 701v1M622 713v2M622 716v2M623 662v2M623 700v1M623 707v1M623 718v1M623 720v1M624 669v1M625 683v1M625 716v2M626 663v2M626 668v1M626 671v1M626 674v1M626 687v1M626 701v1M626 722v2M627 678v1M627 681v2M627 686v1M627 690v1M627 693v3M627 724v1M627 726v2M627 729v3M628 677v3M628 687v2M628 690v1M628 699v3M628 704v1M628 712v1M628 715v1M628 728v2M629 687v4M629 697v2M629 703v1M629 708v2M629 711v2M629 718v1M630 692v1M630 704v2M630 709v2M630 718v4M630 725v1M631 697v4M631 706v1M631 719v1M631 721v3M632 715v1M632 717v1M632 724v2M633 678v2M633 696v1M633 699v6M633 726v2M634 689v1M634 692v2M634 705v1M634 708v1M634 710v1M635 704v2M635 709v1M635 713v1M635 715v3M635 723v1M636 649v1M636 651v1M636 704v1M636 715v1M636 724v3M637 662v2M637 689v2M637 710v2M637 715v1M637 717v2M637 726v1M662 691v2M662 718v1M663 708v1M663 710v1M663 715v1M663 717v1M663 724v1M664 722v3M664 726v2M664 731v2M665 725v6M665 732v1M666 690v1M666 695v1M666 697v1M666 701v1M666 703v3M666 719v1M666 721v1M666 726v1M667 660v1M667 688v1M667 697v1M667 702v1M667 706v2M667 717v3M668 696v3M668 713v1M668 720v2M668 723v3M669 648v2M669 671v1M669 678v1M669 726v3M670 674v1M670 676v3M670 686v3M670 703v3M670 723v1M671 695v1M671 712v1M671 726v2M672 705v1M672 712v1M672 723v1M673 714v1M674 696v2M674 702v1M674 714v1M675 697v2M675 703v1M675 707v1M675 710v4M675 716v1M676 645v1M676 681v1M676 707v1M676 711v1M676 715v1M676 719v1M677 690v1M677 718v5M677 725v1M678 651v2M678 662v2M678 687v1M679 663v3M679 670v1M679 698v1M679 703v1M679 726v1M680 667v1M680 680v1M680 710v5M681 670v1M681 672v1M681 704v2M681 714v3M681 718v1M681 720v1M681 724v1M681 726v4M682 670v2M682 675v2M682 692v1M682 706v1M682 708v1M683 692v2M683 711v1M683 714v1M683 716v1M683 719v2M684 687v2M684 693v1M684 714v1M685 686v1M685 690v3M685 701v2M685 708v1M685 710v1M685 721v1M685 729v1M685 732v1M686 695v2M686 699v1M686 702v2M686 707v1M686 716v1M689 698v1M689 703v1M689 705v1M689 711v1M690 690v1M690 708v2M690 712v1M691 688v1M691 694v1M691 703v2M692 690v2M692 701v1M692 704v1M692 706v4M692 714v1M692 718v3M692 723v1M693 689v2M693 694v1M693 716v2M694 685v1M694 691v4M694 698v1M694 711v1M695 692v1M695 697v1M695 715v3M696 684v2M696 693v1M696 715v1M697 673v1M697 687v1M697 704v2M697 707v1M698 673v1M698 678v2M698 684v1M699 667v2M699 673v1M699 678v1M699 681v1M699 684v1M699 686v3"/>
<path stroke="#00b15f" d="M288 672v1M293 671v1M295 671v1M300 671v1M315 696v1M316 697v1M317 693v2M318 694v2M321 702v1M330 700v2M331 697v1M332 701v3M332 708v1M338 705v1M339 706v1M340 709v1M341 703v1M341 706v3M341 710v1M342 709v1M342 712v1M344 709v1M345 709v2M346 710v1M348 713v2M352 711v1M353 711v4M354 715v1M356 719v1M357 715v1M359 714v1M359 720v1M360 715v2M361 716v1M365 716v1M366 720v1M367 720v1M368 714v1M369 719v1M373 721v1M374 718v1M374 721v1M376 722v1M383 717v1M383 719v3M384 721v1M385 723v2M386 718v1M388 719v1M404 720v1M406 723v1M411 725v1M413 725v1M415 720v1M419 721v1M420 724v1M421 723v2M422 722v1M426 723v1M435 726v1M436 725v1M618 690v2M618 721v2M618 727v2M619 682v2M619 719v1M619 724v2M619 733v1M620 697v2M620 701v6M620 712v2M620 715v1M620 724v1M621 693v3M622 697v4M622 715v1M623 708v6M623 719v1M623 721v1M625 684v1M625 718v2M625 723v2M626 665v1M626 667v1M626 672v2M626 686v1M626 724v2M627 679v2M627 683v3M627 687v1M627 689v1M627 728v1M628 686v1M628 689v1M628 702v2M628 713v1M628 722v1M628 726v2M628 730v2M629 699v4M629 710v1M630 689v1M630 706v1M630 708v1M630 711v3M630 722v3M630 726v1M631 701v1M631 707v1M631 712v1M631 714v1M631 717v2M631 724v1M632 705v1M632 718v1M632 721v3M632 726v1M633 697v2M633 707v1M633 713v4M633 728v1M634 690v2M634 702v1M634 704v1M634 709v1M634 713v1M635 710v3M635 724v1M636 650v1M636 705v1M636 710v2M636 727v1M636 731v2M637 706v1M637 708v2M637 712v1M637 719v2M637 725v1M662 715v3M662 723v1M663 709v1M663 716v1M664 728v1M664 730v1M664 733v1M666 689v1M666 693v1M666 696v1M666 702v1M666 720v1M666 725v1M666 727v1M667 659v1M667 689v3M667 698v4M667 705v1M668 712v1M668 726v1M669 675v3M669 685v2M669 688v1M669 725v1M669 729v1M670 672v2M670 675v1M670 692v1M670 694v1M670 719v1M670 721v2M670 724v2M671 696v1M671 700v1M671 708v2M671 721v2M671 728v1M672 711v1M672 713v1M672 727v2M672 731v4M673 715v1M673 719v1M674 703v3M674 717v1M675 706v1M675 714v2M675 720v1M675 724v1M676 708v1M676 710v1M676 716v2M676 720v4M677 688v2M678 727v1M679 668v2M679 704v1M679 727v8M680 666v1M680 681v2M680 730v1M681 671v1M681 686v2M681 717v1M681 721v3M681 725v1M681 730v1M682 707v1M682 712v1M682 719v3M683 712v2M683 715v1M683 717v2M683 721v1M684 723v1M685 687v1M685 689v1M685 693v1M685 703v1M685 709v1M685 714v1M685 717v1M685 726v3M685 733v2M686 697v2M686 704v2M686 717v5M689 699v1M689 702v1M690 713v3M691 692v2M691 717v1M691 725v2M692 702v2M692 705v1M692 710v1M692 713v1M693 709v2M693 715v1M693 718v1M693 721v3M694 712v3M694 726v1M695 693v2M695 706v1M695 718v2M696 688v1M696 692v1M696 694v1M696 716v1M697 671v2M697 688v1M697 691v3M697 695v1M697 702v2M697 708v1M698 674v1M698 676v2M698 685v4M698 692v1M698 715v2M699 674v1M699 682v2M699 689v1M699 695v1M699 704v2"/>
<path stroke="#00c24a" d="M289 669v1M293 668v1M294 671v1M295 670v1M297 662v1M314 687v1M318 696v1M319 700v1M319 704v1M320 699v1M323 702v1M337 704v1M340 704v2M340 710v2M342 705v2M345 711v1M346 711v1M348 711v1M349 707v1M349 711v1M350 707v2M351 710v1M354 716v2M356 720v1M358 716v2M359 713v1M360 714v1M361 717v1M365 715v1M366 719v1M367 721v1M370 717v3M371 716v1M374 717v1M374 723v1M375 725v1M376 721v1M380 718v1M382 717v2M383 716v1M386 717v1M387 721v1M391 724v1M398 719v1M401 724v2M404 719v1M406 721v2M406 724v1M409 721v1M414 723v1M418 726v1M421 727v1M423 724v1M426 724v2M435 724v1M437 726v1M618 729v2M618 732v2M619 712v1M619 714v1M619 720v1M619 722v2M619 734v1M620 707v2M620 714v1M620 716v1M620 719v1M620 725v2M621 696v2M622 718v1M623 714v1M623 722v1M623 732v1M624 715v4M625 725v1M626 666v1M627 688v1M627 732v1M628 714v1M628 732v3M629 719v3M629 726v3M630 690v2M630 707v1M630 714v1M630 717v1M630 727v1M631 702v1M631 708v1M631 716v1M631 725v2M632 719v2M633 708v1M633 712v1M633 723v3M633 729v1M634 703v1M635 725v1M636 706v4M636 712v1M636 714v1M636 730v1M637 707v1M637 721v4M637 727v1M637 729v2M637 739v1M664 729v1M664 734v1M665 733v1M666 694v1M666 728v1M666 738v2M667 729v1M668 706v2M668 727v1M668 730v1M669 687v1M669 730v1M670 693v1M670 720v1M670 726v1M670 738v1M671 699v1M671 701v1M671 707v1M671 710v2M671 729v1M672 710v1M672 714v1M672 726v1M672 729v2M673 716v1M673 718v1M673 720v1M673 726v2M674 715v2M674 718v1M675 704v2M675 721v1M675 723v1M675 725v1M676 709v1M676 724v2M677 726v2M678 728v1M679 705v1M680 741v2M682 718v1M682 722v1M682 726v6M682 735v2M683 722v1M684 724v2M685 688v1M685 694v1M685 722v1M686 725v1M689 700v2M689 712v1M689 720v4M691 689v1M691 691v1M691 718v1M691 721v4M692 711v2M693 706v1M693 708v1M693 719v2M693 724v1M694 699v1M694 704v1M694 725v1M695 698v1M695 703v3M695 707v2M695 720v1M696 689v3M696 695v3M696 702v4M696 717v1M697 689v2M697 694v1M697 696v2M697 700v2M698 675v1M698 689v3M698 693v1M698 706v1M698 714v1M698 717v1M699 675v3M699 690v1M699 693v2M699 696v2M699 720v1"/>
<path stroke="#00d435" d="M284 639v1M286 635v1M286 638v1M289 636v1M289 641v1M289 667v2M290 665v1M291 666v1M293 669v2M294 675v1M295 659v2M295 669v1M297 659v3M300 665v1M300 672v2M305 681v1M314 688v1M314 693v1M315 693v1M315 695v1M316 696v1M318 697v1M319 701v3M322 700v1M323 701v1M325 698v1M326 688v1M327 687v1M330 693v1M331 696v1M334 607v2M334 688v1M338 671v1M340 648v1M340 652v1M340 666v1M340 670v2M340 674v1M340 703v1M341 655v1M341 670v1M341 675v2M342 677v1M342 707v2M343 678v1M343 680v4M345 712v1M346 618v2M346 712v1M347 619v2M348 617v1M348 710v1M349 619v1M349 708v1M349 710v1M350 682v1M350 709v3M351 708v1M354 673v1M356 714v1M357 641v1M358 680v1M358 682v1M358 712v3M359 686v1M359 715v2M359 719v1M360 610v1M360 612v1M360 641v3M361 623v2M364 712v4M365 706v1M366 643v1M366 645v1M366 694v1M366 716v3M367 644v1M367 695v1M367 714v1M370 697v1M370 716v1M371 703v1M372 644v1M372 705v1M374 722v1M375 718v2M376 617v2M378 725v1M381 719v1M382 711v1M383 629v1M384 617v1M384 711v1M385 615v1M385 618v2M385 665v1M386 632v1M386 656v2M387 717v1M387 720v1M388 622v1M391 624v2M391 665v1M392 666v1M392 699v1M392 702v1M394 637v1M394 672v1M396 670v1M401 657v2M402 718v1M402 722v3M403 723v1M404 718v1M406 686v1M406 719v2M406 725v1M407 689v1M408 722v1M412 620v2M413 623v1M413 726v1M414 624v1M414 626v2M414 639v1M414 641v1M414 717v1M414 719v1M415 721v1M415 723v1M418 635v1M419 651v1M420 646v2M420 650v1M420 652v1M420 725v1M421 622v1M421 678v1M421 703v1M422 679v1M423 646v1M423 651v1M423 720v1M424 675v2M425 645v1M425 650v2M425 668v1M426 677v4M426 682v1M427 645v1M427 653v1M427 685v1M428 678v1M429 622v2M431 630v1M435 651v1M435 696v1M436 651v1M437 651v2M437 715v1M437 727v1M618 731v1M618 734v1M619 713v1M619 721v1M620 709v3M620 717v2M620 732v1M621 726v2M622 719v7M623 723v1M623 731v1M623 733v1M624 719v1M624 726v2M625 720v1M625 722v1M626 726v4M628 723v1M628 735v1M629 722v1M629 729v1M629 737v1M630 715v2M630 728v1M631 703v3M631 711v1M631 715v1M631 727v1M632 706v3M632 727v1M633 709v3M633 717v2M633 722v1M633 730v1M633 732v3M634 714v1M636 713v1M636 728v2M636 733v1M637 713v2M637 728v1M637 731v1M637 738v1M637 740v1M662 724v4M663 726v1M664 741v1M665 741v1M666 729v4M666 736v2M666 740v1M667 730v1M667 736v2M668 728v2M668 731v1M669 731v2M670 727v1M670 735v3M670 739v1M671 697v2M671 702v2M671 706v1M671 730v1M672 706v4M672 735v1M673 717v1M673 728v1M674 726v1M675 722v1M676 726v1M678 729v4M679 735v2M680 731v1M680 739v2M680 743v1M681 731v1M682 713v1M682 715v3M682 723v1M682 737v1M683 723v3M683 737v1M684 729v2M685 715v2M686 722v1M686 724v1M686 726v1M686 735v5M689 713v1M689 719v1M689 724v1M690 716v1M691 690v1M691 719v2M692 724v1M693 707v1M693 711v1M693 725v1M694 727v1M694 730v2M695 699v4M695 709v4M696 698v4M696 706v1M696 709v2M696 714v1M696 718v2M697 698v2M697 709v1M698 694v1M698 704v1M698 707v2M698 718v1M699 691v2M699 698v1M699 703v1M699 706v3M699 719v1"/>
<path stroke="#00e520" d="M283 636v1M284 635v1M286 636v2M288 644v2M288 649v1M289 637v1M289 640v1M289 646v2M293 664v1M295 664v1M296 666v6M306 683v1M314 694v1M320 698v1M321 703v1M322 699v1M323 683v1M324 684v1M325 686v1M327 686v1M330 608v1M330 694v1M331 695v1M334 689v1M334 691v1M338 609v1M338 613v1M340 646v2M340 653v2M340 667v3M341 671v3M341 677v2M343 706v1M346 679v1M347 618v1M347 679v1M347 712v3M348 707v1M348 709v1M349 709v1M351 709v1M355 710v1M356 713v1M357 612v1M358 615v1M358 642v1M358 681v1M358 715v1M359 641v1M359 644v1M359 717v2M360 611v1M361 718v1M365 705v1M366 644v1M366 690v2M368 715v1M368 718v1M369 718v1M372 698v1M373 712v3M374 646v1M375 720v1M377 719v2M381 717v2M383 628v1M383 715v1M384 618v1M384 712v2M385 616v2M386 620v2M386 666v1M387 718v2M388 619v3M388 623v2M392 700v2M398 659v1M399 718v4M400 670v1M402 719v3M404 716v2M406 687v1M407 690v2M407 724v1M407 726v1M413 631v1M414 640v1M414 718v1M415 639v1M415 642v1M415 722v1M419 652v1M420 651v1M421 726v1M422 723v1M423 647v1M423 650v1M423 721v1M423 723v1M424 662v1M425 669v2M425 672v1M425 684v1M426 683v1M427 651v2M427 673v1M427 686v1M431 632v1M434 694v1M435 650v1M437 655v1M437 728v1M618 736v1M620 727v1M620 731v1M620 733v1M620 735v1M621 715v1M621 719v2M621 728v1M623 724v2M623 734v1M624 720v2M624 725v1M624 728v1M624 735v2M625 721v1M626 730v3M627 733v2M628 724v2M628 736v1M629 723v3M629 736v1M629 738v1M631 709v2M631 728v2M631 734v1M632 709v1M632 712v3M632 732v3M633 719v3M633 731v1M633 735v1M633 743v1M634 716v1M634 724v1M634 735v2M634 745v1M635 736v2M636 734v1M637 732v1M662 728v1M663 730v2M664 736v1M664 740v1M664 742v1M665 734v1M665 740v1M665 742v1M666 733v3M666 741v1M666 744v1M667 731v1M667 735v1M667 738v1M667 756v2M668 732v1M669 733v2M670 728v1M671 704v2M671 731v4M672 724v2M672 736v1M673 721v1M674 719v1M674 735v1M677 728v1M678 733v1M679 737v1M680 735v4M681 732v1M682 714v1M682 724v2M682 732v1M683 726v1M683 732v1M683 736v1M683 738v1M684 728v1M684 731v1M685 723v3M685 735v1M686 723v1M686 730v2M686 740v1M689 714v1M689 718v1M689 725v1M690 717v2M691 727v1M691 739v1M692 725v1M693 726v1M694 703v1M694 715v2M694 720v1M694 724v1M694 728v2M694 732v1M695 713v2M695 721v1M696 707v2M696 711v1M696 720v1M696 727v2M696 733v1M697 713v2M697 716v2M698 695v3M698 702v2M698 705v1M698 709v2M698 713v1M698 719v3M699 699v1M699 702v1M699 709v1M699 716v3M699 721v1M699 728v2"/>
<path stroke="#00f60b" d="M283 637v2M284 638v1M288 650v1M289 638v2M295 665v1M295 668v1M315 694v1M316 695v1M318 698v1M320 696v2M324 699v1M325 699v2M326 685v1M330 607v1M334 635v1M334 690v1M338 610v1M338 612v1M341 674v1M342 676v1M343 707v1M344 710v1M346 678v1M347 617v1M347 621v1M347 678v1M347 710v2M348 708v1M354 672v1M357 714v1M359 639v2M359 642v2M359 682v1M360 685v1M364 711v1M365 713v2M375 724v1M377 721v1M378 723v2M379 725v1M380 719v1M380 721v1M385 620v1M391 622v2M398 660v2M403 726v1M407 723v1M410 672v1M415 625v1M423 648v2M423 722v1M424 659v1M425 671v1M426 684v2M427 722v4M428 677v1M434 724v1M435 721v1M435 723v1M436 652v3M436 714v1M618 735v1M618 737v1M619 735v1M620 728v3M620 734v1M620 736v4M621 718v1M621 721v2M621 724v2M621 729v1M621 738v1M621 746v1M623 726v5M624 722v3M624 729v1M624 737v1M625 726v1M626 733v4M627 742v1M629 730v1M629 735v1M629 739v1M629 741v1M630 729v1M631 730v1M631 733v1M632 710v2M632 728v4M632 735v2M633 736v1M633 742v1M633 744v1M633 751v2M634 717v1M634 720v4M634 725v2M634 732v3M634 737v2M634 744v1M634 746v2M635 735v1M635 738v1M637 733v2M637 737v1M662 729v6M663 727v1M663 729v1M663 732v3M664 735v1M664 737v3M664 755v1M665 735v3M665 739v1M665 743v3M666 742v2M666 745v1M666 752v2M667 732v1M667 744v2M667 755v1M667 758v2M668 733v5M669 737v3M670 740v1M670 744v1M671 735v1M671 750v2M673 722v2M673 729v1M673 736v2M673 740v2M674 725v1M674 727v1M674 736v3M675 726v1M676 727v1M677 729v1M677 732v2M678 734v1M679 738v1M680 732v3M680 744v1M681 733v3M682 734v1M682 738v1M682 742v3M683 729v3M683 735v1M684 726v2M685 736v1M686 729v1M686 732v1M689 715v3M689 728v3M690 719v1M690 736v2M691 738v1M692 727v2M693 714v1M693 727v1M694 700v3M694 717v3M694 721v3M694 745v1M695 725v1M695 733v2M696 712v2M696 721v4M696 726v1M696 732v1M696 734v1M697 710v1M697 712v1M697 715v1M697 718v3M697 726v1M697 735v2M697 741v2M698 698v4M698 711v2M698 722v1M698 739v2M699 700v2M699 715v1M699 727v1M699 730v1"/>
<path stroke="#15ff00" d="M284 636v2M293 665v1M294 670v1M307 690v1M337 706v1M338 611v1M342 675v1M343 708v2M346 677v1M347 677v1M347 709v1M355 709v1M357 713v1M359 683v1M361 719v1M365 711v2M368 716v2M369 717v1M375 721v1M379 724v1M380 720v1M383 626v2M393 716v1M397 719v1M397 721v1M400 671v1M403 722v1M407 719v1M407 725v1M410 670v2M415 640v2M422 724v2M423 726v1M424 661v1M427 674v1M428 675v2M435 722v1M618 738v1M619 736v1M620 740v1M621 716v2M621 723v1M621 730v6M621 737v1M622 726v1M623 738v1M624 730v2M625 727v2M625 732v5M625 738v2M626 737v1M627 735v1M627 741v1M628 737v1M629 731v2M629 740v1M629 742v1M630 737v1M631 731v2M631 735v1M632 737v1M633 737v1M633 741v1M633 750v1M633 753v1M634 715v1M634 718v2M634 727v1M634 731v1M634 739v5M634 748v1M635 730v2M635 749v3M636 739v1M637 735v2M637 741v1M637 743v1M662 735v1M662 751v1M663 728v1M663 735v3M663 741v2M664 743v3M664 754v1M664 756v1M665 738v1M665 752v1M666 751v1M666 754v1M667 733v1M667 739v1M667 743v1M667 746v1M667 754v1M668 738v2M668 749v2M668 755v1M669 735v2M670 729v4M670 734v1M670 741v1M670 743v1M671 736v1M671 749v1M673 724v2M673 730v3M673 735v1M673 738v2M673 742v4M673 753v2M674 720v1M674 724v1M674 728v1M674 734v1M674 739v1M674 748v2M674 752v2M676 728v1M677 730v2M677 734v1M679 739v1M679 742v1M680 745v1M681 738v6M682 733v1M682 739v1M682 741v1M683 727v2M683 733v1M683 739v1M684 732v1M685 737v1M686 727v2M686 733v1M686 741v1M689 726v2M690 720v2M690 723v3M690 735v1M691 728v1M692 726v1M692 729v1M693 712v1M693 728v1M693 731v2M694 733v1M694 744v1M694 746v2M695 727v1M695 732v1M695 735v1M696 725v1M696 729v1M696 731v1M696 745v2M697 711v1M697 721v1M697 727v4M697 733v2M697 737v2M697 740v1M697 743v3M698 729v1M698 738v1M698 741v1M698 744v3M699 710v1M699 722v1M699 731v1M699 743v2"/>
<path stroke="#3fff00" d="M295 667v1M307 691v1M318 699v2M324 696v1M324 698v1M326 706v1M333 688v1M343 710v1M347 622v1M357 712v1M359 684v2M360 686v1M375 722v2M377 722v1M393 715v1M397 720v1M424 660v1M434 723v1M619 737v1M619 740v1M620 741v1M620 745v1M621 736v1M621 739v1M621 745v1M621 747v1M622 727v1M622 732v2M622 738v1M623 737v1M623 739v1M624 732v1M624 734v1M624 738v1M624 745v1M625 729v1M625 737v1M625 740v1M626 741v1M627 736v2M627 740v1M627 743v1M628 738v1M629 733v2M629 743v1M630 730v3M630 738v1M632 738v1M632 741v2M632 750v1M633 738v3M633 745v1M634 728v3M634 749v3M635 726v2M635 729v1M635 732v1M635 739v1M635 748v1M635 752v1M636 736v1M636 738v1M636 740v1M637 742v1M637 744v1M662 736v1M662 746v1M662 749v2M663 738v1M663 743v1M663 751v3M664 753v1M665 750v2M665 753v2M666 746v1M666 750v1M667 734v1M667 740v3M667 747v7M668 740v2M668 746v3M668 751v1M669 740v1M670 733v1M670 742v1M670 745v1M671 748v1M671 752v1M672 737v1M672 742v3M673 733v1M673 751v2M674 729v1M674 731v3M674 740v1M674 746v2M674 750v2M675 727v1M676 729v1M676 747v2M679 740v2M679 743v1M681 736v2M681 744v1M682 740v1M683 734v1M684 733v1M684 738v2M685 738v3M686 734v1M690 722v1M690 726v4M690 734v1M691 729v3M691 735v3M693 713v1M693 729v2M693 733v1M693 739v1M693 743v1M694 743v1M695 722v1M695 724v1M695 726v1M695 728v1M695 736v5M696 730v1M696 744v1M696 747v1M697 722v4M697 731v2M697 739v1M698 723v1M698 727v2M698 730v2M698 735v3M698 742v2M698 747v1M699 711v1M699 714v1M699 726v1M699 732v1M699 736v4M699 742v1"/>
<path stroke="#69ff00" d="M295 666v1M324 697v1M344 711v1M346 676v1M347 623v2M347 708v1M355 708v1M377 723v1M403 721v1M407 722v1M408 726v1M433 721v1M434 722v1M618 739v1M619 738v2M619 741v1M620 742v3M620 746v1M621 744v1M621 748v1M622 731v1M622 734v1M622 737v1M622 739v2M622 744v2M623 735v2M623 740v1M624 733v1M624 739v4M624 744v1M625 730v2M626 738v3M626 742v1M627 738v2M627 744v1M628 739v3M628 747v2M629 744v1M629 748v1M630 733v1M630 736v1M630 739v1M630 744v1M631 736v1M632 739v2M632 743v1M632 749v1M633 749v1M634 752v1M635 728v1M635 733v2M635 740v2M635 746v2M636 735v1M636 737v1M637 745v1M662 737v1M662 747v2M663 739v2M663 744v1M663 750v1M664 752v1M665 746v1M665 749v1M665 755v1M666 747v3M668 752v1M668 754v1M671 737v1M671 746v2M672 738v4M672 745v1M672 753v1M672 757v1M673 746v5M673 755v1M674 721v3M674 730v1M674 741v1M674 754v1M675 733v1M675 735v1M675 746v2M675 755v1M676 730v1M676 733v1M676 737v1M676 749v1M679 744v1M683 740v1M684 734v1M684 736v2M684 740v1M690 730v2M690 733v1M691 732v2M693 738v1M693 740v1M694 734v1M694 738v5M694 748v1M695 723v1M695 729v1M695 731v1M695 741v2M695 747v1M696 735v1M696 740v4M696 748v1M696 752v1M697 746v1M698 724v3M698 732v2M698 748v1M699 712v2M699 723v1M699 733v1M699 735v1M699 740v2M699 745v1"/>
<path stroke="#92ff00" d="M294 668v2M326 707v1M343 711v1M347 707v1M403 719v2M407 720v2M618 740v1M618 742v1M619 742v1M621 749v1M622 728v1M622 730v1M622 735v2M622 741v3M622 746v1M623 741v1M623 746v1M624 743v1M624 746v1M625 741v1M625 744v3M627 745v1M628 742v1M630 735v1M630 740v1M630 743v1M630 745v3M631 737v3M631 742v3M631 748v2M632 748v1M633 746v1M634 753v1M635 742v4M636 741v1M662 741v5M663 745v1M663 749v1M664 746v1M665 747v2M666 755v2M668 742v1M668 753v1M670 746v1M671 738v1M671 757v2M672 746v1M672 749v1M672 752v1M672 754v3M672 758v1M673 734v1M673 756v3M674 742v3M674 761v1M675 728v1M675 732v1M675 734v1M675 736v1M675 738v3M675 748v1M676 731v2M676 734v1M676 736v1M676 738v1M676 746v1M677 735v2M679 745v1M679 748v3M680 746v3M681 745v1M683 741v2M684 735v1M690 732v1M691 734v1M692 730v1M692 739v3M693 734v1M693 741v2M694 735v1M694 737v1M695 730v1M695 743v4M695 748v1M696 739v1M696 749v3M698 734v1M699 724v2M699 734v1M699 746v1"/>
<path stroke="#bcff00" d="M346 705v1M618 741v1M618 743v1M621 740v1M622 729v1M622 747v1M623 745v1M624 747v1M625 742v2M626 743v1M627 746v1M629 745v1M629 747v1M630 734v1M630 741v2M631 740v2M631 745v3M631 750v1M632 744v1M632 747v1M633 747v2M634 754v1M636 746v2M662 738v1M662 740v1M663 746v3M664 751v1M668 743v3M669 741v1M669 751v2M670 747v1M671 739v7M671 753v1M672 747v2M672 750v2M672 759v1M673 759v1M674 745v1M674 755v1M674 757v1M674 760v1M675 729v1M675 731v1M675 737v1M675 749v1M675 753v2M675 756v1M676 735v1M677 737v1M677 749v1M678 735v1M679 747v1M679 751v1M680 749v1M692 734v1M692 738v1M692 742v1M693 737v1M694 736v1M694 749v1M695 749v2M696 736v3M697 747v1M697 750v1M698 749v1"/>
<path stroke="#e6ff00" d="M618 746v1M619 743v1M621 741v3M622 748v2M623 742v1M628 743v4M629 746v1M632 745v1M636 742v4M662 739v1M664 747v1M669 749v2M669 756v3M670 748v1M671 756v1M674 756v1M674 758v2M675 730v1M675 741v1M675 745v1M676 750v1M677 738v1M677 748v1M677 750v1M678 736v1M678 739v1M678 742v1M678 754v1M679 752v1M680 750v1M692 733v1M692 735v1M692 737v1M693 735v2M697 748v2"/>
<path stroke="#fff800" d="M618 744v1M619 744v1M623 743v2M624 748v1M626 744v1M626 750v1M631 751v1M632 746v1M637 748v2M664 750v1M669 742v1M669 748v1M669 753v1M669 755v1M671 754v1M675 744v1M675 750v3M676 739v1M676 754v1M677 739v3M677 751v1M677 756v1M678 737v2M678 740v2M678 743v1M678 753v1M679 746v1M679 753v1M692 731v2M692 736v1M692 743v1"/>
<path stroke="#ffe500" d="M618 745v1M624 749v3M626 745v1M626 748v2M631 755v3M637 746v2M664 748v2M669 743v5M670 749v2M670 752v2M671 755v1M672 760v1M675 742v1M675 757v1M676 740v2M676 745v1M676 751v1M677 742v1M677 747v1M677 752v1M677 755v1M678 744v2M678 747v2M678 752v1M698 750v1"/>
<path stroke="#ffd200" d="M626 747v1M631 752v3M669 754v1M670 751v1M675 743v1M675 758v1M676 742v3M676 752v2M677 746v1M677 753v2M678 746v1M678 749v1M678 751v1M698 751v1"/>
<path stroke="#ffc000" d="M626 746v1M677 743v1M678 750v1"/>
<path stroke="#ffad00" d="M677 744v2"/>
</g>
<rect x="50" y="579" width="651" height="1" fill="#000"/>
<rect x="50" y="809" width="651" height="1" fill="#000"/>
<rect x="50" y="579" width="1" height="231" fill="#000"/>
<rect x="700" y="579" width="1" height="231" fill="#000"/>
<text x="46.5" y="813.6" text-anchor="end" font-size="12">0</text>
<rect x="50" y="790" width="6" height="1" fill="#000"/>
<rect x="695" y="790" width="6" height="1" fill="#000"/>
<text x="46.5" y="794.6" text-anchor="end" font-size="12">1</text>
<rect x="50" y="771" width="6" height="1" fill="#000"/>
<rect x="695" y="771" width="6" height="1" fill="#000"/>
<text x="46.5" y="775.6" text-anchor="end" font-size="12">2</text>
<rect x="50" y="752" width="6" height="1" fill="#000"/>
<rect x="695" y="752" width="6" height="1" fill="#000"/>
<text x="46.5" y="756.6" text-anchor="end" font-size="12">3</text>
<rect x="50" y="733" width="6" height="1" fill="#000"/>
<rect x="695" y="733" width="6" height="1" fill="#000"/>
<text x="46.5" y="737.6" text-anchor="end" font-size="12">4</text>
<rect x="50" y="714" width="6" height="1" fill="#000"/>
<rect x="695" y="714" width="6" height="1" fill="#000"/>
<text x="46.5" y="718.6" text-anchor="end" font-size="12">5</text>
<rect x="50" y="694" width="6" height="1" fill="#000"/>
<rect x="695" y="694" width="6" height="1" fill="#000"/>
<text x="46.5" y="698.6" text-anchor="end" font-size="12">6</text>
<rect x="50" y="675" width="6" height="1" fill="#000"/>
<rect x="695" y="675" width="6" height="1" fill="#000"/>
<text x="46.5" y="679.6" text-anchor="end" font-size="12">7</text>
<rect x="50" y="656" width="6" height="1" fill="#000"/>
<rect x="695" y="656" width="6" height="1" fill="#000"/>
<text x="46.5" y="660.6" text-anchor="end" font-size="12">8</text>
<rect x="50" y="637" width="6" height="1" fill="#000"/>
<rect x="695" y="637" width="6" height="1" fill="#000"/>
<text x="46.5" y="641.6" text-anchor="end" font-size="12">9</text>
<rect x="50" y="618" width="6" height="1" fill="#000"/>
<rect x="695" y="618" width="6" height="1" fill="#000"/>
<text x="46.5" y="622.6" text-anchor="end" font-size="12">10</text>
<rect x="50" y="599" width="6" height="1" fill="#000"/>
<rect x="695" y="599" width="6" height="1" fill="#000"/>
<text x="46.5" y="603.6" text-anchor="end" font-size="12">11</text>
<text x="46.5" y="583.6" text-anchor="end" font-size="12">12</text>
<text x="49.6" y="824" text-anchor="middle" font-size="12">00:00</text>
<rect x="158" y="579" width="1" height="6" fill="#000"/>
<rect x="158" y="804" width="1" height="6" fill="#000"/>
<text x="157.93" y="824" text-anchor="middle" font-size="12">04:00</text>
<rect x="266" y="579" width="1" height="6" fill="#000"/>
<rect x="266" y="804" width="1" height="6" fill="#000"/>
<text x="266.27" y="824" text-anchor="middle" font-size="12">08:00</text>
<rect x="375" y="579" width="1" height="6" fill="#000"/>
<rect x="375" y="804" width="1" height="6" fill="#000"/>
<text x="374.6" y="824" text-anchor="middle" font-size="12">12:00</text>
<rect x="483" y="579" width="1" height="6" fill="#000"/>
<rect x="483" y="804" width="1" height="6" fill="#000"/>
<text x="482.93" y="824" text-anchor="middle" font-size="12">16:00</text>
<rect x="591" y="579" width="1" height="6" fill="#000"/>
<rect x="591" y="804" width="1" height="6" fill="#000"/>
<text x="591.27" y="824" text-anchor="middle" font-size="12">20:00</text>
<text x="699.6" y="824" text-anchor="middle" font-size="12">00:00</text>
<text x="374.8" y="841.6" text-anchor="middle" font-size="12">Time (UTC)</text>
<text x="27" y="695.4" text-anchor="middle" transform="rotate(-90 27 695.4)" font-size="12">Height (km)</text>
<text x="57.3" y="596" text-anchor="start" font-weight="bold" textLength="48.2" lengthAdjust="spacingAndGlyphs" font-size="12">Spectral</text>
<text x="110.55" y="596" text-anchor="start" font-weight="bold" textLength="33.2" lengthAdjust="spacingAndGlyphs" font-size="12">width</text>
<rect x="754" y="614" width="17" height="161" fill="#000"/>
<rect x="755" y="615" width="15" height="3" fill="#8a0076"/>
<rect x="755" y="618" width="15" height="3" fill="#9d0063"/>
<rect x="755" y="621" width="15" height="3" fill="#b00050"/>
<rect x="755" y="624" width="15" height="3" fill="#c3003c"/>
<rect x="755" y="627" width="15" height="3" fill="#d60029"/>
<rect x="755" y="630" width="15" height="3" fill="#e90016"/>
<rect x="755" y="633" width="15" height="3" fill="#fd0002"/>
<rect x="755" y="636" width="15" height="3" fill="#ff1000"/>
<rect x="755" y="639" width="15" height="3" fill="#ff2300"/>
<rect x="755" y="642" width="15" height="3" fill="#ff3500"/>
<rect x="755" y="645" width="15" height="3" fill="#ff4800"/>
<rect x="755" y="648" width="15" height="3" fill="#ff5a00"/>
<rect x="755" y="651" width="15" height="3" fill="#ff6d00"/>
<rect x="755" y="654" width="15" height="3" fill="#ff7f00"/>
<rect x="755" y="657" width="15" height="3" fill="#ff9200"/>
<rect x="755" y="660" width="15" height="3" fill="#ffa400"/>
<rect x="755" y="663" width="15" height="3" fill="#ffb700"/>
<rect x="755" y="666" width="15" height="3" fill="#ffc900"/>
<rect x="755" y="669" width="15" height="3" fill="#ffdc00"/>
<rect x="755" y="672" width="15" height="3" fill="#ffee00"/>
<rect x="755" y="675" width="15" height="3" fill="#fbff00"/>
<rect x="755" y="678" width="15" height="3" fill="#d1ff00"/>
<rect x="755" y="681" width="15" height="3" fill="#a7ff00"/>
<rect x="755" y="684" width="15" height="3" fill="#7eff00"/>
<rect x="755" y="687" width="15" height="3" fill="#54ff00"/>
<rect x="755" y="690" width="15" height="3" fill="#2aff00"/>
<rect x="755" y="693" width="15" height="3" fill="#00ff00"/>
<rect x="755" y="696" width="15" height="3" fill="#00ee15"/>
<rect x="755" y="699" width="15" height="3" fill="#00dc2a"/>
<rect x="755" y="702" width="15" height="3" fill="#00cb3f"/>
<rect x="755" y="705" width="15" height="3" fill="#00ba55"/>
<rect x="755" y="708" width="15" height="3" fill="#00a86a"/>
<rect x="755" y="711" width="15" height="3" fill="#00977f"/>
<rect x="755" y="714" width="15" height="3" fill="#008493"/>
<rect x="755" y="717" width="15" height="3" fill="#006fa4"/>
<rect x="755" y="720" width="15" height="3" fill="#005ab5"/>
<rect x="755" y="723" width="15" height="3" fill="#0045c7"/>
<rect x="755" y="726" width="15" height="3" fill="#0030d8"/>
<rect x="755" y="729" width="15" height="3" fill="#001ae9"/>
<rect x="755" y="732" width="15" height="3" fill="#0005fb"/>
<rect x="755" y="735" width="15" height="3" fill="#0c0cfd"/>
<rect x="755" y="738" width="15" height="3" fill="#1d1dfb"/>
<rect x="755" y="741" width="15" height="3" fill="#2e2ef9"/>
<rect x="755" y="744" width="15" height="3" fill="#3e3ef6"/>
<rect x="755" y="747" width="15" height="3" fill="#4f4ff4"/>
<rect x="755" y="750" width="15" height="3" fill="#5f5ff2"/>
<rect x="755" y="753" width="15" height="3" fill="#7070ef"/>
<rect x="755" y="756" width="15" height="3" fill="#8181ed"/>
<rect x="755" y="759" width="15" height="3" fill="#9191eb"/>
<rect x="755" y="762" width="15" height="3" fill="#a2a2e8"/>
<rect x="755" y="765" width="15" height="3" fill="#b2b2e6"/>
<rect x="755" y="768" width="15" height="3" fill="#c3c3e4"/>
<rect x="755" y="771" width="15" height="3" fill="#d4d4e1"/>
<text x="751" y="619.8" text-anchor="end" font-size="12">10<tspan font-size="8" dy="-4.4">0.5</tspan></text>
<text x="751" y="659.8" text-anchor="end" font-size="12">10<tspan font-size="8" dy="-4.4">0</tspan></text>
<text x="751" y="699.8" text-anchor="end" font-size="12">10<tspan font-size="8" dy="-4.4">-0.5</tspan></text>
<text x="751" y="739.8" text-anchor="end" font-size="12">10<tspan font-size="8" dy="-4.4">-1</tspan></text>
<text x="751" y="779.8" text-anchor="end" font-size="12">10<tspan font-size="8" dy="-4.4">-1.5</tspan></text>
<text x="716.5" y="695.3" text-anchor="middle" transform="rotate(-90 716.5 695.3)" font-size="12">m s<tspan font-size="8" dy="-6">-1</tspan></text>
</g>
<g id="p3">
<g transform="translate(.5 0)" fill="none" stroke-width="1">
<path stroke="#dcdce0" d="M330 959v1M348 980v1M354 974v1M360 982v1M366 976v1M371 981v1M375 977v3M377 967v3M413 946v1M414 960v1M418 993v1M419 990v1M428 975v3M625 974v8M626 985v5M627 985v1M627 989v4M627 999v3M628 988v3M628 1003v2M630 965v1M633 1013v2M634 943v2M635 945v10M635 989v3M664 981v1M664 987v3M664 995v1M664 1001v3M664 1010v3M665 974v2M665 978v5M665 987v3M665 991v3M665 998v6M665 1010v6M666 979v3M666 993v1M666 1007v5M666 1013v3M666 1022v2M667 992v7M667 1007v1M667 1014v2M667 1025v1M669 991v3M670 984v3M670 1007v3M671 988v2M671 995v1M671 1020v2M672 962v1M672 989v4M672 1002v3M674 978v2M676 964v1M677 965v2M677 982v4M678 977v2M678 983v1M678 987v6M678 994v2M679 985v11M679 1002v3M680 966v1M680 994v6M680 1009v6M681 999v1M682 971v1M682 1005v3M691 996v1M691 1017v1M692 991v2M694 976v2"/>
<path stroke="#cbcbe2" d="M354 973v1M354 975v1M360 981v1M364 978v1M365 978v1M371 982v1M375 980v1M375 985v2M397 987v1M399 983v3M402 987v1M405 934v1M414 961v1M428 974v1M430 972v1M435 990v1M625 973v1M625 982v3M626 976v5M626 984v1M626 990v1M627 976v2M627 986v3M627 993v6M627 1002v1M627 1011v3M628 976v2M628 987v1M628 991v1M628 997v6M628 1005v1M629 986v2M629 1007v2M629 1011v2M630 966v1M631 954v1M631 964v1M632 954v3M632 961v1M633 935v1M633 996v3M633 1003v2M633 1012v1M633 1015v1M634 940v3M634 951v1M634 1005v2M634 1011v2M635 955v1M635 960v1M635 992v1M635 1007v1M664 971v3M664 980v1M664 982v2M664 990v1M664 996v2M664 1000v1M664 1004v1M664 1009v1M664 1013v3M664 1023v1M665 968v2M665 972v2M665 976v2M665 986v1M665 990v1M665 994v4M665 1021v3M666 985v3M666 992v1M666 994v1M666 996v1M666 1006v1M666 1012v1M666 1020v2M666 1024v1M667 985v1M667 1005v2M667 1008v1M667 1013v1M667 1016v2M667 1020v2M667 1023v2M668 985v1M668 1018v3M668 1025v1M669 965v2M669 979v3M669 994v1M669 996v4M670 979v2M670 987v1M670 1005v2M670 1010v1M670 1013v3M671 985v1M671 994v1M671 996v3M671 1019v1M672 956v2M672 961v1M672 997v1M672 1000v2M672 1005v1M673 977v1M673 1010v6M673 1022v3M674 980v1M674 1005v1M674 1018v2M674 1022v2M675 955v1M675 960v2M676 965v1M676 975v1M677 967v2M677 975v1M677 981v1M677 986v1M677 994v2M678 970v1M678 979v1M678 982v1M678 984v3M678 993v1M678 996v1M679 978v2M679 998v4M679 1005v3M679 1012v1M680 965v1M680 967v1M680 974v1M680 986v8M680 1000v1M680 1007v2M680 1015v1M681 996v3M681 1000v1M682 970v1M682 972v1M691 984v1M691 995v1M691 1009v1M692 985v1M692 993v1M694 978v1M694 996v1"/>
<path stroke="#bbbbe5" d="M330 958v1M330 960v1M364 977v1M365 977v1M366 977v1M377 970v1M411 980v2M413 947v1M414 959v1M427 986v2M435 991v1M624 963v3M624 975v1M626 965v1M626 974v2M626 981v1M626 983v1M626 991v5M626 1006v1M627 978v2M627 983v2M627 1003v2M628 978v1M628 986v1M628 996v1M628 1006v1M629 963v1M629 975v1M629 985v1M629 998v1M629 1006v1M629 1009v2M629 1013v1M630 964v1M630 995v2M631 953v1M631 955v1M631 961v3M631 965v1M631 990v1M631 993v2M631 1004v1M632 952v2M632 957v1M632 960v1M632 962v1M632 994v3M632 1003v4M632 1012v2M633 934v1M633 957v3M633 999v1M633 1002v1M633 1005v2M633 1010v2M634 939v1M634 950v1M634 952v4M634 1007v4M635 940v5M635 959v1M635 961v1M635 988v1M635 993v1M635 1006v1M635 1008v1M636 961v2M664 957v8M664 970v1M664 974v2M664 979v1M664 984v1M664 986v1M664 991v4M664 998v2M664 1005v4M664 1022v1M665 961v2M665 967v1M665 970v2M665 983v3M665 1004v1M665 1007v3M665 1016v1M665 1020v1M666 978v1M666 982v1M666 984v1M666 988v1M666 995v1M666 997v2M666 1001v5M666 1016v1M666 1019v1M667 986v1M667 991v1M667 999v1M667 1009v4M667 1018v2M667 1022v1M667 1026v1M668 964v1M668 971v4M668 979v2M668 986v1M668 991v6M668 999v3M668 1005v1M668 1007v3M668 1016v2M668 1021v1M668 1024v1M669 963v2M669 967v2M669 975v1M669 977v2M669 982v3M669 986v5M669 995v1M669 1000v5M669 1007v3M670 977v2M670 981v3M670 988v1M670 993v1M670 995v1M670 1011v2M671 954v2M671 961v1M671 983v2M671 986v2M671 990v1M671 993v1M671 999v1M671 1004v1M671 1017v2M671 1022v1M672 958v3M672 963v1M672 967v1M672 988v1M672 996v1M672 998v2M672 1006v1M672 1012v3M673 956v4M673 962v1M673 971v2M673 975v2M673 978v1M673 997v1M673 1006v4M673 1016v2M673 1019v3M673 1025v1M674 942v1M674 977v1M674 981v2M674 1006v4M674 1016v2M674 1020v2M674 1024v1M675 954v1M675 959v1M675 962v2M675 988v2M676 956v2M676 959v2M676 963v1M676 969v1M676 983v2M676 1017v2M677 964v1M677 969v1M677 972v3M677 976v5M677 987v1M677 992v2M678 969v1M678 971v1M678 976v1M678 980v2M678 997v1M678 1000v3M679 963v2M679 977v1M679 980v1M679 984v1M679 996v2M679 1008v4M679 1013v1M680 968v1M680 973v1M680 975v1M680 985v1M680 1005v2M681 962v1M681 971v1M681 978v2M681 994v2M681 1001v1M681 1009v3M682 996v6M682 1008v3M683 1007v1M691 983v1M691 985v2M691 994v1M691 1008v1M691 1010v1M691 1016v1M692 986v3M692 990v1M693 986v2M693 992v3M694 979v1M694 995v1M694 997v1M694 1000v3M694 1014v3M695 1003v1M696 1003v2M697 1005v2M697 1011v2M698 1009v2M698 1014v2M699 1013v1"/>
<path stroke="#aaaae7" d="M337 971v1M343 958v1M344 956v1M345 951v1M347 973v1M348 979v1M354 976v1M358 974v1M364 976v1M365 979v1M372 986v1M375 976v1M375 987v1M381 981v1M395 986v1M397 980v1M399 986v1M402 988v1M418 992v1M419 984v1M423 982v1M423 989v2M426 952v1M427 972v2M430 973v1M434 981v1M624 962v1M624 974v1M624 976v1M624 1006v1M625 972v1M625 994v1M625 1009v2M626 966v4M626 973v1M626 982v1M626 997v9M626 1007v1M626 1010v3M627 967v1M627 975v1M627 980v3M627 1010v1M627 1014v1M628 975v1M628 979v3M628 992v1M628 1007v2M628 1010v2M629 962v1M629 964v1M629 974v1M629 976v1M629 983v2M629 988v1M629 996v2M629 999v1M629 1005v1M629 1014v1M630 967v1M630 969v3M630 988v7M630 997v2M630 1007v2M630 1014v3M631 944v1M631 951v2M631 956v1M631 960v1M631 983v1M631 989v1M631 991v2M631 995v2M631 999v1M631 1003v1M631 1013v1M632 958v1M632 963v2M632 970v3M632 986v2M632 992v2M632 1002v1M632 1007v2M632 1011v1M633 933v1M633 936v2M633 941v2M633 956v1M633 960v1M633 994v2M633 1000v2M633 1007v3M633 1016v1M634 938v1M634 945v1M634 949v1M634 956v2M634 981v2M634 1002v3M634 1013v5M635 939v1M635 958v1M635 962v3M635 977v1M635 984v2M635 987v1M635 994v2M635 1005v1M635 1009v1M636 956v2M636 959v2M636 963v1M636 990v3M663 989v3M664 956v1M664 965v1M664 969v1M664 976v3M664 985v1M665 960v1M665 963v1M665 965v2M665 1005v2M665 1017v3M666 976v2M666 983v1M666 989v1M666 991v1M666 999v2M666 1017v2M667 964v1M667 979v6M667 987v4M667 1000v3M668 963v1M668 975v1M668 981v1M668 984v1M668 987v4M668 997v2M668 1002v3M668 1006v1M668 1010v2M668 1022v2M669 962v1M669 969v1M669 973v2M669 976v1M669 985v1M669 1005v2M669 1010v1M670 966v3M670 976v1M670 992v1M670 994v1M670 996v2M671 960v1M671 962v1M671 991v2M671 1000v4M671 1005v1M671 1016v1M672 954v2M672 964v1M672 966v1M672 968v1M672 985v3M672 993v1M672 1007v1M672 1011v1M672 1015v1M672 1022v4M673 955v1M673 960v2M673 963v1M673 965v6M673 973v2M673 979v5M673 996v1M673 998v1M673 1018v1M674 941v1M674 943v2M674 953v3M674 958v1M674 962v3M674 976v1M674 983v1M674 1010v2M675 953v1M675 956v3M675 964v1M675 971v1M675 987v1M675 994v2M675 1016v3M676 958v1M676 961v2M676 966v1M676 968v1M676 970v1M676 974v1M676 982v1M676 988v2M676 992v2M676 1016v1M676 1019v1M677 963v1M677 970v2M677 988v4M677 996v2M678 964v5M678 972v1M678 998v2M678 1003v2M679 962v1M679 976v1M679 981v3M679 1014v1M679 1018v2M680 963v2M680 972v1M680 977v3M680 1001v4M680 1018v1M681 961v1M681 963v1M681 970v1M681 972v1M681 977v1M681 980v4M681 985v1M681 988v3M681 992v2M681 1002v4M681 1007v2M681 1012v1M681 1018v1M682 966v4M682 973v3M682 980v1M682 1002v1M682 1004v1M682 1011v1M683 1006v1M683 1008v1M684 990v1M691 980v3M691 987v1M691 991v3M691 997v1M691 1011v1M691 1015v1M692 984v1M692 989v1M692 994v1M693 988v1M693 990v2M693 995v1M694 980v1M694 998v2M694 1003v1M694 1013v1M695 985v5M695 1004v2M696 985v1M696 1002v1M696 1015v1M697 976v1M697 1004v1M697 1007v2M697 1010v1M698 986v1M698 1008v1M698 1011v1M698 1013v1M698 1016v1M699 990v1M699 998v2M699 1012v1M699 1014v1"/>
<path stroke="#9a9ae9" d="M337 970v1M340 948v2M340 965v2M344 948v1M345 952v1M347 974v1M348 969v1M353 967v3M354 972v1M359 982v1M365 976v1M366 975v1M372 985v1M376 966v1M395 985v1M397 979v1M399 982v1M399 987v2M419 983v1M423 981v1M423 983v1M426 951v1M427 980v2M427 985v1M428 973v1M428 987v2M431 989v1M623 1002v2M624 966v5M624 973v1M624 977v2M624 980v4M624 1005v1M624 1007v1M625 962v5M625 969v1M625 985v2M625 993v1M625 995v1M625 1005v1M625 1007v2M626 963v2M626 972v1M626 996v1M626 1008v2M626 1013v1M627 968v1M627 971v1M627 974v1M627 1005v5M628 952v2M628 962v2M628 967v1M628 982v1M628 985v1M628 1009v1M628 1012v1M629 954v1M629 977v2M629 981v2M629 1000v1M629 1015v1M630 953v4M630 963v1M630 968v1M630 972v1M630 1009v2M630 1013v1M631 941v3M631 950v1M631 957v1M631 959v1M631 966v1M631 984v1M631 988v1M631 997v2M631 1000v3M631 1005v1M631 1012v1M631 1014v1M631 1016v1M632 948v2M632 951v1M632 959v1M632 965v1M632 969v1M632 973v2M632 985v1M632 988v1M632 991v1M632 997v1M632 1000v2M632 1009v2M632 1014v1M633 930v3M633 938v3M633 943v1M633 951v3M633 961v3M633 975v2M633 984v2M633 993v1M634 937v1M634 946v3M634 965v7M634 976v3M635 938v1M635 956v2M635 968v6M635 976v1M635 978v2M635 983v1M635 986v1M635 1010v2M636 948v2M636 958v1M636 964v1M636 993v1M636 995v1M636 1001v3M663 967v2M663 982v3M663 992v1M663 995v1M663 1012v1M663 1022v1M664 966v1M664 1016v1M664 1021v1M664 1024v1M665 957v3M665 964v1M665 1024v1M666 956v2M666 969v2M666 990v1M667 963v1M667 978v1M667 1003v2M668 951v4M668 962v1M668 970v1M668 978v1M668 983v1M668 1012v2M668 1015v1M668 1026v1M669 960v2M669 970v3M669 1021v2M670 951v2M670 960v1M670 965v1M670 969v4M670 989v3M670 998v1M670 1004v1M670 1016v2M670 1026v1M671 953v1M671 963v2M671 982v1M671 1006v1M671 1015v1M671 1023v1M672 953v1M672 965v1M672 969v5M672 982v1M672 1008v3M672 1016v6M673 964v1M673 984v1M673 989v1M673 1002v1M673 1005v1M674 940v1M674 952v1M674 956v2M674 959v1M674 961v1M674 965v1M674 969v3M674 984v1M674 996v1M674 1004v1M674 1012v4M674 1025v1M675 970v1M675 972v1M675 977v7M675 985v2M675 990v1M675 993v1M675 1019v1M675 1023v3M676 955v1M676 967v1M676 971v3M676 976v1M676 981v1M676 985v1M676 987v1M676 990v2M676 994v3M677 956v1M677 998v1M677 1002v3M677 1019v1M678 963v1M678 973v1M678 975v1M679 957v5M679 965v2M679 970v3M679 1015v1M679 1017v1M679 1020v1M680 957v3M680 969v1M680 971v1M680 976v1M680 980v5M680 1016v2M681 952v3M681 959v2M681 964v1M681 969v1M681 973v1M681 976v1M681 984v1M681 986v2M681 991v1M681 1006v1M681 1013v1M681 1017v1M682 959v1M682 965v1M682 979v1M682 981v1M682 989v4M682 1003v1M683 950v1M683 969v5M683 976v1M684 989v1M684 991v1M691 970v2M691 976v2M691 979v1M691 988v3M691 1005v3M691 1012v1M691 1014v1M692 983v1M692 995v1M692 998v1M693 985v1M693 989v1M693 996v1M693 1002v1M693 1009v1M693 1013v1M694 975v1M694 981v2M694 994v1M694 1012v1M695 990v1M695 1002v1M695 1006v1M695 1008v3M696 986v1M696 997v2M696 1011v4M697 975v1M697 977v1M697 996v1M697 999v1M697 1003v1M697 1009v1M698 985v1M698 987v1M698 1005v3M698 1012v1M699 989v1M699 1000v2M699 1006v6"/>
<path stroke="#8989ec" d="M330 961v1M337 972v1M339 963v2M343 957v1M344 955v1M345 953v1M347 975v1M348 968v1M349 978v3M353 970v2M354 977v1M358 975v1M359 976v1M365 974v2M365 980v1M371 973v1M375 975v1M375 984v1M376 989v2M377 971v1M381 980v1M388 985v1M397 986v1M398 978v2M399 989v1M410 953v1M411 969v1M413 939v1M418 978v2M419 989v1M421 959v1M421 969v1M422 967v1M426 953v1M427 950v1M427 974v1M427 988v1M429 980v1M430 971v1M430 979v1M432 980v4M433 985v1M434 980v1M436 970v2M437 985v2M622 979v2M623 986v2M623 1001v1M623 1004v1M624 961v1M624 971v2M624 979v1M624 984v1M624 996v2M624 1008v1M624 1010v4M625 956v2M625 961v1M625 967v2M625 970v2M625 987v3M625 1003v2M625 1006v1M625 1011v1M625 1013v1M626 961v2M626 970v2M627 961v2M627 966v1M627 969v2M627 972v2M628 954v1M628 961v1M628 964v3M628 968v1M628 974v1M628 983v2M628 993v3M628 1013v3M629 953v1M629 955v1M629 961v1M629 965v2M629 973v1M629 979v2M629 989v5M629 995v1M629 1001v4M629 1016v1M630 951v2M630 957v2M630 973v3M630 978v6M630 987v1M630 999v1M630 1006v1M630 1011v2M631 933v4M631 940v1M631 945v5M631 958v1M631 976v2M631 982v1M631 987v1M631 1006v6M631 1015v1M632 938v3M632 947v1M632 950v1M632 966v3M632 989v2M632 998v2M632 1015v1M633 929v1M633 944v1M633 947v1M633 954v2M633 964v2M633 970v5M633 977v1M633 983v1M633 986v1M633 992v1M634 933v2M634 936v1M634 958v1M634 964v1M634 975v1M634 979v2M634 983v1M634 996v1M634 1001v1M635 936v2M635 965v3M635 974v2M635 980v3M635 1000v2M636 943v1M636 947v1M636 950v1M636 955v1M636 967v3M636 989v1M636 994v1M636 996v2M636 1000v1M636 1004v1M663 966v1M663 969v2M663 981v1M663 988v1M663 993v2M663 1011v1M663 1013v1M663 1021v1M663 1023v1M664 949v7M664 967v2M664 1017v1M665 956v1M666 961v2M666 968v1M666 971v1M666 974v2M666 1025v1M667 965v2M667 973v2M667 976v2M668 950v1M668 955v2M668 958v4M668 965v1M668 969v1M668 982v1M668 1014v1M669 959v1M669 1011v1M669 1019v2M669 1025v1M670 950v1M670 953v3M670 959v1M670 961v1M670 973v3M670 999v5M670 1018v1M670 1025v1M671 952v1M671 959v1M671 978v2M671 1007v2M671 1010v5M671 1026v1M672 952v1M672 974v2M672 981v1M672 983v1M672 994v2M672 1026v1M673 954v1M673 985v1M673 988v1M673 990v1M673 999v3M673 1003v1M674 939v1M674 945v4M674 951v1M674 960v1M674 966v1M674 968v1M674 972v1M674 986v3M674 997v1M674 1002v2M675 952v1M675 965v2M675 969v1M675 973v1M675 984v1M675 991v2M675 1005v1M675 1009v2M675 1015v1M675 1020v1M675 1022v1M676 977v1M676 980v1M676 986v1M676 997v1M676 1007v2M676 1020v1M677 954v2M677 957v1M677 961v2M677 999v3M677 1018v1M677 1020v1M678 947v2M678 952v3M678 960v1M678 962v1M678 974v1M679 956v1M679 967v1M679 969v1M679 973v1M680 947v2M680 954v1M680 956v1M680 960v3M680 970v1M681 949v3M681 958v1M681 965v4M681 974v2M681 1014v1M681 1016v1M681 1019v1M682 951v2M682 958v1M682 960v2M682 963v2M682 976v1M682 978v1M682 982v1M682 988v1M682 993v3M683 951v1M683 957v1M683 966v3M683 974v2M683 977v4M683 989v3M683 1002v1M683 1005v1M684 976v3M684 985v4M684 992v1M690 1006v6M691 975v1M691 978v1M691 1000v2M691 1013v1M692 969v1M692 976v1M692 978v4M692 997v1M692 999v1M692 1010v1M692 1016v1M693 968v2M693 972v4M693 980v1M693 997v2M693 1001v1M693 1003v1M693 1008v1M693 1010v1M693 1012v1M694 983v2M694 993v1M694 1004v1M694 1008v4M695 991v1M695 995v1M695 1007v1M695 1011v2M695 1016v2M696 987v4M696 993v1M696 996v1M696 999v1M696 1001v1M696 1005v1M696 1010v1M697 974v1M697 978v1M697 997v2M697 1000v3M698 984v1M698 988v4M698 999v4M699 988v1M699 991v1M699 997v1M699 1002v1M699 1005v1M699 1015v4"/>
<path stroke="#7878ee" d="M330 968v1M340 953v3M340 967v1M347 977v1M348 944v1M349 947v1M349 977v1M350 971v2M351 951v2M351 970v1M353 972v1M361 982v1M372 984v1M376 967v1M376 988v1M377 972v1M377 988v1M379 983v1M401 982v1M406 940v1M411 968v1M411 970v1M412 965v1M412 975v1M413 940v3M413 966v1M414 969v1M418 977v1M418 982v2M420 973v1M422 968v1M423 980v1M424 957v2M424 988v1M427 951v1M427 971v1M427 975v2M427 979v1M427 984v1M428 972v1M428 978v1M428 986v1M428 989v1M429 964v1M433 984v1M433 990v1M434 990v1M435 974v2M435 989v1M619 999v5M620 1009v1M621 975v1M622 978v1M622 981v1M623 961v3M623 973v3M623 985v1M623 988v1M623 990v2M623 1007v3M624 955v2M624 960v1M624 998v1M624 1004v1M624 1009v1M624 1014v1M625 958v1M625 990v1M625 992v1M625 996v1M625 998v1M625 1002v1M625 1012v1M626 951v5M626 957v4M627 956v1M627 960v1M627 963v3M627 1015v1M628 944v1M628 951v1M628 955v1M628 960v1M628 969v5M628 1017v1M629 952v1M629 956v1M629 959v2M629 967v2M629 971v2M629 994v1M630 942v3M630 949v2M630 962v1M630 976v2M630 984v3M630 1000v4M630 1005v1M630 1017v1M631 930v3M631 937v3M631 967v4M631 978v1M631 985v2M631 1017v1M632 937v1M632 941v1M632 946v1M632 975v1M632 1016v1M633 928v1M633 945v2M633 950v1M633 966v4M633 978v1M633 982v1M633 987v5M633 1017v1M634 932v1M634 935v1M634 959v1M634 962v2M634 972v3M634 984v1M634 993v3M634 997v4M635 1002v3M635 1012v1M636 938v2M636 941v2M636 944v3M636 951v1M636 966v1M636 970v1M636 986v3M636 998v2M636 1009v2M637 1009v1M662 1023v3M663 952v2M663 961v1M663 964v2M663 971v2M663 974v3M663 987v1M663 1000v5M663 1006v2M663 1010v1M663 1014v1M663 1019v2M663 1024v1M664 948v1M664 1018v3M665 951v2M666 955v1M666 958v1M666 960v1M666 965v3M666 972v2M667 952v7M667 962v1M667 967v1M667 971v2M667 975v1M667 1027v1M668 949v1M668 957v1M668 966v3M668 976v2M669 954v1M669 1018v1M669 1023v1M670 956v1M670 1019v1M670 1024v1M670 1027v1M671 951v1M671 956v1M671 958v1M671 965v1M671 970v1M671 977v1M671 980v2M671 1009v1M671 1024v2M671 1027v2M672 950v2M672 980v1M672 984v1M673 942v1M673 949v3M673 953v1M673 986v2M673 991v1M673 995v1M673 1004v1M673 1026v1M674 937v2M674 949v2M674 967v1M674 973v3M674 985v1M674 989v1M674 995v1M674 998v1M674 1001v1M675 948v4M675 967v2M675 974v3M675 996v1M675 1003v2M675 1006v3M675 1011v1M675 1014v1M675 1021v1M676 946v1M676 954v1M676 978v2M676 998v2M676 1003v2M676 1006v1M676 1024v2M677 949v1M677 952v2M677 960v1M677 1005v3M677 1017v1M677 1021v1M678 946v1M678 949v3M678 955v1M678 959v1M678 961v1M678 1012v2M679 955v1M679 968v1M679 974v2M679 1016v1M679 1021v1M680 946v1M680 949v1M680 953v1M680 955v1M680 1019v1M681 955v1M681 1015v1M682 953v2M682 962v1M682 977v1M682 985v3M682 1012v1M683 952v1M683 956v1M683 958v2M683 965v1M683 981v2M683 984v1M683 986v3M683 992v1M683 995v1M683 999v3M683 1003v1M683 1009v1M684 974v2M684 979v4M684 999v2M685 1000v2M685 1003v2M690 980v3M690 1005v1M690 1012v1M691 966v1M691 969v1M691 972v1M691 998v2M691 1002v3M692 968v1M692 970v1M692 974v1M692 977v1M692 982v1M692 996v1M692 1008v2M692 1011v1M693 967v1M693 970v2M693 979v1M693 999v2M693 1004v1M693 1011v1M694 989v4M694 1007v1M695 976v4M695 996v3M695 1013v3M695 1018v2M696 980v1M696 984v1M696 991v2M696 994v2M696 1000v1M696 1009v1M697 973v1M697 984v1M697 986v3M697 990v2M697 995v1M698 912v1M698 976v1M698 992v1M698 997v2M698 1003v2M699 975v1M699 987v1M699 1003v2M699 1019v1"/>
<path stroke="#6868f0" d="M326 961v1M330 969v1M333 963v1M339 965v1M342 950v1M342 959v3M343 960v1M344 947v1M344 949v1M345 954v1M346 936v1M347 940v2M347 972v1M347 976v1M348 933v1M348 940v1M348 970v1M348 975v1M349 948v1M351 954v1M355 974v2M358 983v2M359 975v1M360 980v1M369 985v1M371 972v1M371 980v1M372 987v1M374 973v1M375 981v1M376 979v1M377 987v1M378 980v2M379 984v1M381 982v1M386 985v1M388 986v1M395 987v1M396 985v1M397 981v1M398 980v1M399 981v1M399 990v1M401 983v1M401 991v1M402 986v1M411 962v1M411 965v1M411 982v1M412 949v1M413 961v1M413 969v1M414 958v1M414 966v1M414 968v1M414 990v1M415 975v2M418 976v1M418 980v2M418 984v1M419 976v1M420 969v1M420 974v1M421 960v1M421 970v1M422 961v1M423 967v2M423 976v1M423 984v1M423 988v1M424 956v1M424 987v1M424 989v1M424 991v1M425 960v1M426 954v1M426 965v3M426 979v2M427 977v1M427 982v1M428 958v1M429 979v1M429 981v1M431 990v1M432 969v2M432 979v1M433 989v1M434 982v1M434 991v1M435 973v1M435 992v1M437 970v1M619 996v3M619 1004v1M620 1003v1M620 1005v4M620 1010v1M621 974v1M621 976v1M621 1008v1M621 1016v1M622 957v3M622 976v2M622 982v1M622 1009v1M622 1013v2M623 964v1M623 967v2M623 971v2M623 976v2M623 989v1M623 992v1M623 1000v1M623 1010v2M624 954v1M624 957v3M624 985v4M624 995v1M624 999v5M625 959v2M625 991v1M625 997v1M625 999v1M625 1001v1M625 1014v1M626 945v6M626 956v1M627 944v1M627 951v3M627 955v1M627 957v1M627 959v1M628 943v1M628 945v1M628 957v3M628 1016v1M629 943v3M629 951v1M629 957v2M629 969v2M629 1017v1M630 948v1M630 959v1M631 929v1M631 971v4M631 979v1M631 981v1M632 924v1M632 936v1M632 945v1M632 976v2M632 983v2M632 1017v1M633 948v2M633 979v3M633 1021v1M634 930v2M634 960v2M634 986v1M634 990v3M635 935v1M635 996v2M635 999v1M635 1020v1M636 933v3M636 937v1M636 940v1M636 952v1M636 954v1M636 965v1M636 971v2M636 985v1M636 1006v3M636 1011v1M637 939v2M637 1008v1M637 1010v1M662 1022v1M663 950v2M663 954v2M663 960v1M663 962v2M663 973v1M663 977v2M663 980v1M663 985v2M663 996v1M663 999v1M663 1005v1M663 1008v2M663 1015v4M663 1025v1M664 947v1M664 1025v1M665 950v1M665 953v3M666 948v1M666 963v1M667 946v3M667 951v1M667 959v3M667 968v3M668 933v2M668 945v2M668 948v1M669 952v2M669 958v1M669 1012v6M669 1024v1M669 1026v1M670 938v2M670 949v1M670 957v2M670 962v3M670 1020v4M670 1028v1M671 945v3M671 950v1M671 957v1M671 966v1M671 969v1M671 971v1M671 976v1M671 1029v1M672 949v1M672 976v4M673 935v1M673 941v1M673 943v1M673 948v1M673 952v1M673 992v3M674 936v1M674 994v1M674 999v2M674 1026v1M675 946v2M675 997v1M675 1002v1M675 1012v2M676 945v1M676 947v3M676 953v1M676 1000v3M676 1005v1M676 1009v1M676 1015v1M676 1021v3M677 944v5M677 950v2M677 958v2M677 1008v5M677 1022v3M678 958v1M678 1005v1M678 1009v3M678 1014v2M678 1017v2M679 949v1M679 953v2M680 945v1M680 950v3M681 932v2M681 935v1M681 944v1M681 956v2M682 950v1M682 955v3M682 983v2M682 1013v3M683 949v1M683 953v1M683 960v2M683 964v1M683 983v1M683 985v1M683 993v2M683 996v1M683 998v1M683 1004v1M684 949v2M684 960v1M684 973v1M684 983v2M684 993v3M684 1001v1M685 942v1M685 989v1M685 999v1M685 1002v1M689 952v2M690 967v3M690 975v1M690 977v1M690 983v3M691 965v1M691 967v1M691 974v1M692 945v1M692 964v1M692 967v1M692 971v3M692 975v1M692 1000v1M692 1012v1M693 966v1M693 976v1M693 978v1M693 981v1M693 1007v1M694 966v2M694 974v1M694 985v4M694 1005v2M695 966v1M695 973v3M695 980v5M695 999v1M695 1001v1M696 973v3M696 979v1M696 981v1M696 983v1M696 1006v3M697 972v1M697 979v1M697 983v1M697 985v1M697 989v1M697 992v3M698 911v1M698 913v1M698 974v2M698 977v2M698 983v1M698 993v1M698 996v1M699 974v1M699 976v3M699 985v2M699 992v1M699 996v1"/>
<path stroke="#5757f3" d="M331 960v1M331 967v1M332 966v3M333 960v1M333 962v1M333 964v2M337 966v1M337 969v1M337 973v1M340 956v1M340 962v1M341 944v1M344 971v1M346 935v1M346 969v1M347 929v1M347 934v1M347 936v4M348 934v1M348 939v1M348 941v1M348 943v1M348 945v1M348 974v1M350 948v1M350 973v1M354 971v1M360 975v2M365 973v1M369 984v1M370 980v1M371 974v1M371 983v1M373 978v2M374 972v1M374 974v1M374 977v2M375 974v1M375 988v1M376 978v1M376 980v1M376 987v1M377 973v1M377 989v1M378 979v1M378 982v1M381 989v1M386 988v1M396 980v1M398 977v1M401 981v1M401 990v1M401 992v1M404 987v2M411 957v1M411 961v1M411 966v2M412 950v1M412 968v1M412 974v1M412 976v1M412 986v1M413 948v1M413 967v2M413 970v1M414 975v2M414 979v1M415 985v1M418 974v1M419 970v1M419 975v1M419 982v1M420 970v1M420 972v1M420 975v3M421 958v1M421 968v1M421 974v3M421 984v2M422 966v1M422 969v1M423 975v1M424 959v1M424 990v1M424 992v1M425 952v2M425 959v1M425 973v1M426 964v1M426 972v1M427 949v1M427 962v1M427 978v1M427 983v1M428 959v1M430 978v1M431 979v1M431 988v1M432 971v2M432 984v1M433 966v1M434 989v1M435 976v1M437 971v1M439 995v1M618 985v2M620 964v2M620 991v6M620 1001v2M620 1004v1M620 1011v3M621 948v1M621 970v4M621 977v1M621 981v3M621 996v2M621 1007v1M621 1009v1M621 1014v2M622 955v2M622 960v3M622 972v4M622 983v2M622 986v2M622 992v4M622 1007v2M622 1010v3M622 1015v1M623 957v4M623 965v2M623 969v2M623 978v7M623 993v7M623 1005v2M623 1012v1M624 951v3M624 989v3M624 993v2M624 1015v1M625 1000v1M626 1014v1M627 942v2M627 946v3M627 954v1M627 958v1M628 941v2M628 950v1M628 956v1M628 1018v1M629 939v1M629 942v1M629 946v1M629 948v3M630 929v2M630 935v1M630 937v5M630 945v3M630 960v2M630 1004v1M631 975v1M631 980v1M631 1018v1M632 925v1M632 933v3M632 942v1M632 978v2M632 982v1M633 922v1M633 925v3M633 1020v1M634 929v1M634 987v3M634 1018v1M635 931v4M635 998v1M635 1018v2M636 925v3M636 930v3M636 936v1M636 953v1M636 973v2M636 980v2M636 984v1M636 1005v1M636 1012v1M637 938v1M637 941v1M637 943v2M637 965v5M637 972v3M637 996v1M637 1013v2M662 970v2M662 975v1M662 979v3M662 991v2M662 1020v2M663 946v4M663 956v1M663 959v1M663 979v1M663 997v2M664 940v2M664 946v1M665 947v3M665 1025v1M666 939v1M666 949v1M666 954v1M666 959v1M666 964v1M667 945v1M667 949v2M668 932v1M668 935v1M668 939v1M668 947v1M668 1027v1M669 949v3M669 955v3M670 937v1M670 940v1M671 948v2M671 967v2M671 972v3M672 942v2M672 945v4M672 1027v1M673 933v2M673 937v2M673 940v1M673 944v1M673 947v1M674 933v3M674 990v1M675 938v4M675 945v1M675 998v1M675 1001v1M676 950v1M676 952v1M676 1010v5M677 936v1M677 1016v1M678 945v1M678 956v2M678 1006v3M678 1016v1M678 1019v3M678 1024v1M679 945v1M679 947v2M679 950v1M679 952v1M680 942v3M680 1020v1M681 934v1M681 936v3M681 945v4M681 1020v1M682 1016v4M683 912v1M683 954v2M683 962v2M683 997v1M683 1010v2M684 940v1M684 951v2M684 959v1M684 961v1M684 964v3M684 971v2M684 998v1M684 1002v1M684 1007v1M685 940v2M685 990v1M685 998v1M686 1008v2M689 918v1M689 954v3M689 993v1M689 1005v1M690 965v2M690 970v5M690 976v1M690 978v2M690 986v1M690 1004v1M691 933v2M691 968v1M691 973v1M692 933v1M692 944v1M692 946v1M692 952v3M692 963v1M692 965v2M692 1004v4M692 1013v3M693 949v4M693 965v1M693 977v1M693 984v1M693 1005v2M694 910v1M694 914v2M694 921v1M694 965v1M694 968v1M695 959v3M695 965v1M695 967v1M695 972v1M695 992v1M695 994v1M695 1000v1M696 972v1M696 976v3M696 982v1M697 971v1M697 980v1M697 982v1M698 973v1M698 979v4M698 994v2M699 973v1M699 979v1M699 993v1M699 995v1"/>
<path stroke="#4747f5" d="M327 963v1M328 965v1M330 962v1M330 967v1M331 966v1M332 959v1M332 965v1M332 969v1M333 961v1M337 967v2M338 965v1M338 971v2M339 946v1M339 966v2M340 947v1M340 963v1M340 968v1M341 943v1M342 942v1M344 950v2M344 972v1M346 968v1M346 973v1M347 928v1M347 930v1M347 935v1M347 947v1M348 938v1M348 942v1M348 978v1M349 946v1M349 970v2M349 976v1M350 947v1M350 974v2M351 955v1M351 969v1M351 971v1M352 969v1M352 971v1M354 978v1M354 982v1M355 972v2M356 971v1M356 980v1M357 981v1M358 982v1M359 977v1M359 981v1M361 979v1M361 981v1M366 982v2M368 981v2M372 983v1M373 991v1M374 975v2M374 979v1M375 970v1M378 974v1M379 978v2M379 982v1M381 988v1M386 984v1M386 986v1M389 991v1M395 984v1M396 979v1M396 984v1M396 986v1M398 984v1M399 991v1M401 989v1M405 990v1M408 940v1M410 952v1M410 958v1M412 966v2M412 969v1M413 955v1M413 960v1M414 977v2M415 967v1M415 974v1M418 972v2M419 969v1M419 985v1M420 971v1M421 971v1M421 973v1M421 977v1M422 950v1M422 960v1M423 969v1M423 977v1M423 979v1M423 985v1M424 955v1M425 945v1M425 954v1M425 961v1M425 965v2M425 970v3M426 950v1M426 955v1M426 968v1M426 978v1M426 981v1M427 970v1M427 989v1M429 963v1M429 965v1M429 972v1M430 974v1M431 980v1M432 973v1M433 967v1M433 970v1M433 983v1M433 986v1M433 993v1M434 986v1M435 972v1M436 976v1M437 984v1M438 968v1M438 970v2M438 978v2M438 994v1M439 994v1M618 965v2M618 995v1M618 1003v2M619 958v2M619 976v1M619 986v2M619 995v1M619 1005v1M620 963v1M620 990v1M620 1000v1M620 1014v1M621 947v1M621 949v1M621 969v1M621 978v3M621 984v1M621 998v2M621 1001v6M621 1017v1M622 953v2M622 963v2M622 971v1M622 985v1M622 988v1M622 990v2M622 1002v2M622 1006v1M623 954v3M623 1013v3M624 946v5M624 992v1M625 941v2M625 947v5M625 955v1M627 928v2M627 939v3M627 945v1M627 949v2M628 940v1M628 946v1M629 934v2M629 937v2M629 940v2M629 947v1M630 924v1M630 928v1M630 931v1M630 936v1M630 1018v1M631 925v2M631 928v1M632 923v1M632 926v1M632 930v3M632 943v2M632 980v2M633 914v1M633 921v1M633 923v2M633 1018v2M634 925v4M634 985v1M635 926v2M635 930v1M635 1013v1M635 1016v2M636 928v2M636 975v1M636 977v3M636 982v2M637 937v1M637 942v1M637 963v2M637 970v2M637 975v1M637 995v1M637 997v1M637 999v3M637 1007v1M637 1011v2M662 939v1M662 972v3M662 976v3M662 982v1M662 990v1M662 1016v4M663 945v1M663 957v2M663 1027v1M664 936v2M664 939v1M664 942v1M664 945v1M665 946v1M665 1026v1M666 938v1M666 940v4M666 947v1M666 950v4M666 1026v1M667 944v1M668 931v1M668 938v1M668 940v1M668 943v2M669 931v2M669 948v1M670 936v1M670 947v2M671 943v2M671 975v1M672 938v4M672 944v1M673 932v1M673 936v1M673 939v1M673 945v2M674 928v3M674 993v1M675 937v1M675 942v3M675 999v2M675 1026v1M676 943v2M676 951v1M677 935v1M677 937v1M677 943v1M677 1013v1M677 1015v1M677 1025v1M678 1022v2M678 1025v1M679 944v1M679 946v1M679 951v1M680 940v2M680 1021v1M681 926v1M681 939v1M681 943v1M683 913v1M684 953v2M684 956v1M684 962v1M684 967v4M684 997v1M684 1003v2M684 1006v1M684 1008v1M685 949v2M685 976v1M685 988v1M685 991v1M685 996v2M685 1005v2M686 947v1M686 1005v3M689 917v1M689 919v1M689 923v1M689 951v1M689 957v1M689 977v4M689 990v3M689 994v1M689 999v2M690 923v3M690 932v3M690 963v2M690 987v3M690 994v2M690 998v6M691 924v1M691 935v1M692 928v2M692 932v1M692 934v1M692 943v1M692 947v1M692 951v1M692 956v3M692 962v1M692 1003v1M693 932v3M693 936v1M693 948v1M693 953v1M693 962v1M693 982v1M694 911v3M694 920v1M694 922v1M694 949v2M694 958v2M694 964v1M695 909v1M695 921v3M695 954v2M695 958v1M695 962v3M695 968v1M695 971v1M695 993v1M696 956v1M696 963v1M696 970v2M697 955v1M697 965v3M697 970v1M697 981v1M698 914v1M698 972v1M699 980v1M699 994v1"/>
<path stroke="#3636f7" d="M326 962v1M328 963v2M328 966v1M328 968v1M329 968v1M331 968v1M331 972v1M338 970v1M338 973v2M339 947v1M340 950v1M340 973v1M341 942v1M342 949v1M342 951v1M343 947v4M343 956v1M344 952v1M346 930v2M346 934v1M346 972v1M346 974v1M347 933v1M347 942v1M348 937v1M349 936v1M349 968v2M349 972v1M350 933v1M350 952v1M350 970v1M350 976v1M350 979v2M351 947v3M352 970v1M355 970v2M356 972v1M357 982v1M361 980v1M366 974v1M366 978v1M367 974v1M368 983v1M370 972v1M370 981v1M371 988v1M372 977v1M373 980v1M374 971v1M375 983v1M376 968v1M376 973v2M377 974v3M377 986v1M377 990v1M378 975v1M378 983v1M378 988v1M379 985v1M380 984v1M386 987v1M397 978v1M399 980v1M401 984v1M401 988v1M402 980v1M402 989v1M404 986v1M405 931v1M406 934v2M406 941v1M406 991v1M408 945v1M410 980v3M411 946v1M411 948v1M411 979v1M412 951v1M412 970v2M412 979v1M412 985v1M413 971v1M414 967v1M414 970v1M414 981v1M415 966v1M415 984v1M415 986v1M418 964v1M418 985v1M418 990v1M419 977v1M420 954v1M420 968v1M421 957v1M421 972v1M421 978v1M421 983v1M422 949v1M422 965v1M423 966v1M423 970v1M423 978v1M424 986v1M425 958v1M425 967v1M425 969v1M425 974v1M426 971v1M426 982v1M426 987v2M427 952v1M427 961v1M427 969v1M428 957v1M428 966v2M428 971v1M428 985v1M428 990v1M429 971v1M429 982v1M429 987v2M432 968v1M432 991v1M433 968v2M434 979v1M434 985v1M434 992v1M435 969v1M436 972v1M436 975v1M436 984v1M437 969v1M437 974v1M437 987v1M438 969v1M438 972v4M618 967v1M618 972v2M618 982v3M618 987v1M618 994v1M618 996v7M618 1006v2M619 943v2M619 957v1M619 960v1M619 967v1M619 977v4M619 985v1M619 988v2M619 993v2M619 1006v1M619 1009v3M620 937v2M620 962v1M620 966v1M620 983v1M620 985v1M620 989v1M620 997v3M620 1015v1M621 934v2M621 937v2M621 950v3M621 955v1M621 958v4M621 968v1M621 995v1M621 1000v1M621 1010v1M621 1012v2M622 947v2M622 952v1M622 965v2M622 969v2M622 989v1M622 996v2M622 1001v1M622 1004v2M622 1016v1M623 950v4M624 945v1M625 940v1M625 943v2M625 946v1M625 952v3M625 1015v1M626 944v1M627 927v1M627 930v1M627 938v1M627 1016v1M628 932v2M628 936v4M628 947v3M628 1019v1M629 933v1M629 936v1M629 1018v1M630 922v1M630 925v3M630 932v1M630 934v1M631 923v2M631 927v1M631 1019v1M632 922v1M632 929v1M632 1018v1M633 913v1M633 920v1M635 921v1M635 925v1M635 928v2M635 1014v2M636 976v1M637 936v1M637 945v6M637 962v1M637 986v3M637 994v1M637 998v1M637 1002v3M637 1006v1M637 1015v1M662 938v1M662 940v5M662 955v4M662 964v2M662 968v2M662 983v2M662 988v2M662 993v1M662 996v2M662 1003v3M662 1015v1M663 937v3M663 1026v1M664 938v1M664 943v2M665 945v1M666 944v1M666 946v1M667 939v2M667 943v1M668 941v2M669 930v1M669 933v3M669 942v3M669 1027v1M670 941v1M670 944v1M670 946v1M671 941v2M671 1030v1M672 933v3M672 937v1M672 1028v1M673 931v1M673 1027v1M674 927v1M674 931v2M674 991v2M675 928v3M675 936v1M676 932v2M676 935v1M676 939v4M676 1026v1M677 938v5M677 1014v1M678 942v1M679 942v2M679 1022v1M680 939v1M681 927v1M681 1021v1M681 1024v1M682 949v1M683 914v1M683 948v1M684 948v1M684 955v1M684 957v2M684 963v1M684 996v1M684 1005v1M684 1009v1M685 951v2M685 975v1M685 977v1M685 981v3M685 1007v2M686 948v1M686 952v2M686 980v5M689 922v1M689 934v1M689 963v2M689 974v1M689 976v1M689 981v1M689 989v1M689 995v1M689 998v1M689 1001v1M689 1004v1M690 926v2M690 935v1M690 990v4M690 996v2M691 923v1M691 925v1M691 932v1M691 942v1M691 947v2M692 927v1M692 930v2M692 935v1M692 940v3M692 950v1M692 955v1M692 1001v2M693 935v1M693 937v1M693 947v1M693 954v1M693 957v1M693 961v1M693 963v2M693 983v1M694 916v1M694 919v1M694 923v2M694 948v1M694 951v1M694 956v2M694 960v4M694 969v1M694 973v1M695 908v1M695 910v1M695 916v5M695 929v3M695 946v1M695 951v3M695 956v2M695 969v2M696 931v1M696 949v2M696 957v1M696 962v1M696 964v6M697 910v3M697 947v1M697 951v4M697 956v1M697 961v4M697 968v2M698 906v2M698 910v1M698 915v1M698 919v1M698 937v1M698 962v2M698 971v1M699 964v5M699 972v1M699 981v1M699 984v1"/>
<path stroke="#2525fa" d="M327 962v1M327 964v1M328 962v1M328 967v1M329 967v1M329 969v3M331 961v1M333 966v1M337 974v1M338 966v3M339 950v1M341 955v3M342 943v1M342 958v1M343 943v4M343 951v1M344 942v1M345 970v6M346 932v2M346 975v2M347 927v1M347 931v1M347 943v1M348 927v5M348 946v1M348 971v1M348 973v1M348 976v1M349 929v2M349 942v4M349 973v3M350 945v2M350 953v1M350 968v2M350 977v1M351 946v1M352 980v1M353 973v1M354 970v1M355 976v1M355 983v1M356 973v1M358 978v1M359 978v2M360 979v1M366 984v1M367 973v1M367 982v1M368 975v1M368 980v1M368 984v1M369 983v1M370 966v1M370 973v1M370 979v1M370 986v1M372 978v1M372 982v1M373 977v1M373 990v1M374 980v1M376 969v4M376 975v1M376 977v1M376 981v1M376 983v4M377 977v1M377 979v7M378 969v5M378 976v3M378 984v4M378 989v2M379 972v4M379 980v1M379 986v6M380 985v2M380 992v1M381 983v1M382 988v1M387 988v1M396 981v1M396 987v1M397 982v1M397 985v1M398 981v1M398 983v1M398 990v1M402 991v1M403 986v2M404 989v1M405 991v1M406 990v1M407 935v3M407 951v1M408 935v1M410 963v1M410 973v5M410 979v1M411 947v1M411 956v1M411 975v4M411 983v3M412 955v2M412 958v1M412 972v2M412 977v2M412 980v5M413 952v1M413 972v2M413 979v2M413 982v2M413 986v2M414 974v1M415 968v1M415 973v1M418 961v1M418 971v1M419 964v1M419 974v1M420 978v1M420 991v1M421 950v1M421 956v1M421 979v1M421 990v1M422 951v1M422 962v1M422 970v2M422 983v2M423 955v3M423 963v3M423 971v1M423 974v1M423 986v2M424 950v1M424 954v1M424 964v3M424 973v1M424 980v1M425 946v1M425 955v3M425 964v1M425 968v1M426 973v1M426 986v1M426 989v1M426 991v1M427 963v1M427 965v4M428 965v1M428 968v1M428 991v1M429 967v2M429 970v1M429 973v1M429 989v1M431 970v5M431 987v1M432 967v1M432 974v5M432 989v2M433 971v8M433 991v2M434 968v1M434 972v6M434 995v1M435 970v2M435 977v1M435 979v1M436 977v1M436 983v1M436 990v1M437 972v2M439 993v1M618 941v1M618 968v1M618 971v1M618 974v1M618 981v1M618 988v3M618 992v2M618 1005v1M618 1008v1M619 942v1M619 945v1M619 956v1M619 961v1M619 965v2M619 968v3M619 973v3M619 981v1M619 990v1M619 992v1M619 1007v2M619 1012v1M620 936v1M620 939v2M620 955v4M620 960v2M620 967v1M620 969v3M620 974v4M620 982v1M620 984v1M620 986v3M620 1016v2M621 933v1M621 936v1M621 939v1M621 953v2M621 957v1M621 962v1M621 965v1M621 990v2M621 994v1M621 1011v1M621 1018v1M622 934v1M622 941v4M622 946v1M622 951v1M622 967v2M623 945v1M623 949v1M623 1016v1M624 1016v1M625 945v1M626 921v2M627 919v3M627 931v5M627 937v1M628 931v1M628 934v2M629 924v1M630 921v1M630 933v1M630 1019v1M631 1020v1M632 919v3M632 927v2M633 912v1M633 915v1M633 919v1M634 914v1M635 920v1M635 922v3M637 915v1M637 951v7M637 980v3M637 985v1M637 989v5M637 1005v1M662 937v1M662 948v2M662 954v1M662 959v1M662 966v2M662 985v3M662 994v2M662 998v5M662 1006v1M662 1011v4M663 936v1M663 940v2M663 944v1M664 935v1M665 936v2M665 943v2M666 931v1M666 937v1M666 945v1M666 1027v1M667 924v1M667 933v6M667 941v2M668 922v3M668 930v1M668 936v2M669 926v4M669 938v2M669 945v1M669 947v1M670 932v4M670 945v1M670 1029v1M671 938v3M672 932v1M672 936v1M672 1029v1M673 930v1M674 1027v1M675 927v1M675 931v2M676 929v3M676 934v1M676 937v2M677 933v2M677 1026v1M678 936v2M678 941v1M678 943v2M678 1026v1M678 1031v1M679 941v1M680 931v3M680 938v1M681 931v1M681 940v1M681 942v1M681 1022v2M682 937v1M683 1012v1M684 1010v3M685 948v1M685 953v3M685 967v3M685 974v1M685 980v1M685 987v1M685 992v1M685 995v1M686 949v3M686 954v2M686 958v3M686 979v1M686 985v1M689 920v2M689 924v1M689 929v5M689 935v1M689 945v2M689 958v1M689 962v1M689 966v1M689 973v1M689 975v1M689 982v1M689 988v1M689 996v2M689 1002v2M690 928v4M690 956v1M690 962v1M691 926v4M691 936v1M691 941v1M691 943v1M691 946v1M691 949v1M691 955v1M691 964v1M692 925v2M692 939v1M692 948v2M692 959v3M693 920v2M693 931v1M693 938v1M693 955v2M694 917v2M694 925v1M694 940v3M694 952v1M695 907v1M695 924v1M695 928v1M695 945v1M695 947v1M695 950v1M696 925v2M696 930v1M696 932v1M696 947v2M696 951v2M696 955v1M696 958v1M696 961v1M697 909v1M697 913v1M697 925v2M697 946v1M697 948v3M697 957v1M698 904v2M698 908v1M698 918v1M698 936v1M698 938v1M698 950v5M698 956v6M698 964v7M699 909v1M699 913v2M699 916v4M699 955v5M699 963v1M699 969v1M699 971v1M699 982v2"/>
<path stroke="#1515fc" d="M326 963v2M327 965v1M327 968v1M329 966v1M332 960v3M338 969v1M338 975v3M339 948v2M339 968v3M340 951v1M340 969v3M341 946v1M341 952v3M341 958v1M342 955v3M343 952v1M344 943v1M344 953v1M345 942v3M345 947v2M346 970v2M347 932v1M347 944v2M347 967v5M348 932v1M348 935v2M348 972v1M348 977v1M349 931v5M349 939v3M349 949v1M350 935v2M350 942v3M350 949v1M350 951v1M350 978v1M351 972v3M352 972v4M352 981v1M353 974v5M354 969v1M354 979v3M355 977v6M356 974v6M356 981v4M357 973v8M357 983v2M358 977v1M358 979v3M359 974v1M359 980v1M360 977v2M366 972v2M366 980v2M367 968v1M367 972v1M367 975v5M367 981v1M367 983v2M368 974v1M368 976v4M368 985v1M369 978v5M370 982v4M370 987v2M371 967v1M371 971v1M371 975v1M371 984v1M371 986v2M372 981v1M372 989v2M373 989v1M374 981v1M374 984v2M374 988v1M374 992v1M375 969v1M375 971v3M375 982v1M375 991v1M376 976v1M376 982v1M377 978v1M379 976v2M379 981v1M380 975v9M380 987v5M381 984v4M382 986v2M388 987v1M388 991v1M394 978v1M396 978v1M396 983v1M397 977v1M398 985v1M398 987v3M399 978v2M400 978v7M400 986v5M401 986v2M402 981v5M402 990v1M403 982v4M403 988v4M404 985v1M404 990v2M405 987v3M406 942v1M406 944v1M407 942v1M408 936v1M408 938v1M408 942v1M409 944v1M409 948v1M410 947v1M410 951v1M410 969v2M410 972v1M411 950v1M411 972v3M412 943v1M412 954v1M413 949v1M413 974v5M413 981v1M413 984v2M414 971v3M414 982v8M415 969v3M415 977v7M415 988v3M418 960v1M418 962v2M418 966v2M418 969v2M418 986v2M418 989v1M419 956v3M419 963v1M419 965v1M419 971v3M419 978v4M420 955v4M420 961v1M420 964v1M420 979v3M420 983v1M420 990v1M421 951v1M421 953v3M421 961v5M421 980v3M422 952v8M422 963v2M422 979v4M422 985v1M423 950v2M423 954v1M423 958v5M423 972v2M424 945v1M424 951v1M424 953v1M424 960v4M424 967v6M424 974v6M424 981v5M425 951v1M425 962v2M425 975v3M425 979v11M426 956v1M426 959v5M426 969v2M426 974v4M426 983v3M426 990v1M427 959v2M427 964v1M428 960v5M428 969v2M428 982v3M429 959v2M429 962v1M429 974v2M429 983v2M429 986v1M430 975v3M431 975v4M431 981v6M432 985v4M433 979v4M433 987v2M434 969v3M434 983v2M434 987v2M434 993v2M435 978v1M435 980v4M435 993v3M436 973v2M436 978v4M436 989v1M436 992v3M437 975v8M437 995v1M438 976v2M438 980v1M438 982v4M438 993v1M439 983v6M618 939v2M618 942v1M618 953v2M618 957v2M618 964v1M618 975v2M618 979v2M618 991v1M618 1009v1M618 1012v1M619 933v1M619 938v4M619 946v1M619 962v3M619 971v2M619 984v1M619 991v1M619 1013v1M620 935v1M620 941v3M620 950v5M620 959v1M620 968v1M620 972v2M620 978v4M621 930v1M621 932v1M621 940v1M621 946v1M621 956v1M621 963v2M621 966v2M621 985v1M621 989v1M621 992v2M622 933v1M622 935v6M622 945v1M622 949v2M622 998v1M622 1000v1M622 1017v1M623 936v1M623 941v4M623 946v3M624 1017v1M625 939v1M626 923v2M626 939v5M626 1015v1M627 918v1M627 922v2M627 926v1M627 936v1M627 1017v2M628 930v1M629 929v1M629 932v1M630 918v3M630 1020v2M631 913v1M631 915v8M632 917v2M633 909v1M633 911v1M633 916v3M634 913v1M634 915v4M634 920v5M635 916v1M635 919v1M636 924v1M636 1013v1M637 912v3M637 916v2M637 958v1M637 961v1M637 976v1M637 979v1M662 932v2M662 936v1M662 950v1M662 952v2M662 963v1M662 1007v1M662 1010v1M663 930v2M663 942v2M664 928v2M665 935v1M665 941v2M666 932v1M666 936v1M668 921v1M668 925v5M669 925v1M669 936v2M669 940v2M669 946v1M669 1028v2M670 930v2M670 942v2M671 937v1M672 922v1M672 930v2M673 926v4M674 921v2M674 926v1M675 933v3M676 927v2M676 936v1M677 925v1M677 932v1M677 1027v1M678 938v1M679 1023v2M680 930v1M680 934v2M680 937v1M681 941v1M682 933v1M682 936v1M682 938v1M682 948v1M685 947v1M685 965v2M685 970v2M685 978v2M685 984v1M685 994v1M685 1009v1M686 956v2M686 961v3M686 986v1M686 989v3M686 994v3M686 1000v3M689 916v1M689 928v1M689 947v1M689 950v1M689 959v1M689 965v1M689 967v1M689 972v1M690 914v2M690 922v1M690 939v1M690 953v1M690 957v2M690 961v1M691 930v2M691 939v2M691 944v1M691 950v1M691 954v1M691 956v2M691 963v1M692 917v2M692 938v1M693 914v1M693 946v1M693 958v3M694 926v1M694 934v1M694 938v2M694 943v1M694 947v1M694 953v3M694 970v3M695 911v1M695 914v2M695 932v1M695 949v1M696 918v1M696 927v3M696 933v3M696 946v1M696 953v2M696 960v1M697 907v2M697 927v1M697 958v3M698 909v1M698 916v2M698 920v1M698 939v1M698 955v1M699 908v1M699 910v1M699 912v1M699 915v1M699 924v8M699 934v1M699 954v1M699 960v3M699 970v1"/>
<path stroke="#0404fe" d="M327 960v2M328 959v3M329 959v7M330 963v4M331 962v4M331 969v3M332 963v2M333 967v3M334 965v4M339 971v4M340 945v2M340 952v1M340 972v1M341 947v5M342 944v5M342 952v3M343 953v1M343 955v1M344 944v3M345 945v2M347 946v1M348 947v2M349 938v1M349 955v2M350 937v5M350 950v1M350 954v2M351 975v8M352 976v4M352 982v1M353 979v2M366 979v1M367 969v3M367 985v1M368 967v7M368 986v3M369 964v14M370 967v5M370 974v5M371 968v3M371 976v4M371 985v1M372 971v6M372 979v2M372 988v1M373 970v7M373 981v8M374 982v2M374 986v2M374 989v3M375 989v2M375 992v1M385 984v2M387 986v2M387 992v1M388 988v3M389 992v1M394 979v3M395 979v5M396 982v1M397 983v2M398 982v1M398 986v1M404 992v1M405 992v2M410 940v4M411 939v1M411 941v3M412 940v1M412 942v1M415 987v1M418 959v1M419 959v4M419 966v3M419 986v3M420 962v2M420 965v3M420 984v6M421 966v2M421 986v4M422 972v7M422 986v1M422 988v5M423 944v1M423 946v4M423 952v2M424 944v1M424 946v4M424 952v1M425 947v4M426 948v2M426 957v2M427 953v6M428 955v2M428 979v3M429 976v2M435 984v5M436 985v4M436 991v1M437 983v1M437 988v7M438 986v7M439 989v4M618 928v3M618 938v1M618 943v1M618 945v1M618 950v3M618 959v1M618 963v1M618 969v2M618 977v2M618 1010v2M618 1013v1M619 937v1M619 947v1M619 955v1M619 982v2M619 1015v1M620 933v2M620 944v1M620 949v1M621 931v1M621 941v5M621 986v1M621 988v1M622 932v1M622 999v1M622 1018v1M623 937v3M624 935v1M624 944v1M624 1018v1M624 1022v1M625 934v1M625 938v1M626 938v1M627 924v1M628 928v2M629 928v1M629 930v2M631 914v1M631 1021v1M634 910v1M634 912v1M634 919v1M635 917v2M636 914v3M636 923v1M637 911v1M637 918v1M637 922v1M637 935v1M637 959v2M637 977v2M637 983v2M637 1016v1M662 930v2M662 934v2M662 945v1M662 947v1M662 951v1M662 960v1M662 962v1M662 1008v2M663 928v2M663 933v1M663 935v1M664 930v1M664 934v1M665 938v3M666 927v1M666 933v3M667 925v1M667 932v1M668 919v2M670 920v2M670 929v1M671 929v2M671 934v3M671 1031v1M672 923v7M672 1030v1M674 917v1M674 920v1M674 923v1M674 925v1M675 922v3M675 926v1M675 1027v1M676 926v1M677 926v6M678 929v1M678 939v2M678 1027v1M678 1030v1M679 940v1M680 929v1M680 936v1M680 1022v1M682 932v1M682 943v2M684 911v2M685 907v2M685 917v2M685 960v3M685 972v2M685 985v2M685 993v1M686 964v1M686 976v3M686 987v2M686 992v1M686 999v1M686 1003v2M689 925v1M689 936v3M689 944v1M689 948v2M689 960v2M689 968v1M689 983v2M689 987v1M690 936v1M690 938v1M690 940v5M690 947v2M690 951v2M690 954v2M690 959v2M691 916v5M691 922v1M691 937v2M691 945v1M691 951v3M691 958v1M691 962v1M692 911v1M692 916v1M692 919v1M692 924v1M692 936v1M693 913v1M693 915v1M693 919v1M693 922v1M693 930v1M693 939v2M693 945v1M694 933v1M694 935v2M694 944v3M695 912v2M695 925v3M695 933v1M695 944v1M695 948v1M696 909v3M696 917v1M696 919v1M696 922v3M696 936v3M696 942v2M696 945v1M696 959v1M697 906v1M697 914v1M697 928v1M697 938v1M697 945v1M698 921v1M698 940v1M698 949v1M699 911v1M699 920v1M699 932v2M699 935v1M699 949v2M699 953v1"/>
<path stroke="#0010f2" d="M348 949v6M349 950v5M387 990v2M389 993v1M618 927v1M618 932v1M618 935v1M618 944v1M618 946v1M618 948v2M618 955v2M618 962v1M618 1014v1M619 934v1M619 936v1M619 948v3M619 954v1M619 1014v1M620 932v1M620 945v4M621 987v1M624 929v1M624 934v1M624 936v2M624 941v3M624 1019v3M625 927v1M625 933v1M625 935v3M626 930v3M626 937v1M627 925v1M628 927v1M629 925v1M629 927v1M631 1022v1M634 911v1M636 908v1M636 912v2M636 917v1M636 922v1M637 910v1M637 919v1M637 921v1M637 923v1M637 929v2M637 934v1M662 946v1M662 961v1M664 931v1M664 933v1M665 934v1M666 928v2M667 926v1M670 925v4M670 1030v1M671 928v1M671 931v1M671 933v1M673 922v2M673 925v1M674 918v2M674 924v1M675 1028v1M676 925v1M677 924v1M678 928v1M678 930v1M678 935v1M678 1028v2M679 936v2M679 1025v1M680 916v1M680 928v1M681 909v2M681 918v1M681 921v3M682 928v1M682 935v1M682 939v1M682 942v1M682 947v1M685 956v2M685 959v1M685 963v2M686 970v5M686 993v1M686 997v2M689 927v1M689 939v1M689 943v1M689 969v3M689 985v2M690 937v1M690 945v2M690 949v2M691 921v1M691 961v1M692 915v1M692 920v4M692 937v1M693 923v7M693 941v1M694 927v1M694 929v4M694 937v1M695 934v1M695 938v1M695 943v1M696 908v1M696 912v3M696 916v1M696 920v2M696 939v3M696 944v1M697 915v1M697 918v1M697 929v1M697 934v4M697 939v1M698 941v1M698 947v2M699 923v1M699 951v2"/>
<path stroke="#0025e1" d="M410 978v1M420 959v1M618 933v2M618 937v1M618 947v1M618 960v2M619 935v1M619 951v3M620 929v3M624 930v2M624 938v3M625 928v1M626 925v3M626 929v1M626 933v3M626 1016v1M628 926v1M629 926v1M635 911v2M635 914v2M636 909v3M636 918v1M637 920v1M637 924v1M637 927v2M637 931v3M664 932v1M665 932v2M667 931v1M669 924v1M670 922v1M670 924v1M671 927v1M671 932v1M672 1031v2M673 924v1M675 925v1M676 924v1M679 929v3M679 935v1M679 938v2M682 927v1M682 929v3M682 946v1M685 958v1M686 965v5M686 975v1M689 926v1M689 940v1M689 942v1M690 916v3M690 921v1M691 959v2M692 912v1M692 914v1M693 942v3M694 928v1M695 935v1M695 937v1M695 939v1M695 942v1M696 907v1M697 917v1M697 922v3M697 930v4M697 940v1M697 943v2M698 922v1M698 924v1M698 928v2M698 935v1M698 942v1M698 946v1M699 921v2M699 941v2M699 948v1"/>
<path stroke="#003acf" d="M618 936v1M623 935v1M624 932v2M625 929v1M625 931v2M626 936v1M628 923v1M628 925v1M635 913v1M636 921v1M637 925v2M663 934v1M665 930v2M667 927v1M669 922v2M670 923v1M671 925v2M678 931v1M678 934v1M679 925v4M679 932v3M682 940v2M682 945v1M689 941v1M690 919v1M692 913v1M693 916v2M695 936v1M695 940v2M696 915v1M697 919v1M698 923v1M698 927v1M698 930v2M698 934v1M698 943v3M699 939v2M699 943v1M699 947v1"/>
<path stroke="#004fbe" d="M415 972v1M618 931v1M623 934v1M625 930v1M628 924v1M636 919v2M665 929v1M667 928v1M667 930v1M678 932v2M690 920v1M697 916v1M697 920v2M697 941v2M698 926v1M698 932v2M699 936v1M699 938v1M699 944v3"/>
<path stroke="#0064ad" d="M667 929v1M698 925v1M699 937v1"/>
<path stroke="#007a9b" d="M343 959v1M345 950v1M409 945v1M429 985v1"/>
<path stroke="#008e89" d="M401 993v1M418 991v1M421 952v1M630 923v1M682 934v1"/>
<path stroke="#00a074" d="M305 950v1M340 957v1M340 964v1M350 934v1M351 950v1M374 970v1M407 943v1M410 955v1M427 948v1M429 969v1M663 932v1"/>
<path stroke="#00b15f" d="M366 971v1M387 989v1M400 985v1M438 981v1M677 923v1"/>
<path stroke="#00c24a" d="M345 949v1M408 933v1M414 954v1M418 968v1M693 918v1"/>
<path stroke="#00d435" d="M327 966v1M346 929v1M369 986v1M389 994v1M418 965v1M429 966v1M436 995v1M626 928v1"/>
<path stroke="#00e520" d="M285 921v1M327 967v1M362 983v2M405 932v1M410 971v1M413 944v1M413 965v1M423 945v1M433 955v1M438 924v1M439 944v1M623 940v1"/>
<path stroke="#00f60b" d="M285 927v1M286 938v1M400 991v1M406 936v1M407 948v1M412 963v1M418 988v1M438 935v1"/>
<path stroke="#15ff00" d="M407 933v1M410 946v1M419 991v1M633 910v1"/>
<path stroke="#3fff00" d="M321 962v1M412 945v1M431 940v1M666 930v1"/>
<path stroke="#92ff00" d="M425 990v1"/>
<path stroke="#ffc000" d="M406 1072v3M407 1072v3M408 1072v3M409 1072v3M410 1072v3M414 1072v3M418 1072v3M419 1072v3M420 1072v3M421 1072v3M431 1072v3"/>
</g>
<rect x="50" y="849" width="651" height="1" fill="#000"/>
<rect x="50" y="1079" width="651" height="1" fill="#000"/>
<rect x="50" y="849" width="1" height="231" fill="#000"/>
<rect x="700" y="849" width="1" height="231" fill="#000"/>
<text x="46.5" y="1083.6" text-anchor="end" font-size="12">0</text>
<rect x="50" y="1060" width="6" height="1" fill="#000"/>
<rect x="695" y="1060" width="6" height="1" fill="#000"/>
<text x="46.5" y="1064.6" text-anchor="end" font-size="12">1</text>
<rect x="50" y="1041" width="6" height="1" fill="#000"/>
<rect x="695" y="1041" width="6" height="1" fill="#000"/>
<text x="46.5" y="1045.6" text-anchor="end" font-size="12">2</text>
<rect x="50" y="1022" width="6" height="1" fill="#000"/>
<rect x="695" y="1022" width="6" height="1" fill="#000"/>
<text x="46.5" y="1026.6" text-anchor="end" font-size="12">3</text>
<rect x="50" y="1003" width="6" height="1" fill="#000"/>
<rect x="695" y="1003" width="6" height="1" fill="#000"/>
<text x="46.5" y="1007.6" text-anchor="end" font-size="12">4</text>
<rect x="50" y="984" width="6" height="1" fill="#000"/>
<rect x="695" y="984" width="6" height="1" fill="#000"/>
<text x="46.5" y="988.6" text-anchor="end" font-size="12">5</text>
<rect x="50" y="964" width="6" height="1" fill="#000"/>
<rect x="695" y="964" width="6" height="1" fill="#000"/>
<text x="46.5" y="968.6" text-anchor="end" font-size="12">6</text>
<rect x="50" y="945" width="6" height="1" fill="#000"/>
<rect x="695" y="945" width="6" height="1" fill="#000"/>
<text x="46.5" y="949.6" text-anchor="end" font-size="12">7</text>
<rect x="50" y="926" width="6" height="1" fill="#000"/>
<rect x="695" y="926" width="6" height="1" fill="#000"/>
<text x="46.5" y="930.6" text-anchor="end" font-size="12">8</text>
<rect x="50" y="907" width="6" height="1" fill="#000"/>
<rect x="695" y="907" width="6" height="1" fill="#000"/>
<text x="46.5" y="911.6" text-anchor="end" font-size="12">9</text>
<rect x="50" y="888" width="6" height="1" fill="#000"/>
<rect x="695" y="888" width="6" height="1" fill="#000"/>
<text x="46.5" y="892.6" text-anchor="end" font-size="12">10</text>
<rect x="50" y="869" width="6" height="1" fill="#000"/>
<rect x="695" y="869" width="6" height="1" fill="#000"/>
<text x="46.5" y="873.6" text-anchor="end" font-size="12">11</text>
<text x="46.5" y="853.6" text-anchor="end" font-size="12">12</text>
<text x="49.6" y="1094" text-anchor="middle" font-size="12">00:00</text>
<rect x="158" y="849" width="1" height="6" fill="#000"/>
<rect x="158" y="1074" width="1" height="6" fill="#000"/>
<text x="157.93" y="1094" text-anchor="middle" font-size="12">04:00</text>
<rect x="266" y="849" width="1" height="6" fill="#000"/>
<rect x="266" y="1074" width="1" height="6" fill="#000"/>
<text x="266.27" y="1094" text-anchor="middle" font-size="12">08:00</text>
<rect x="375" y="849" width="1" height="6" fill="#000"/>
<rect x="375" y="1074" width="1" height="6" fill="#000"/>
<text x="374.6" y="1094" text-anchor="middle" font-size="12">12:00</text>
<rect x="483" y="849" width="1" height="6" fill="#000"/>
<rect x="483" y="1074" width="1" height="6" fill="#000"/>
<text x="482.93" y="1094" text-anchor="middle" font-size="12">16:00</text>
<rect x="591" y="849" width="1" height="6" fill="#000"/>
<rect x="591" y="1074" width="1" height="6" fill="#000"/>
<text x="591.27" y="1094" text-anchor="middle" font-size="12">20:00</text>
<text x="699.6" y="1094" text-anchor="middle" font-size="12">00:00</text>
<text x="374.8" y="1111.6" text-anchor="middle" font-size="12">Time (UTC)</text>
<text x="27" y="965.4" text-anchor="middle" transform="rotate(-90 27 965.4)" font-size="12">Height (km)</text>
<text x="57.3" y="866" text-anchor="start" font-weight="bold" textLength="33.2" lengthAdjust="spacingAndGlyphs" font-size="12">Linear</text>
<text x="96.8" y="866" text-anchor="start" font-weight="bold" textLength="81.2" lengthAdjust="spacingAndGlyphs" font-size="12">depolarisation</text>
<text x="181.8" y="866" text-anchor="start" font-weight="bold" textLength="27.45" lengthAdjust="spacingAndGlyphs" font-size="12">ratio</text>
<rect x="754" y="884" width="17" height="161" fill="#000"/>
<rect x="755" y="885" width="15" height="3" fill="#8a0076"/>
<rect x="755" y="888" width="15" height="3" fill="#9d0063"/>
<rect x="755" y="891" width="15" height="3" fill="#b00050"/>
<rect x="755" y="894" width="15" height="3" fill="#c3003c"/>
<rect x="755" y="897" width="15" height="3" fill="#d60029"/>
<rect x="755" y="900" width="15" height="3" fill="#e90016"/>
<rect x="755" y="903" width="15" height="3" fill="#fd0002"/>
<rect x="755" y="906" width="15" height="3" fill="#ff1000"/>
<rect x="755" y="909" width="15" height="3" fill="#ff2300"/>
<rect x="755" y="912" width="15" height="3" fill="#ff3500"/>
<rect x="755" y="915" width="15" height="3" fill="#ff4800"/>
<rect x="755" y="918" width="15" height="3" fill="#ff5a00"/>
<rect x="755" y="921" width="15" height="3" fill="#ff6d00"/>
<rect x="755" y="924" width="15" height="3" fill="#ff7f00"/>
<rect x="755" y="927" width="15" height="3" fill="#ff9200"/>
<rect x="755" y="930" width="15" height="3" fill="#ffa400"/>
<rect x="755" y="933" width="15" height="3" fill="#ffb700"/>
<rect x="755" y="936" width="15" height="3" fill="#ffc900"/>
<rect x="755" y="939" width="15" height="3" fill="#ffdc00"/>
<rect x="755" y="942" width="15" height="3" fill="#ffee00"/>
<rect x="755" y="945" width="15" height="3" fill="#fbff00"/>
<rect x="755" y="948" width="15" height="3" fill="#d1ff00"/>
<rect x="755" y="951" width="15" height="3" fill="#a7ff00"/>
<rect x="755" y="954" width="15" height="3" fill="#7eff00"/>
<rect x="755" y="957" width="15" height="3" fill="#54ff00"/>
<rect x="755" y="960" width="15" height="3" fill="#2aff00"/>
<rect x="755" y="963" width="15" height="3" fill="#00ff00"/>
<rect x="755" y="966" width="15" height="3" fill="#00ee15"/>
<rect x="755" y="969" width="15" height="3" fill="#00dc2a"/>
<rect x="755" y="972" width="15" height="3" fill="#00cb3f"/>
<rect x="755" y="975" width="15" height="3" fill="#00ba55"/>
<rect x="755" y="978" width="15" height="3" fill="#00a86a"/>
<rect x="755" y="981" width="15" height="3" fill="#00977f"/>
<rect x="755" y="984" width="15" height="3" fill="#008493"/>
<rect x="755" y="987" width="15" height="3" fill="#006fa4"/>
<rect x="755" y="990" width="15" height="3" fill="#005ab5"/>
<rect x="755" y="993" width="15" height="3" fill="#0045c7"/>
<rect x="755" y="996" width="15" height="3" fill="#0030d8"/>
<rect x="755" y="999" width="15" height="3" fill="#001ae9"/>
<rect x="755" y="1002" width="15" height="3" fill="#0005fb"/>
<rect x="755" y="1005" width="15" height="3" fill="#0c0cfd"/>
<rect x="755" y="1008" width="15" height="3" fill="#1d1dfb"/>
<rect x="755" y="1011" width="15" height="3" fill="#2e2ef9"/>
<rect x="755" y="1014" width="15" height="3" fill="#3e3ef6"/>
<rect x="755" y="1017" width="15" height="3" fill="#4f4ff4"/>
<rect x="755" y="1020" width="15" height="3" fill="#5f5ff2"/>
<rect x="755" y="1023" width="15" height="3" fill="#7070ef"/>
<rect x="755" y="1026" width="15" height="3" fill="#8181ed"/>
<rect x="755" y="1029" width="15" height="3" fill="#9191eb"/>
<rect x="755" y="1032" width="15" height="3" fill="#a2a2e8"/>
<rect x="755" y="1035" width="15" height="3" fill="#b2b2e6"/>
<rect x="755" y="1038" width="15" height="3" fill="#c3c3e4"/>
<rect x="755" y="1041" width="15" height="3" fill="#d4d4e1"/>
<text x="750.6" y="888.9" text-anchor="end" font-size="12">0</text>
<text x="750.6" y="915.48" text-anchor="end" textLength="12.07" lengthAdjust="spacingAndGlyphs" font-size="12">-5</text>
<text x="750.6" y="942.07" text-anchor="end" textLength="18.74" lengthAdjust="spacingAndGlyphs" font-size="12">-10</text>
<text x="750.6" y="968.65" text-anchor="end" textLength="18.74" lengthAdjust="spacingAndGlyphs" font-size="12">-15</text>
<text x="750.6" y="995.23" text-anchor="end" textLength="18.74" lengthAdjust="spacingAndGlyphs" font-size="12">-20</text>
<text x="750.6" y="1021.82" text-anchor="end" textLength="18.74" lengthAdjust="spacingAndGlyphs" font-size="12">-25</text>
<text x="750.6" y="1048.4" text-anchor="end" textLength="18.74" lengthAdjust="spacingAndGlyphs" font-size="12">-30</text>
<text x="726.8" y="965.3" text-anchor="middle" transform="rotate(-90 726.8 965.3)" font-size="12">dB</text>
</g>
</svg></body></html>
